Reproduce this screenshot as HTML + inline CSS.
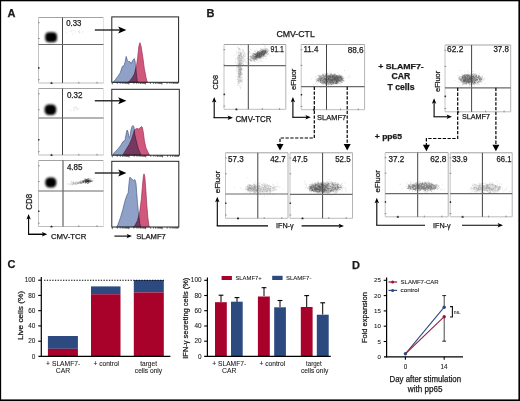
<!DOCTYPE html>
<html><head><meta charset="utf-8"><style>
html,body{margin:0;padding:0;background:#fff;}
svg{display:block;}
text{font-family:"Liberation Sans",sans-serif;fill:#1a1a1a;stroke:#1a1a1a;stroke-width:0.25px;}
</style></head><body>
<svg width="520" height="401" viewBox="0 0 520 401">
<defs>
<filter id="bl0" x="-10%" y="-10%" width="120%" height="120%"><feGaussianBlur stdDeviation="0.45"/></filter>
<filter id="bl1" x="-50%" y="-50%" width="200%" height="200%"><feGaussianBlur stdDeviation="0.8"/></filter>
</defs>
<rect x="0" y="0" width="520" height="401" fill="#fff"/>
<g filter="url(#bl0)">
<path fill="#969696" fill-opacity="0.22" d="M74.5,31.8h1.0v1.0h-1.0zM66.0,32.3h1.0v1.0h-1.0zM77.9,31.6h1.0v1.0h-1.0z"/>
<path fill="#969696" fill-opacity="0.22" d="M74.6,30.5h1.0v1.0h-1.0zM79.0,31.7h1.0v1.0h-1.0zM72.0,33.6h1.0v1.0h-1.0z"/>
<path fill="#969696" fill-opacity="0.22" d="M70.4,30.7h1.0v1.0h-1.0zM65.9,28.4h1.0v1.0h-1.0zM79.3,32.8h1.0v1.0h-1.0z"/>
<path fill="#969696" fill-opacity="0.22" d="M82.7,31.6h1.0v1.0h-1.0zM70.7,30.3h1.0v1.0h-1.0zM72.3,29.9h1.0v1.0h-1.0z"/>
<path fill="#969696" fill-opacity="0.22" d="M82.2,31.4h1.0v1.0h-1.0zM77.8,30.9h1.0v1.0h-1.0z"/>
<path fill="#969696" fill-opacity="0.22" d="M78.4,31.3h1.0v1.0h-1.0zM79.1,30.0h1.0v1.0h-1.0z"/>
<path fill="#a0a0a0" fill-opacity="0.22" d="M74.0,108.6h1.0v1.0h-1.0zM75.4,110.0h1.0v1.0h-1.0zM79.3,108.2h1.0v1.0h-1.0z"/>
<path fill="#a0a0a0" fill-opacity="0.22" d="M76.9,108.5h1.0v1.0h-1.0zM69.0,109.2h1.0v1.0h-1.0zM75.1,106.9h1.0v1.0h-1.0z"/>
<path fill="#a0a0a0" fill-opacity="0.22" d="M73.5,107.6h1.0v1.0h-1.0zM74.5,107.6h1.0v1.0h-1.0zM76.7,107.5h1.0v1.0h-1.0z"/>
<path fill="#a0a0a0" fill-opacity="0.22" d="M73.7,110.2h1.0v1.0h-1.0zM76.5,108.2h1.0v1.0h-1.0zM73.4,107.2h1.0v1.0h-1.0z"/>
<path fill="#a0a0a0" fill-opacity="0.22" d="M72.7,109.2h1.0v1.0h-1.0zM70.8,110.2h1.0v1.0h-1.0z"/>
<path fill="#a0a0a0" fill-opacity="0.22" d="M75.9,106.5h1.0v1.0h-1.0zM77.2,109.3h1.0v1.0h-1.0z"/>
<path fill="#646464" fill-opacity="0.3" d="M75.8,181.9h1.0v1.0h-1.0zM75.4,183.4h1.0v1.0h-1.0zM85.1,181.3h1.0v1.0h-1.0zM82.1,181.9h1.0v1.0h-1.0zM74.0,182.6h1.0v1.0h-1.0zM82.2,181.4h1.0v1.0h-1.0zM78.4,181.6h1.0v1.0h-1.0zM78.6,182.5h1.0v1.0h-1.0zM85.1,179.7h1.0v1.0h-1.0zM85.4,179.4h1.0v1.0h-1.0zM85.4,180.5h1.0v1.0h-1.0zM83.3,180.2h1.0v1.0h-1.0zM76.5,183.7h1.0v1.0h-1.0zM86.1,182.0h1.0v1.0h-1.0zM71.9,183.9h1.0v1.0h-1.0zM77.5,182.9h1.0v1.0h-1.0zM89.0,180.1h1.0v1.0h-1.0zM80.7,182.3h1.0v1.0h-1.0zM75.0,182.9h1.0v1.0h-1.0z"/>
<path fill="#646464" fill-opacity="0.3" d="M86.3,178.7h1.0v1.0h-1.0zM85.7,180.8h1.0v1.0h-1.0zM71.1,182.7h1.0v1.0h-1.0zM81.2,182.5h1.0v1.0h-1.0zM79.7,181.5h1.0v1.0h-1.0zM81.3,182.0h1.0v1.0h-1.0zM80.6,182.4h1.0v1.0h-1.0zM81.8,180.9h1.0v1.0h-1.0zM80.3,182.5h1.0v1.0h-1.0zM83.5,179.7h1.0v1.0h-1.0zM93.3,178.3h1.0v1.0h-1.0zM75.4,181.2h1.0v1.0h-1.0zM85.1,180.6h1.0v1.0h-1.0zM87.3,180.2h1.0v1.0h-1.0zM81.9,180.8h1.0v1.0h-1.0zM71.5,182.2h1.0v1.0h-1.0zM83.2,182.0h1.0v1.0h-1.0zM81.1,180.4h1.0v1.0h-1.0zM69.4,183.9h1.0v1.0h-1.0z"/>
<path fill="#646464" fill-opacity="0.3" d="M73.6,183.0h1.0v1.0h-1.0zM81.7,181.8h1.0v1.0h-1.0zM84.2,179.3h1.0v1.0h-1.0zM77.3,181.8h1.0v1.0h-1.0zM87.0,179.5h1.0v1.0h-1.0zM79.7,182.0h1.0v1.0h-1.0zM79.0,182.2h1.0v1.0h-1.0zM92.0,179.9h1.0v1.0h-1.0zM84.8,182.2h1.0v1.0h-1.0zM81.5,182.5h1.0v1.0h-1.0zM84.8,180.6h1.0v1.0h-1.0zM86.6,181.2h1.0v1.0h-1.0zM71.4,184.5h1.0v1.0h-1.0zM77.1,183.1h1.0v1.0h-1.0zM80.6,182.3h1.0v1.0h-1.0zM71.4,184.2h1.0v1.0h-1.0zM79.4,180.6h1.0v1.0h-1.0zM73.0,182.3h1.0v1.0h-1.0z"/>
<path fill="#646464" fill-opacity="0.3" d="M87.4,180.9h1.0v1.0h-1.0zM88.1,180.8h1.0v1.0h-1.0zM79.8,182.7h1.0v1.0h-1.0zM85.4,180.8h1.0v1.0h-1.0zM86.3,179.4h1.0v1.0h-1.0zM83.2,181.1h1.0v1.0h-1.0zM88.8,177.8h1.0v1.0h-1.0zM77.9,182.0h1.0v1.0h-1.0zM72.4,182.7h1.0v1.0h-1.0zM79.8,181.9h1.0v1.0h-1.0zM81.2,182.1h1.0v1.0h-1.0zM87.3,179.5h1.0v1.0h-1.0zM80.0,181.1h1.0v1.0h-1.0zM81.1,181.6h1.0v1.0h-1.0zM81.1,182.7h1.0v1.0h-1.0zM74.7,182.6h1.0v1.0h-1.0zM78.0,183.0h1.0v1.0h-1.0zM84.8,180.3h1.0v1.0h-1.0z"/>
<path fill="#646464" fill-opacity="0.3" d="M71.1,181.0h1.0v1.0h-1.0zM83.0,181.7h1.0v1.0h-1.0zM74.6,184.1h1.0v1.0h-1.0zM76.5,183.2h1.0v1.0h-1.0zM76.9,182.8h1.0v1.0h-1.0zM84.2,181.5h1.0v1.0h-1.0zM75.2,182.8h1.0v1.0h-1.0zM79.4,181.7h1.0v1.0h-1.0zM79.0,182.4h1.0v1.0h-1.0zM84.3,181.1h1.0v1.0h-1.0zM81.7,182.0h1.0v1.0h-1.0zM80.3,180.6h1.0v1.0h-1.0zM82.5,181.6h1.0v1.0h-1.0zM87.2,180.2h1.0v1.0h-1.0zM80.4,182.6h1.0v1.0h-1.0zM79.6,181.7h1.0v1.0h-1.0zM72.6,182.4h1.0v1.0h-1.0zM76.1,181.7h1.0v1.0h-1.0z"/>
<path fill="#646464" fill-opacity="0.3" d="M82.1,180.6h1.0v1.0h-1.0zM73.3,184.0h1.0v1.0h-1.0zM83.1,181.0h1.0v1.0h-1.0zM87.4,180.0h1.0v1.0h-1.0zM86.0,181.4h1.0v1.0h-1.0zM90.1,180.2h1.0v1.0h-1.0zM82.4,181.5h1.0v1.0h-1.0zM67.5,183.4h1.0v1.0h-1.0zM85.2,178.3h1.0v1.0h-1.0zM80.3,183.0h1.0v1.0h-1.0zM73.0,181.5h1.0v1.0h-1.0zM84.4,182.4h1.0v1.0h-1.0zM87.4,179.4h1.0v1.0h-1.0zM69.6,183.2h1.0v1.0h-1.0zM87.8,181.8h1.0v1.0h-1.0zM77.7,182.3h1.0v1.0h-1.0zM85.4,181.5h1.0v1.0h-1.0zM73.2,182.8h1.0v1.0h-1.0z"/>
<path fill="#1e1e1e" fill-opacity="0.4" d="M85.2,179.1h1.0v1.0h-1.0zM89.5,180.7h1.0v1.0h-1.0zM85.1,181.5h1.0v1.0h-1.0zM84.7,180.6h1.0v1.0h-1.0zM90.2,180.4h1.0v1.0h-1.0zM87.4,180.7h1.0v1.0h-1.0zM85.1,181.1h1.0v1.0h-1.0zM86.3,181.4h1.0v1.0h-1.0zM87.8,181.4h1.0v1.0h-1.0zM85.0,182.4h1.0v1.0h-1.0zM90.2,180.9h1.0v1.0h-1.0zM89.2,180.0h1.0v1.0h-1.0zM88.3,180.3h1.0v1.0h-1.0zM85.6,179.0h1.0v1.0h-1.0zM86.2,179.1h1.0v1.0h-1.0z"/>
<path fill="#1e1e1e" fill-opacity="0.4" d="M88.2,180.1h1.0v1.0h-1.0zM87.4,178.6h1.0v1.0h-1.0zM90.5,179.8h1.0v1.0h-1.0zM88.6,180.4h1.0v1.0h-1.0zM86.7,181.1h1.0v1.0h-1.0zM85.9,179.9h1.0v1.0h-1.0zM82.4,180.7h1.0v1.0h-1.0zM86.8,179.9h1.0v1.0h-1.0zM87.6,180.3h1.0v1.0h-1.0zM85.8,179.5h1.0v1.0h-1.0zM88.6,179.3h1.0v1.0h-1.0zM87.4,182.9h1.0v1.0h-1.0zM88.6,180.8h1.0v1.0h-1.0zM85.5,181.3h1.0v1.0h-1.0zM88.5,181.2h1.0v1.0h-1.0z"/>
<path fill="#1e1e1e" fill-opacity="0.4" d="M82.3,180.6h1.0v1.0h-1.0zM88.8,181.4h1.0v1.0h-1.0zM88.0,181.2h1.0v1.0h-1.0zM85.0,180.2h1.0v1.0h-1.0zM83.1,182.2h1.0v1.0h-1.0zM91.1,180.8h1.0v1.0h-1.0zM86.8,181.1h1.0v1.0h-1.0zM85.6,180.8h1.0v1.0h-1.0zM87.5,179.6h1.0v1.0h-1.0zM85.4,181.3h1.0v1.0h-1.0zM86.6,181.3h1.0v1.0h-1.0zM86.3,181.5h1.0v1.0h-1.0zM87.2,180.6h1.0v1.0h-1.0zM87.9,180.4h1.0v1.0h-1.0zM83.1,181.2h1.0v1.0h-1.0z"/>
<path fill="#1e1e1e" fill-opacity="0.4" d="M87.3,180.1h1.0v1.0h-1.0zM86.1,180.3h1.0v1.0h-1.0zM85.0,180.8h1.0v1.0h-1.0zM92.2,180.7h1.0v1.0h-1.0zM87.3,179.9h1.0v1.0h-1.0zM84.2,179.8h1.0v1.0h-1.0zM85.3,180.7h1.0v1.0h-1.0zM86.6,180.8h1.0v1.0h-1.0zM83.1,181.3h1.0v1.0h-1.0zM87.8,180.6h1.0v1.0h-1.0zM86.4,181.7h1.0v1.0h-1.0zM88.7,180.3h1.0v1.0h-1.0zM86.4,181.3h1.0v1.0h-1.0zM86.1,179.4h1.0v1.0h-1.0zM87.8,178.8h1.0v1.0h-1.0z"/>
<path fill="#1e1e1e" fill-opacity="0.4" d="M88.5,181.0h1.0v1.0h-1.0zM90.3,178.4h1.0v1.0h-1.0zM87.5,181.2h1.0v1.0h-1.0zM87.7,178.1h1.0v1.0h-1.0zM89.7,181.7h1.0v1.0h-1.0zM90.3,180.9h1.0v1.0h-1.0zM87.8,180.8h1.0v1.0h-1.0zM86.8,180.8h1.0v1.0h-1.0zM85.1,181.6h1.0v1.0h-1.0zM89.8,180.7h1.0v1.0h-1.0zM88.1,181.2h1.0v1.0h-1.0zM84.5,181.2h1.0v1.0h-1.0zM84.6,180.4h1.0v1.0h-1.0zM90.5,180.4h1.0v1.0h-1.0zM83.0,180.3h1.0v1.0h-1.0z"/>
<path fill="#1e1e1e" fill-opacity="0.4" d="M88.2,180.7h1.0v1.0h-1.0zM88.1,182.6h1.0v1.0h-1.0zM86.7,180.4h1.0v1.0h-1.0zM88.1,180.8h1.0v1.0h-1.0zM83.9,180.5h1.0v1.0h-1.0zM90.5,180.7h1.0v1.0h-1.0zM88.1,180.6h1.0v1.0h-1.0zM86.3,179.5h1.0v1.0h-1.0zM84.3,178.6h1.0v1.0h-1.0zM86.9,181.1h1.0v1.0h-1.0zM86.8,182.9h1.0v1.0h-1.0zM87.7,181.5h1.0v1.0h-1.0zM86.6,179.3h1.0v1.0h-1.0zM88.8,179.4h1.0v1.0h-1.0zM85.3,179.6h1.0v1.0h-1.0z"/>
<path fill="#464646" fill-opacity="0.2" d="M253.7,57.0h1.0v1.0h-1.0zM257.1,54.5h1.0v1.0h-1.0zM266.2,48.1h1.0v1.0h-1.0zM249.6,59.0h1.0v1.0h-1.0zM257.3,54.7h1.0v1.0h-1.0zM259.8,52.0h1.0v1.0h-1.0zM256.9,55.9h1.0v1.0h-1.0zM260.4,54.0h1.0v1.0h-1.0zM267.2,50.2h1.0v1.0h-1.0zM264.2,51.4h1.0v1.0h-1.0zM260.8,53.0h1.0v1.0h-1.0zM264.2,47.7h1.0v1.0h-1.0zM264.4,51.5h1.0v1.0h-1.0zM260.3,52.7h1.0v1.0h-1.0zM259.2,54.2h1.0v1.0h-1.0zM261.1,51.1h1.0v1.0h-1.0zM256.7,52.1h1.0v1.0h-1.0zM261.1,56.6h1.0v1.0h-1.0zM259.2,53.7h1.0v1.0h-1.0zM256.7,53.2h1.0v1.0h-1.0zM260.0,56.4h1.0v1.0h-1.0zM251.4,57.4h1.0v1.0h-1.0zM260.5,54.5h1.0v1.0h-1.0zM265.3,53.3h1.0v1.0h-1.0zM263.1,50.6h1.0v1.0h-1.0zM264.0,53.2h1.0v1.0h-1.0zM256.0,57.5h1.0v1.0h-1.0zM260.7,52.1h1.0v1.0h-1.0zM263.7,49.5h1.0v1.0h-1.0zM256.8,54.2h1.0v1.0h-1.0zM264.4,52.7h1.0v1.0h-1.0zM263.3,52.9h1.0v1.0h-1.0zM263.0,53.1h1.0v1.0h-1.0zM260.9,52.6h1.0v1.0h-1.0zM255.2,54.0h1.0v1.0h-1.0zM256.4,54.6h1.0v1.0h-1.0zM267.8,53.1h1.0v1.0h-1.0zM258.5,56.7h1.0v1.0h-1.0zM262.5,53.5h1.0v1.0h-1.0zM263.6,49.5h1.0v1.0h-1.0zM264.6,51.1h1.0v1.0h-1.0zM263.3,55.3h1.0v1.0h-1.0zM263.0,54.1h1.0v1.0h-1.0zM258.5,55.7h1.0v1.0h-1.0zM257.4,53.5h1.0v1.0h-1.0zM254.9,56.8h1.0v1.0h-1.0zM259.7,52.7h1.0v1.0h-1.0zM252.6,55.8h1.0v1.0h-1.0zM257.6,53.1h1.0v1.0h-1.0zM255.0,56.2h1.0v1.0h-1.0zM262.0,51.2h1.0v1.0h-1.0zM261.0,53.3h1.0v1.0h-1.0zM249.5,59.4h1.0v1.0h-1.0zM262.3,50.6h1.0v1.0h-1.0zM256.6,53.7h1.0v1.0h-1.0zM266.2,49.4h1.0v1.0h-1.0zM258.7,52.3h1.0v1.0h-1.0zM257.6,55.4h1.0v1.0h-1.0zM261.5,54.1h1.0v1.0h-1.0zM261.4,52.3h1.0v1.0h-1.0zM260.6,52.5h1.0v1.0h-1.0zM258.6,55.1h1.0v1.0h-1.0zM258.9,52.0h1.0v1.0h-1.0zM258.3,55.4h1.0v1.0h-1.0zM259.6,56.9h1.0v1.0h-1.0zM255.9,54.7h1.0v1.0h-1.0zM262.0,50.2h1.0v1.0h-1.0zM256.3,55.8h1.0v1.0h-1.0zM261.9,52.0h1.0v1.0h-1.0zM265.1,53.2h1.0v1.0h-1.0zM262.6,53.7h1.0v1.0h-1.0zM252.5,55.5h1.0v1.0h-1.0zM251.5,57.8h1.0v1.0h-1.0zM261.3,55.2h1.0v1.0h-1.0zM260.0,53.0h1.0v1.0h-1.0zM254.5,57.4h1.0v1.0h-1.0zM265.6,50.0h1.0v1.0h-1.0zM252.7,54.4h1.0v1.0h-1.0zM262.2,49.7h1.0v1.0h-1.0zM257.7,51.5h1.0v1.0h-1.0zM253.3,54.6h1.0v1.0h-1.0zM257.4,54.0h1.0v1.0h-1.0zM265.5,52.8h1.0v1.0h-1.0zM256.9,54.4h1.0v1.0h-1.0z"/>
<path fill="#464646" fill-opacity="0.2" d="M258.7,54.0h1.0v1.0h-1.0zM263.1,52.5h1.0v1.0h-1.0zM250.2,55.8h1.0v1.0h-1.0zM252.2,58.2h1.0v1.0h-1.0zM264.1,52.0h1.0v1.0h-1.0zM253.3,56.8h1.0v1.0h-1.0zM250.9,56.5h1.0v1.0h-1.0zM261.0,55.2h1.0v1.0h-1.0zM254.5,54.3h1.0v1.0h-1.0zM255.8,58.7h1.0v1.0h-1.0zM254.8,55.1h1.0v1.0h-1.0zM256.2,53.6h1.0v1.0h-1.0zM260.0,53.3h1.0v1.0h-1.0zM260.5,50.1h1.0v1.0h-1.0zM252.3,55.2h1.0v1.0h-1.0zM260.8,51.7h1.0v1.0h-1.0zM255.1,53.3h1.0v1.0h-1.0zM254.1,53.1h1.0v1.0h-1.0zM264.6,54.3h1.0v1.0h-1.0zM253.1,57.2h1.0v1.0h-1.0zM250.6,56.7h1.0v1.0h-1.0zM263.2,51.4h1.0v1.0h-1.0zM258.6,53.7h1.0v1.0h-1.0zM258.4,52.5h1.0v1.0h-1.0zM265.6,52.3h1.0v1.0h-1.0zM252.8,53.0h1.0v1.0h-1.0zM255.3,53.6h1.0v1.0h-1.0zM262.2,51.5h1.0v1.0h-1.0zM248.8,59.3h1.0v1.0h-1.0zM253.5,54.6h1.0v1.0h-1.0zM265.0,50.1h1.0v1.0h-1.0zM251.0,56.3h1.0v1.0h-1.0zM264.2,51.9h1.0v1.0h-1.0zM252.2,59.3h1.0v1.0h-1.0zM249.3,59.1h1.0v1.0h-1.0zM257.0,53.5h1.0v1.0h-1.0zM261.1,51.7h1.0v1.0h-1.0zM259.2,53.0h1.0v1.0h-1.0zM262.8,57.6h1.0v1.0h-1.0zM255.8,54.0h1.0v1.0h-1.0zM261.7,52.8h1.0v1.0h-1.0zM264.6,51.3h1.0v1.0h-1.0zM259.8,55.7h1.0v1.0h-1.0zM261.6,52.4h1.0v1.0h-1.0zM264.2,53.6h1.0v1.0h-1.0zM260.6,50.5h1.0v1.0h-1.0zM264.1,51.1h1.0v1.0h-1.0zM260.8,52.7h1.0v1.0h-1.0zM263.5,50.3h1.0v1.0h-1.0zM264.8,51.1h1.0v1.0h-1.0zM263.4,50.9h1.0v1.0h-1.0zM262.1,51.6h1.0v1.0h-1.0zM252.7,56.9h1.0v1.0h-1.0zM259.7,53.5h1.0v1.0h-1.0zM257.8,56.8h1.0v1.0h-1.0zM259.8,51.4h1.0v1.0h-1.0zM255.0,56.2h1.0v1.0h-1.0zM263.0,49.9h1.0v1.0h-1.0zM262.9,52.6h1.0v1.0h-1.0zM255.8,52.6h1.0v1.0h-1.0zM259.6,57.0h1.0v1.0h-1.0zM260.6,56.2h1.0v1.0h-1.0zM256.5,56.6h1.0v1.0h-1.0zM262.2,50.4h1.0v1.0h-1.0zM253.5,55.4h1.0v1.0h-1.0zM262.2,52.7h1.0v1.0h-1.0zM255.1,53.9h1.0v1.0h-1.0zM256.0,54.9h1.0v1.0h-1.0zM263.4,53.4h1.0v1.0h-1.0zM265.6,51.8h1.0v1.0h-1.0zM250.9,60.0h1.0v1.0h-1.0zM265.9,51.6h1.0v1.0h-1.0zM256.7,53.7h1.0v1.0h-1.0zM254.8,54.1h1.0v1.0h-1.0zM259.2,54.7h1.0v1.0h-1.0zM254.3,54.4h1.0v1.0h-1.0zM257.5,57.5h1.0v1.0h-1.0zM259.2,55.6h1.0v1.0h-1.0zM254.9,55.4h1.0v1.0h-1.0zM261.6,52.2h1.0v1.0h-1.0zM253.3,58.2h1.0v1.0h-1.0zM259.7,57.2h1.0v1.0h-1.0zM255.4,56.5h1.0v1.0h-1.0zM254.1,54.0h1.0v1.0h-1.0z"/>
<path fill="#464646" fill-opacity="0.2" d="M256.8,50.3h1.0v1.0h-1.0zM251.6,55.3h1.0v1.0h-1.0zM258.5,55.1h1.0v1.0h-1.0zM266.8,51.2h1.0v1.0h-1.0zM266.0,50.6h1.0v1.0h-1.0zM259.3,50.2h1.0v1.0h-1.0zM259.2,54.4h1.0v1.0h-1.0zM254.5,58.5h1.0v1.0h-1.0zM258.6,55.8h1.0v1.0h-1.0zM251.8,55.0h1.0v1.0h-1.0zM257.0,56.3h1.0v1.0h-1.0zM255.2,58.2h1.0v1.0h-1.0zM254.3,58.5h1.0v1.0h-1.0zM259.1,52.5h1.0v1.0h-1.0zM265.8,49.0h1.0v1.0h-1.0zM264.2,52.0h1.0v1.0h-1.0zM257.2,58.3h1.0v1.0h-1.0zM257.6,51.3h1.0v1.0h-1.0zM259.7,53.5h1.0v1.0h-1.0zM257.2,51.6h1.0v1.0h-1.0zM264.7,49.2h1.0v1.0h-1.0zM260.4,51.9h1.0v1.0h-1.0zM251.4,55.9h1.0v1.0h-1.0zM267.5,53.6h1.0v1.0h-1.0zM262.2,51.2h1.0v1.0h-1.0zM262.6,50.5h1.0v1.0h-1.0zM261.2,52.4h1.0v1.0h-1.0zM255.3,58.1h1.0v1.0h-1.0zM253.0,58.6h1.0v1.0h-1.0zM258.1,58.2h1.0v1.0h-1.0zM263.4,54.7h1.0v1.0h-1.0zM256.9,56.0h1.0v1.0h-1.0zM256.7,56.7h1.0v1.0h-1.0zM267.3,50.9h1.0v1.0h-1.0zM256.3,55.5h1.0v1.0h-1.0zM264.0,50.0h1.0v1.0h-1.0zM254.7,58.6h1.0v1.0h-1.0zM256.9,52.3h1.0v1.0h-1.0zM258.8,53.9h1.0v1.0h-1.0zM262.0,55.3h1.0v1.0h-1.0zM261.2,52.3h1.0v1.0h-1.0zM247.9,57.6h1.0v1.0h-1.0zM257.5,58.1h1.0v1.0h-1.0zM262.9,55.6h1.0v1.0h-1.0zM263.9,51.7h1.0v1.0h-1.0zM264.2,51.8h1.0v1.0h-1.0zM264.2,50.4h1.0v1.0h-1.0zM255.0,53.9h1.0v1.0h-1.0zM254.4,57.4h1.0v1.0h-1.0zM259.0,58.6h1.0v1.0h-1.0zM265.0,52.2h1.0v1.0h-1.0zM263.6,49.0h1.0v1.0h-1.0zM255.6,58.4h1.0v1.0h-1.0zM265.9,52.2h1.0v1.0h-1.0zM252.1,57.6h1.0v1.0h-1.0zM259.8,56.0h1.0v1.0h-1.0zM251.8,56.8h1.0v1.0h-1.0zM256.1,57.7h1.0v1.0h-1.0zM264.3,52.6h1.0v1.0h-1.0zM259.0,54.5h1.0v1.0h-1.0zM261.2,53.3h1.0v1.0h-1.0zM258.4,50.9h1.0v1.0h-1.0zM264.2,51.5h1.0v1.0h-1.0zM254.3,56.2h1.0v1.0h-1.0zM255.0,58.8h1.0v1.0h-1.0zM251.1,56.1h1.0v1.0h-1.0zM259.4,55.9h1.0v1.0h-1.0zM255.4,54.3h1.0v1.0h-1.0zM252.2,56.4h1.0v1.0h-1.0zM254.1,60.7h1.0v1.0h-1.0zM263.3,55.3h1.0v1.0h-1.0zM252.6,59.3h1.0v1.0h-1.0zM255.5,53.7h1.0v1.0h-1.0zM264.8,51.1h1.0v1.0h-1.0zM258.4,51.0h1.0v1.0h-1.0zM254.1,55.8h1.0v1.0h-1.0zM262.8,52.6h1.0v1.0h-1.0zM251.7,57.6h1.0v1.0h-1.0zM252.6,55.0h1.0v1.0h-1.0zM264.7,51.9h1.0v1.0h-1.0zM257.4,51.8h1.0v1.0h-1.0zM261.2,52.6h1.0v1.0h-1.0zM259.6,52.5h1.0v1.0h-1.0z"/>
<path fill="#464646" fill-opacity="0.2" d="M258.5,54.3h1.0v1.0h-1.0zM259.2,51.0h1.0v1.0h-1.0zM254.9,57.7h1.0v1.0h-1.0zM257.2,54.3h1.0v1.0h-1.0zM261.9,50.9h1.0v1.0h-1.0zM257.1,53.1h1.0v1.0h-1.0zM253.6,55.8h1.0v1.0h-1.0zM250.3,55.6h1.0v1.0h-1.0zM262.7,55.4h1.0v1.0h-1.0zM253.9,58.6h1.0v1.0h-1.0zM250.3,59.9h1.0v1.0h-1.0zM266.2,51.3h1.0v1.0h-1.0zM250.8,61.1h1.0v1.0h-1.0zM255.3,56.0h1.0v1.0h-1.0zM255.6,57.5h1.0v1.0h-1.0zM256.6,55.3h1.0v1.0h-1.0zM258.1,52.4h1.0v1.0h-1.0zM265.8,51.0h1.0v1.0h-1.0zM256.7,56.5h1.0v1.0h-1.0zM263.0,53.9h1.0v1.0h-1.0zM260.2,57.1h1.0v1.0h-1.0zM266.8,52.0h1.0v1.0h-1.0zM252.2,57.8h1.0v1.0h-1.0zM250.6,58.9h1.0v1.0h-1.0zM253.0,54.7h1.0v1.0h-1.0zM254.0,58.2h1.0v1.0h-1.0zM251.1,60.1h1.0v1.0h-1.0zM266.7,49.1h1.0v1.0h-1.0zM253.4,53.9h1.0v1.0h-1.0zM259.3,54.2h1.0v1.0h-1.0zM253.3,55.7h1.0v1.0h-1.0zM261.9,53.5h1.0v1.0h-1.0zM263.3,52.8h1.0v1.0h-1.0zM258.7,55.6h1.0v1.0h-1.0zM267.1,52.0h1.0v1.0h-1.0zM255.5,54.5h1.0v1.0h-1.0zM267.8,53.5h1.0v1.0h-1.0zM256.7,54.7h1.0v1.0h-1.0zM262.5,54.9h1.0v1.0h-1.0zM254.0,55.9h1.0v1.0h-1.0zM263.6,53.8h1.0v1.0h-1.0zM266.5,50.4h1.0v1.0h-1.0zM256.9,53.2h1.0v1.0h-1.0zM258.7,53.9h1.0v1.0h-1.0zM253.3,53.6h1.0v1.0h-1.0zM253.6,56.2h1.0v1.0h-1.0zM253.0,55.1h1.0v1.0h-1.0zM261.7,51.8h1.0v1.0h-1.0zM264.2,52.6h1.0v1.0h-1.0zM260.1,51.7h1.0v1.0h-1.0zM264.4,49.3h1.0v1.0h-1.0zM257.7,50.9h1.0v1.0h-1.0zM265.3,50.8h1.0v1.0h-1.0zM258.6,54.8h1.0v1.0h-1.0zM266.0,53.3h1.0v1.0h-1.0zM259.3,53.3h1.0v1.0h-1.0zM261.2,55.5h1.0v1.0h-1.0zM265.6,50.8h1.0v1.0h-1.0zM261.3,53.6h1.0v1.0h-1.0zM252.4,57.7h1.0v1.0h-1.0zM256.4,57.3h1.0v1.0h-1.0zM265.6,50.9h1.0v1.0h-1.0zM259.2,55.8h1.0v1.0h-1.0zM259.0,53.4h1.0v1.0h-1.0zM253.2,55.3h1.0v1.0h-1.0zM258.5,56.1h1.0v1.0h-1.0zM256.3,56.2h1.0v1.0h-1.0zM253.1,55.9h1.0v1.0h-1.0zM249.7,57.0h1.0v1.0h-1.0zM261.1,49.3h1.0v1.0h-1.0zM266.3,51.2h1.0v1.0h-1.0zM261.2,56.0h1.0v1.0h-1.0zM253.1,58.4h1.0v1.0h-1.0zM253.8,57.2h1.0v1.0h-1.0zM259.2,57.3h1.0v1.0h-1.0zM257.1,54.4h1.0v1.0h-1.0zM256.0,56.7h1.0v1.0h-1.0zM254.7,54.1h1.0v1.0h-1.0zM265.9,50.5h1.0v1.0h-1.0zM253.7,60.0h1.0v1.0h-1.0zM266.0,51.7h1.0v1.0h-1.0zM252.6,57.3h1.0v1.0h-1.0zM250.7,59.9h1.0v1.0h-1.0z"/>
<path fill="#464646" fill-opacity="0.2" d="M262.7,51.0h1.0v1.0h-1.0zM261.4,53.4h1.0v1.0h-1.0zM264.6,50.3h1.0v1.0h-1.0zM256.1,55.4h1.0v1.0h-1.0zM254.0,53.3h1.0v1.0h-1.0zM255.2,54.1h1.0v1.0h-1.0zM265.2,50.8h1.0v1.0h-1.0zM259.0,55.1h1.0v1.0h-1.0zM255.2,54.9h1.0v1.0h-1.0zM251.7,55.8h1.0v1.0h-1.0zM253.1,56.0h1.0v1.0h-1.0zM255.7,54.9h1.0v1.0h-1.0zM254.5,54.2h1.0v1.0h-1.0zM258.2,55.2h1.0v1.0h-1.0zM261.1,54.8h1.0v1.0h-1.0zM253.0,58.8h1.0v1.0h-1.0zM263.3,55.4h1.0v1.0h-1.0zM261.9,51.9h1.0v1.0h-1.0zM258.7,54.0h1.0v1.0h-1.0zM258.7,53.3h1.0v1.0h-1.0zM258.8,53.1h1.0v1.0h-1.0zM256.6,52.8h1.0v1.0h-1.0zM258.3,51.6h1.0v1.0h-1.0zM250.8,58.4h1.0v1.0h-1.0zM255.2,55.8h1.0v1.0h-1.0zM257.7,55.1h1.0v1.0h-1.0zM251.4,56.1h1.0v1.0h-1.0zM249.4,59.0h1.0v1.0h-1.0zM253.9,58.4h1.0v1.0h-1.0zM257.1,55.5h1.0v1.0h-1.0zM256.0,53.3h1.0v1.0h-1.0zM258.1,55.6h1.0v1.0h-1.0zM256.3,54.4h1.0v1.0h-1.0zM263.1,53.5h1.0v1.0h-1.0zM257.5,54.2h1.0v1.0h-1.0zM254.3,55.8h1.0v1.0h-1.0zM259.6,53.8h1.0v1.0h-1.0zM256.8,54.0h1.0v1.0h-1.0zM254.8,55.8h1.0v1.0h-1.0zM266.0,51.1h1.0v1.0h-1.0zM264.2,53.1h1.0v1.0h-1.0zM260.4,51.6h1.0v1.0h-1.0zM259.5,56.5h1.0v1.0h-1.0zM255.1,56.0h1.0v1.0h-1.0zM254.6,57.7h1.0v1.0h-1.0zM255.9,56.8h1.0v1.0h-1.0zM258.9,57.3h1.0v1.0h-1.0zM259.6,51.5h1.0v1.0h-1.0zM263.6,51.3h1.0v1.0h-1.0zM253.0,57.4h1.0v1.0h-1.0zM253.5,58.0h1.0v1.0h-1.0zM265.6,51.0h1.0v1.0h-1.0zM258.4,51.0h1.0v1.0h-1.0zM254.2,53.0h1.0v1.0h-1.0zM253.3,55.7h1.0v1.0h-1.0zM256.8,57.1h1.0v1.0h-1.0zM257.1,54.6h1.0v1.0h-1.0zM258.8,56.2h1.0v1.0h-1.0zM259.1,51.5h1.0v1.0h-1.0zM265.5,48.1h1.0v1.0h-1.0zM250.9,58.1h1.0v1.0h-1.0zM259.2,54.6h1.0v1.0h-1.0zM259.5,56.7h1.0v1.0h-1.0zM260.4,57.0h1.0v1.0h-1.0zM257.8,51.9h1.0v1.0h-1.0zM256.0,58.9h1.0v1.0h-1.0zM257.0,54.1h1.0v1.0h-1.0zM260.3,53.2h1.0v1.0h-1.0zM264.1,51.2h1.0v1.0h-1.0zM263.8,54.3h1.0v1.0h-1.0zM250.4,57.8h1.0v1.0h-1.0zM259.6,51.7h1.0v1.0h-1.0zM251.6,58.0h1.0v1.0h-1.0zM254.8,53.3h1.0v1.0h-1.0zM256.7,53.1h1.0v1.0h-1.0zM266.7,50.7h1.0v1.0h-1.0zM260.0,53.3h1.0v1.0h-1.0zM259.9,54.6h1.0v1.0h-1.0zM253.5,60.0h1.0v1.0h-1.0zM255.4,57.6h1.0v1.0h-1.0zM254.6,58.8h1.0v1.0h-1.0zM260.8,53.8h1.0v1.0h-1.0zM258.2,54.3h1.0v1.0h-1.0z"/>
<path fill="#464646" fill-opacity="0.2" d="M260.5,48.6h1.0v1.0h-1.0zM258.4,54.3h1.0v1.0h-1.0zM254.9,58.8h1.0v1.0h-1.0zM256.4,59.1h1.0v1.0h-1.0zM257.9,55.2h1.0v1.0h-1.0zM260.4,55.0h1.0v1.0h-1.0zM257.9,55.7h1.0v1.0h-1.0zM259.1,51.8h1.0v1.0h-1.0zM263.7,53.3h1.0v1.0h-1.0zM267.1,51.1h1.0v1.0h-1.0zM257.8,56.5h1.0v1.0h-1.0zM255.4,54.8h1.0v1.0h-1.0zM262.5,53.0h1.0v1.0h-1.0zM257.9,51.5h1.0v1.0h-1.0zM252.2,56.9h1.0v1.0h-1.0zM256.6,59.5h1.0v1.0h-1.0zM257.1,55.7h1.0v1.0h-1.0zM263.9,50.5h1.0v1.0h-1.0zM257.1,51.5h1.0v1.0h-1.0zM265.2,55.8h1.0v1.0h-1.0zM264.0,55.8h1.0v1.0h-1.0zM261.0,49.2h1.0v1.0h-1.0zM254.6,54.8h1.0v1.0h-1.0zM252.6,58.0h1.0v1.0h-1.0zM260.6,51.4h1.0v1.0h-1.0zM257.4,56.1h1.0v1.0h-1.0zM263.8,52.4h1.0v1.0h-1.0zM255.9,56.8h1.0v1.0h-1.0zM261.9,53.9h1.0v1.0h-1.0zM262.8,54.8h1.0v1.0h-1.0zM252.9,56.2h1.0v1.0h-1.0zM260.2,55.5h1.0v1.0h-1.0zM263.7,55.9h1.0v1.0h-1.0zM253.5,59.1h1.0v1.0h-1.0zM263.3,53.1h1.0v1.0h-1.0zM257.0,55.2h1.0v1.0h-1.0zM265.4,54.6h1.0v1.0h-1.0zM256.5,54.7h1.0v1.0h-1.0zM252.8,57.3h1.0v1.0h-1.0zM264.7,50.5h1.0v1.0h-1.0zM255.1,56.5h1.0v1.0h-1.0zM261.3,50.6h1.0v1.0h-1.0zM255.8,55.9h1.0v1.0h-1.0zM263.9,50.2h1.0v1.0h-1.0zM260.4,54.7h1.0v1.0h-1.0zM252.1,57.9h1.0v1.0h-1.0zM262.2,53.6h1.0v1.0h-1.0zM251.6,57.1h1.0v1.0h-1.0zM264.0,53.6h1.0v1.0h-1.0zM251.3,56.3h1.0v1.0h-1.0zM260.6,53.9h1.0v1.0h-1.0zM255.1,54.8h1.0v1.0h-1.0zM255.6,58.0h1.0v1.0h-1.0zM252.6,57.2h1.0v1.0h-1.0zM257.3,52.6h1.0v1.0h-1.0zM266.7,51.4h1.0v1.0h-1.0zM255.3,55.4h1.0v1.0h-1.0zM252.1,57.7h1.0v1.0h-1.0zM259.4,53.4h1.0v1.0h-1.0zM258.7,57.0h1.0v1.0h-1.0zM261.7,55.0h1.0v1.0h-1.0zM260.6,56.6h1.0v1.0h-1.0zM262.5,50.1h1.0v1.0h-1.0zM256.5,57.3h1.0v1.0h-1.0zM257.4,53.3h1.0v1.0h-1.0zM257.6,53.1h1.0v1.0h-1.0zM257.1,56.9h1.0v1.0h-1.0zM261.4,50.4h1.0v1.0h-1.0zM258.0,55.9h1.0v1.0h-1.0zM266.8,49.0h1.0v1.0h-1.0zM253.5,53.0h1.0v1.0h-1.0zM251.3,57.0h1.0v1.0h-1.0zM258.7,50.2h1.0v1.0h-1.0zM256.0,57.3h1.0v1.0h-1.0zM265.1,52.4h1.0v1.0h-1.0zM262.1,54.5h1.0v1.0h-1.0zM267.1,51.7h1.0v1.0h-1.0zM256.8,52.7h1.0v1.0h-1.0zM263.4,54.8h1.0v1.0h-1.0zM263.9,50.2h1.0v1.0h-1.0zM251.7,57.1h1.0v1.0h-1.0zM261.0,54.6h1.0v1.0h-1.0zM256.7,52.9h1.0v1.0h-1.0z"/>
<path fill="#323232" fill-opacity="0.2" d="M264.9,49.9h1.0v1.0h-1.0zM260.0,50.1h1.0v1.0h-1.0zM255.3,57.4h1.0v1.0h-1.0zM260.3,53.8h1.0v1.0h-1.0zM254.8,56.0h1.0v1.0h-1.0zM255.0,57.7h1.0v1.0h-1.0zM262.9,49.5h1.0v1.0h-1.0zM261.0,52.6h1.0v1.0h-1.0zM256.4,56.6h1.0v1.0h-1.0zM264.2,53.0h1.0v1.0h-1.0zM260.9,51.5h1.0v1.0h-1.0zM259.4,54.9h1.0v1.0h-1.0zM263.1,52.3h1.0v1.0h-1.0zM262.7,54.8h1.0v1.0h-1.0zM261.7,52.0h1.0v1.0h-1.0zM263.9,53.4h1.0v1.0h-1.0zM263.3,52.2h1.0v1.0h-1.0zM259.6,53.1h1.0v1.0h-1.0zM262.4,51.4h1.0v1.0h-1.0zM262.7,48.5h1.0v1.0h-1.0zM259.7,55.0h1.0v1.0h-1.0zM260.3,54.4h1.0v1.0h-1.0zM255.9,55.8h1.0v1.0h-1.0zM259.1,52.0h1.0v1.0h-1.0zM258.0,53.4h1.0v1.0h-1.0zM264.9,51.1h1.0v1.0h-1.0zM264.4,51.8h1.0v1.0h-1.0zM261.4,52.2h1.0v1.0h-1.0zM262.9,50.5h1.0v1.0h-1.0zM261.0,53.5h1.0v1.0h-1.0zM258.8,54.9h1.0v1.0h-1.0zM261.9,51.3h1.0v1.0h-1.0zM257.0,52.5h1.0v1.0h-1.0zM262.4,54.0h1.0v1.0h-1.0zM253.9,56.2h1.0v1.0h-1.0zM255.5,52.9h1.0v1.0h-1.0zM254.7,54.4h1.0v1.0h-1.0zM264.8,50.3h1.0v1.0h-1.0zM263.3,53.2h1.0v1.0h-1.0zM261.0,53.7h1.0v1.0h-1.0zM261.2,55.0h1.0v1.0h-1.0zM256.9,55.1h1.0v1.0h-1.0z"/>
<path fill="#323232" fill-opacity="0.2" d="M261.6,56.3h1.0v1.0h-1.0zM260.1,50.0h1.0v1.0h-1.0zM260.5,52.2h1.0v1.0h-1.0zM261.3,50.4h1.0v1.0h-1.0zM264.8,50.9h1.0v1.0h-1.0zM254.6,57.6h1.0v1.0h-1.0zM256.1,54.9h1.0v1.0h-1.0zM263.2,53.8h1.0v1.0h-1.0zM258.8,53.8h1.0v1.0h-1.0zM259.8,56.5h1.0v1.0h-1.0zM261.6,51.5h1.0v1.0h-1.0zM256.8,53.0h1.0v1.0h-1.0zM261.0,53.1h1.0v1.0h-1.0zM263.3,52.7h1.0v1.0h-1.0zM265.7,52.2h1.0v1.0h-1.0zM263.9,52.4h1.0v1.0h-1.0zM255.1,54.0h1.0v1.0h-1.0zM258.4,57.1h1.0v1.0h-1.0zM257.3,53.2h1.0v1.0h-1.0zM257.6,53.3h1.0v1.0h-1.0zM258.4,55.9h1.0v1.0h-1.0zM256.0,56.3h1.0v1.0h-1.0zM256.8,55.1h1.0v1.0h-1.0zM261.8,51.6h1.0v1.0h-1.0zM259.4,52.2h1.0v1.0h-1.0zM260.9,51.6h1.0v1.0h-1.0zM257.0,51.8h1.0v1.0h-1.0zM261.0,51.6h1.0v1.0h-1.0zM260.4,55.6h1.0v1.0h-1.0zM260.8,56.1h1.0v1.0h-1.0zM261.7,51.5h1.0v1.0h-1.0zM259.0,53.1h1.0v1.0h-1.0zM260.7,53.4h1.0v1.0h-1.0zM253.8,54.1h1.0v1.0h-1.0zM261.5,53.8h1.0v1.0h-1.0zM257.2,53.9h1.0v1.0h-1.0zM259.1,55.8h1.0v1.0h-1.0zM258.3,53.0h1.0v1.0h-1.0zM262.9,53.5h1.0v1.0h-1.0zM263.8,53.8h1.0v1.0h-1.0zM256.7,53.6h1.0v1.0h-1.0zM261.3,53.1h1.0v1.0h-1.0z"/>
<path fill="#323232" fill-opacity="0.2" d="M260.8,55.4h1.0v1.0h-1.0zM258.2,53.6h1.0v1.0h-1.0zM264.9,51.4h1.0v1.0h-1.0zM262.0,49.5h1.0v1.0h-1.0zM263.5,54.1h1.0v1.0h-1.0zM265.3,52.1h1.0v1.0h-1.0zM256.0,56.0h1.0v1.0h-1.0zM257.6,56.0h1.0v1.0h-1.0zM264.7,52.9h1.0v1.0h-1.0zM258.4,52.6h1.0v1.0h-1.0zM257.1,54.9h1.0v1.0h-1.0zM260.3,53.1h1.0v1.0h-1.0zM261.6,50.4h1.0v1.0h-1.0zM258.7,52.9h1.0v1.0h-1.0zM259.6,52.9h1.0v1.0h-1.0zM263.3,52.3h1.0v1.0h-1.0zM263.5,50.9h1.0v1.0h-1.0zM262.2,53.5h1.0v1.0h-1.0zM260.0,56.1h1.0v1.0h-1.0zM257.9,55.4h1.0v1.0h-1.0zM261.8,56.6h1.0v1.0h-1.0zM256.1,56.6h1.0v1.0h-1.0zM256.6,57.1h1.0v1.0h-1.0zM261.6,53.1h1.0v1.0h-1.0zM263.7,53.5h1.0v1.0h-1.0zM264.2,50.3h1.0v1.0h-1.0zM258.6,53.6h1.0v1.0h-1.0zM257.6,56.1h1.0v1.0h-1.0zM256.0,55.1h1.0v1.0h-1.0zM261.3,53.7h1.0v1.0h-1.0zM263.0,54.3h1.0v1.0h-1.0zM256.6,54.2h1.0v1.0h-1.0zM258.8,56.1h1.0v1.0h-1.0zM261.6,53.0h1.0v1.0h-1.0zM258.0,54.9h1.0v1.0h-1.0zM262.8,51.2h1.0v1.0h-1.0zM257.5,55.6h1.0v1.0h-1.0zM262.1,52.8h1.0v1.0h-1.0zM257.2,55.6h1.0v1.0h-1.0zM262.2,50.6h1.0v1.0h-1.0zM256.4,56.2h1.0v1.0h-1.0zM256.6,53.4h1.0v1.0h-1.0z"/>
<path fill="#323232" fill-opacity="0.2" d="M263.9,50.7h1.0v1.0h-1.0zM264.6,51.7h1.0v1.0h-1.0zM261.7,54.2h1.0v1.0h-1.0zM257.5,53.5h1.0v1.0h-1.0zM263.2,50.6h1.0v1.0h-1.0zM257.6,55.0h1.0v1.0h-1.0zM262.6,55.8h1.0v1.0h-1.0zM259.3,52.8h1.0v1.0h-1.0zM257.4,53.0h1.0v1.0h-1.0zM262.4,55.6h1.0v1.0h-1.0zM261.1,52.3h1.0v1.0h-1.0zM256.4,57.3h1.0v1.0h-1.0zM259.5,53.1h1.0v1.0h-1.0zM259.3,54.0h1.0v1.0h-1.0zM259.9,55.9h1.0v1.0h-1.0zM260.4,53.8h1.0v1.0h-1.0zM259.5,53.4h1.0v1.0h-1.0zM260.9,55.3h1.0v1.0h-1.0zM262.4,51.1h1.0v1.0h-1.0zM262.0,51.9h1.0v1.0h-1.0zM260.7,51.8h1.0v1.0h-1.0zM262.5,52.3h1.0v1.0h-1.0zM259.4,54.8h1.0v1.0h-1.0zM263.3,51.7h1.0v1.0h-1.0zM265.4,53.0h1.0v1.0h-1.0zM258.3,56.7h1.0v1.0h-1.0zM255.0,56.1h1.0v1.0h-1.0zM256.7,54.0h1.0v1.0h-1.0zM260.0,55.0h1.0v1.0h-1.0zM264.6,52.2h1.0v1.0h-1.0zM262.7,53.6h1.0v1.0h-1.0zM258.5,54.4h1.0v1.0h-1.0zM260.9,51.8h1.0v1.0h-1.0zM258.0,53.4h1.0v1.0h-1.0zM256.2,55.4h1.0v1.0h-1.0zM264.2,50.7h1.0v1.0h-1.0zM254.8,56.4h1.0v1.0h-1.0zM259.4,54.1h1.0v1.0h-1.0zM259.1,55.2h1.0v1.0h-1.0zM257.1,55.6h1.0v1.0h-1.0zM258.7,53.8h1.0v1.0h-1.0zM262.2,53.8h1.0v1.0h-1.0z"/>
<path fill="#323232" fill-opacity="0.2" d="M255.6,54.1h1.0v1.0h-1.0zM258.0,55.2h1.0v1.0h-1.0zM255.5,53.8h1.0v1.0h-1.0zM259.8,53.7h1.0v1.0h-1.0zM261.0,51.5h1.0v1.0h-1.0zM263.4,55.0h1.0v1.0h-1.0zM259.2,55.0h1.0v1.0h-1.0zM259.6,56.3h1.0v1.0h-1.0zM259.1,54.4h1.0v1.0h-1.0zM258.4,53.5h1.0v1.0h-1.0zM260.7,51.7h1.0v1.0h-1.0zM259.4,55.2h1.0v1.0h-1.0zM258.4,53.0h1.0v1.0h-1.0zM259.2,54.2h1.0v1.0h-1.0zM259.8,54.2h1.0v1.0h-1.0zM260.2,53.7h1.0v1.0h-1.0zM260.6,52.2h1.0v1.0h-1.0zM260.7,50.8h1.0v1.0h-1.0zM256.6,53.6h1.0v1.0h-1.0zM264.9,52.0h1.0v1.0h-1.0zM258.7,56.7h1.0v1.0h-1.0zM259.1,55.1h1.0v1.0h-1.0zM258.1,56.3h1.0v1.0h-1.0zM264.4,51.1h1.0v1.0h-1.0zM258.5,52.4h1.0v1.0h-1.0zM257.7,53.5h1.0v1.0h-1.0zM262.4,51.5h1.0v1.0h-1.0zM256.4,56.3h1.0v1.0h-1.0zM254.5,57.6h1.0v1.0h-1.0zM258.5,52.1h1.0v1.0h-1.0zM261.3,53.8h1.0v1.0h-1.0zM259.1,53.4h1.0v1.0h-1.0zM263.3,53.7h1.0v1.0h-1.0zM256.5,57.0h1.0v1.0h-1.0zM262.0,52.9h1.0v1.0h-1.0zM256.4,54.6h1.0v1.0h-1.0zM261.1,53.7h1.0v1.0h-1.0zM260.8,54.0h1.0v1.0h-1.0zM255.1,57.8h1.0v1.0h-1.0zM263.9,53.1h1.0v1.0h-1.0zM258.4,52.0h1.0v1.0h-1.0z"/>
<path fill="#323232" fill-opacity="0.2" d="M257.0,52.7h1.0v1.0h-1.0zM262.3,51.9h1.0v1.0h-1.0zM262.3,51.8h1.0v1.0h-1.0zM262.3,50.5h1.0v1.0h-1.0zM260.0,56.4h1.0v1.0h-1.0zM258.3,56.1h1.0v1.0h-1.0zM257.1,56.5h1.0v1.0h-1.0zM256.8,55.9h1.0v1.0h-1.0zM261.5,53.4h1.0v1.0h-1.0zM264.4,52.7h1.0v1.0h-1.0zM257.8,57.0h1.0v1.0h-1.0zM256.4,54.6h1.0v1.0h-1.0zM261.9,52.1h1.0v1.0h-1.0zM258.9,55.2h1.0v1.0h-1.0zM257.3,51.8h1.0v1.0h-1.0zM257.2,54.4h1.0v1.0h-1.0zM265.2,51.5h1.0v1.0h-1.0zM260.9,51.1h1.0v1.0h-1.0zM260.3,51.4h1.0v1.0h-1.0zM262.9,52.0h1.0v1.0h-1.0zM256.7,53.0h1.0v1.0h-1.0zM260.8,54.0h1.0v1.0h-1.0zM254.2,55.9h1.0v1.0h-1.0zM257.4,55.6h1.0v1.0h-1.0zM262.0,49.2h1.0v1.0h-1.0zM261.9,54.5h1.0v1.0h-1.0zM257.4,54.7h1.0v1.0h-1.0zM259.5,53.6h1.0v1.0h-1.0zM258.2,54.7h1.0v1.0h-1.0zM256.1,55.9h1.0v1.0h-1.0zM256.3,55.2h1.0v1.0h-1.0zM259.0,54.7h1.0v1.0h-1.0zM257.9,53.8h1.0v1.0h-1.0zM263.2,54.5h1.0v1.0h-1.0zM255.8,55.7h1.0v1.0h-1.0zM262.5,54.2h1.0v1.0h-1.0zM261.1,55.0h1.0v1.0h-1.0zM255.2,54.4h1.0v1.0h-1.0zM260.7,55.1h1.0v1.0h-1.0zM264.9,51.6h1.0v1.0h-1.0zM258.6,52.7h1.0v1.0h-1.0z"/>
<path fill="#5a5a5a" fill-opacity="0.2" d="M266.7,49.5h1.0v1.0h-1.0zM258.3,55.1h1.0v1.0h-1.0zM264.8,46.6h1.0v1.0h-1.0zM252.9,56.5h1.0v1.0h-1.0zM255.4,56.7h1.0v1.0h-1.0zM257.0,53.4h1.0v1.0h-1.0zM252.4,60.1h1.0v1.0h-1.0zM248.7,62.3h1.0v1.0h-1.0zM265.0,50.6h1.0v1.0h-1.0zM264.6,46.5h1.0v1.0h-1.0zM254.3,59.7h1.0v1.0h-1.0zM261.1,54.4h1.0v1.0h-1.0zM255.0,50.6h1.0v1.0h-1.0zM249.6,56.0h1.0v1.0h-1.0zM258.4,60.2h1.0v1.0h-1.0zM257.9,54.1h1.0v1.0h-1.0zM252.1,53.9h1.0v1.0h-1.0zM268.2,50.3h1.0v1.0h-1.0zM260.0,59.7h1.0v1.0h-1.0zM258.4,53.8h1.0v1.0h-1.0zM254.3,56.9h1.0v1.0h-1.0zM255.5,51.7h1.0v1.0h-1.0zM261.7,54.2h1.0v1.0h-1.0zM263.5,51.6h1.0v1.0h-1.0zM250.2,55.7h1.0v1.0h-1.0z"/>
<path fill="#5a5a5a" fill-opacity="0.2" d="M259.2,54.4h1.0v1.0h-1.0zM257.0,53.7h1.0v1.0h-1.0zM268.0,49.8h1.0v1.0h-1.0zM257.1,55.5h1.0v1.0h-1.0zM263.9,51.2h1.0v1.0h-1.0zM243.5,56.2h1.0v1.0h-1.0zM248.0,53.8h1.0v1.0h-1.0zM265.9,58.1h1.0v1.0h-1.0zM264.8,49.0h1.0v1.0h-1.0zM255.2,61.2h1.0v1.0h-1.0zM260.4,53.1h1.0v1.0h-1.0zM257.6,62.0h1.0v1.0h-1.0zM258.6,57.0h1.0v1.0h-1.0zM257.3,56.2h1.0v1.0h-1.0zM259.1,55.6h1.0v1.0h-1.0zM258.5,52.4h1.0v1.0h-1.0zM255.0,54.5h1.0v1.0h-1.0zM269.4,55.3h1.0v1.0h-1.0zM257.6,58.1h1.0v1.0h-1.0zM250.0,53.3h1.0v1.0h-1.0zM259.6,57.5h1.0v1.0h-1.0zM264.4,45.3h1.0v1.0h-1.0zM262.1,51.0h1.0v1.0h-1.0zM258.0,55.2h1.0v1.0h-1.0zM265.3,55.9h1.0v1.0h-1.0z"/>
<path fill="#5a5a5a" fill-opacity="0.2" d="M261.3,60.8h1.0v1.0h-1.0zM265.5,50.1h1.0v1.0h-1.0zM247.3,58.0h1.0v1.0h-1.0zM257.2,54.4h1.0v1.0h-1.0zM256.5,56.7h1.0v1.0h-1.0zM257.4,54.6h1.0v1.0h-1.0zM254.1,50.8h1.0v1.0h-1.0zM250.4,60.4h1.0v1.0h-1.0zM262.8,43.2h1.0v1.0h-1.0zM256.5,48.6h1.0v1.0h-1.0zM249.5,58.1h1.0v1.0h-1.0zM261.7,53.1h1.0v1.0h-1.0zM266.0,51.7h1.0v1.0h-1.0zM258.4,54.8h1.0v1.0h-1.0zM257.0,58.5h1.0v1.0h-1.0zM261.5,48.2h1.0v1.0h-1.0zM259.5,55.2h1.0v1.0h-1.0zM253.5,61.1h1.0v1.0h-1.0zM256.9,52.9h1.0v1.0h-1.0zM258.0,55.6h1.0v1.0h-1.0zM259.3,54.9h1.0v1.0h-1.0zM258.6,53.2h1.0v1.0h-1.0zM256.7,54.1h1.0v1.0h-1.0zM252.5,54.2h1.0v1.0h-1.0zM265.1,49.4h1.0v1.0h-1.0z"/>
<path fill="#5a5a5a" fill-opacity="0.2" d="M261.0,58.2h1.0v1.0h-1.0zM263.5,57.6h1.0v1.0h-1.0zM250.0,58.7h1.0v1.0h-1.0zM260.1,48.3h1.0v1.0h-1.0zM253.6,50.5h1.0v1.0h-1.0zM260.1,54.4h1.0v1.0h-1.0zM264.9,48.0h1.0v1.0h-1.0zM258.6,57.3h1.0v1.0h-1.0zM256.5,52.8h1.0v1.0h-1.0zM257.7,50.9h1.0v1.0h-1.0zM244.5,59.6h1.0v1.0h-1.0zM250.1,48.8h1.0v1.0h-1.0zM259.6,56.5h1.0v1.0h-1.0zM256.2,57.1h1.0v1.0h-1.0zM254.0,53.4h1.0v1.0h-1.0zM254.5,54.1h1.0v1.0h-1.0zM262.6,52.1h1.0v1.0h-1.0zM265.4,55.6h1.0v1.0h-1.0zM259.7,56.1h1.0v1.0h-1.0zM255.3,56.7h1.0v1.0h-1.0zM254.8,59.3h1.0v1.0h-1.0zM263.1,50.8h1.0v1.0h-1.0zM253.4,57.9h1.0v1.0h-1.0zM263.7,52.5h1.0v1.0h-1.0zM259.7,51.4h1.0v1.0h-1.0z"/>
<path fill="#5a5a5a" fill-opacity="0.2" d="M263.6,49.9h1.0v1.0h-1.0zM262.2,56.1h1.0v1.0h-1.0zM248.2,56.3h1.0v1.0h-1.0zM255.0,56.7h1.0v1.0h-1.0zM258.4,53.3h1.0v1.0h-1.0zM253.2,52.9h1.0v1.0h-1.0zM256.9,54.5h1.0v1.0h-1.0zM255.7,58.3h1.0v1.0h-1.0zM258.9,57.8h1.0v1.0h-1.0zM267.0,54.1h1.0v1.0h-1.0zM249.2,63.2h1.0v1.0h-1.0zM261.4,56.3h1.0v1.0h-1.0zM264.6,50.4h1.0v1.0h-1.0zM263.3,54.7h1.0v1.0h-1.0zM256.6,54.0h1.0v1.0h-1.0zM261.0,53.4h1.0v1.0h-1.0zM252.1,54.2h1.0v1.0h-1.0zM258.7,57.6h1.0v1.0h-1.0zM254.5,58.6h1.0v1.0h-1.0zM249.8,60.2h1.0v1.0h-1.0zM263.1,50.5h1.0v1.0h-1.0zM258.5,56.5h1.0v1.0h-1.0zM261.6,57.7h1.0v1.0h-1.0zM255.4,51.9h1.0v1.0h-1.0zM259.8,52.6h1.0v1.0h-1.0z"/>
<path fill="#5a5a5a" fill-opacity="0.2" d="M260.7,52.1h1.0v1.0h-1.0zM266.4,54.2h1.0v1.0h-1.0zM259.3,54.6h1.0v1.0h-1.0zM254.6,54.6h1.0v1.0h-1.0zM255.3,58.2h1.0v1.0h-1.0zM251.4,57.6h1.0v1.0h-1.0zM250.7,52.5h1.0v1.0h-1.0zM263.1,54.2h1.0v1.0h-1.0zM261.5,53.3h1.0v1.0h-1.0zM256.3,59.9h1.0v1.0h-1.0zM249.0,51.1h1.0v1.0h-1.0zM252.4,52.8h1.0v1.0h-1.0zM249.8,56.2h1.0v1.0h-1.0zM265.1,50.2h1.0v1.0h-1.0zM261.5,51.7h1.0v1.0h-1.0zM259.7,52.8h1.0v1.0h-1.0zM258.3,55.8h1.0v1.0h-1.0zM254.8,56.1h1.0v1.0h-1.0zM252.5,54.6h1.0v1.0h-1.0zM260.1,54.6h1.0v1.0h-1.0zM261.3,54.1h1.0v1.0h-1.0zM259.2,52.4h1.0v1.0h-1.0zM256.3,56.9h1.0v1.0h-1.0zM259.7,57.8h1.0v1.0h-1.0zM260.3,58.1h1.0v1.0h-1.0z"/>
<path fill="#828282" fill-opacity="0.25" d="M239.8,66.1h1.0v1.0h-1.0zM242.3,69.5h1.0v1.0h-1.0zM240.7,68.0h1.0v1.0h-1.0zM241.0,68.0h1.0v1.0h-1.0zM237.8,66.5h1.0v1.0h-1.0zM240.3,66.3h1.0v1.0h-1.0zM238.1,72.7h1.0v1.0h-1.0zM240.2,66.8h1.0v1.0h-1.0zM241.2,73.9h1.0v1.0h-1.0zM241.4,64.4h1.0v1.0h-1.0zM238.3,56.3h1.0v1.0h-1.0zM240.9,64.3h1.0v1.0h-1.0zM239.6,52.9h1.0v1.0h-1.0zM240.8,54.8h1.0v1.0h-1.0zM240.3,68.1h1.0v1.0h-1.0zM238.9,75.5h1.0v1.0h-1.0zM239.3,60.7h1.0v1.0h-1.0zM240.0,54.2h1.0v1.0h-1.0zM239.9,72.0h1.0v1.0h-1.0zM239.6,74.5h1.0v1.0h-1.0zM239.7,53.1h1.0v1.0h-1.0zM238.7,67.6h1.0v1.0h-1.0zM239.5,64.3h1.0v1.0h-1.0zM238.5,74.3h1.0v1.0h-1.0zM240.3,74.5h1.0v1.0h-1.0zM240.3,70.1h1.0v1.0h-1.0zM238.4,71.3h1.0v1.0h-1.0zM238.6,64.0h1.0v1.0h-1.0zM239.4,77.0h1.0v1.0h-1.0zM240.4,60.1h1.0v1.0h-1.0zM238.6,73.3h1.0v1.0h-1.0zM240.6,44.9h1.0v1.0h-1.0zM239.9,61.3h1.0v1.0h-1.0zM238.1,65.4h1.0v1.0h-1.0zM239.6,62.5h1.0v1.0h-1.0zM240.5,62.5h1.0v1.0h-1.0zM237.3,76.3h1.0v1.0h-1.0zM237.7,73.2h1.0v1.0h-1.0zM242.2,51.2h1.0v1.0h-1.0zM237.6,68.0h1.0v1.0h-1.0zM237.6,81.9h1.0v1.0h-1.0zM237.9,57.4h1.0v1.0h-1.0zM239.0,55.0h1.0v1.0h-1.0zM239.0,55.8h1.0v1.0h-1.0zM240.2,74.9h1.0v1.0h-1.0zM239.8,72.8h1.0v1.0h-1.0zM238.6,68.9h1.0v1.0h-1.0zM239.0,60.6h1.0v1.0h-1.0zM238.5,70.8h1.0v1.0h-1.0zM237.9,84.3h1.0v1.0h-1.0zM237.7,80.9h1.0v1.0h-1.0zM238.6,73.8h1.0v1.0h-1.0zM241.4,73.3h1.0v1.0h-1.0zM241.7,77.7h1.0v1.0h-1.0zM239.8,68.6h1.0v1.0h-1.0zM237.3,85.1h1.0v1.0h-1.0zM238.2,78.5h1.0v1.0h-1.0zM238.8,74.9h1.0v1.0h-1.0zM239.7,58.6h1.0v1.0h-1.0zM238.6,63.4h1.0v1.0h-1.0zM239.3,79.0h1.0v1.0h-1.0zM237.1,60.2h1.0v1.0h-1.0zM239.3,61.9h1.0v1.0h-1.0zM243.3,58.2h1.0v1.0h-1.0z"/>
<path fill="#828282" fill-opacity="0.25" d="M239.5,70.1h1.0v1.0h-1.0zM239.5,77.1h1.0v1.0h-1.0zM239.9,88.2h1.0v1.0h-1.0zM239.3,76.8h1.0v1.0h-1.0zM239.7,66.2h1.0v1.0h-1.0zM240.5,65.1h1.0v1.0h-1.0zM240.7,56.2h1.0v1.0h-1.0zM241.7,75.9h1.0v1.0h-1.0zM238.4,61.6h1.0v1.0h-1.0zM239.5,76.4h1.0v1.0h-1.0zM240.0,72.1h1.0v1.0h-1.0zM238.2,77.8h1.0v1.0h-1.0zM238.3,59.2h1.0v1.0h-1.0zM238.7,65.2h1.0v1.0h-1.0zM239.2,80.5h1.0v1.0h-1.0zM238.5,68.8h1.0v1.0h-1.0zM238.6,68.3h1.0v1.0h-1.0zM240.7,73.9h1.0v1.0h-1.0zM238.9,66.1h1.0v1.0h-1.0zM238.2,58.6h1.0v1.0h-1.0zM238.8,48.3h1.0v1.0h-1.0zM241.6,61.2h1.0v1.0h-1.0zM240.5,71.4h1.0v1.0h-1.0zM241.9,59.8h1.0v1.0h-1.0zM238.7,63.4h1.0v1.0h-1.0zM239.5,63.7h1.0v1.0h-1.0zM240.0,72.2h1.0v1.0h-1.0zM237.5,70.8h1.0v1.0h-1.0zM240.1,67.7h1.0v1.0h-1.0zM241.4,68.9h1.0v1.0h-1.0zM239.0,70.7h1.0v1.0h-1.0zM239.1,54.7h1.0v1.0h-1.0zM240.7,55.1h1.0v1.0h-1.0zM238.3,79.8h1.0v1.0h-1.0zM239.8,69.3h1.0v1.0h-1.0zM241.0,60.3h1.0v1.0h-1.0zM239.0,63.3h1.0v1.0h-1.0zM238.9,69.5h1.0v1.0h-1.0zM238.3,71.2h1.0v1.0h-1.0zM241.3,83.7h1.0v1.0h-1.0zM239.5,69.7h1.0v1.0h-1.0zM238.0,73.0h1.0v1.0h-1.0zM239.5,74.1h1.0v1.0h-1.0zM239.1,83.1h1.0v1.0h-1.0zM236.7,46.7h1.0v1.0h-1.0zM240.1,70.7h1.0v1.0h-1.0zM238.8,65.6h1.0v1.0h-1.0zM240.8,81.1h1.0v1.0h-1.0zM237.7,64.1h1.0v1.0h-1.0zM238.2,65.5h1.0v1.0h-1.0zM238.5,76.0h1.0v1.0h-1.0zM237.7,81.4h1.0v1.0h-1.0zM239.9,72.6h1.0v1.0h-1.0zM238.7,70.1h1.0v1.0h-1.0zM239.6,69.2h1.0v1.0h-1.0zM238.3,71.2h1.0v1.0h-1.0zM240.8,71.6h1.0v1.0h-1.0zM241.6,62.5h1.0v1.0h-1.0zM241.5,68.5h1.0v1.0h-1.0zM238.7,72.4h1.0v1.0h-1.0zM240.7,81.3h1.0v1.0h-1.0zM238.3,63.6h1.0v1.0h-1.0zM239.2,56.5h1.0v1.0h-1.0zM238.0,72.6h1.0v1.0h-1.0z"/>
<path fill="#828282" fill-opacity="0.25" d="M238.8,69.6h1.0v1.0h-1.0zM236.5,66.6h1.0v1.0h-1.0zM238.9,75.4h1.0v1.0h-1.0zM237.6,63.2h1.0v1.0h-1.0zM239.5,72.8h1.0v1.0h-1.0zM241.9,73.7h1.0v1.0h-1.0zM238.6,60.1h1.0v1.0h-1.0zM238.7,65.8h1.0v1.0h-1.0zM238.4,55.3h1.0v1.0h-1.0zM240.2,66.6h1.0v1.0h-1.0zM239.6,74.1h1.0v1.0h-1.0zM238.7,69.9h1.0v1.0h-1.0zM238.5,48.0h1.0v1.0h-1.0zM240.9,68.9h1.0v1.0h-1.0zM239.6,67.9h1.0v1.0h-1.0zM239.9,69.1h1.0v1.0h-1.0zM240.8,63.6h1.0v1.0h-1.0zM240.1,79.7h1.0v1.0h-1.0zM238.8,63.6h1.0v1.0h-1.0zM237.5,56.6h1.0v1.0h-1.0zM239.7,61.4h1.0v1.0h-1.0zM238.6,69.3h1.0v1.0h-1.0zM238.5,68.6h1.0v1.0h-1.0zM239.0,65.4h1.0v1.0h-1.0zM241.2,73.6h1.0v1.0h-1.0zM239.8,69.9h1.0v1.0h-1.0zM240.0,67.3h1.0v1.0h-1.0zM239.3,63.8h1.0v1.0h-1.0zM240.0,62.4h1.0v1.0h-1.0zM237.4,57.4h1.0v1.0h-1.0zM239.8,85.4h1.0v1.0h-1.0zM239.8,62.4h1.0v1.0h-1.0zM239.9,65.0h1.0v1.0h-1.0zM239.9,52.2h1.0v1.0h-1.0zM239.4,62.7h1.0v1.0h-1.0zM238.5,83.1h1.0v1.0h-1.0zM238.7,73.8h1.0v1.0h-1.0zM237.2,65.8h1.0v1.0h-1.0zM238.7,50.1h1.0v1.0h-1.0zM240.9,68.0h1.0v1.0h-1.0zM236.8,67.7h1.0v1.0h-1.0zM239.3,74.4h1.0v1.0h-1.0zM238.7,67.5h1.0v1.0h-1.0zM239.8,66.8h1.0v1.0h-1.0zM238.3,79.7h1.0v1.0h-1.0zM238.8,76.7h1.0v1.0h-1.0zM239.6,70.7h1.0v1.0h-1.0zM239.3,67.6h1.0v1.0h-1.0zM239.1,48.5h1.0v1.0h-1.0zM239.6,71.6h1.0v1.0h-1.0zM240.9,63.1h1.0v1.0h-1.0zM238.5,66.4h1.0v1.0h-1.0zM240.3,70.2h1.0v1.0h-1.0zM239.4,52.2h1.0v1.0h-1.0zM239.0,57.1h1.0v1.0h-1.0zM239.4,73.8h1.0v1.0h-1.0zM239.3,66.1h1.0v1.0h-1.0zM240.7,62.8h1.0v1.0h-1.0zM237.9,74.1h1.0v1.0h-1.0zM241.2,59.9h1.0v1.0h-1.0zM238.4,68.5h1.0v1.0h-1.0zM239.9,66.6h1.0v1.0h-1.0zM240.5,73.4h1.0v1.0h-1.0z"/>
<path fill="#828282" fill-opacity="0.25" d="M240.1,80.4h1.0v1.0h-1.0zM235.7,69.2h1.0v1.0h-1.0zM238.4,77.9h1.0v1.0h-1.0zM240.0,72.5h1.0v1.0h-1.0zM238.3,63.5h1.0v1.0h-1.0zM239.6,68.9h1.0v1.0h-1.0zM240.1,72.0h1.0v1.0h-1.0zM239.1,62.3h1.0v1.0h-1.0zM240.8,68.5h1.0v1.0h-1.0zM236.8,79.0h1.0v1.0h-1.0zM240.0,69.0h1.0v1.0h-1.0zM239.2,68.2h1.0v1.0h-1.0zM240.1,80.9h1.0v1.0h-1.0zM239.3,61.7h1.0v1.0h-1.0zM241.5,80.3h1.0v1.0h-1.0zM239.7,71.0h1.0v1.0h-1.0zM240.1,69.5h1.0v1.0h-1.0zM240.1,54.6h1.0v1.0h-1.0zM239.3,76.4h1.0v1.0h-1.0zM239.7,74.6h1.0v1.0h-1.0zM238.6,79.7h1.0v1.0h-1.0zM240.4,74.5h1.0v1.0h-1.0zM239.0,63.1h1.0v1.0h-1.0zM237.8,71.1h1.0v1.0h-1.0zM239.6,59.5h1.0v1.0h-1.0zM240.2,76.5h1.0v1.0h-1.0zM239.3,81.1h1.0v1.0h-1.0zM240.4,86.9h1.0v1.0h-1.0zM240.3,79.7h1.0v1.0h-1.0zM240.4,65.9h1.0v1.0h-1.0zM238.0,74.1h1.0v1.0h-1.0zM238.7,61.5h1.0v1.0h-1.0zM241.2,63.0h1.0v1.0h-1.0zM239.6,75.1h1.0v1.0h-1.0zM238.2,69.9h1.0v1.0h-1.0zM238.9,66.3h1.0v1.0h-1.0zM241.2,64.8h1.0v1.0h-1.0zM239.7,60.7h1.0v1.0h-1.0zM239.7,74.5h1.0v1.0h-1.0zM239.6,63.1h1.0v1.0h-1.0zM241.8,56.3h1.0v1.0h-1.0zM238.1,72.6h1.0v1.0h-1.0zM237.3,57.6h1.0v1.0h-1.0zM240.6,65.0h1.0v1.0h-1.0zM239.4,73.3h1.0v1.0h-1.0zM240.0,76.4h1.0v1.0h-1.0zM238.5,48.1h1.0v1.0h-1.0zM240.5,57.5h1.0v1.0h-1.0zM240.1,74.0h1.0v1.0h-1.0zM241.1,59.4h1.0v1.0h-1.0zM238.3,69.0h1.0v1.0h-1.0zM238.3,80.9h1.0v1.0h-1.0zM239.2,55.3h1.0v1.0h-1.0zM239.0,70.3h1.0v1.0h-1.0zM239.9,71.1h1.0v1.0h-1.0zM243.2,63.9h1.0v1.0h-1.0zM237.4,73.2h1.0v1.0h-1.0zM239.9,71.9h1.0v1.0h-1.0zM237.6,62.5h1.0v1.0h-1.0zM239.9,53.6h1.0v1.0h-1.0zM239.8,66.4h1.0v1.0h-1.0zM239.5,64.3h1.0v1.0h-1.0zM239.3,62.5h1.0v1.0h-1.0z"/>
<path fill="#828282" fill-opacity="0.25" d="M236.9,58.5h1.0v1.0h-1.0zM238.8,64.1h1.0v1.0h-1.0zM240.5,69.1h1.0v1.0h-1.0zM241.6,82.0h1.0v1.0h-1.0zM237.3,77.1h1.0v1.0h-1.0zM239.2,74.4h1.0v1.0h-1.0zM238.5,59.1h1.0v1.0h-1.0zM239.5,75.6h1.0v1.0h-1.0zM238.6,56.7h1.0v1.0h-1.0zM240.1,64.6h1.0v1.0h-1.0zM238.4,72.6h1.0v1.0h-1.0zM239.1,63.8h1.0v1.0h-1.0zM239.1,73.8h1.0v1.0h-1.0zM239.5,68.3h1.0v1.0h-1.0zM240.1,67.1h1.0v1.0h-1.0zM238.1,59.3h1.0v1.0h-1.0zM239.0,60.6h1.0v1.0h-1.0zM239.5,71.5h1.0v1.0h-1.0zM237.5,65.3h1.0v1.0h-1.0zM238.9,62.7h1.0v1.0h-1.0zM240.9,71.8h1.0v1.0h-1.0zM238.3,67.0h1.0v1.0h-1.0zM238.8,76.3h1.0v1.0h-1.0zM239.3,70.2h1.0v1.0h-1.0zM240.4,72.1h1.0v1.0h-1.0zM239.8,63.8h1.0v1.0h-1.0zM241.4,57.1h1.0v1.0h-1.0zM241.1,77.1h1.0v1.0h-1.0zM239.0,72.3h1.0v1.0h-1.0zM240.7,56.0h1.0v1.0h-1.0zM240.9,59.3h1.0v1.0h-1.0zM239.7,64.4h1.0v1.0h-1.0zM238.6,57.6h1.0v1.0h-1.0zM239.4,71.7h1.0v1.0h-1.0zM240.4,49.2h1.0v1.0h-1.0zM237.5,60.1h1.0v1.0h-1.0zM241.3,80.5h1.0v1.0h-1.0zM239.7,81.0h1.0v1.0h-1.0zM238.5,79.4h1.0v1.0h-1.0zM240.7,62.6h1.0v1.0h-1.0zM236.6,66.7h1.0v1.0h-1.0zM238.9,68.7h1.0v1.0h-1.0zM239.9,78.1h1.0v1.0h-1.0zM239.8,69.6h1.0v1.0h-1.0zM240.1,75.0h1.0v1.0h-1.0zM236.4,75.9h1.0v1.0h-1.0zM238.5,72.3h1.0v1.0h-1.0zM238.4,76.9h1.0v1.0h-1.0zM240.7,56.6h1.0v1.0h-1.0zM240.4,69.2h1.0v1.0h-1.0zM238.2,75.1h1.0v1.0h-1.0zM240.4,78.3h1.0v1.0h-1.0zM241.9,57.6h1.0v1.0h-1.0zM240.8,58.4h1.0v1.0h-1.0zM240.1,78.0h1.0v1.0h-1.0zM239.2,63.2h1.0v1.0h-1.0zM238.2,64.0h1.0v1.0h-1.0zM238.0,76.2h1.0v1.0h-1.0zM236.8,79.0h1.0v1.0h-1.0zM241.2,67.3h1.0v1.0h-1.0zM241.2,62.3h1.0v1.0h-1.0zM239.3,71.9h1.0v1.0h-1.0zM238.9,62.7h1.0v1.0h-1.0z"/>
<path fill="#828282" fill-opacity="0.25" d="M237.9,75.0h1.0v1.0h-1.0zM239.8,63.4h1.0v1.0h-1.0zM240.6,80.8h1.0v1.0h-1.0zM239.8,71.5h1.0v1.0h-1.0zM238.1,54.5h1.0v1.0h-1.0zM241.8,64.7h1.0v1.0h-1.0zM240.2,51.8h1.0v1.0h-1.0zM237.6,66.2h1.0v1.0h-1.0zM238.9,64.0h1.0v1.0h-1.0zM239.3,60.5h1.0v1.0h-1.0zM240.8,73.0h1.0v1.0h-1.0zM237.3,83.0h1.0v1.0h-1.0zM240.1,58.2h1.0v1.0h-1.0zM240.3,78.9h1.0v1.0h-1.0zM238.7,76.4h1.0v1.0h-1.0zM239.2,82.1h1.0v1.0h-1.0zM239.2,62.3h1.0v1.0h-1.0zM238.6,59.2h1.0v1.0h-1.0zM241.3,70.5h1.0v1.0h-1.0zM239.9,72.8h1.0v1.0h-1.0zM239.7,69.3h1.0v1.0h-1.0zM239.1,58.4h1.0v1.0h-1.0zM238.9,54.7h1.0v1.0h-1.0zM242.0,65.9h1.0v1.0h-1.0zM242.0,79.5h1.0v1.0h-1.0zM240.3,80.1h1.0v1.0h-1.0zM236.4,71.4h1.0v1.0h-1.0zM238.9,73.1h1.0v1.0h-1.0zM237.5,75.3h1.0v1.0h-1.0zM239.3,75.6h1.0v1.0h-1.0zM239.5,86.0h1.0v1.0h-1.0zM238.3,66.2h1.0v1.0h-1.0zM241.7,72.8h1.0v1.0h-1.0zM239.3,69.6h1.0v1.0h-1.0zM238.8,78.5h1.0v1.0h-1.0zM238.0,66.9h1.0v1.0h-1.0zM241.0,70.3h1.0v1.0h-1.0zM239.7,62.7h1.0v1.0h-1.0zM240.0,77.3h1.0v1.0h-1.0zM239.5,51.9h1.0v1.0h-1.0zM238.8,66.4h1.0v1.0h-1.0zM240.5,68.3h1.0v1.0h-1.0zM239.0,54.9h1.0v1.0h-1.0zM239.9,56.5h1.0v1.0h-1.0zM238.6,63.4h1.0v1.0h-1.0zM236.5,69.7h1.0v1.0h-1.0zM238.4,71.4h1.0v1.0h-1.0zM240.5,64.1h1.0v1.0h-1.0zM237.9,61.6h1.0v1.0h-1.0zM238.0,69.2h1.0v1.0h-1.0zM239.6,61.9h1.0v1.0h-1.0zM240.2,68.7h1.0v1.0h-1.0zM236.8,62.3h1.0v1.0h-1.0zM236.7,55.4h1.0v1.0h-1.0zM237.9,49.3h1.0v1.0h-1.0zM239.7,72.2h1.0v1.0h-1.0zM240.6,60.6h1.0v1.0h-1.0zM241.6,68.4h1.0v1.0h-1.0zM242.1,62.9h1.0v1.0h-1.0zM238.6,80.2h1.0v1.0h-1.0zM240.6,78.9h1.0v1.0h-1.0zM240.3,61.7h1.0v1.0h-1.0zM237.5,81.1h1.0v1.0h-1.0z"/>
<path fill="#969696" fill-opacity="0.25" d="M242.2,48.9h1.0v1.0h-1.0zM244.0,55.6h1.0v1.0h-1.0zM241.1,55.3h1.0v1.0h-1.0zM241.8,60.9h1.0v1.0h-1.0zM245.2,54.6h1.0v1.0h-1.0zM235.4,57.9h1.0v1.0h-1.0zM240.2,60.3h1.0v1.0h-1.0zM243.2,55.1h1.0v1.0h-1.0zM236.1,64.4h1.0v1.0h-1.0zM240.9,56.2h1.0v1.0h-1.0zM240.5,55.7h1.0v1.0h-1.0zM242.4,56.2h1.0v1.0h-1.0zM240.2,54.4h1.0v1.0h-1.0zM244.4,55.7h1.0v1.0h-1.0zM236.2,51.7h1.0v1.0h-1.0zM240.6,52.7h1.0v1.0h-1.0zM237.3,57.6h1.0v1.0h-1.0zM233.9,55.2h1.0v1.0h-1.0zM242.8,50.7h1.0v1.0h-1.0z"/>
<path fill="#969696" fill-opacity="0.25" d="M235.1,58.4h1.0v1.0h-1.0zM240.4,53.6h1.0v1.0h-1.0zM237.4,57.1h1.0v1.0h-1.0zM239.6,58.3h1.0v1.0h-1.0zM238.1,51.9h1.0v1.0h-1.0zM246.7,53.6h1.0v1.0h-1.0zM236.0,53.5h1.0v1.0h-1.0zM238.2,54.9h1.0v1.0h-1.0zM238.2,51.8h1.0v1.0h-1.0zM238.7,55.0h1.0v1.0h-1.0zM243.3,57.4h1.0v1.0h-1.0zM242.8,63.7h1.0v1.0h-1.0zM244.3,44.9h1.0v1.0h-1.0zM239.6,53.8h1.0v1.0h-1.0zM242.3,60.5h1.0v1.0h-1.0zM241.4,53.0h1.0v1.0h-1.0zM243.9,53.2h1.0v1.0h-1.0zM240.6,58.6h1.0v1.0h-1.0zM242.7,61.2h1.0v1.0h-1.0z"/>
<path fill="#969696" fill-opacity="0.25" d="M234.9,62.4h1.0v1.0h-1.0zM238.7,52.7h1.0v1.0h-1.0zM239.6,48.9h1.0v1.0h-1.0zM243.4,53.8h1.0v1.0h-1.0zM242.4,52.1h1.0v1.0h-1.0zM242.8,61.8h1.0v1.0h-1.0zM239.1,54.6h1.0v1.0h-1.0zM242.4,56.5h1.0v1.0h-1.0zM243.2,50.9h1.0v1.0h-1.0zM239.1,55.9h1.0v1.0h-1.0zM242.9,55.2h1.0v1.0h-1.0zM245.7,62.2h1.0v1.0h-1.0zM244.1,60.8h1.0v1.0h-1.0zM240.0,50.4h1.0v1.0h-1.0zM237.3,53.4h1.0v1.0h-1.0zM243.2,58.8h1.0v1.0h-1.0zM240.9,57.5h1.0v1.0h-1.0zM239.7,59.7h1.0v1.0h-1.0z"/>
<path fill="#969696" fill-opacity="0.25" d="M239.1,56.4h1.0v1.0h-1.0zM240.5,64.3h1.0v1.0h-1.0zM236.9,64.7h1.0v1.0h-1.0zM241.0,52.7h1.0v1.0h-1.0zM245.6,61.8h1.0v1.0h-1.0zM237.8,54.5h1.0v1.0h-1.0zM242.5,53.2h1.0v1.0h-1.0zM242.1,58.6h1.0v1.0h-1.0zM238.1,60.7h1.0v1.0h-1.0zM242.7,50.3h1.0v1.0h-1.0zM240.2,55.7h1.0v1.0h-1.0zM239.9,65.2h1.0v1.0h-1.0zM240.3,58.5h1.0v1.0h-1.0zM236.7,63.5h1.0v1.0h-1.0zM237.5,58.9h1.0v1.0h-1.0zM238.6,58.6h1.0v1.0h-1.0zM242.7,58.0h1.0v1.0h-1.0zM244.2,52.2h1.0v1.0h-1.0z"/>
<path fill="#969696" fill-opacity="0.25" d="M240.5,53.5h1.0v1.0h-1.0zM243.6,57.1h1.0v1.0h-1.0zM241.1,58.2h1.0v1.0h-1.0zM242.2,54.3h1.0v1.0h-1.0zM242.0,49.6h1.0v1.0h-1.0zM241.3,58.1h1.0v1.0h-1.0zM248.2,52.8h1.0v1.0h-1.0zM238.0,51.8h1.0v1.0h-1.0zM238.2,67.3h1.0v1.0h-1.0zM237.9,46.6h1.0v1.0h-1.0zM235.3,60.9h1.0v1.0h-1.0zM238.0,55.6h1.0v1.0h-1.0zM237.8,61.0h1.0v1.0h-1.0zM240.5,58.5h1.0v1.0h-1.0zM241.5,56.1h1.0v1.0h-1.0zM240.7,52.8h1.0v1.0h-1.0zM243.9,59.4h1.0v1.0h-1.0zM239.0,57.2h1.0v1.0h-1.0z"/>
<path fill="#969696" fill-opacity="0.25" d="M240.1,54.7h1.0v1.0h-1.0zM245.2,60.6h1.0v1.0h-1.0zM241.1,53.9h1.0v1.0h-1.0zM243.7,52.6h1.0v1.0h-1.0zM240.4,52.7h1.0v1.0h-1.0zM237.3,57.0h1.0v1.0h-1.0zM242.9,60.6h1.0v1.0h-1.0zM244.5,53.8h1.0v1.0h-1.0zM240.8,68.1h1.0v1.0h-1.0zM244.7,55.7h1.0v1.0h-1.0zM236.1,51.5h1.0v1.0h-1.0zM243.3,55.0h1.0v1.0h-1.0zM249.1,51.9h1.0v1.0h-1.0zM241.4,58.1h1.0v1.0h-1.0zM238.7,57.5h1.0v1.0h-1.0zM237.9,48.5h1.0v1.0h-1.0zM238.4,57.8h1.0v1.0h-1.0zM241.9,56.6h1.0v1.0h-1.0z"/>
<path fill="#414141" fill-opacity="0.27" d="M317.9,79.3h1.0v1.0h-1.0zM320.7,79.1h1.0v1.0h-1.0zM330.9,82.1h1.0v1.0h-1.0zM343.0,79.7h1.0v1.0h-1.0zM322.1,82.6h1.0v1.0h-1.0zM323.5,75.0h1.0v1.0h-1.0zM320.9,77.9h1.0v1.0h-1.0zM334.3,76.1h1.0v1.0h-1.0zM322.9,83.4h1.0v1.0h-1.0zM329.0,83.9h1.0v1.0h-1.0zM342.5,78.6h1.0v1.0h-1.0zM341.0,79.4h1.0v1.0h-1.0zM332.0,81.1h1.0v1.0h-1.0zM327.6,80.7h1.0v1.0h-1.0zM331.3,79.4h1.0v1.0h-1.0zM325.1,80.1h1.0v1.0h-1.0zM321.9,81.4h1.0v1.0h-1.0zM321.8,80.6h1.0v1.0h-1.0zM332.5,82.1h1.0v1.0h-1.0zM328.3,78.9h1.0v1.0h-1.0zM319.6,75.4h1.0v1.0h-1.0zM325.3,76.6h1.0v1.0h-1.0zM322.7,75.5h1.0v1.0h-1.0zM330.5,74.5h1.0v1.0h-1.0zM331.6,78.4h1.0v1.0h-1.0zM320.7,76.1h1.0v1.0h-1.0zM342.8,77.9h1.0v1.0h-1.0zM320.9,82.7h1.0v1.0h-1.0zM320.5,80.2h1.0v1.0h-1.0zM328.2,77.6h1.0v1.0h-1.0zM325.6,84.0h1.0v1.0h-1.0zM326.3,76.4h1.0v1.0h-1.0zM335.8,81.0h1.0v1.0h-1.0zM321.1,80.4h1.0v1.0h-1.0zM325.7,76.3h1.0v1.0h-1.0zM331.3,78.0h1.0v1.0h-1.0zM317.7,74.7h1.0v1.0h-1.0zM331.2,76.6h1.0v1.0h-1.0zM332.9,77.0h1.0v1.0h-1.0zM321.7,81.1h1.0v1.0h-1.0zM322.2,79.7h1.0v1.0h-1.0zM334.7,76.6h1.0v1.0h-1.0zM323.7,82.0h1.0v1.0h-1.0zM329.4,73.8h1.0v1.0h-1.0zM319.9,81.5h1.0v1.0h-1.0zM326.5,76.0h1.0v1.0h-1.0zM330.1,81.6h1.0v1.0h-1.0zM337.5,75.4h1.0v1.0h-1.0zM336.6,77.7h1.0v1.0h-1.0zM340.0,81.3h1.0v1.0h-1.0zM341.7,77.6h1.0v1.0h-1.0zM339.8,79.1h1.0v1.0h-1.0zM322.3,74.9h1.0v1.0h-1.0zM323.0,82.2h1.0v1.0h-1.0zM330.7,77.1h1.0v1.0h-1.0zM334.7,83.5h1.0v1.0h-1.0zM330.9,78.0h1.0v1.0h-1.0zM334.2,76.9h1.0v1.0h-1.0zM331.9,80.2h1.0v1.0h-1.0zM331.1,77.5h1.0v1.0h-1.0zM325.0,74.0h1.0v1.0h-1.0zM338.0,77.3h1.0v1.0h-1.0zM326.5,81.1h1.0v1.0h-1.0zM325.8,79.9h1.0v1.0h-1.0zM322.9,74.6h1.0v1.0h-1.0zM324.1,80.9h1.0v1.0h-1.0zM324.3,81.9h1.0v1.0h-1.0zM336.2,79.5h1.0v1.0h-1.0zM336.1,79.9h1.0v1.0h-1.0zM318.9,80.2h1.0v1.0h-1.0zM339.9,76.6h1.0v1.0h-1.0zM340.6,76.6h1.0v1.0h-1.0zM335.9,80.8h1.0v1.0h-1.0zM337.8,81.8h1.0v1.0h-1.0zM326.7,79.0h1.0v1.0h-1.0zM328.1,78.3h1.0v1.0h-1.0zM329.4,75.2h1.0v1.0h-1.0zM331.7,79.4h1.0v1.0h-1.0zM319.2,75.7h1.0v1.0h-1.0zM322.0,79.5h1.0v1.0h-1.0zM336.8,75.6h1.0v1.0h-1.0zM323.1,81.1h1.0v1.0h-1.0zM326.7,76.3h1.0v1.0h-1.0zM330.6,76.4h1.0v1.0h-1.0zM331.2,78.5h1.0v1.0h-1.0zM332.5,74.0h1.0v1.0h-1.0zM319.9,80.4h1.0v1.0h-1.0zM319.3,75.9h1.0v1.0h-1.0zM316.6,80.1h1.0v1.0h-1.0zM321.1,76.1h1.0v1.0h-1.0zM334.1,78.7h1.0v1.0h-1.0zM331.3,76.4h1.0v1.0h-1.0zM334.9,79.5h1.0v1.0h-1.0zM330.0,75.4h1.0v1.0h-1.0zM336.3,83.0h1.0v1.0h-1.0zM329.7,82.1h1.0v1.0h-1.0zM331.6,74.2h1.0v1.0h-1.0zM326.7,76.8h1.0v1.0h-1.0zM326.6,81.4h1.0v1.0h-1.0zM328.2,75.4h1.0v1.0h-1.0zM340.9,77.3h1.0v1.0h-1.0zM331.2,83.5h1.0v1.0h-1.0zM340.1,77.4h1.0v1.0h-1.0zM331.3,74.0h1.0v1.0h-1.0zM324.6,80.0h1.0v1.0h-1.0zM328.8,79.4h1.0v1.0h-1.0zM334.8,80.2h1.0v1.0h-1.0zM340.3,79.6h1.0v1.0h-1.0zM335.7,82.6h1.0v1.0h-1.0z"/>
<path fill="#414141" fill-opacity="0.27" d="M335.3,80.8h1.0v1.0h-1.0zM318.5,78.9h1.0v1.0h-1.0zM325.7,83.5h1.0v1.0h-1.0zM320.8,79.1h1.0v1.0h-1.0zM323.7,76.1h1.0v1.0h-1.0zM340.4,76.7h1.0v1.0h-1.0zM340.0,75.6h1.0v1.0h-1.0zM333.1,78.8h1.0v1.0h-1.0zM326.9,72.8h1.0v1.0h-1.0zM325.4,78.1h1.0v1.0h-1.0zM329.5,78.9h1.0v1.0h-1.0zM329.6,77.3h1.0v1.0h-1.0zM326.6,81.2h1.0v1.0h-1.0zM339.8,75.5h1.0v1.0h-1.0zM335.0,77.4h1.0v1.0h-1.0zM331.2,75.1h1.0v1.0h-1.0zM333.0,74.5h1.0v1.0h-1.0zM328.7,78.2h1.0v1.0h-1.0zM323.1,75.4h1.0v1.0h-1.0zM338.6,79.5h1.0v1.0h-1.0zM321.1,78.9h1.0v1.0h-1.0zM326.6,75.2h1.0v1.0h-1.0zM322.6,79.5h1.0v1.0h-1.0zM323.3,76.2h1.0v1.0h-1.0zM330.4,77.1h1.0v1.0h-1.0zM329.8,81.6h1.0v1.0h-1.0zM337.7,80.1h1.0v1.0h-1.0zM324.9,82.8h1.0v1.0h-1.0zM320.0,79.9h1.0v1.0h-1.0zM319.7,79.2h1.0v1.0h-1.0zM336.9,80.4h1.0v1.0h-1.0zM329.7,77.7h1.0v1.0h-1.0zM341.8,78.7h1.0v1.0h-1.0zM326.7,79.1h1.0v1.0h-1.0zM336.1,80.8h1.0v1.0h-1.0zM339.2,75.0h1.0v1.0h-1.0zM328.1,78.5h1.0v1.0h-1.0zM328.8,78.8h1.0v1.0h-1.0zM330.0,77.4h1.0v1.0h-1.0zM324.5,77.0h1.0v1.0h-1.0zM331.8,76.3h1.0v1.0h-1.0zM332.2,77.0h1.0v1.0h-1.0zM339.0,80.6h1.0v1.0h-1.0zM323.5,78.9h1.0v1.0h-1.0zM322.9,81.0h1.0v1.0h-1.0zM331.2,79.5h1.0v1.0h-1.0zM328.3,84.7h1.0v1.0h-1.0zM336.4,80.8h1.0v1.0h-1.0zM334.8,80.8h1.0v1.0h-1.0zM330.2,79.7h1.0v1.0h-1.0zM335.1,82.7h1.0v1.0h-1.0zM329.0,80.9h1.0v1.0h-1.0zM329.0,79.5h1.0v1.0h-1.0zM321.8,77.0h1.0v1.0h-1.0zM340.0,80.3h1.0v1.0h-1.0zM329.7,81.0h1.0v1.0h-1.0zM324.3,75.7h1.0v1.0h-1.0zM333.2,81.3h1.0v1.0h-1.0zM320.4,79.2h1.0v1.0h-1.0zM326.7,81.1h1.0v1.0h-1.0zM327.3,78.9h1.0v1.0h-1.0zM336.5,78.7h1.0v1.0h-1.0zM336.4,82.0h1.0v1.0h-1.0zM318.2,80.1h1.0v1.0h-1.0zM333.4,78.9h1.0v1.0h-1.0zM327.1,80.9h1.0v1.0h-1.0zM326.3,81.1h1.0v1.0h-1.0zM331.8,83.9h1.0v1.0h-1.0zM325.4,74.9h1.0v1.0h-1.0zM320.0,78.7h1.0v1.0h-1.0zM322.3,77.3h1.0v1.0h-1.0zM324.2,81.4h1.0v1.0h-1.0zM337.6,79.8h1.0v1.0h-1.0zM342.4,76.2h1.0v1.0h-1.0zM324.5,80.7h1.0v1.0h-1.0zM333.4,83.5h1.0v1.0h-1.0zM322.9,77.4h1.0v1.0h-1.0zM328.3,75.0h1.0v1.0h-1.0zM330.3,81.4h1.0v1.0h-1.0zM340.1,78.4h1.0v1.0h-1.0zM340.9,78.5h1.0v1.0h-1.0zM321.2,78.2h1.0v1.0h-1.0zM324.1,78.6h1.0v1.0h-1.0zM332.2,83.1h1.0v1.0h-1.0zM334.6,80.9h1.0v1.0h-1.0zM339.8,76.4h1.0v1.0h-1.0zM320.6,77.2h1.0v1.0h-1.0zM319.7,75.3h1.0v1.0h-1.0zM337.4,77.9h1.0v1.0h-1.0zM332.0,75.9h1.0v1.0h-1.0zM318.2,77.2h1.0v1.0h-1.0zM327.9,73.4h1.0v1.0h-1.0zM335.8,77.3h1.0v1.0h-1.0zM323.6,81.5h1.0v1.0h-1.0zM327.1,73.8h1.0v1.0h-1.0zM325.6,83.4h1.0v1.0h-1.0zM322.5,80.8h1.0v1.0h-1.0zM330.6,78.9h1.0v1.0h-1.0zM320.7,75.1h1.0v1.0h-1.0zM320.9,75.1h1.0v1.0h-1.0zM336.0,82.8h1.0v1.0h-1.0zM324.2,83.2h1.0v1.0h-1.0zM330.7,73.7h1.0v1.0h-1.0zM338.5,79.6h1.0v1.0h-1.0zM336.0,79.5h1.0v1.0h-1.0zM333.7,73.1h1.0v1.0h-1.0zM327.0,79.2h1.0v1.0h-1.0zM319.3,78.6h1.0v1.0h-1.0zM324.9,78.3h1.0v1.0h-1.0z"/>
<path fill="#414141" fill-opacity="0.27" d="M333.8,77.8h1.0v1.0h-1.0zM334.3,78.0h1.0v1.0h-1.0zM319.9,79.8h1.0v1.0h-1.0zM325.7,78.5h1.0v1.0h-1.0zM329.4,82.0h1.0v1.0h-1.0zM337.3,76.7h1.0v1.0h-1.0zM327.8,75.0h1.0v1.0h-1.0zM339.1,75.7h1.0v1.0h-1.0zM320.7,81.7h1.0v1.0h-1.0zM335.5,78.9h1.0v1.0h-1.0zM326.3,77.8h1.0v1.0h-1.0zM334.3,76.2h1.0v1.0h-1.0zM327.9,78.0h1.0v1.0h-1.0zM333.3,76.0h1.0v1.0h-1.0zM324.3,80.4h1.0v1.0h-1.0zM330.3,83.0h1.0v1.0h-1.0zM338.2,79.8h1.0v1.0h-1.0zM335.9,79.3h1.0v1.0h-1.0zM329.0,77.6h1.0v1.0h-1.0zM339.1,76.9h1.0v1.0h-1.0zM316.6,79.5h1.0v1.0h-1.0zM341.1,78.0h1.0v1.0h-1.0zM327.7,83.9h1.0v1.0h-1.0zM336.9,74.7h1.0v1.0h-1.0zM329.0,81.6h1.0v1.0h-1.0zM318.4,77.3h1.0v1.0h-1.0zM339.7,75.6h1.0v1.0h-1.0zM326.0,74.7h1.0v1.0h-1.0zM334.5,78.9h1.0v1.0h-1.0zM334.8,82.8h1.0v1.0h-1.0zM328.7,76.9h1.0v1.0h-1.0zM319.7,79.6h1.0v1.0h-1.0zM328.2,76.7h1.0v1.0h-1.0zM329.0,79.2h1.0v1.0h-1.0zM330.6,73.8h1.0v1.0h-1.0zM319.9,80.5h1.0v1.0h-1.0zM322.5,79.7h1.0v1.0h-1.0zM321.6,75.1h1.0v1.0h-1.0zM341.2,78.5h1.0v1.0h-1.0zM340.9,80.4h1.0v1.0h-1.0zM326.2,80.9h1.0v1.0h-1.0zM321.9,74.9h1.0v1.0h-1.0zM322.2,82.2h1.0v1.0h-1.0zM327.8,80.3h1.0v1.0h-1.0zM341.0,75.3h1.0v1.0h-1.0zM335.5,82.7h1.0v1.0h-1.0zM330.5,75.4h1.0v1.0h-1.0zM336.3,82.2h1.0v1.0h-1.0zM339.1,77.2h1.0v1.0h-1.0zM338.2,74.7h1.0v1.0h-1.0zM320.5,78.3h1.0v1.0h-1.0zM326.5,78.6h1.0v1.0h-1.0zM321.2,79.5h1.0v1.0h-1.0zM328.7,83.1h1.0v1.0h-1.0zM324.2,82.0h1.0v1.0h-1.0zM324.8,80.9h1.0v1.0h-1.0zM334.5,81.9h1.0v1.0h-1.0zM317.4,80.4h1.0v1.0h-1.0zM324.1,81.6h1.0v1.0h-1.0zM336.8,77.9h1.0v1.0h-1.0zM328.1,82.4h1.0v1.0h-1.0zM329.2,80.5h1.0v1.0h-1.0zM327.9,83.1h1.0v1.0h-1.0zM329.8,73.9h1.0v1.0h-1.0zM335.5,79.4h1.0v1.0h-1.0zM325.0,83.3h1.0v1.0h-1.0zM333.9,74.9h1.0v1.0h-1.0zM316.7,78.9h1.0v1.0h-1.0zM334.8,76.3h1.0v1.0h-1.0zM328.1,79.8h1.0v1.0h-1.0zM324.5,77.2h1.0v1.0h-1.0zM324.7,82.3h1.0v1.0h-1.0zM323.3,82.6h1.0v1.0h-1.0zM332.1,81.0h1.0v1.0h-1.0zM327.6,79.6h1.0v1.0h-1.0zM329.4,75.9h1.0v1.0h-1.0zM327.8,77.4h1.0v1.0h-1.0zM321.7,79.3h1.0v1.0h-1.0zM330.5,76.3h1.0v1.0h-1.0zM336.3,77.8h1.0v1.0h-1.0zM328.7,79.5h1.0v1.0h-1.0zM339.4,77.1h1.0v1.0h-1.0zM323.0,82.0h1.0v1.0h-1.0zM328.6,77.4h1.0v1.0h-1.0zM326.6,80.0h1.0v1.0h-1.0zM319.5,77.6h1.0v1.0h-1.0zM333.0,82.1h1.0v1.0h-1.0zM325.2,82.7h1.0v1.0h-1.0zM322.6,78.7h1.0v1.0h-1.0zM315.4,79.1h1.0v1.0h-1.0zM340.9,80.6h1.0v1.0h-1.0zM341.9,82.2h1.0v1.0h-1.0zM333.3,77.5h1.0v1.0h-1.0zM334.1,79.6h1.0v1.0h-1.0zM329.6,79.0h1.0v1.0h-1.0zM340.5,80.8h1.0v1.0h-1.0zM336.1,77.6h1.0v1.0h-1.0zM323.3,79.1h1.0v1.0h-1.0zM334.9,77.2h1.0v1.0h-1.0zM340.2,77.0h1.0v1.0h-1.0zM330.1,77.0h1.0v1.0h-1.0zM332.0,77.8h1.0v1.0h-1.0zM326.5,79.0h1.0v1.0h-1.0zM318.9,81.1h1.0v1.0h-1.0zM333.8,79.0h1.0v1.0h-1.0zM336.1,79.6h1.0v1.0h-1.0zM334.3,76.5h1.0v1.0h-1.0zM330.8,75.7h1.0v1.0h-1.0z"/>
<path fill="#414141" fill-opacity="0.27" d="M322.5,78.3h1.0v1.0h-1.0zM328.4,75.6h1.0v1.0h-1.0zM334.1,76.3h1.0v1.0h-1.0zM322.8,78.8h1.0v1.0h-1.0zM324.8,78.3h1.0v1.0h-1.0zM336.3,81.1h1.0v1.0h-1.0zM327.4,77.4h1.0v1.0h-1.0zM324.3,75.8h1.0v1.0h-1.0zM318.2,79.1h1.0v1.0h-1.0zM328.5,80.2h1.0v1.0h-1.0zM326.3,74.4h1.0v1.0h-1.0zM331.7,75.7h1.0v1.0h-1.0zM333.4,75.0h1.0v1.0h-1.0zM325.5,81.5h1.0v1.0h-1.0zM334.8,78.5h1.0v1.0h-1.0zM326.5,82.1h1.0v1.0h-1.0zM328.6,80.2h1.0v1.0h-1.0zM336.8,76.3h1.0v1.0h-1.0zM326.2,81.0h1.0v1.0h-1.0zM328.6,80.8h1.0v1.0h-1.0zM325.0,74.7h1.0v1.0h-1.0zM332.1,82.9h1.0v1.0h-1.0zM335.5,74.6h1.0v1.0h-1.0zM332.4,82.4h1.0v1.0h-1.0zM341.9,76.5h1.0v1.0h-1.0zM340.7,78.2h1.0v1.0h-1.0zM325.3,75.8h1.0v1.0h-1.0zM318.2,80.1h1.0v1.0h-1.0zM332.2,76.8h1.0v1.0h-1.0zM332.6,76.2h1.0v1.0h-1.0zM325.7,79.8h1.0v1.0h-1.0zM321.6,77.6h1.0v1.0h-1.0zM332.0,77.7h1.0v1.0h-1.0zM321.5,77.0h1.0v1.0h-1.0zM339.7,76.3h1.0v1.0h-1.0zM319.3,75.7h1.0v1.0h-1.0zM331.1,81.3h1.0v1.0h-1.0zM321.8,78.1h1.0v1.0h-1.0zM341.3,79.3h1.0v1.0h-1.0zM317.4,78.4h1.0v1.0h-1.0zM335.7,78.0h1.0v1.0h-1.0zM335.7,76.1h1.0v1.0h-1.0zM324.1,80.4h1.0v1.0h-1.0zM330.4,79.0h1.0v1.0h-1.0zM333.6,75.8h1.0v1.0h-1.0zM336.3,79.5h1.0v1.0h-1.0zM333.3,82.6h1.0v1.0h-1.0zM329.5,81.7h1.0v1.0h-1.0zM341.1,76.8h1.0v1.0h-1.0zM322.1,76.8h1.0v1.0h-1.0zM321.8,75.8h1.0v1.0h-1.0zM325.1,78.2h1.0v1.0h-1.0zM330.0,76.1h1.0v1.0h-1.0zM326.0,82.6h1.0v1.0h-1.0zM328.3,83.1h1.0v1.0h-1.0zM321.2,77.1h1.0v1.0h-1.0zM323.9,77.9h1.0v1.0h-1.0zM327.9,83.4h1.0v1.0h-1.0zM334.0,81.8h1.0v1.0h-1.0zM321.3,77.7h1.0v1.0h-1.0zM330.6,80.4h1.0v1.0h-1.0zM334.6,78.7h1.0v1.0h-1.0zM332.7,77.7h1.0v1.0h-1.0zM330.6,79.6h1.0v1.0h-1.0zM329.7,77.1h1.0v1.0h-1.0zM333.1,82.3h1.0v1.0h-1.0zM335.0,77.7h1.0v1.0h-1.0zM341.0,79.2h1.0v1.0h-1.0zM325.3,79.4h1.0v1.0h-1.0zM319.4,77.8h1.0v1.0h-1.0zM341.2,80.4h1.0v1.0h-1.0zM324.5,79.4h1.0v1.0h-1.0zM328.0,78.5h1.0v1.0h-1.0zM335.7,77.1h1.0v1.0h-1.0zM326.2,75.8h1.0v1.0h-1.0zM327.9,81.9h1.0v1.0h-1.0zM336.5,78.7h1.0v1.0h-1.0zM336.2,83.4h1.0v1.0h-1.0zM319.7,76.5h1.0v1.0h-1.0zM335.4,75.7h1.0v1.0h-1.0zM329.7,75.8h1.0v1.0h-1.0zM333.7,78.9h1.0v1.0h-1.0zM337.1,80.3h1.0v1.0h-1.0zM333.9,77.6h1.0v1.0h-1.0zM330.6,82.4h1.0v1.0h-1.0zM331.1,79.9h1.0v1.0h-1.0zM324.8,83.3h1.0v1.0h-1.0zM330.6,82.9h1.0v1.0h-1.0zM336.0,79.4h1.0v1.0h-1.0zM329.8,82.9h1.0v1.0h-1.0zM334.3,82.2h1.0v1.0h-1.0zM330.3,82.8h1.0v1.0h-1.0zM323.4,81.7h1.0v1.0h-1.0zM341.3,81.9h1.0v1.0h-1.0zM324.8,80.3h1.0v1.0h-1.0zM333.9,77.5h1.0v1.0h-1.0zM333.4,81.2h1.0v1.0h-1.0zM320.7,77.8h1.0v1.0h-1.0zM327.1,77.0h1.0v1.0h-1.0zM319.7,80.1h1.0v1.0h-1.0zM336.9,78.2h1.0v1.0h-1.0zM330.4,82.3h1.0v1.0h-1.0zM337.5,76.9h1.0v1.0h-1.0zM319.9,79.5h1.0v1.0h-1.0zM318.5,79.6h1.0v1.0h-1.0zM320.5,77.8h1.0v1.0h-1.0zM324.7,79.0h1.0v1.0h-1.0zM340.5,80.4h1.0v1.0h-1.0z"/>
<path fill="#414141" fill-opacity="0.27" d="M325.0,76.0h1.0v1.0h-1.0zM332.0,79.3h1.0v1.0h-1.0zM326.7,82.2h1.0v1.0h-1.0zM333.1,75.7h1.0v1.0h-1.0zM335.8,77.9h1.0v1.0h-1.0zM323.1,76.6h1.0v1.0h-1.0zM317.0,77.9h1.0v1.0h-1.0zM332.7,79.4h1.0v1.0h-1.0zM335.9,81.7h1.0v1.0h-1.0zM321.5,83.0h1.0v1.0h-1.0zM328.4,79.7h1.0v1.0h-1.0zM329.5,75.6h1.0v1.0h-1.0zM335.9,76.1h1.0v1.0h-1.0zM342.6,77.5h1.0v1.0h-1.0zM340.2,77.5h1.0v1.0h-1.0zM332.2,79.6h1.0v1.0h-1.0zM318.7,78.0h1.0v1.0h-1.0zM330.7,81.0h1.0v1.0h-1.0zM324.6,73.5h1.0v1.0h-1.0zM326.4,82.3h1.0v1.0h-1.0zM335.4,76.5h1.0v1.0h-1.0zM324.9,75.5h1.0v1.0h-1.0zM325.4,80.9h1.0v1.0h-1.0zM334.5,78.8h1.0v1.0h-1.0zM322.8,81.3h1.0v1.0h-1.0zM334.1,80.2h1.0v1.0h-1.0zM338.8,80.9h1.0v1.0h-1.0zM323.9,76.7h1.0v1.0h-1.0zM318.6,75.0h1.0v1.0h-1.0zM327.8,81.0h1.0v1.0h-1.0zM326.8,79.4h1.0v1.0h-1.0zM339.1,82.5h1.0v1.0h-1.0zM335.8,83.0h1.0v1.0h-1.0zM330.4,84.5h1.0v1.0h-1.0zM335.3,79.9h1.0v1.0h-1.0zM338.5,76.2h1.0v1.0h-1.0zM324.2,76.1h1.0v1.0h-1.0zM327.3,81.3h1.0v1.0h-1.0zM337.3,83.1h1.0v1.0h-1.0zM341.5,78.8h1.0v1.0h-1.0zM332.3,82.1h1.0v1.0h-1.0zM333.0,77.6h1.0v1.0h-1.0zM330.9,76.9h1.0v1.0h-1.0zM325.4,77.9h1.0v1.0h-1.0zM323.0,76.9h1.0v1.0h-1.0zM334.3,74.2h1.0v1.0h-1.0zM337.3,78.2h1.0v1.0h-1.0zM324.8,81.9h1.0v1.0h-1.0zM323.2,74.7h1.0v1.0h-1.0zM330.2,82.3h1.0v1.0h-1.0zM321.8,73.5h1.0v1.0h-1.0zM326.1,77.8h1.0v1.0h-1.0zM335.7,77.1h1.0v1.0h-1.0zM331.2,76.0h1.0v1.0h-1.0zM319.5,77.0h1.0v1.0h-1.0zM330.5,73.2h1.0v1.0h-1.0zM329.4,76.2h1.0v1.0h-1.0zM332.3,80.2h1.0v1.0h-1.0zM334.1,77.6h1.0v1.0h-1.0zM324.5,77.8h1.0v1.0h-1.0zM335.7,76.6h1.0v1.0h-1.0zM335.2,75.3h1.0v1.0h-1.0zM332.5,83.1h1.0v1.0h-1.0zM327.2,82.7h1.0v1.0h-1.0zM333.9,74.3h1.0v1.0h-1.0zM330.5,83.2h1.0v1.0h-1.0zM330.8,81.1h1.0v1.0h-1.0zM332.4,78.2h1.0v1.0h-1.0zM335.0,76.6h1.0v1.0h-1.0zM342.1,79.9h1.0v1.0h-1.0zM318.8,78.4h1.0v1.0h-1.0zM335.8,77.6h1.0v1.0h-1.0zM320.1,79.2h1.0v1.0h-1.0zM329.1,75.4h1.0v1.0h-1.0zM336.1,81.4h1.0v1.0h-1.0zM331.8,81.5h1.0v1.0h-1.0zM340.5,80.2h1.0v1.0h-1.0zM323.0,78.8h1.0v1.0h-1.0zM317.9,75.5h1.0v1.0h-1.0zM322.9,82.9h1.0v1.0h-1.0zM324.7,78.6h1.0v1.0h-1.0zM332.0,80.2h1.0v1.0h-1.0zM340.2,76.4h1.0v1.0h-1.0zM343.3,80.3h1.0v1.0h-1.0zM317.6,78.2h1.0v1.0h-1.0zM328.9,75.9h1.0v1.0h-1.0zM339.8,79.3h1.0v1.0h-1.0zM331.2,82.8h1.0v1.0h-1.0zM320.4,80.3h1.0v1.0h-1.0zM325.0,78.0h1.0v1.0h-1.0zM338.9,78.9h1.0v1.0h-1.0zM336.1,75.7h1.0v1.0h-1.0zM329.3,81.9h1.0v1.0h-1.0zM323.2,80.5h1.0v1.0h-1.0zM322.9,75.5h1.0v1.0h-1.0zM336.6,79.8h1.0v1.0h-1.0zM325.2,81.3h1.0v1.0h-1.0zM318.2,80.8h1.0v1.0h-1.0zM333.8,77.2h1.0v1.0h-1.0zM336.4,81.0h1.0v1.0h-1.0zM338.5,79.1h1.0v1.0h-1.0zM324.7,83.0h1.0v1.0h-1.0zM335.5,75.6h1.0v1.0h-1.0zM340.9,76.0h1.0v1.0h-1.0zM322.5,73.9h1.0v1.0h-1.0zM321.8,80.0h1.0v1.0h-1.0zM320.3,82.0h1.0v1.0h-1.0zM335.9,82.1h1.0v1.0h-1.0z"/>
<path fill="#414141" fill-opacity="0.27" d="M326.5,80.8h1.0v1.0h-1.0zM337.3,75.5h1.0v1.0h-1.0zM341.1,80.4h1.0v1.0h-1.0zM336.9,79.5h1.0v1.0h-1.0zM332.6,79.3h1.0v1.0h-1.0zM327.0,80.6h1.0v1.0h-1.0zM325.5,82.5h1.0v1.0h-1.0zM323.3,79.7h1.0v1.0h-1.0zM337.3,76.8h1.0v1.0h-1.0zM332.5,79.8h1.0v1.0h-1.0zM327.3,83.0h1.0v1.0h-1.0zM319.6,75.9h1.0v1.0h-1.0zM340.2,79.2h1.0v1.0h-1.0zM337.5,77.5h1.0v1.0h-1.0zM335.5,82.8h1.0v1.0h-1.0zM324.1,78.2h1.0v1.0h-1.0zM321.9,82.5h1.0v1.0h-1.0zM318.1,79.6h1.0v1.0h-1.0zM326.6,83.3h1.0v1.0h-1.0zM333.5,79.1h1.0v1.0h-1.0zM321.7,81.9h1.0v1.0h-1.0zM337.7,76.7h1.0v1.0h-1.0zM320.5,78.6h1.0v1.0h-1.0zM328.8,76.2h1.0v1.0h-1.0zM339.4,80.3h1.0v1.0h-1.0zM332.3,81.2h1.0v1.0h-1.0zM331.1,76.5h1.0v1.0h-1.0zM335.9,80.0h1.0v1.0h-1.0zM335.0,79.6h1.0v1.0h-1.0zM319.7,78.5h1.0v1.0h-1.0zM338.2,79.5h1.0v1.0h-1.0zM322.4,80.1h1.0v1.0h-1.0zM333.5,82.5h1.0v1.0h-1.0zM327.3,79.1h1.0v1.0h-1.0zM324.0,78.7h1.0v1.0h-1.0zM319.8,81.9h1.0v1.0h-1.0zM326.0,75.7h1.0v1.0h-1.0zM319.7,77.8h1.0v1.0h-1.0zM321.1,81.3h1.0v1.0h-1.0zM331.3,79.5h1.0v1.0h-1.0zM339.1,77.5h1.0v1.0h-1.0zM331.2,80.6h1.0v1.0h-1.0zM320.4,80.9h1.0v1.0h-1.0zM336.3,80.9h1.0v1.0h-1.0zM340.1,77.2h1.0v1.0h-1.0zM323.3,78.3h1.0v1.0h-1.0zM325.5,85.2h1.0v1.0h-1.0zM325.6,79.4h1.0v1.0h-1.0zM329.7,76.7h1.0v1.0h-1.0zM324.5,75.5h1.0v1.0h-1.0zM332.2,81.2h1.0v1.0h-1.0zM323.9,78.8h1.0v1.0h-1.0zM331.7,74.6h1.0v1.0h-1.0zM333.7,77.5h1.0v1.0h-1.0zM335.4,78.1h1.0v1.0h-1.0zM318.8,78.4h1.0v1.0h-1.0zM326.2,74.5h1.0v1.0h-1.0zM320.0,76.3h1.0v1.0h-1.0zM326.1,76.2h1.0v1.0h-1.0zM335.5,79.5h1.0v1.0h-1.0zM330.7,79.6h1.0v1.0h-1.0zM322.0,78.1h1.0v1.0h-1.0zM335.5,78.2h1.0v1.0h-1.0zM320.6,78.1h1.0v1.0h-1.0zM338.2,81.8h1.0v1.0h-1.0zM329.1,76.4h1.0v1.0h-1.0zM327.6,76.4h1.0v1.0h-1.0zM335.1,77.2h1.0v1.0h-1.0zM317.1,80.6h1.0v1.0h-1.0zM333.0,82.5h1.0v1.0h-1.0zM333.7,75.2h1.0v1.0h-1.0zM330.0,82.2h1.0v1.0h-1.0zM337.6,75.3h1.0v1.0h-1.0zM334.9,78.1h1.0v1.0h-1.0zM338.3,81.2h1.0v1.0h-1.0zM322.5,80.4h1.0v1.0h-1.0zM330.3,80.0h1.0v1.0h-1.0zM326.7,74.5h1.0v1.0h-1.0zM332.8,80.6h1.0v1.0h-1.0zM328.9,76.6h1.0v1.0h-1.0zM331.0,84.0h1.0v1.0h-1.0zM325.8,82.3h1.0v1.0h-1.0zM339.7,79.2h1.0v1.0h-1.0zM321.7,77.3h1.0v1.0h-1.0zM321.6,76.8h1.0v1.0h-1.0zM335.1,82.7h1.0v1.0h-1.0zM332.5,78.7h1.0v1.0h-1.0zM330.2,77.4h1.0v1.0h-1.0zM332.8,77.8h1.0v1.0h-1.0zM320.6,79.9h1.0v1.0h-1.0zM319.6,78.9h1.0v1.0h-1.0zM339.4,80.0h1.0v1.0h-1.0zM333.4,80.1h1.0v1.0h-1.0zM336.5,75.6h1.0v1.0h-1.0zM329.7,75.5h1.0v1.0h-1.0zM326.7,78.4h1.0v1.0h-1.0zM320.4,78.4h1.0v1.0h-1.0zM326.6,81.6h1.0v1.0h-1.0zM328.2,77.9h1.0v1.0h-1.0zM334.5,78.8h1.0v1.0h-1.0zM326.9,75.3h1.0v1.0h-1.0zM335.9,79.5h1.0v1.0h-1.0zM335.1,79.8h1.0v1.0h-1.0zM336.3,81.9h1.0v1.0h-1.0zM325.0,78.9h1.0v1.0h-1.0zM338.3,76.9h1.0v1.0h-1.0zM324.1,79.7h1.0v1.0h-1.0zM324.8,77.6h1.0v1.0h-1.0z"/>
<path fill="#323232" fill-opacity="0.24" d="M327.4,81.5h1.0v1.0h-1.0zM334.5,79.3h1.0v1.0h-1.0zM335.2,78.1h1.0v1.0h-1.0zM337.0,76.4h1.0v1.0h-1.0zM329.4,79.9h1.0v1.0h-1.0zM336.9,75.8h1.0v1.0h-1.0zM332.4,75.7h1.0v1.0h-1.0zM335.0,79.3h1.0v1.0h-1.0zM336.8,76.6h1.0v1.0h-1.0zM337.2,78.1h1.0v1.0h-1.0zM329.0,77.5h1.0v1.0h-1.0zM328.0,78.2h1.0v1.0h-1.0zM336.0,75.3h1.0v1.0h-1.0zM337.1,78.0h1.0v1.0h-1.0zM339.3,79.4h1.0v1.0h-1.0zM336.5,78.1h1.0v1.0h-1.0zM326.7,80.5h1.0v1.0h-1.0zM338.3,76.7h1.0v1.0h-1.0zM331.5,79.4h1.0v1.0h-1.0zM338.1,79.1h1.0v1.0h-1.0zM336.8,79.2h1.0v1.0h-1.0zM342.2,78.3h1.0v1.0h-1.0zM333.1,78.2h1.0v1.0h-1.0zM330.5,81.7h1.0v1.0h-1.0zM329.9,79.6h1.0v1.0h-1.0zM338.1,78.9h1.0v1.0h-1.0zM337.0,75.7h1.0v1.0h-1.0zM334.3,78.2h1.0v1.0h-1.0zM335.6,82.0h1.0v1.0h-1.0zM330.5,80.4h1.0v1.0h-1.0zM330.3,75.6h1.0v1.0h-1.0zM332.7,79.6h1.0v1.0h-1.0zM331.2,79.3h1.0v1.0h-1.0zM333.4,74.5h1.0v1.0h-1.0zM324.9,78.7h1.0v1.0h-1.0zM337.0,77.1h1.0v1.0h-1.0zM329.3,78.2h1.0v1.0h-1.0zM329.8,76.1h1.0v1.0h-1.0zM335.4,81.9h1.0v1.0h-1.0zM336.2,76.3h1.0v1.0h-1.0zM330.7,81.4h1.0v1.0h-1.0zM327.2,81.8h1.0v1.0h-1.0zM330.5,81.7h1.0v1.0h-1.0zM325.6,78.3h1.0v1.0h-1.0zM338.2,80.4h1.0v1.0h-1.0zM337.9,80.6h1.0v1.0h-1.0zM335.5,80.6h1.0v1.0h-1.0zM338.6,78.4h1.0v1.0h-1.0zM326.6,80.9h1.0v1.0h-1.0zM335.7,80.6h1.0v1.0h-1.0z"/>
<path fill="#323232" fill-opacity="0.24" d="M332.5,82.1h1.0v1.0h-1.0zM327.4,75.9h1.0v1.0h-1.0zM332.6,78.0h1.0v1.0h-1.0zM339.5,75.6h1.0v1.0h-1.0zM335.3,78.0h1.0v1.0h-1.0zM336.0,75.7h1.0v1.0h-1.0zM337.1,81.5h1.0v1.0h-1.0zM325.0,79.4h1.0v1.0h-1.0zM326.0,80.4h1.0v1.0h-1.0zM337.4,79.7h1.0v1.0h-1.0zM331.1,79.7h1.0v1.0h-1.0zM325.9,79.9h1.0v1.0h-1.0zM338.9,80.8h1.0v1.0h-1.0zM329.8,75.5h1.0v1.0h-1.0zM332.0,75.0h1.0v1.0h-1.0zM330.6,80.1h1.0v1.0h-1.0zM332.6,76.1h1.0v1.0h-1.0zM334.4,76.0h1.0v1.0h-1.0zM340.4,77.7h1.0v1.0h-1.0zM324.5,77.9h1.0v1.0h-1.0zM330.7,81.1h1.0v1.0h-1.0zM325.2,79.8h1.0v1.0h-1.0zM334.6,77.7h1.0v1.0h-1.0zM333.1,76.9h1.0v1.0h-1.0zM332.7,75.1h1.0v1.0h-1.0zM329.6,76.1h1.0v1.0h-1.0zM331.1,77.6h1.0v1.0h-1.0zM334.8,80.0h1.0v1.0h-1.0zM332.6,81.5h1.0v1.0h-1.0zM328.5,78.1h1.0v1.0h-1.0zM340.5,78.0h1.0v1.0h-1.0zM332.3,80.3h1.0v1.0h-1.0zM342.2,77.6h1.0v1.0h-1.0zM332.9,78.1h1.0v1.0h-1.0zM341.3,79.0h1.0v1.0h-1.0zM337.0,76.4h1.0v1.0h-1.0zM337.8,78.4h1.0v1.0h-1.0zM337.2,80.4h1.0v1.0h-1.0zM330.0,76.8h1.0v1.0h-1.0zM326.8,76.2h1.0v1.0h-1.0zM329.2,78.7h1.0v1.0h-1.0zM323.5,79.7h1.0v1.0h-1.0zM338.7,77.0h1.0v1.0h-1.0zM325.6,76.0h1.0v1.0h-1.0zM332.3,77.9h1.0v1.0h-1.0zM329.9,81.2h1.0v1.0h-1.0zM336.9,78.1h1.0v1.0h-1.0zM338.0,79.0h1.0v1.0h-1.0zM338.7,74.6h1.0v1.0h-1.0zM334.2,80.1h1.0v1.0h-1.0z"/>
<path fill="#323232" fill-opacity="0.24" d="M337.7,76.0h1.0v1.0h-1.0zM338.0,78.7h1.0v1.0h-1.0zM332.7,76.5h1.0v1.0h-1.0zM339.5,75.6h1.0v1.0h-1.0zM324.7,78.0h1.0v1.0h-1.0zM334.2,74.3h1.0v1.0h-1.0zM330.8,83.8h1.0v1.0h-1.0zM330.1,77.9h1.0v1.0h-1.0zM338.1,80.4h1.0v1.0h-1.0zM333.3,80.6h1.0v1.0h-1.0zM334.2,82.9h1.0v1.0h-1.0zM337.9,77.5h1.0v1.0h-1.0zM325.2,79.1h1.0v1.0h-1.0zM327.7,80.3h1.0v1.0h-1.0zM330.2,78.4h1.0v1.0h-1.0zM336.0,82.3h1.0v1.0h-1.0zM334.4,81.7h1.0v1.0h-1.0zM330.5,75.7h1.0v1.0h-1.0zM337.7,81.0h1.0v1.0h-1.0zM327.8,78.9h1.0v1.0h-1.0zM327.9,77.3h1.0v1.0h-1.0zM336.7,81.6h1.0v1.0h-1.0zM332.4,79.3h1.0v1.0h-1.0zM337.7,79.5h1.0v1.0h-1.0zM340.1,79.4h1.0v1.0h-1.0zM336.7,81.1h1.0v1.0h-1.0zM334.5,77.5h1.0v1.0h-1.0zM330.3,79.4h1.0v1.0h-1.0zM332.3,81.4h1.0v1.0h-1.0zM338.5,79.9h1.0v1.0h-1.0zM331.1,81.6h1.0v1.0h-1.0zM327.5,75.4h1.0v1.0h-1.0zM332.9,80.4h1.0v1.0h-1.0zM332.4,77.1h1.0v1.0h-1.0zM336.6,80.5h1.0v1.0h-1.0zM336.4,76.3h1.0v1.0h-1.0zM337.1,81.8h1.0v1.0h-1.0zM338.1,78.3h1.0v1.0h-1.0zM329.3,78.5h1.0v1.0h-1.0zM336.7,79.0h1.0v1.0h-1.0zM332.0,75.4h1.0v1.0h-1.0zM336.9,80.8h1.0v1.0h-1.0zM331.7,79.3h1.0v1.0h-1.0zM331.8,75.0h1.0v1.0h-1.0zM328.3,75.7h1.0v1.0h-1.0zM340.3,76.4h1.0v1.0h-1.0zM336.6,82.1h1.0v1.0h-1.0zM335.3,75.2h1.0v1.0h-1.0zM339.3,76.6h1.0v1.0h-1.0zM339.1,80.0h1.0v1.0h-1.0z"/>
<path fill="#323232" fill-opacity="0.24" d="M327.0,78.0h1.0v1.0h-1.0zM338.9,78.1h1.0v1.0h-1.0zM328.3,76.2h1.0v1.0h-1.0zM333.2,78.9h1.0v1.0h-1.0zM332.4,77.0h1.0v1.0h-1.0zM334.2,80.2h1.0v1.0h-1.0zM329.1,79.0h1.0v1.0h-1.0zM339.9,77.5h1.0v1.0h-1.0zM326.4,80.5h1.0v1.0h-1.0zM332.4,78.7h1.0v1.0h-1.0zM339.4,78.4h1.0v1.0h-1.0zM337.4,81.8h1.0v1.0h-1.0zM338.7,76.9h1.0v1.0h-1.0zM328.4,79.2h1.0v1.0h-1.0zM336.0,81.6h1.0v1.0h-1.0zM334.6,79.5h1.0v1.0h-1.0zM341.0,77.8h1.0v1.0h-1.0zM334.0,81.3h1.0v1.0h-1.0zM328.1,79.4h1.0v1.0h-1.0zM335.3,78.5h1.0v1.0h-1.0zM333.9,80.3h1.0v1.0h-1.0zM334.4,78.5h1.0v1.0h-1.0zM333.5,76.0h1.0v1.0h-1.0zM339.7,77.8h1.0v1.0h-1.0zM335.0,81.1h1.0v1.0h-1.0zM332.1,75.9h1.0v1.0h-1.0zM335.7,80.8h1.0v1.0h-1.0zM336.2,77.5h1.0v1.0h-1.0zM332.9,80.2h1.0v1.0h-1.0zM333.4,80.0h1.0v1.0h-1.0zM327.4,76.4h1.0v1.0h-1.0zM335.0,73.7h1.0v1.0h-1.0zM338.4,79.8h1.0v1.0h-1.0zM329.2,81.3h1.0v1.0h-1.0zM336.0,76.5h1.0v1.0h-1.0zM339.2,77.5h1.0v1.0h-1.0zM328.6,75.8h1.0v1.0h-1.0zM336.0,81.5h1.0v1.0h-1.0zM328.7,77.0h1.0v1.0h-1.0zM334.6,79.4h1.0v1.0h-1.0zM327.7,77.3h1.0v1.0h-1.0zM335.9,74.9h1.0v1.0h-1.0zM327.5,78.2h1.0v1.0h-1.0zM327.2,78.6h1.0v1.0h-1.0zM330.0,81.0h1.0v1.0h-1.0zM336.5,80.7h1.0v1.0h-1.0zM336.6,76.7h1.0v1.0h-1.0zM331.7,79.6h1.0v1.0h-1.0zM335.7,76.5h1.0v1.0h-1.0zM332.6,78.6h1.0v1.0h-1.0z"/>
<path fill="#323232" fill-opacity="0.24" d="M328.2,80.3h1.0v1.0h-1.0zM336.3,76.8h1.0v1.0h-1.0zM339.7,81.2h1.0v1.0h-1.0zM341.1,77.8h1.0v1.0h-1.0zM338.3,82.9h1.0v1.0h-1.0zM329.5,80.0h1.0v1.0h-1.0zM340.9,82.0h1.0v1.0h-1.0zM331.9,79.7h1.0v1.0h-1.0zM335.6,76.7h1.0v1.0h-1.0zM333.9,79.2h1.0v1.0h-1.0zM330.2,77.7h1.0v1.0h-1.0zM337.7,75.8h1.0v1.0h-1.0zM326.7,77.3h1.0v1.0h-1.0zM337.0,80.0h1.0v1.0h-1.0zM326.2,77.2h1.0v1.0h-1.0zM336.4,79.6h1.0v1.0h-1.0zM327.5,76.1h1.0v1.0h-1.0zM335.0,77.3h1.0v1.0h-1.0zM327.1,77.3h1.0v1.0h-1.0zM329.6,75.8h1.0v1.0h-1.0zM333.7,79.8h1.0v1.0h-1.0zM329.0,80.9h1.0v1.0h-1.0zM327.9,78.3h1.0v1.0h-1.0zM328.1,77.8h1.0v1.0h-1.0zM341.8,79.3h1.0v1.0h-1.0zM329.4,80.1h1.0v1.0h-1.0zM323.8,78.8h1.0v1.0h-1.0zM323.9,78.2h1.0v1.0h-1.0zM332.8,80.2h1.0v1.0h-1.0zM339.3,76.5h1.0v1.0h-1.0zM336.3,81.3h1.0v1.0h-1.0zM334.5,78.8h1.0v1.0h-1.0zM334.5,77.8h1.0v1.0h-1.0zM332.1,80.8h1.0v1.0h-1.0zM328.4,79.0h1.0v1.0h-1.0zM340.8,77.6h1.0v1.0h-1.0zM332.1,79.5h1.0v1.0h-1.0zM336.5,76.9h1.0v1.0h-1.0zM337.1,76.3h1.0v1.0h-1.0zM328.5,76.0h1.0v1.0h-1.0zM337.7,77.9h1.0v1.0h-1.0zM333.8,78.0h1.0v1.0h-1.0zM332.7,75.3h1.0v1.0h-1.0zM327.4,79.6h1.0v1.0h-1.0zM325.4,79.4h1.0v1.0h-1.0zM326.4,79.8h1.0v1.0h-1.0zM329.3,82.5h1.0v1.0h-1.0zM333.9,78.6h1.0v1.0h-1.0zM330.2,76.3h1.0v1.0h-1.0zM331.9,77.1h1.0v1.0h-1.0z"/>
<path fill="#323232" fill-opacity="0.24" d="M340.7,75.4h1.0v1.0h-1.0zM326.5,77.0h1.0v1.0h-1.0zM334.4,75.7h1.0v1.0h-1.0zM330.6,78.5h1.0v1.0h-1.0zM331.6,77.8h1.0v1.0h-1.0zM328.6,78.3h1.0v1.0h-1.0zM337.2,78.2h1.0v1.0h-1.0zM333.0,76.0h1.0v1.0h-1.0zM339.3,78.4h1.0v1.0h-1.0zM338.6,80.2h1.0v1.0h-1.0zM337.7,76.3h1.0v1.0h-1.0zM333.7,76.2h1.0v1.0h-1.0zM338.4,78.1h1.0v1.0h-1.0zM339.0,77.4h1.0v1.0h-1.0zM332.0,75.9h1.0v1.0h-1.0zM331.7,79.0h1.0v1.0h-1.0zM333.0,82.2h1.0v1.0h-1.0zM334.0,77.2h1.0v1.0h-1.0zM335.9,80.6h1.0v1.0h-1.0zM341.1,77.9h1.0v1.0h-1.0zM337.1,79.5h1.0v1.0h-1.0zM330.7,79.6h1.0v1.0h-1.0zM327.8,82.1h1.0v1.0h-1.0zM334.9,77.7h1.0v1.0h-1.0zM337.5,79.5h1.0v1.0h-1.0zM335.1,82.7h1.0v1.0h-1.0zM335.5,75.5h1.0v1.0h-1.0zM330.1,78.5h1.0v1.0h-1.0zM335.2,78.3h1.0v1.0h-1.0zM337.9,78.4h1.0v1.0h-1.0zM326.6,77.8h1.0v1.0h-1.0zM341.9,80.2h1.0v1.0h-1.0zM329.9,79.4h1.0v1.0h-1.0zM329.9,77.9h1.0v1.0h-1.0zM335.7,81.6h1.0v1.0h-1.0zM336.5,81.5h1.0v1.0h-1.0zM330.8,79.9h1.0v1.0h-1.0zM334.1,74.5h1.0v1.0h-1.0zM338.2,76.3h1.0v1.0h-1.0zM329.8,78.3h1.0v1.0h-1.0zM333.0,82.1h1.0v1.0h-1.0zM338.9,76.5h1.0v1.0h-1.0zM336.1,78.9h1.0v1.0h-1.0zM325.6,78.6h1.0v1.0h-1.0zM331.5,82.1h1.0v1.0h-1.0zM337.6,78.8h1.0v1.0h-1.0zM332.5,83.2h1.0v1.0h-1.0zM335.1,75.4h1.0v1.0h-1.0zM332.5,75.1h1.0v1.0h-1.0zM337.5,76.7h1.0v1.0h-1.0z"/>
<path fill="#646464" fill-opacity="0.2" d="M326.1,82.1h1.0v1.0h-1.0zM331.8,79.1h1.0v1.0h-1.0zM332.9,81.8h1.0v1.0h-1.0zM337.4,81.1h1.0v1.0h-1.0zM330.0,83.4h1.0v1.0h-1.0zM320.6,79.8h1.0v1.0h-1.0zM324.5,76.7h1.0v1.0h-1.0zM322.1,81.9h1.0v1.0h-1.0zM331.4,77.7h1.0v1.0h-1.0zM330.8,79.1h1.0v1.0h-1.0zM326.2,84.8h1.0v1.0h-1.0zM329.5,75.2h1.0v1.0h-1.0zM332.2,78.1h1.0v1.0h-1.0zM329.8,75.8h1.0v1.0h-1.0zM337.3,81.5h1.0v1.0h-1.0zM331.5,76.6h1.0v1.0h-1.0zM330.1,78.8h1.0v1.0h-1.0zM334.5,82.7h1.0v1.0h-1.0zM320.9,76.9h1.0v1.0h-1.0zM321.9,81.5h1.0v1.0h-1.0zM324.6,80.5h1.0v1.0h-1.0zM324.2,78.2h1.0v1.0h-1.0zM326.8,77.7h1.0v1.0h-1.0zM335.4,74.9h1.0v1.0h-1.0zM317.3,79.9h1.0v1.0h-1.0zM333.6,75.9h1.0v1.0h-1.0zM323.5,75.4h1.0v1.0h-1.0zM334.5,73.9h1.0v1.0h-1.0zM325.2,79.1h1.0v1.0h-1.0zM329.0,79.3h1.0v1.0h-1.0zM328.3,75.9h1.0v1.0h-1.0zM332.6,77.7h1.0v1.0h-1.0zM327.1,78.2h1.0v1.0h-1.0zM324.6,75.1h1.0v1.0h-1.0zM334.2,81.7h1.0v1.0h-1.0zM328.5,81.8h1.0v1.0h-1.0zM349.7,76.6h1.0v1.0h-1.0zM327.5,77.7h1.0v1.0h-1.0zM319.8,77.7h1.0v1.0h-1.0zM325.5,80.8h1.0v1.0h-1.0zM311.3,78.4h1.0v1.0h-1.0zM329.2,75.3h1.0v1.0h-1.0z"/>
<path fill="#646464" fill-opacity="0.2" d="M329.7,75.2h1.0v1.0h-1.0zM336.8,78.7h1.0v1.0h-1.0zM333.3,77.9h1.0v1.0h-1.0zM324.8,83.4h1.0v1.0h-1.0zM331.5,76.6h1.0v1.0h-1.0zM332.1,75.9h1.0v1.0h-1.0zM332.2,75.2h1.0v1.0h-1.0zM338.7,74.7h1.0v1.0h-1.0zM337.7,76.0h1.0v1.0h-1.0zM333.9,78.1h1.0v1.0h-1.0zM329.6,76.5h1.0v1.0h-1.0zM335.7,79.8h1.0v1.0h-1.0zM321.3,77.5h1.0v1.0h-1.0zM324.8,82.9h1.0v1.0h-1.0zM324.5,82.9h1.0v1.0h-1.0zM328.0,75.4h1.0v1.0h-1.0zM322.6,81.0h1.0v1.0h-1.0zM327.6,77.9h1.0v1.0h-1.0zM329.3,81.6h1.0v1.0h-1.0zM339.4,79.9h1.0v1.0h-1.0zM339.2,76.7h1.0v1.0h-1.0zM335.3,77.3h1.0v1.0h-1.0zM334.5,75.1h1.0v1.0h-1.0zM316.5,83.8h1.0v1.0h-1.0zM336.6,79.2h1.0v1.0h-1.0zM328.0,79.1h1.0v1.0h-1.0zM332.7,78.7h1.0v1.0h-1.0zM338.8,79.4h1.0v1.0h-1.0zM323.4,73.8h1.0v1.0h-1.0zM328.4,77.1h1.0v1.0h-1.0zM326.3,74.4h1.0v1.0h-1.0zM336.3,81.6h1.0v1.0h-1.0zM327.7,75.1h1.0v1.0h-1.0zM321.9,78.6h1.0v1.0h-1.0zM322.7,79.0h1.0v1.0h-1.0zM324.4,79.2h1.0v1.0h-1.0zM327.4,76.7h1.0v1.0h-1.0zM325.0,79.7h1.0v1.0h-1.0zM324.6,82.4h1.0v1.0h-1.0zM341.5,79.3h1.0v1.0h-1.0zM334.1,76.4h1.0v1.0h-1.0zM323.2,77.3h1.0v1.0h-1.0z"/>
<path fill="#646464" fill-opacity="0.2" d="M344.0,70.1h1.0v1.0h-1.0zM320.7,77.4h1.0v1.0h-1.0zM324.0,82.2h1.0v1.0h-1.0zM328.0,75.8h1.0v1.0h-1.0zM334.6,77.3h1.0v1.0h-1.0zM333.5,77.6h1.0v1.0h-1.0zM328.4,77.6h1.0v1.0h-1.0zM347.3,77.1h1.0v1.0h-1.0zM323.6,77.1h1.0v1.0h-1.0zM332.4,76.0h1.0v1.0h-1.0zM323.6,80.6h1.0v1.0h-1.0zM325.0,77.9h1.0v1.0h-1.0zM321.3,81.1h1.0v1.0h-1.0zM315.5,76.1h1.0v1.0h-1.0zM328.3,80.6h1.0v1.0h-1.0zM328.0,79.1h1.0v1.0h-1.0zM343.0,80.8h1.0v1.0h-1.0zM332.9,78.6h1.0v1.0h-1.0zM315.8,80.9h1.0v1.0h-1.0zM328.3,77.5h1.0v1.0h-1.0zM335.9,78.8h1.0v1.0h-1.0zM338.3,77.7h1.0v1.0h-1.0zM326.0,76.7h1.0v1.0h-1.0zM338.3,76.3h1.0v1.0h-1.0zM329.6,82.9h1.0v1.0h-1.0zM329.8,78.9h1.0v1.0h-1.0zM328.7,80.1h1.0v1.0h-1.0zM335.5,75.4h1.0v1.0h-1.0zM329.0,78.4h1.0v1.0h-1.0zM322.7,76.6h1.0v1.0h-1.0zM315.3,82.7h1.0v1.0h-1.0zM330.0,82.0h1.0v1.0h-1.0zM341.4,76.5h1.0v1.0h-1.0zM335.5,77.4h1.0v1.0h-1.0zM330.8,76.6h1.0v1.0h-1.0zM337.0,72.4h1.0v1.0h-1.0zM327.5,79.4h1.0v1.0h-1.0zM332.4,75.9h1.0v1.0h-1.0zM318.0,81.5h1.0v1.0h-1.0zM321.7,78.3h1.0v1.0h-1.0zM325.5,81.5h1.0v1.0h-1.0zM348.6,75.3h1.0v1.0h-1.0z"/>
<path fill="#646464" fill-opacity="0.2" d="M327.7,78.4h1.0v1.0h-1.0zM334.3,80.6h1.0v1.0h-1.0zM331.2,78.8h1.0v1.0h-1.0zM336.5,83.0h1.0v1.0h-1.0zM338.5,77.7h1.0v1.0h-1.0zM325.7,78.6h1.0v1.0h-1.0zM328.9,79.3h1.0v1.0h-1.0zM312.9,84.1h1.0v1.0h-1.0zM324.3,80.9h1.0v1.0h-1.0zM329.8,79.3h1.0v1.0h-1.0zM328.1,76.4h1.0v1.0h-1.0zM322.8,81.3h1.0v1.0h-1.0zM334.2,77.0h1.0v1.0h-1.0zM333.0,81.1h1.0v1.0h-1.0zM328.3,83.6h1.0v1.0h-1.0zM331.3,83.7h1.0v1.0h-1.0zM335.0,82.0h1.0v1.0h-1.0zM330.6,81.2h1.0v1.0h-1.0zM330.9,75.4h1.0v1.0h-1.0zM317.6,81.7h1.0v1.0h-1.0zM323.1,79.4h1.0v1.0h-1.0zM324.8,82.0h1.0v1.0h-1.0zM330.3,75.1h1.0v1.0h-1.0zM322.0,80.2h1.0v1.0h-1.0zM323.8,82.1h1.0v1.0h-1.0zM331.3,78.2h1.0v1.0h-1.0zM328.4,80.8h1.0v1.0h-1.0zM323.7,76.9h1.0v1.0h-1.0zM319.7,81.7h1.0v1.0h-1.0zM329.0,77.4h1.0v1.0h-1.0zM322.3,80.1h1.0v1.0h-1.0zM333.1,83.4h1.0v1.0h-1.0zM322.2,74.1h1.0v1.0h-1.0zM340.6,84.5h1.0v1.0h-1.0zM334.4,78.4h1.0v1.0h-1.0zM333.3,78.0h1.0v1.0h-1.0zM320.4,81.9h1.0v1.0h-1.0zM316.1,80.9h1.0v1.0h-1.0zM319.0,77.1h1.0v1.0h-1.0zM328.9,77.7h1.0v1.0h-1.0zM330.5,75.5h1.0v1.0h-1.0zM321.5,77.2h1.0v1.0h-1.0z"/>
<path fill="#646464" fill-opacity="0.2" d="M336.5,82.2h1.0v1.0h-1.0zM321.8,82.4h1.0v1.0h-1.0zM326.8,75.7h1.0v1.0h-1.0zM326.9,75.1h1.0v1.0h-1.0zM343.9,77.7h1.0v1.0h-1.0zM332.4,81.0h1.0v1.0h-1.0zM336.9,83.7h1.0v1.0h-1.0zM330.0,76.4h1.0v1.0h-1.0zM328.0,75.6h1.0v1.0h-1.0zM321.1,80.6h1.0v1.0h-1.0zM324.5,81.6h1.0v1.0h-1.0zM326.7,80.2h1.0v1.0h-1.0zM333.9,79.5h1.0v1.0h-1.0zM324.1,72.7h1.0v1.0h-1.0zM326.0,72.4h1.0v1.0h-1.0zM315.6,80.4h1.0v1.0h-1.0zM328.7,81.7h1.0v1.0h-1.0zM324.2,81.4h1.0v1.0h-1.0zM335.6,80.0h1.0v1.0h-1.0zM328.9,82.5h1.0v1.0h-1.0zM334.1,76.7h1.0v1.0h-1.0zM339.4,76.9h1.0v1.0h-1.0zM320.3,87.2h1.0v1.0h-1.0zM343.7,80.6h1.0v1.0h-1.0zM335.4,76.9h1.0v1.0h-1.0zM326.1,81.9h1.0v1.0h-1.0zM342.1,79.8h1.0v1.0h-1.0zM333.4,75.5h1.0v1.0h-1.0zM335.2,81.4h1.0v1.0h-1.0zM341.1,78.0h1.0v1.0h-1.0zM328.7,77.1h1.0v1.0h-1.0zM328.8,74.2h1.0v1.0h-1.0zM323.8,78.7h1.0v1.0h-1.0zM330.7,72.4h1.0v1.0h-1.0zM326.8,84.3h1.0v1.0h-1.0zM337.0,79.3h1.0v1.0h-1.0zM327.8,80.6h1.0v1.0h-1.0zM327.4,81.9h1.0v1.0h-1.0zM319.9,76.7h1.0v1.0h-1.0zM337.4,82.2h1.0v1.0h-1.0zM325.6,69.7h1.0v1.0h-1.0z"/>
<path fill="#646464" fill-opacity="0.2" d="M339.8,83.5h1.0v1.0h-1.0zM331.8,74.3h1.0v1.0h-1.0zM316.4,77.8h1.0v1.0h-1.0zM329.1,71.5h1.0v1.0h-1.0zM330.9,76.0h1.0v1.0h-1.0zM338.3,79.9h1.0v1.0h-1.0zM335.8,81.8h1.0v1.0h-1.0zM325.6,82.0h1.0v1.0h-1.0zM326.4,72.8h1.0v1.0h-1.0zM330.6,79.0h1.0v1.0h-1.0zM330.2,82.0h1.0v1.0h-1.0zM331.4,78.0h1.0v1.0h-1.0zM336.4,76.0h1.0v1.0h-1.0zM317.5,79.9h1.0v1.0h-1.0zM327.4,79.4h1.0v1.0h-1.0zM332.6,75.3h1.0v1.0h-1.0zM323.9,79.3h1.0v1.0h-1.0zM332.3,78.0h1.0v1.0h-1.0zM332.6,75.9h1.0v1.0h-1.0zM324.6,81.9h1.0v1.0h-1.0zM327.7,77.1h1.0v1.0h-1.0zM333.7,75.3h1.0v1.0h-1.0zM331.1,74.3h1.0v1.0h-1.0zM334.2,75.3h1.0v1.0h-1.0zM330.5,79.1h1.0v1.0h-1.0zM325.2,77.9h1.0v1.0h-1.0zM327.8,83.7h1.0v1.0h-1.0zM324.7,81.6h1.0v1.0h-1.0zM326.1,75.4h1.0v1.0h-1.0zM332.7,77.4h1.0v1.0h-1.0zM334.6,77.2h1.0v1.0h-1.0zM331.0,79.5h1.0v1.0h-1.0zM339.7,80.6h1.0v1.0h-1.0zM337.1,78.5h1.0v1.0h-1.0zM330.7,83.6h1.0v1.0h-1.0zM329.1,75.0h1.0v1.0h-1.0zM315.1,77.3h1.0v1.0h-1.0zM335.5,78.5h1.0v1.0h-1.0zM326.5,79.9h1.0v1.0h-1.0zM343.3,80.3h1.0v1.0h-1.0zM329.5,75.2h1.0v1.0h-1.0z"/>
<path fill="#414141" fill-opacity="0.27" d="M461.9,79.0h1.0v1.0h-1.0zM467.9,80.6h1.0v1.0h-1.0zM462.6,76.4h1.0v1.0h-1.0zM460.9,79.8h1.0v1.0h-1.0zM468.9,75.1h1.0v1.0h-1.0zM465.5,81.5h1.0v1.0h-1.0zM466.8,75.1h1.0v1.0h-1.0zM477.6,76.5h1.0v1.0h-1.0zM465.2,83.3h1.0v1.0h-1.0zM476.2,83.5h1.0v1.0h-1.0zM464.0,75.5h1.0v1.0h-1.0zM461.5,76.6h1.0v1.0h-1.0zM464.5,77.6h1.0v1.0h-1.0zM473.2,75.0h1.0v1.0h-1.0zM464.0,81.8h1.0v1.0h-1.0zM467.5,78.4h1.0v1.0h-1.0zM469.9,81.6h1.0v1.0h-1.0zM472.0,76.8h1.0v1.0h-1.0zM467.0,79.6h1.0v1.0h-1.0zM466.9,80.9h1.0v1.0h-1.0zM473.8,81.9h1.0v1.0h-1.0zM470.1,79.2h1.0v1.0h-1.0zM478.7,75.0h1.0v1.0h-1.0zM475.9,80.2h1.0v1.0h-1.0zM462.0,80.9h1.0v1.0h-1.0zM462.3,77.8h1.0v1.0h-1.0zM480.3,77.7h1.0v1.0h-1.0zM471.1,81.0h1.0v1.0h-1.0zM476.8,79.1h1.0v1.0h-1.0zM464.6,80.0h1.0v1.0h-1.0zM474.8,76.6h1.0v1.0h-1.0zM461.2,79.9h1.0v1.0h-1.0zM475.0,75.8h1.0v1.0h-1.0zM473.3,75.9h1.0v1.0h-1.0zM469.2,82.5h1.0v1.0h-1.0zM469.4,76.4h1.0v1.0h-1.0zM466.2,81.3h1.0v1.0h-1.0zM471.9,81.1h1.0v1.0h-1.0zM474.3,82.3h1.0v1.0h-1.0zM476.8,80.3h1.0v1.0h-1.0zM473.5,80.9h1.0v1.0h-1.0zM481.1,79.1h1.0v1.0h-1.0zM471.3,76.2h1.0v1.0h-1.0zM472.1,74.3h1.0v1.0h-1.0zM469.1,75.2h1.0v1.0h-1.0zM461.1,78.9h1.0v1.0h-1.0zM467.4,76.5h1.0v1.0h-1.0zM471.8,78.2h1.0v1.0h-1.0zM463.2,79.2h1.0v1.0h-1.0zM479.5,77.1h1.0v1.0h-1.0zM469.1,77.9h1.0v1.0h-1.0zM473.5,77.4h1.0v1.0h-1.0zM462.3,76.7h1.0v1.0h-1.0zM470.7,77.3h1.0v1.0h-1.0zM461.8,80.7h1.0v1.0h-1.0zM468.6,75.8h1.0v1.0h-1.0zM474.1,77.9h1.0v1.0h-1.0zM464.6,79.0h1.0v1.0h-1.0zM472.6,79.6h1.0v1.0h-1.0zM474.8,80.0h1.0v1.0h-1.0zM472.5,80.4h1.0v1.0h-1.0zM479.0,78.9h1.0v1.0h-1.0zM460.2,78.0h1.0v1.0h-1.0zM471.3,73.5h1.0v1.0h-1.0zM481.3,79.2h1.0v1.0h-1.0zM468.2,79.3h1.0v1.0h-1.0zM467.2,78.1h1.0v1.0h-1.0zM462.9,78.7h1.0v1.0h-1.0zM470.0,78.7h1.0v1.0h-1.0zM471.6,80.4h1.0v1.0h-1.0zM478.9,78.1h1.0v1.0h-1.0zM472.0,77.8h1.0v1.0h-1.0zM472.4,75.9h1.0v1.0h-1.0zM469.2,78.0h1.0v1.0h-1.0zM472.1,80.9h1.0v1.0h-1.0zM481.6,76.5h1.0v1.0h-1.0zM475.5,74.5h1.0v1.0h-1.0zM477.8,75.2h1.0v1.0h-1.0zM459.8,78.7h1.0v1.0h-1.0zM467.1,77.9h1.0v1.0h-1.0zM473.5,76.8h1.0v1.0h-1.0zM469.0,74.8h1.0v1.0h-1.0zM467.2,81.7h1.0v1.0h-1.0zM480.2,76.7h1.0v1.0h-1.0zM461.9,77.9h1.0v1.0h-1.0zM464.7,74.7h1.0v1.0h-1.0zM466.2,80.7h1.0v1.0h-1.0z"/>
<path fill="#414141" fill-opacity="0.27" d="M475.9,75.6h1.0v1.0h-1.0zM473.0,75.8h1.0v1.0h-1.0zM465.6,81.0h1.0v1.0h-1.0zM473.9,75.5h1.0v1.0h-1.0zM462.4,74.9h1.0v1.0h-1.0zM479.1,78.9h1.0v1.0h-1.0zM471.4,81.2h1.0v1.0h-1.0zM462.7,81.7h1.0v1.0h-1.0zM462.9,79.7h1.0v1.0h-1.0zM476.9,78.9h1.0v1.0h-1.0zM463.7,82.2h1.0v1.0h-1.0zM470.9,78.9h1.0v1.0h-1.0zM479.5,78.6h1.0v1.0h-1.0zM475.5,77.8h1.0v1.0h-1.0zM464.9,80.2h1.0v1.0h-1.0zM471.6,77.8h1.0v1.0h-1.0zM463.7,74.0h1.0v1.0h-1.0zM480.8,79.1h1.0v1.0h-1.0zM470.7,79.6h1.0v1.0h-1.0zM479.8,80.6h1.0v1.0h-1.0zM478.1,78.0h1.0v1.0h-1.0zM473.2,77.7h1.0v1.0h-1.0zM473.5,81.1h1.0v1.0h-1.0zM463.3,75.2h1.0v1.0h-1.0zM475.9,78.1h1.0v1.0h-1.0zM467.5,81.6h1.0v1.0h-1.0zM462.1,81.8h1.0v1.0h-1.0zM478.2,75.9h1.0v1.0h-1.0zM479.5,77.7h1.0v1.0h-1.0zM463.7,79.8h1.0v1.0h-1.0zM474.4,79.7h1.0v1.0h-1.0zM479.8,78.4h1.0v1.0h-1.0zM464.8,81.1h1.0v1.0h-1.0zM470.9,83.0h1.0v1.0h-1.0zM477.4,80.1h1.0v1.0h-1.0zM467.4,79.3h1.0v1.0h-1.0zM473.9,75.5h1.0v1.0h-1.0zM463.7,80.9h1.0v1.0h-1.0zM468.7,81.3h1.0v1.0h-1.0zM475.4,79.5h1.0v1.0h-1.0zM465.6,78.5h1.0v1.0h-1.0zM468.5,75.0h1.0v1.0h-1.0zM466.9,79.3h1.0v1.0h-1.0zM465.8,83.5h1.0v1.0h-1.0zM465.0,82.5h1.0v1.0h-1.0zM478.7,75.4h1.0v1.0h-1.0zM463.8,80.1h1.0v1.0h-1.0zM461.9,76.2h1.0v1.0h-1.0zM475.4,76.7h1.0v1.0h-1.0zM467.5,74.7h1.0v1.0h-1.0zM474.5,78.6h1.0v1.0h-1.0zM478.1,77.2h1.0v1.0h-1.0zM468.3,78.5h1.0v1.0h-1.0zM465.1,79.4h1.0v1.0h-1.0zM463.3,79.7h1.0v1.0h-1.0zM461.1,77.6h1.0v1.0h-1.0zM469.8,81.3h1.0v1.0h-1.0zM477.8,77.6h1.0v1.0h-1.0zM465.2,79.7h1.0v1.0h-1.0zM474.3,81.8h1.0v1.0h-1.0zM473.2,82.7h1.0v1.0h-1.0zM466.9,81.7h1.0v1.0h-1.0zM460.3,80.0h1.0v1.0h-1.0zM465.5,74.3h1.0v1.0h-1.0zM473.4,83.6h1.0v1.0h-1.0zM470.8,77.6h1.0v1.0h-1.0zM463.8,78.8h1.0v1.0h-1.0zM469.5,74.7h1.0v1.0h-1.0zM479.5,76.5h1.0v1.0h-1.0zM466.5,75.5h1.0v1.0h-1.0zM464.8,80.3h1.0v1.0h-1.0zM470.7,83.4h1.0v1.0h-1.0zM469.9,79.4h1.0v1.0h-1.0zM475.0,81.7h1.0v1.0h-1.0zM472.0,76.0h1.0v1.0h-1.0zM477.8,76.6h1.0v1.0h-1.0zM463.0,76.6h1.0v1.0h-1.0zM477.4,77.5h1.0v1.0h-1.0zM461.2,79.5h1.0v1.0h-1.0zM471.4,78.8h1.0v1.0h-1.0zM477.0,79.0h1.0v1.0h-1.0zM470.1,83.6h1.0v1.0h-1.0zM469.9,74.9h1.0v1.0h-1.0zM463.1,77.6h1.0v1.0h-1.0zM472.6,75.7h1.0v1.0h-1.0zM470.7,80.0h1.0v1.0h-1.0zM470.9,79.1h1.0v1.0h-1.0z"/>
<path fill="#414141" fill-opacity="0.27" d="M474.0,81.6h1.0v1.0h-1.0zM481.7,78.4h1.0v1.0h-1.0zM467.9,81.8h1.0v1.0h-1.0zM462.8,82.9h1.0v1.0h-1.0zM473.5,82.3h1.0v1.0h-1.0zM465.2,73.8h1.0v1.0h-1.0zM480.0,78.4h1.0v1.0h-1.0zM470.9,83.7h1.0v1.0h-1.0zM460.9,80.7h1.0v1.0h-1.0zM468.5,77.7h1.0v1.0h-1.0zM460.5,79.4h1.0v1.0h-1.0zM473.6,82.6h1.0v1.0h-1.0zM469.9,81.4h1.0v1.0h-1.0zM465.5,83.0h1.0v1.0h-1.0zM464.1,76.9h1.0v1.0h-1.0zM468.3,79.2h1.0v1.0h-1.0zM467.4,76.4h1.0v1.0h-1.0zM473.1,75.8h1.0v1.0h-1.0zM465.0,76.9h1.0v1.0h-1.0zM464.2,77.0h1.0v1.0h-1.0zM468.9,80.8h1.0v1.0h-1.0zM465.8,75.2h1.0v1.0h-1.0zM470.9,82.9h1.0v1.0h-1.0zM458.5,78.5h1.0v1.0h-1.0zM463.9,79.3h1.0v1.0h-1.0zM470.8,81.2h1.0v1.0h-1.0zM475.5,79.7h1.0v1.0h-1.0zM459.3,76.4h1.0v1.0h-1.0zM477.4,82.5h1.0v1.0h-1.0zM464.0,80.2h1.0v1.0h-1.0zM470.0,80.8h1.0v1.0h-1.0zM472.3,82.5h1.0v1.0h-1.0zM475.4,79.4h1.0v1.0h-1.0zM480.7,81.4h1.0v1.0h-1.0zM475.9,78.9h1.0v1.0h-1.0zM468.2,74.9h1.0v1.0h-1.0zM469.6,79.2h1.0v1.0h-1.0zM464.3,76.6h1.0v1.0h-1.0zM463.4,75.3h1.0v1.0h-1.0zM477.0,81.7h1.0v1.0h-1.0zM460.1,78.8h1.0v1.0h-1.0zM466.5,74.5h1.0v1.0h-1.0zM478.3,77.3h1.0v1.0h-1.0zM466.3,81.5h1.0v1.0h-1.0zM473.5,75.3h1.0v1.0h-1.0zM463.3,79.9h1.0v1.0h-1.0zM470.8,77.2h1.0v1.0h-1.0zM480.8,78.2h1.0v1.0h-1.0zM461.8,79.7h1.0v1.0h-1.0zM470.4,74.2h1.0v1.0h-1.0zM471.4,75.3h1.0v1.0h-1.0zM463.6,81.1h1.0v1.0h-1.0zM468.0,74.9h1.0v1.0h-1.0zM468.1,74.8h1.0v1.0h-1.0zM481.1,79.6h1.0v1.0h-1.0zM464.9,78.2h1.0v1.0h-1.0zM464.1,83.6h1.0v1.0h-1.0zM464.6,76.0h1.0v1.0h-1.0zM464.2,80.2h1.0v1.0h-1.0zM465.1,75.9h1.0v1.0h-1.0zM462.2,76.8h1.0v1.0h-1.0zM460.5,79.2h1.0v1.0h-1.0zM463.6,81.1h1.0v1.0h-1.0zM462.0,75.9h1.0v1.0h-1.0zM460.4,78.2h1.0v1.0h-1.0zM463.5,78.9h1.0v1.0h-1.0zM471.2,79.0h1.0v1.0h-1.0zM477.1,76.8h1.0v1.0h-1.0zM473.5,74.9h1.0v1.0h-1.0zM468.0,81.6h1.0v1.0h-1.0zM468.4,81.6h1.0v1.0h-1.0zM469.2,78.5h1.0v1.0h-1.0zM465.6,81.4h1.0v1.0h-1.0zM474.8,73.8h1.0v1.0h-1.0zM479.2,78.4h1.0v1.0h-1.0zM470.2,77.0h1.0v1.0h-1.0zM467.4,81.6h1.0v1.0h-1.0zM463.7,74.7h1.0v1.0h-1.0zM464.4,79.6h1.0v1.0h-1.0zM468.2,78.7h1.0v1.0h-1.0zM471.2,83.5h1.0v1.0h-1.0zM459.3,81.5h1.0v1.0h-1.0zM476.0,75.1h1.0v1.0h-1.0zM470.0,81.4h1.0v1.0h-1.0zM474.4,78.1h1.0v1.0h-1.0zM469.1,81.6h1.0v1.0h-1.0zM463.0,80.9h1.0v1.0h-1.0z"/>
<path fill="#414141" fill-opacity="0.27" d="M470.1,77.5h1.0v1.0h-1.0zM463.0,80.2h1.0v1.0h-1.0zM477.4,79.7h1.0v1.0h-1.0zM475.1,78.3h1.0v1.0h-1.0zM461.6,75.9h1.0v1.0h-1.0zM464.6,74.2h1.0v1.0h-1.0zM467.0,75.8h1.0v1.0h-1.0zM470.3,79.0h1.0v1.0h-1.0zM464.3,77.3h1.0v1.0h-1.0zM465.2,81.1h1.0v1.0h-1.0zM458.6,77.6h1.0v1.0h-1.0zM466.3,78.6h1.0v1.0h-1.0zM466.8,76.2h1.0v1.0h-1.0zM469.1,77.7h1.0v1.0h-1.0zM473.2,79.3h1.0v1.0h-1.0zM470.8,73.7h1.0v1.0h-1.0zM476.7,77.1h1.0v1.0h-1.0zM470.0,76.9h1.0v1.0h-1.0zM466.3,77.2h1.0v1.0h-1.0zM463.9,78.5h1.0v1.0h-1.0zM471.8,74.0h1.0v1.0h-1.0zM469.7,76.3h1.0v1.0h-1.0zM478.1,81.1h1.0v1.0h-1.0zM469.1,77.5h1.0v1.0h-1.0zM466.6,78.3h1.0v1.0h-1.0zM467.1,74.4h1.0v1.0h-1.0zM476.0,75.2h1.0v1.0h-1.0zM468.3,82.5h1.0v1.0h-1.0zM467.4,80.2h1.0v1.0h-1.0zM465.2,78.1h1.0v1.0h-1.0zM468.2,79.2h1.0v1.0h-1.0zM462.0,81.0h1.0v1.0h-1.0zM473.4,77.0h1.0v1.0h-1.0zM470.8,79.9h1.0v1.0h-1.0zM462.8,79.4h1.0v1.0h-1.0zM471.7,75.0h1.0v1.0h-1.0zM461.3,77.6h1.0v1.0h-1.0zM473.8,73.7h1.0v1.0h-1.0zM478.9,78.9h1.0v1.0h-1.0zM463.0,76.5h1.0v1.0h-1.0zM463.3,82.0h1.0v1.0h-1.0zM462.5,83.9h1.0v1.0h-1.0zM477.4,83.5h1.0v1.0h-1.0zM464.9,76.1h1.0v1.0h-1.0zM472.5,79.9h1.0v1.0h-1.0zM464.1,76.0h1.0v1.0h-1.0zM475.1,74.9h1.0v1.0h-1.0zM471.3,75.5h1.0v1.0h-1.0zM470.5,75.7h1.0v1.0h-1.0zM475.9,76.5h1.0v1.0h-1.0zM467.1,78.5h1.0v1.0h-1.0zM472.1,80.2h1.0v1.0h-1.0zM474.1,81.9h1.0v1.0h-1.0zM467.9,78.2h1.0v1.0h-1.0zM474.9,83.3h1.0v1.0h-1.0zM461.9,76.4h1.0v1.0h-1.0zM477.4,79.5h1.0v1.0h-1.0zM472.9,83.2h1.0v1.0h-1.0zM471.8,81.6h1.0v1.0h-1.0zM474.3,82.2h1.0v1.0h-1.0zM466.3,79.8h1.0v1.0h-1.0zM467.9,82.0h1.0v1.0h-1.0zM469.7,79.0h1.0v1.0h-1.0zM471.2,83.4h1.0v1.0h-1.0zM478.7,77.6h1.0v1.0h-1.0zM477.9,76.9h1.0v1.0h-1.0zM477.7,82.0h1.0v1.0h-1.0zM470.8,80.0h1.0v1.0h-1.0zM468.8,84.1h1.0v1.0h-1.0zM470.2,81.0h1.0v1.0h-1.0zM475.5,75.5h1.0v1.0h-1.0zM470.4,77.0h1.0v1.0h-1.0zM464.0,79.9h1.0v1.0h-1.0zM471.3,75.9h1.0v1.0h-1.0zM472.4,75.5h1.0v1.0h-1.0zM471.4,80.1h1.0v1.0h-1.0zM468.8,74.1h1.0v1.0h-1.0zM465.6,77.7h1.0v1.0h-1.0zM460.0,79.3h1.0v1.0h-1.0zM473.3,83.5h1.0v1.0h-1.0zM472.6,79.7h1.0v1.0h-1.0zM463.0,83.8h1.0v1.0h-1.0zM462.5,77.8h1.0v1.0h-1.0zM472.8,80.7h1.0v1.0h-1.0zM468.4,79.7h1.0v1.0h-1.0zM475.7,79.6h1.0v1.0h-1.0zM463.0,80.0h1.0v1.0h-1.0z"/>
<path fill="#414141" fill-opacity="0.27" d="M476.0,76.0h1.0v1.0h-1.0zM473.9,80.5h1.0v1.0h-1.0zM467.8,79.9h1.0v1.0h-1.0zM461.2,81.4h1.0v1.0h-1.0zM468.0,82.5h1.0v1.0h-1.0zM466.9,80.6h1.0v1.0h-1.0zM474.1,82.0h1.0v1.0h-1.0zM470.0,77.9h1.0v1.0h-1.0zM471.8,80.9h1.0v1.0h-1.0zM464.3,83.1h1.0v1.0h-1.0zM465.6,81.5h1.0v1.0h-1.0zM473.7,76.7h1.0v1.0h-1.0zM469.4,80.5h1.0v1.0h-1.0zM466.0,75.0h1.0v1.0h-1.0zM467.8,82.4h1.0v1.0h-1.0zM464.4,76.7h1.0v1.0h-1.0zM479.3,81.0h1.0v1.0h-1.0zM471.7,77.2h1.0v1.0h-1.0zM469.7,80.0h1.0v1.0h-1.0zM463.8,80.0h1.0v1.0h-1.0zM467.8,75.3h1.0v1.0h-1.0zM469.1,77.1h1.0v1.0h-1.0zM463.2,75.1h1.0v1.0h-1.0zM469.2,78.3h1.0v1.0h-1.0zM466.0,80.8h1.0v1.0h-1.0zM464.6,79.4h1.0v1.0h-1.0zM469.3,77.8h1.0v1.0h-1.0zM460.6,78.8h1.0v1.0h-1.0zM478.2,76.0h1.0v1.0h-1.0zM479.5,78.0h1.0v1.0h-1.0zM470.5,79.4h1.0v1.0h-1.0zM465.5,75.8h1.0v1.0h-1.0zM464.7,76.1h1.0v1.0h-1.0zM476.9,79.1h1.0v1.0h-1.0zM470.9,77.1h1.0v1.0h-1.0zM470.6,76.2h1.0v1.0h-1.0zM471.1,79.3h1.0v1.0h-1.0zM477.7,78.1h1.0v1.0h-1.0zM459.3,78.1h1.0v1.0h-1.0zM463.1,80.0h1.0v1.0h-1.0zM471.8,76.3h1.0v1.0h-1.0zM465.0,80.0h1.0v1.0h-1.0zM474.6,74.2h1.0v1.0h-1.0zM462.5,77.4h1.0v1.0h-1.0zM474.4,80.1h1.0v1.0h-1.0zM477.0,81.8h1.0v1.0h-1.0zM473.1,76.5h1.0v1.0h-1.0zM470.3,78.4h1.0v1.0h-1.0zM475.8,79.1h1.0v1.0h-1.0zM469.3,76.0h1.0v1.0h-1.0zM468.9,82.4h1.0v1.0h-1.0zM479.7,79.3h1.0v1.0h-1.0zM471.4,82.3h1.0v1.0h-1.0zM480.1,78.9h1.0v1.0h-1.0zM462.3,77.0h1.0v1.0h-1.0zM471.0,75.8h1.0v1.0h-1.0zM474.8,76.2h1.0v1.0h-1.0zM479.7,77.6h1.0v1.0h-1.0zM471.2,80.1h1.0v1.0h-1.0zM467.0,76.7h1.0v1.0h-1.0zM468.8,79.3h1.0v1.0h-1.0zM464.1,75.2h1.0v1.0h-1.0zM466.2,74.6h1.0v1.0h-1.0zM461.4,74.3h1.0v1.0h-1.0zM468.2,76.6h1.0v1.0h-1.0zM468.5,74.5h1.0v1.0h-1.0zM475.9,78.4h1.0v1.0h-1.0zM466.4,82.9h1.0v1.0h-1.0zM469.6,75.2h1.0v1.0h-1.0zM460.5,78.7h1.0v1.0h-1.0zM467.9,81.3h1.0v1.0h-1.0zM479.5,78.8h1.0v1.0h-1.0zM478.0,81.3h1.0v1.0h-1.0zM464.8,78.8h1.0v1.0h-1.0zM469.3,80.3h1.0v1.0h-1.0zM460.5,76.4h1.0v1.0h-1.0zM470.6,75.6h1.0v1.0h-1.0zM480.3,79.0h1.0v1.0h-1.0zM472.5,81.8h1.0v1.0h-1.0zM470.2,79.1h1.0v1.0h-1.0zM470.2,77.3h1.0v1.0h-1.0zM473.9,82.3h1.0v1.0h-1.0zM467.3,77.3h1.0v1.0h-1.0zM473.2,73.4h1.0v1.0h-1.0zM475.1,82.4h1.0v1.0h-1.0zM472.7,84.0h1.0v1.0h-1.0z"/>
<path fill="#414141" fill-opacity="0.27" d="M473.1,76.2h1.0v1.0h-1.0zM469.5,82.6h1.0v1.0h-1.0zM479.2,79.7h1.0v1.0h-1.0zM468.0,78.0h1.0v1.0h-1.0zM458.8,78.8h1.0v1.0h-1.0zM470.8,76.1h1.0v1.0h-1.0zM466.1,74.8h1.0v1.0h-1.0zM477.9,75.5h1.0v1.0h-1.0zM467.4,82.4h1.0v1.0h-1.0zM474.4,77.1h1.0v1.0h-1.0zM465.6,80.0h1.0v1.0h-1.0zM463.5,74.8h1.0v1.0h-1.0zM467.3,80.6h1.0v1.0h-1.0zM465.3,79.5h1.0v1.0h-1.0zM472.2,78.6h1.0v1.0h-1.0zM472.7,77.2h1.0v1.0h-1.0zM469.9,78.9h1.0v1.0h-1.0zM462.4,82.0h1.0v1.0h-1.0zM470.5,76.2h1.0v1.0h-1.0zM471.3,79.3h1.0v1.0h-1.0zM466.3,82.6h1.0v1.0h-1.0zM469.5,78.1h1.0v1.0h-1.0zM475.9,76.2h1.0v1.0h-1.0zM470.3,80.7h1.0v1.0h-1.0zM470.6,75.3h1.0v1.0h-1.0zM477.3,78.9h1.0v1.0h-1.0zM465.7,75.1h1.0v1.0h-1.0zM473.1,82.1h1.0v1.0h-1.0zM459.5,76.0h1.0v1.0h-1.0zM465.7,78.7h1.0v1.0h-1.0zM473.0,75.9h1.0v1.0h-1.0zM468.4,77.0h1.0v1.0h-1.0zM458.2,76.7h1.0v1.0h-1.0zM475.9,79.0h1.0v1.0h-1.0zM462.1,77.0h1.0v1.0h-1.0zM472.6,81.9h1.0v1.0h-1.0zM476.6,77.0h1.0v1.0h-1.0zM475.6,80.0h1.0v1.0h-1.0zM479.4,76.4h1.0v1.0h-1.0zM467.2,78.9h1.0v1.0h-1.0zM474.8,76.2h1.0v1.0h-1.0zM473.4,73.4h1.0v1.0h-1.0zM472.8,80.1h1.0v1.0h-1.0zM474.1,80.0h1.0v1.0h-1.0zM470.7,76.0h1.0v1.0h-1.0zM466.9,76.1h1.0v1.0h-1.0zM470.4,77.1h1.0v1.0h-1.0zM470.1,77.1h1.0v1.0h-1.0zM467.1,78.6h1.0v1.0h-1.0zM463.0,75.2h1.0v1.0h-1.0zM464.6,77.2h1.0v1.0h-1.0zM469.2,77.7h1.0v1.0h-1.0zM475.2,79.2h1.0v1.0h-1.0zM479.7,80.7h1.0v1.0h-1.0zM464.3,81.0h1.0v1.0h-1.0zM470.1,79.8h1.0v1.0h-1.0zM481.2,77.4h1.0v1.0h-1.0zM468.4,79.4h1.0v1.0h-1.0zM467.0,75.3h1.0v1.0h-1.0zM469.7,77.8h1.0v1.0h-1.0zM474.5,76.6h1.0v1.0h-1.0zM461.4,77.7h1.0v1.0h-1.0zM465.4,81.8h1.0v1.0h-1.0zM468.7,77.4h1.0v1.0h-1.0zM474.5,80.5h1.0v1.0h-1.0zM469.9,78.8h1.0v1.0h-1.0zM477.3,76.9h1.0v1.0h-1.0zM478.7,76.0h1.0v1.0h-1.0zM474.6,80.7h1.0v1.0h-1.0zM464.3,76.6h1.0v1.0h-1.0zM468.4,75.3h1.0v1.0h-1.0zM471.2,78.0h1.0v1.0h-1.0zM474.3,79.9h1.0v1.0h-1.0zM474.1,79.7h1.0v1.0h-1.0zM468.5,80.9h1.0v1.0h-1.0zM471.0,74.9h1.0v1.0h-1.0zM470.4,80.2h1.0v1.0h-1.0zM468.3,75.4h1.0v1.0h-1.0zM469.0,81.4h1.0v1.0h-1.0zM471.8,79.2h1.0v1.0h-1.0zM466.2,75.1h1.0v1.0h-1.0zM465.5,76.8h1.0v1.0h-1.0zM466.9,77.2h1.0v1.0h-1.0zM463.6,75.3h1.0v1.0h-1.0zM464.0,77.1h1.0v1.0h-1.0zM470.9,79.0h1.0v1.0h-1.0z"/>
<path fill="#464646" fill-opacity="0.2" d="M467.9,79.2h1.0v1.0h-1.0zM468.8,82.2h1.0v1.0h-1.0zM471.0,80.4h1.0v1.0h-1.0zM471.5,81.6h1.0v1.0h-1.0zM471.5,79.8h1.0v1.0h-1.0zM469.9,79.3h1.0v1.0h-1.0zM462.8,80.0h1.0v1.0h-1.0zM465.4,82.4h1.0v1.0h-1.0zM470.1,80.1h1.0v1.0h-1.0zM471.2,81.9h1.0v1.0h-1.0zM469.8,78.6h1.0v1.0h-1.0zM469.0,76.9h1.0v1.0h-1.0zM466.3,78.0h1.0v1.0h-1.0zM466.3,82.0h1.0v1.0h-1.0zM468.6,78.6h1.0v1.0h-1.0zM463.8,77.2h1.0v1.0h-1.0zM468.4,82.0h1.0v1.0h-1.0zM471.1,76.4h1.0v1.0h-1.0zM467.8,80.7h1.0v1.0h-1.0zM470.1,78.3h1.0v1.0h-1.0zM464.8,79.0h1.0v1.0h-1.0zM463.1,78.6h1.0v1.0h-1.0zM472.6,76.0h1.0v1.0h-1.0zM464.7,78.0h1.0v1.0h-1.0zM470.0,80.8h1.0v1.0h-1.0zM462.7,80.3h1.0v1.0h-1.0zM466.8,78.4h1.0v1.0h-1.0zM465.1,80.7h1.0v1.0h-1.0zM469.9,78.5h1.0v1.0h-1.0zM469.5,80.3h1.0v1.0h-1.0zM464.3,80.2h1.0v1.0h-1.0zM462.8,78.8h1.0v1.0h-1.0zM469.8,77.4h1.0v1.0h-1.0zM465.8,77.8h1.0v1.0h-1.0z"/>
<path fill="#464646" fill-opacity="0.2" d="M463.7,80.3h1.0v1.0h-1.0zM467.9,81.8h1.0v1.0h-1.0zM469.7,81.5h1.0v1.0h-1.0zM465.3,79.3h1.0v1.0h-1.0zM473.1,79.1h1.0v1.0h-1.0zM466.4,76.7h1.0v1.0h-1.0zM471.3,79.6h1.0v1.0h-1.0zM469.0,76.0h1.0v1.0h-1.0zM467.8,76.2h1.0v1.0h-1.0zM462.3,78.8h1.0v1.0h-1.0zM464.2,77.7h1.0v1.0h-1.0zM467.9,79.8h1.0v1.0h-1.0zM472.3,78.6h1.0v1.0h-1.0zM468.7,82.5h1.0v1.0h-1.0zM466.9,75.8h1.0v1.0h-1.0zM466.6,77.2h1.0v1.0h-1.0zM472.8,78.4h1.0v1.0h-1.0zM468.2,76.4h1.0v1.0h-1.0zM467.5,81.5h1.0v1.0h-1.0zM468.4,80.7h1.0v1.0h-1.0zM466.7,76.3h1.0v1.0h-1.0zM471.9,81.5h1.0v1.0h-1.0zM470.8,77.2h1.0v1.0h-1.0zM464.0,80.5h1.0v1.0h-1.0zM466.0,80.8h1.0v1.0h-1.0zM462.9,77.4h1.0v1.0h-1.0zM464.2,78.1h1.0v1.0h-1.0zM472.0,78.1h1.0v1.0h-1.0zM464.9,76.9h1.0v1.0h-1.0zM463.3,77.6h1.0v1.0h-1.0zM467.9,81.2h1.0v1.0h-1.0zM469.4,78.9h1.0v1.0h-1.0zM462.2,78.7h1.0v1.0h-1.0zM463.3,79.5h1.0v1.0h-1.0z"/>
<path fill="#464646" fill-opacity="0.2" d="M467.6,80.1h1.0v1.0h-1.0zM470.7,77.7h1.0v1.0h-1.0zM471.3,75.6h1.0v1.0h-1.0zM472.2,80.8h1.0v1.0h-1.0zM467.1,76.2h1.0v1.0h-1.0zM469.0,76.0h1.0v1.0h-1.0zM467.8,79.2h1.0v1.0h-1.0zM472.0,81.2h1.0v1.0h-1.0zM467.2,80.1h1.0v1.0h-1.0zM469.3,76.2h1.0v1.0h-1.0zM467.5,76.6h1.0v1.0h-1.0zM463.6,76.6h1.0v1.0h-1.0zM470.2,77.7h1.0v1.0h-1.0zM472.0,82.6h1.0v1.0h-1.0zM468.9,79.6h1.0v1.0h-1.0zM471.0,76.4h1.0v1.0h-1.0zM473.2,77.9h1.0v1.0h-1.0zM470.4,76.9h1.0v1.0h-1.0zM470.4,79.5h1.0v1.0h-1.0zM466.1,82.2h1.0v1.0h-1.0zM463.9,79.6h1.0v1.0h-1.0zM465.1,76.8h1.0v1.0h-1.0zM471.6,77.0h1.0v1.0h-1.0zM468.3,77.0h1.0v1.0h-1.0zM474.0,79.0h1.0v1.0h-1.0zM466.2,79.2h1.0v1.0h-1.0zM469.6,78.8h1.0v1.0h-1.0zM465.4,78.6h1.0v1.0h-1.0zM470.7,79.0h1.0v1.0h-1.0zM462.8,80.5h1.0v1.0h-1.0zM466.4,79.2h1.0v1.0h-1.0zM462.1,76.4h1.0v1.0h-1.0zM467.6,79.7h1.0v1.0h-1.0z"/>
<path fill="#464646" fill-opacity="0.2" d="M470.0,76.5h1.0v1.0h-1.0zM472.6,76.4h1.0v1.0h-1.0zM463.3,75.7h1.0v1.0h-1.0zM465.2,79.7h1.0v1.0h-1.0zM471.1,80.2h1.0v1.0h-1.0zM468.0,80.4h1.0v1.0h-1.0zM465.8,80.6h1.0v1.0h-1.0zM472.5,78.7h1.0v1.0h-1.0zM469.1,76.4h1.0v1.0h-1.0zM463.6,76.1h1.0v1.0h-1.0zM468.9,81.1h1.0v1.0h-1.0zM466.7,82.2h1.0v1.0h-1.0zM463.8,76.8h1.0v1.0h-1.0zM465.8,77.3h1.0v1.0h-1.0zM463.9,79.4h1.0v1.0h-1.0zM468.2,80.1h1.0v1.0h-1.0zM466.7,80.1h1.0v1.0h-1.0zM467.6,80.4h1.0v1.0h-1.0zM464.2,75.6h1.0v1.0h-1.0zM470.8,77.1h1.0v1.0h-1.0zM464.7,78.3h1.0v1.0h-1.0zM465.4,77.4h1.0v1.0h-1.0zM466.4,77.2h1.0v1.0h-1.0zM471.4,79.3h1.0v1.0h-1.0zM471.7,77.9h1.0v1.0h-1.0zM463.3,76.7h1.0v1.0h-1.0zM462.6,78.7h1.0v1.0h-1.0zM473.6,77.1h1.0v1.0h-1.0zM472.6,77.3h1.0v1.0h-1.0zM464.9,77.4h1.0v1.0h-1.0zM468.5,77.3h1.0v1.0h-1.0zM470.6,76.7h1.0v1.0h-1.0zM469.7,77.2h1.0v1.0h-1.0z"/>
<path fill="#464646" fill-opacity="0.2" d="M470.8,76.6h1.0v1.0h-1.0zM468.4,78.2h1.0v1.0h-1.0zM470.8,77.9h1.0v1.0h-1.0zM473.3,79.4h1.0v1.0h-1.0zM465.3,76.4h1.0v1.0h-1.0zM473.6,79.3h1.0v1.0h-1.0zM464.6,78.3h1.0v1.0h-1.0zM463.1,80.7h1.0v1.0h-1.0zM463.2,80.4h1.0v1.0h-1.0zM468.0,75.3h1.0v1.0h-1.0zM465.6,79.7h1.0v1.0h-1.0zM463.2,79.1h1.0v1.0h-1.0zM463.8,79.1h1.0v1.0h-1.0zM473.3,78.6h1.0v1.0h-1.0zM467.3,80.5h1.0v1.0h-1.0zM469.5,80.5h1.0v1.0h-1.0zM467.4,77.3h1.0v1.0h-1.0zM465.3,75.4h1.0v1.0h-1.0zM469.2,80.5h1.0v1.0h-1.0zM467.0,79.5h1.0v1.0h-1.0zM465.6,77.7h1.0v1.0h-1.0zM465.0,78.9h1.0v1.0h-1.0zM463.2,79.4h1.0v1.0h-1.0zM466.8,78.8h1.0v1.0h-1.0zM469.6,78.3h1.0v1.0h-1.0zM465.0,78.3h1.0v1.0h-1.0zM465.3,78.0h1.0v1.0h-1.0zM469.8,76.3h1.0v1.0h-1.0zM471.9,79.9h1.0v1.0h-1.0zM465.4,75.3h1.0v1.0h-1.0zM464.6,81.0h1.0v1.0h-1.0zM466.0,78.4h1.0v1.0h-1.0zM463.2,79.6h1.0v1.0h-1.0z"/>
<path fill="#464646" fill-opacity="0.2" d="M463.4,80.7h1.0v1.0h-1.0zM468.8,83.9h1.0v1.0h-1.0zM464.6,79.9h1.0v1.0h-1.0zM465.8,77.5h1.0v1.0h-1.0zM464.8,80.6h1.0v1.0h-1.0zM466.3,78.7h1.0v1.0h-1.0zM471.3,80.9h1.0v1.0h-1.0zM472.4,77.8h1.0v1.0h-1.0zM471.3,82.8h1.0v1.0h-1.0zM469.1,77.9h1.0v1.0h-1.0zM463.4,77.4h1.0v1.0h-1.0zM465.3,79.8h1.0v1.0h-1.0zM469.6,78.3h1.0v1.0h-1.0zM467.9,74.4h1.0v1.0h-1.0zM463.1,80.1h1.0v1.0h-1.0zM468.9,81.3h1.0v1.0h-1.0zM463.6,78.1h1.0v1.0h-1.0zM471.7,79.5h1.0v1.0h-1.0zM465.1,78.7h1.0v1.0h-1.0zM464.1,80.0h1.0v1.0h-1.0zM471.2,77.4h1.0v1.0h-1.0zM472.4,79.6h1.0v1.0h-1.0zM473.3,78.6h1.0v1.0h-1.0zM472.5,77.9h1.0v1.0h-1.0zM466.4,77.9h1.0v1.0h-1.0zM467.1,78.0h1.0v1.0h-1.0zM466.0,81.2h1.0v1.0h-1.0zM468.2,80.9h1.0v1.0h-1.0zM472.2,79.5h1.0v1.0h-1.0zM473.5,81.1h1.0v1.0h-1.0zM465.1,75.6h1.0v1.0h-1.0zM464.3,79.9h1.0v1.0h-1.0zM467.0,80.3h1.0v1.0h-1.0z"/>
<path fill="#646464" fill-opacity="0.2" d="M457.2,75.1h1.0v1.0h-1.0zM465.4,74.5h1.0v1.0h-1.0zM476.2,73.8h1.0v1.0h-1.0zM472.3,79.4h1.0v1.0h-1.0zM473.9,77.1h1.0v1.0h-1.0zM464.1,82.5h1.0v1.0h-1.0zM466.7,79.0h1.0v1.0h-1.0zM462.2,84.2h1.0v1.0h-1.0zM467.1,70.4h1.0v1.0h-1.0zM476.2,75.7h1.0v1.0h-1.0zM481.3,81.4h1.0v1.0h-1.0zM476.7,81.9h1.0v1.0h-1.0zM469.5,79.5h1.0v1.0h-1.0zM482.2,79.7h1.0v1.0h-1.0zM465.2,79.9h1.0v1.0h-1.0zM459.3,79.7h1.0v1.0h-1.0zM454.2,79.7h1.0v1.0h-1.0zM479.0,80.2h1.0v1.0h-1.0zM479.3,73.4h1.0v1.0h-1.0zM470.1,78.3h1.0v1.0h-1.0zM468.6,80.7h1.0v1.0h-1.0zM470.9,80.5h1.0v1.0h-1.0zM467.5,81.0h1.0v1.0h-1.0zM459.5,69.9h1.0v1.0h-1.0zM465.7,76.5h1.0v1.0h-1.0zM463.1,76.4h1.0v1.0h-1.0zM461.9,75.0h1.0v1.0h-1.0zM471.5,78.7h1.0v1.0h-1.0zM475.8,78.7h1.0v1.0h-1.0zM475.2,78.8h1.0v1.0h-1.0zM478.8,76.3h1.0v1.0h-1.0zM476.3,77.7h1.0v1.0h-1.0zM475.8,75.5h1.0v1.0h-1.0zM460.7,79.8h1.0v1.0h-1.0z"/>
<path fill="#646464" fill-opacity="0.2" d="M468.5,79.2h1.0v1.0h-1.0zM473.2,79.2h1.0v1.0h-1.0zM460.6,79.7h1.0v1.0h-1.0zM466.9,76.0h1.0v1.0h-1.0zM481.2,75.2h1.0v1.0h-1.0zM479.2,80.1h1.0v1.0h-1.0zM464.4,77.6h1.0v1.0h-1.0zM473.7,78.5h1.0v1.0h-1.0zM462.0,78.3h1.0v1.0h-1.0zM477.2,77.4h1.0v1.0h-1.0zM471.0,83.4h1.0v1.0h-1.0zM468.9,86.0h1.0v1.0h-1.0zM477.5,78.8h1.0v1.0h-1.0zM469.6,82.1h1.0v1.0h-1.0zM472.9,76.6h1.0v1.0h-1.0zM467.5,76.5h1.0v1.0h-1.0zM468.9,78.9h1.0v1.0h-1.0zM474.2,79.1h1.0v1.0h-1.0zM473.4,75.3h1.0v1.0h-1.0zM468.7,78.6h1.0v1.0h-1.0zM469.9,75.8h1.0v1.0h-1.0zM463.5,78.3h1.0v1.0h-1.0zM475.5,77.3h1.0v1.0h-1.0zM482.0,77.2h1.0v1.0h-1.0zM461.6,79.5h1.0v1.0h-1.0zM475.8,80.8h1.0v1.0h-1.0zM467.1,78.6h1.0v1.0h-1.0zM459.3,84.9h1.0v1.0h-1.0zM464.5,71.5h1.0v1.0h-1.0zM476.3,82.8h1.0v1.0h-1.0zM469.0,80.8h1.0v1.0h-1.0zM467.8,73.2h1.0v1.0h-1.0zM459.1,76.4h1.0v1.0h-1.0zM458.4,77.9h1.0v1.0h-1.0z"/>
<path fill="#646464" fill-opacity="0.2" d="M461.8,82.9h1.0v1.0h-1.0zM475.4,73.2h1.0v1.0h-1.0zM481.9,76.5h1.0v1.0h-1.0zM473.9,85.8h1.0v1.0h-1.0zM473.5,78.0h1.0v1.0h-1.0zM474.9,78.0h1.0v1.0h-1.0zM479.5,77.9h1.0v1.0h-1.0zM463.9,78.8h1.0v1.0h-1.0zM470.6,76.6h1.0v1.0h-1.0zM471.4,77.9h1.0v1.0h-1.0zM466.3,77.5h1.0v1.0h-1.0zM466.1,80.0h1.0v1.0h-1.0zM466.5,77.0h1.0v1.0h-1.0zM471.8,83.1h1.0v1.0h-1.0zM471.6,75.7h1.0v1.0h-1.0zM475.4,81.6h1.0v1.0h-1.0zM464.6,79.4h1.0v1.0h-1.0zM457.6,81.4h1.0v1.0h-1.0zM469.1,77.2h1.0v1.0h-1.0zM466.5,78.2h1.0v1.0h-1.0zM473.5,76.7h1.0v1.0h-1.0zM461.1,79.2h1.0v1.0h-1.0zM469.4,77.5h1.0v1.0h-1.0zM475.1,80.3h1.0v1.0h-1.0zM467.0,74.2h1.0v1.0h-1.0zM461.9,76.6h1.0v1.0h-1.0zM468.0,79.4h1.0v1.0h-1.0zM470.0,81.3h1.0v1.0h-1.0zM464.2,79.8h1.0v1.0h-1.0zM475.2,76.0h1.0v1.0h-1.0zM468.7,81.6h1.0v1.0h-1.0zM464.3,79.4h1.0v1.0h-1.0zM474.3,79.9h1.0v1.0h-1.0z"/>
<path fill="#646464" fill-opacity="0.2" d="M468.1,79.1h1.0v1.0h-1.0zM470.9,76.9h1.0v1.0h-1.0zM465.0,75.4h1.0v1.0h-1.0zM468.1,82.3h1.0v1.0h-1.0zM471.4,79.7h1.0v1.0h-1.0zM461.9,81.5h1.0v1.0h-1.0zM480.9,78.4h1.0v1.0h-1.0zM464.1,75.9h1.0v1.0h-1.0zM480.6,80.2h1.0v1.0h-1.0zM473.9,82.0h1.0v1.0h-1.0zM467.9,80.7h1.0v1.0h-1.0zM467.4,72.4h1.0v1.0h-1.0zM464.7,80.3h1.0v1.0h-1.0zM463.4,80.9h1.0v1.0h-1.0zM475.8,81.3h1.0v1.0h-1.0zM473.7,83.4h1.0v1.0h-1.0zM476.3,76.9h1.0v1.0h-1.0zM470.0,79.0h1.0v1.0h-1.0zM466.5,76.5h1.0v1.0h-1.0zM475.1,78.1h1.0v1.0h-1.0zM474.6,81.1h1.0v1.0h-1.0zM470.6,79.1h1.0v1.0h-1.0zM474.1,79.3h1.0v1.0h-1.0zM475.0,82.0h1.0v1.0h-1.0zM466.8,79.6h1.0v1.0h-1.0zM478.6,80.9h1.0v1.0h-1.0zM478.8,81.9h1.0v1.0h-1.0zM483.5,78.2h1.0v1.0h-1.0zM464.0,81.5h1.0v1.0h-1.0zM474.1,78.0h1.0v1.0h-1.0zM464.1,74.4h1.0v1.0h-1.0zM471.4,74.5h1.0v1.0h-1.0zM458.9,79.1h1.0v1.0h-1.0z"/>
<path fill="#646464" fill-opacity="0.2" d="M470.0,80.9h1.0v1.0h-1.0zM469.2,77.6h1.0v1.0h-1.0zM464.3,82.3h1.0v1.0h-1.0zM466.2,78.8h1.0v1.0h-1.0zM477.9,81.2h1.0v1.0h-1.0zM466.0,84.2h1.0v1.0h-1.0zM472.7,76.1h1.0v1.0h-1.0zM469.2,84.9h1.0v1.0h-1.0zM466.6,74.0h1.0v1.0h-1.0zM467.1,76.1h1.0v1.0h-1.0zM465.3,78.2h1.0v1.0h-1.0zM463.3,82.3h1.0v1.0h-1.0zM467.5,80.2h1.0v1.0h-1.0zM464.0,80.7h1.0v1.0h-1.0zM469.2,80.7h1.0v1.0h-1.0zM466.5,77.5h1.0v1.0h-1.0zM473.5,78.3h1.0v1.0h-1.0zM467.2,74.3h1.0v1.0h-1.0zM467.3,80.9h1.0v1.0h-1.0zM465.4,78.4h1.0v1.0h-1.0zM473.0,79.6h1.0v1.0h-1.0zM479.8,80.8h1.0v1.0h-1.0zM465.9,76.2h1.0v1.0h-1.0zM467.4,78.7h1.0v1.0h-1.0zM471.2,78.1h1.0v1.0h-1.0zM469.3,81.6h1.0v1.0h-1.0zM476.0,78.7h1.0v1.0h-1.0zM463.2,81.6h1.0v1.0h-1.0zM483.1,79.6h1.0v1.0h-1.0zM472.0,81.5h1.0v1.0h-1.0zM472.3,78.3h1.0v1.0h-1.0zM474.8,78.6h1.0v1.0h-1.0zM474.1,83.5h1.0v1.0h-1.0z"/>
<path fill="#646464" fill-opacity="0.2" d="M466.9,80.8h1.0v1.0h-1.0zM468.1,76.8h1.0v1.0h-1.0zM474.2,81.3h1.0v1.0h-1.0zM480.1,78.5h1.0v1.0h-1.0zM476.4,79.8h1.0v1.0h-1.0zM474.3,78.7h1.0v1.0h-1.0zM468.5,77.4h1.0v1.0h-1.0zM460.1,80.3h1.0v1.0h-1.0zM471.2,76.8h1.0v1.0h-1.0zM481.2,81.4h1.0v1.0h-1.0zM465.3,78.0h1.0v1.0h-1.0zM460.6,87.1h1.0v1.0h-1.0zM461.5,77.5h1.0v1.0h-1.0zM484.5,83.1h1.0v1.0h-1.0zM484.1,78.2h1.0v1.0h-1.0zM472.6,71.0h1.0v1.0h-1.0zM469.2,79.0h1.0v1.0h-1.0zM478.9,84.0h1.0v1.0h-1.0zM479.6,81.4h1.0v1.0h-1.0zM470.6,78.5h1.0v1.0h-1.0zM462.2,78.1h1.0v1.0h-1.0zM469.0,77.0h1.0v1.0h-1.0zM477.7,74.7h1.0v1.0h-1.0zM475.9,80.3h1.0v1.0h-1.0zM471.1,80.6h1.0v1.0h-1.0zM478.2,82.8h1.0v1.0h-1.0zM479.9,80.0h1.0v1.0h-1.0zM471.5,76.0h1.0v1.0h-1.0zM471.4,78.5h1.0v1.0h-1.0zM466.2,79.3h1.0v1.0h-1.0zM472.0,81.5h1.0v1.0h-1.0zM476.6,77.7h1.0v1.0h-1.0zM474.7,80.2h1.0v1.0h-1.0z"/>
<path fill="#828282" fill-opacity="0.2" d="M265.6,186.9h1.0v1.0h-1.0zM252.3,186.2h1.0v1.0h-1.0zM251.5,189.2h1.0v1.0h-1.0zM269.4,189.4h1.0v1.0h-1.0zM274.6,186.4h1.0v1.0h-1.0zM273.2,188.7h1.0v1.0h-1.0zM257.0,190.0h1.0v1.0h-1.0zM254.8,185.5h1.0v1.0h-1.0zM254.9,192.1h1.0v1.0h-1.0zM252.8,186.4h1.0v1.0h-1.0zM265.9,190.2h1.0v1.0h-1.0zM257.0,184.4h1.0v1.0h-1.0zM265.2,191.5h1.0v1.0h-1.0zM254.2,191.4h1.0v1.0h-1.0zM254.4,188.0h1.0v1.0h-1.0zM262.3,191.0h1.0v1.0h-1.0zM269.9,186.0h1.0v1.0h-1.0zM272.0,187.5h1.0v1.0h-1.0zM265.1,183.5h1.0v1.0h-1.0zM269.7,188.6h1.0v1.0h-1.0zM263.3,187.5h1.0v1.0h-1.0zM249.3,185.1h1.0v1.0h-1.0zM266.3,190.7h1.0v1.0h-1.0zM259.1,189.7h1.0v1.0h-1.0zM255.3,184.7h1.0v1.0h-1.0zM253.7,185.5h1.0v1.0h-1.0zM255.9,190.3h1.0v1.0h-1.0zM247.2,185.9h1.0v1.0h-1.0zM269.6,185.8h1.0v1.0h-1.0zM254.9,185.0h1.0v1.0h-1.0zM266.6,188.9h1.0v1.0h-1.0zM248.1,187.2h1.0v1.0h-1.0zM267.3,184.8h1.0v1.0h-1.0zM259.7,187.7h1.0v1.0h-1.0zM273.8,188.2h1.0v1.0h-1.0zM256.3,190.7h1.0v1.0h-1.0zM268.8,189.1h1.0v1.0h-1.0zM253.6,185.7h1.0v1.0h-1.0zM258.5,188.4h1.0v1.0h-1.0zM263.1,189.0h1.0v1.0h-1.0zM275.6,188.9h1.0v1.0h-1.0zM254.3,186.1h1.0v1.0h-1.0zM272.9,188.0h1.0v1.0h-1.0zM267.0,189.3h1.0v1.0h-1.0zM258.7,191.8h1.0v1.0h-1.0zM271.9,190.3h1.0v1.0h-1.0zM252.8,189.1h1.0v1.0h-1.0zM253.6,183.9h1.0v1.0h-1.0zM264.3,184.7h1.0v1.0h-1.0zM252.8,191.0h1.0v1.0h-1.0z"/>
<path fill="#828282" fill-opacity="0.2" d="M272.1,187.1h1.0v1.0h-1.0zM253.8,191.9h1.0v1.0h-1.0zM258.2,185.0h1.0v1.0h-1.0zM259.0,190.7h1.0v1.0h-1.0zM255.4,190.3h1.0v1.0h-1.0zM265.3,189.5h1.0v1.0h-1.0zM260.6,186.8h1.0v1.0h-1.0zM252.1,187.5h1.0v1.0h-1.0zM266.4,184.9h1.0v1.0h-1.0zM272.7,186.2h1.0v1.0h-1.0zM260.1,186.4h1.0v1.0h-1.0zM274.2,188.0h1.0v1.0h-1.0zM272.5,187.2h1.0v1.0h-1.0zM249.2,184.9h1.0v1.0h-1.0zM275.5,186.1h1.0v1.0h-1.0zM254.2,186.5h1.0v1.0h-1.0zM245.9,186.8h1.0v1.0h-1.0zM264.4,186.0h1.0v1.0h-1.0zM250.5,192.9h1.0v1.0h-1.0zM247.3,187.1h1.0v1.0h-1.0zM273.9,188.5h1.0v1.0h-1.0zM262.1,189.5h1.0v1.0h-1.0zM269.5,189.2h1.0v1.0h-1.0zM269.4,189.9h1.0v1.0h-1.0zM254.3,186.8h1.0v1.0h-1.0zM255.6,189.0h1.0v1.0h-1.0zM260.8,188.6h1.0v1.0h-1.0zM253.7,184.3h1.0v1.0h-1.0zM247.9,187.7h1.0v1.0h-1.0zM257.3,189.1h1.0v1.0h-1.0zM253.1,190.3h1.0v1.0h-1.0zM250.6,188.1h1.0v1.0h-1.0zM258.7,187.5h1.0v1.0h-1.0zM259.3,186.3h1.0v1.0h-1.0zM258.7,185.6h1.0v1.0h-1.0zM269.9,187.8h1.0v1.0h-1.0zM257.3,189.0h1.0v1.0h-1.0zM261.4,191.4h1.0v1.0h-1.0zM254.7,184.8h1.0v1.0h-1.0zM259.6,189.0h1.0v1.0h-1.0zM257.2,189.7h1.0v1.0h-1.0zM253.1,189.7h1.0v1.0h-1.0zM257.8,192.6h1.0v1.0h-1.0zM257.8,188.2h1.0v1.0h-1.0zM249.5,185.1h1.0v1.0h-1.0zM261.6,191.1h1.0v1.0h-1.0zM257.9,185.5h1.0v1.0h-1.0zM269.8,186.3h1.0v1.0h-1.0zM264.0,191.0h1.0v1.0h-1.0zM249.6,188.1h1.0v1.0h-1.0z"/>
<path fill="#828282" fill-opacity="0.2" d="M253.5,189.8h1.0v1.0h-1.0zM259.4,186.6h1.0v1.0h-1.0zM256.9,190.9h1.0v1.0h-1.0zM263.4,188.9h1.0v1.0h-1.0zM260.8,189.4h1.0v1.0h-1.0zM264.9,190.6h1.0v1.0h-1.0zM258.5,186.7h1.0v1.0h-1.0zM263.4,191.0h1.0v1.0h-1.0zM254.4,189.5h1.0v1.0h-1.0zM254.0,187.5h1.0v1.0h-1.0zM260.0,183.1h1.0v1.0h-1.0zM250.6,187.4h1.0v1.0h-1.0zM248.7,190.0h1.0v1.0h-1.0zM268.8,189.9h1.0v1.0h-1.0zM256.8,190.7h1.0v1.0h-1.0zM269.5,192.2h1.0v1.0h-1.0zM262.3,191.7h1.0v1.0h-1.0zM258.2,188.7h1.0v1.0h-1.0zM256.0,189.0h1.0v1.0h-1.0zM250.9,186.2h1.0v1.0h-1.0zM263.4,188.3h1.0v1.0h-1.0zM273.5,186.4h1.0v1.0h-1.0zM268.5,190.6h1.0v1.0h-1.0zM266.8,191.8h1.0v1.0h-1.0zM253.5,190.4h1.0v1.0h-1.0zM266.9,190.2h1.0v1.0h-1.0zM262.4,186.8h1.0v1.0h-1.0zM267.0,193.1h1.0v1.0h-1.0zM263.9,189.4h1.0v1.0h-1.0zM263.4,188.1h1.0v1.0h-1.0zM265.6,189.1h1.0v1.0h-1.0zM270.0,189.8h1.0v1.0h-1.0zM252.9,188.0h1.0v1.0h-1.0zM264.2,188.8h1.0v1.0h-1.0zM249.8,185.5h1.0v1.0h-1.0zM267.2,188.3h1.0v1.0h-1.0zM268.8,187.7h1.0v1.0h-1.0zM257.2,186.2h1.0v1.0h-1.0zM269.1,189.8h1.0v1.0h-1.0zM255.0,189.4h1.0v1.0h-1.0zM254.5,189.1h1.0v1.0h-1.0zM269.8,190.1h1.0v1.0h-1.0zM266.4,190.4h1.0v1.0h-1.0zM258.8,191.6h1.0v1.0h-1.0zM264.8,189.2h1.0v1.0h-1.0zM263.2,182.8h1.0v1.0h-1.0zM264.8,189.6h1.0v1.0h-1.0zM253.7,188.9h1.0v1.0h-1.0zM266.5,188.2h1.0v1.0h-1.0zM255.9,186.0h1.0v1.0h-1.0z"/>
<path fill="#828282" fill-opacity="0.2" d="M259.4,191.0h1.0v1.0h-1.0zM270.7,190.3h1.0v1.0h-1.0zM251.6,187.0h1.0v1.0h-1.0zM263.0,187.0h1.0v1.0h-1.0zM275.0,187.5h1.0v1.0h-1.0zM256.2,189.0h1.0v1.0h-1.0zM268.3,187.5h1.0v1.0h-1.0zM265.7,185.0h1.0v1.0h-1.0zM249.0,186.5h1.0v1.0h-1.0zM261.1,187.0h1.0v1.0h-1.0zM254.0,187.2h1.0v1.0h-1.0zM262.2,186.8h1.0v1.0h-1.0zM265.4,187.5h1.0v1.0h-1.0zM256.1,188.6h1.0v1.0h-1.0zM262.8,190.0h1.0v1.0h-1.0zM253.9,187.6h1.0v1.0h-1.0zM254.2,184.8h1.0v1.0h-1.0zM264.1,185.9h1.0v1.0h-1.0zM256.9,189.0h1.0v1.0h-1.0zM248.1,189.4h1.0v1.0h-1.0zM261.7,190.9h1.0v1.0h-1.0zM254.7,192.1h1.0v1.0h-1.0zM248.5,188.7h1.0v1.0h-1.0zM260.1,192.0h1.0v1.0h-1.0zM267.6,188.3h1.0v1.0h-1.0zM269.0,191.0h1.0v1.0h-1.0zM259.4,186.2h1.0v1.0h-1.0zM272.0,189.2h1.0v1.0h-1.0zM259.8,190.0h1.0v1.0h-1.0zM248.3,189.8h1.0v1.0h-1.0zM251.5,188.3h1.0v1.0h-1.0zM261.8,187.6h1.0v1.0h-1.0zM248.8,187.2h1.0v1.0h-1.0zM251.8,189.7h1.0v1.0h-1.0zM260.8,188.6h1.0v1.0h-1.0zM261.8,186.9h1.0v1.0h-1.0zM256.4,191.7h1.0v1.0h-1.0zM266.8,190.8h1.0v1.0h-1.0zM263.5,188.4h1.0v1.0h-1.0zM262.9,188.4h1.0v1.0h-1.0zM261.2,188.2h1.0v1.0h-1.0zM270.8,185.9h1.0v1.0h-1.0zM266.6,184.8h1.0v1.0h-1.0zM268.2,189.4h1.0v1.0h-1.0zM270.6,187.4h1.0v1.0h-1.0zM247.0,187.6h1.0v1.0h-1.0zM262.1,187.1h1.0v1.0h-1.0zM263.0,190.2h1.0v1.0h-1.0zM267.8,187.3h1.0v1.0h-1.0zM275.2,187.0h1.0v1.0h-1.0z"/>
<path fill="#828282" fill-opacity="0.2" d="M267.0,190.2h1.0v1.0h-1.0zM265.7,190.4h1.0v1.0h-1.0zM255.0,187.9h1.0v1.0h-1.0zM267.6,186.8h1.0v1.0h-1.0zM267.1,188.9h1.0v1.0h-1.0zM260.9,188.8h1.0v1.0h-1.0zM273.7,186.7h1.0v1.0h-1.0zM255.8,189.3h1.0v1.0h-1.0zM257.5,186.9h1.0v1.0h-1.0zM273.9,185.3h1.0v1.0h-1.0zM267.0,186.2h1.0v1.0h-1.0zM263.6,187.4h1.0v1.0h-1.0zM252.3,185.0h1.0v1.0h-1.0zM250.3,187.1h1.0v1.0h-1.0zM266.7,185.4h1.0v1.0h-1.0zM264.3,185.4h1.0v1.0h-1.0zM259.3,185.5h1.0v1.0h-1.0zM273.2,187.6h1.0v1.0h-1.0zM249.4,187.6h1.0v1.0h-1.0zM255.6,186.7h1.0v1.0h-1.0zM249.7,189.9h1.0v1.0h-1.0zM253.8,191.0h1.0v1.0h-1.0zM251.9,190.4h1.0v1.0h-1.0zM268.1,187.2h1.0v1.0h-1.0zM267.0,188.8h1.0v1.0h-1.0zM270.3,186.1h1.0v1.0h-1.0zM256.1,190.9h1.0v1.0h-1.0zM256.8,187.2h1.0v1.0h-1.0zM267.7,190.2h1.0v1.0h-1.0zM264.9,187.3h1.0v1.0h-1.0zM259.4,185.2h1.0v1.0h-1.0zM270.3,189.5h1.0v1.0h-1.0zM263.5,185.3h1.0v1.0h-1.0zM263.9,190.2h1.0v1.0h-1.0zM267.4,183.9h1.0v1.0h-1.0zM254.2,185.5h1.0v1.0h-1.0zM272.5,188.1h1.0v1.0h-1.0zM262.4,192.2h1.0v1.0h-1.0zM254.4,186.6h1.0v1.0h-1.0zM261.5,185.3h1.0v1.0h-1.0zM253.8,190.3h1.0v1.0h-1.0zM258.6,184.9h1.0v1.0h-1.0zM269.9,190.4h1.0v1.0h-1.0zM269.8,188.0h1.0v1.0h-1.0zM259.5,191.5h1.0v1.0h-1.0zM265.9,190.6h1.0v1.0h-1.0zM272.0,186.9h1.0v1.0h-1.0zM265.7,186.1h1.0v1.0h-1.0zM251.9,188.0h1.0v1.0h-1.0zM267.4,191.6h1.0v1.0h-1.0z"/>
<path fill="#828282" fill-opacity="0.2" d="M252.9,185.2h1.0v1.0h-1.0zM249.8,184.5h1.0v1.0h-1.0zM256.8,186.2h1.0v1.0h-1.0zM259.2,186.5h1.0v1.0h-1.0zM252.6,188.5h1.0v1.0h-1.0zM250.3,187.6h1.0v1.0h-1.0zM260.7,189.6h1.0v1.0h-1.0zM251.0,188.0h1.0v1.0h-1.0zM264.4,189.3h1.0v1.0h-1.0zM272.8,189.9h1.0v1.0h-1.0zM270.0,189.6h1.0v1.0h-1.0zM270.1,186.6h1.0v1.0h-1.0zM263.4,182.9h1.0v1.0h-1.0zM250.3,192.5h1.0v1.0h-1.0zM270.2,191.3h1.0v1.0h-1.0zM250.8,190.7h1.0v1.0h-1.0zM259.1,188.4h1.0v1.0h-1.0zM261.6,190.2h1.0v1.0h-1.0zM252.1,185.0h1.0v1.0h-1.0zM255.0,188.1h1.0v1.0h-1.0zM251.4,186.8h1.0v1.0h-1.0zM263.3,188.3h1.0v1.0h-1.0zM260.7,187.5h1.0v1.0h-1.0zM265.0,188.1h1.0v1.0h-1.0zM269.4,185.9h1.0v1.0h-1.0zM263.3,185.1h1.0v1.0h-1.0zM263.9,186.2h1.0v1.0h-1.0zM258.2,185.1h1.0v1.0h-1.0zM251.2,186.2h1.0v1.0h-1.0zM269.7,185.7h1.0v1.0h-1.0zM265.9,190.7h1.0v1.0h-1.0zM268.5,189.1h1.0v1.0h-1.0zM267.0,190.4h1.0v1.0h-1.0zM254.8,189.6h1.0v1.0h-1.0zM256.9,184.5h1.0v1.0h-1.0zM252.8,190.5h1.0v1.0h-1.0zM270.8,191.1h1.0v1.0h-1.0zM259.7,189.4h1.0v1.0h-1.0zM263.7,189.2h1.0v1.0h-1.0zM255.6,187.4h1.0v1.0h-1.0zM265.7,188.3h1.0v1.0h-1.0zM261.6,189.6h1.0v1.0h-1.0zM269.1,189.8h1.0v1.0h-1.0zM269.4,192.4h1.0v1.0h-1.0zM251.8,187.2h1.0v1.0h-1.0zM253.7,185.5h1.0v1.0h-1.0zM263.4,186.7h1.0v1.0h-1.0zM269.0,184.7h1.0v1.0h-1.0zM247.7,188.6h1.0v1.0h-1.0zM264.6,188.7h1.0v1.0h-1.0z"/>
<path fill="#6e6e6e" fill-opacity="0.2" d="M251.1,188.5h1.0v1.0h-1.0zM249.3,187.0h1.0v1.0h-1.0zM247.3,189.2h1.0v1.0h-1.0zM253.5,189.0h1.0v1.0h-1.0zM254.3,189.7h1.0v1.0h-1.0zM247.6,185.8h1.0v1.0h-1.0zM248.6,186.5h1.0v1.0h-1.0zM255.3,190.7h1.0v1.0h-1.0zM252.9,186.9h1.0v1.0h-1.0zM245.6,188.4h1.0v1.0h-1.0zM251.2,185.5h1.0v1.0h-1.0zM251.3,185.3h1.0v1.0h-1.0zM249.2,183.9h1.0v1.0h-1.0zM253.2,188.6h1.0v1.0h-1.0zM255.7,189.7h1.0v1.0h-1.0zM248.9,189.5h1.0v1.0h-1.0zM256.3,187.4h1.0v1.0h-1.0zM247.8,190.5h1.0v1.0h-1.0zM255.5,185.8h1.0v1.0h-1.0zM248.6,187.8h1.0v1.0h-1.0zM251.6,186.7h1.0v1.0h-1.0zM252.8,185.5h1.0v1.0h-1.0zM247.8,189.8h1.0v1.0h-1.0zM245.3,186.0h1.0v1.0h-1.0zM247.5,187.3h1.0v1.0h-1.0z"/>
<path fill="#6e6e6e" fill-opacity="0.2" d="M253.1,187.4h1.0v1.0h-1.0zM254.2,189.9h1.0v1.0h-1.0zM249.5,188.4h1.0v1.0h-1.0zM253.6,189.0h1.0v1.0h-1.0zM253.9,189.2h1.0v1.0h-1.0zM250.7,185.3h1.0v1.0h-1.0zM250.0,189.3h1.0v1.0h-1.0zM246.5,186.9h1.0v1.0h-1.0zM245.3,188.2h1.0v1.0h-1.0zM254.0,187.3h1.0v1.0h-1.0zM253.9,190.4h1.0v1.0h-1.0zM253.8,186.3h1.0v1.0h-1.0zM254.3,187.0h1.0v1.0h-1.0zM254.1,190.7h1.0v1.0h-1.0zM251.5,190.5h1.0v1.0h-1.0zM252.3,188.1h1.0v1.0h-1.0zM247.2,185.5h1.0v1.0h-1.0zM251.2,189.0h1.0v1.0h-1.0zM253.4,190.0h1.0v1.0h-1.0zM256.9,188.3h1.0v1.0h-1.0zM254.7,185.2h1.0v1.0h-1.0zM250.0,186.0h1.0v1.0h-1.0zM248.0,189.8h1.0v1.0h-1.0zM253.7,187.6h1.0v1.0h-1.0zM253.8,187.7h1.0v1.0h-1.0z"/>
<path fill="#6e6e6e" fill-opacity="0.2" d="M247.4,188.4h1.0v1.0h-1.0zM252.7,186.1h1.0v1.0h-1.0zM248.7,184.8h1.0v1.0h-1.0zM249.4,187.8h1.0v1.0h-1.0zM254.4,190.4h1.0v1.0h-1.0zM252.5,188.2h1.0v1.0h-1.0zM248.6,188.3h1.0v1.0h-1.0zM247.8,184.5h1.0v1.0h-1.0zM249.0,186.7h1.0v1.0h-1.0zM254.4,185.5h1.0v1.0h-1.0zM249.0,187.7h1.0v1.0h-1.0zM251.0,188.2h1.0v1.0h-1.0zM252.2,189.1h1.0v1.0h-1.0zM248.3,183.9h1.0v1.0h-1.0zM254.8,186.2h1.0v1.0h-1.0zM247.6,184.4h1.0v1.0h-1.0zM250.4,189.0h1.0v1.0h-1.0zM251.6,187.6h1.0v1.0h-1.0zM252.3,189.4h1.0v1.0h-1.0zM253.9,192.2h1.0v1.0h-1.0zM252.8,191.4h1.0v1.0h-1.0zM254.2,190.7h1.0v1.0h-1.0zM250.5,187.3h1.0v1.0h-1.0zM255.3,189.0h1.0v1.0h-1.0zM255.7,190.1h1.0v1.0h-1.0z"/>
<path fill="#6e6e6e" fill-opacity="0.2" d="M249.4,187.6h1.0v1.0h-1.0zM254.9,186.7h1.0v1.0h-1.0zM247.9,189.1h1.0v1.0h-1.0zM250.8,186.2h1.0v1.0h-1.0zM250.1,190.0h1.0v1.0h-1.0zM252.8,188.6h1.0v1.0h-1.0zM255.0,188.1h1.0v1.0h-1.0zM252.0,190.0h1.0v1.0h-1.0zM248.5,186.4h1.0v1.0h-1.0zM247.1,189.9h1.0v1.0h-1.0zM247.9,188.7h1.0v1.0h-1.0zM256.1,189.4h1.0v1.0h-1.0zM249.6,187.9h1.0v1.0h-1.0zM253.7,187.0h1.0v1.0h-1.0zM250.1,185.0h1.0v1.0h-1.0zM250.5,185.4h1.0v1.0h-1.0zM251.8,189.6h1.0v1.0h-1.0zM255.0,186.3h1.0v1.0h-1.0zM246.4,188.9h1.0v1.0h-1.0zM249.4,187.0h1.0v1.0h-1.0zM253.2,188.5h1.0v1.0h-1.0zM247.2,187.2h1.0v1.0h-1.0zM250.4,188.4h1.0v1.0h-1.0zM250.9,185.7h1.0v1.0h-1.0zM249.4,191.7h1.0v1.0h-1.0z"/>
<path fill="#6e6e6e" fill-opacity="0.2" d="M247.3,191.2h1.0v1.0h-1.0zM249.0,188.9h1.0v1.0h-1.0zM253.2,186.6h1.0v1.0h-1.0zM248.3,189.8h1.0v1.0h-1.0zM249.1,187.8h1.0v1.0h-1.0zM254.4,186.7h1.0v1.0h-1.0zM248.5,187.9h1.0v1.0h-1.0zM247.1,186.1h1.0v1.0h-1.0zM248.0,187.4h1.0v1.0h-1.0zM250.2,191.2h1.0v1.0h-1.0zM254.3,187.6h1.0v1.0h-1.0zM248.8,185.5h1.0v1.0h-1.0zM253.7,186.8h1.0v1.0h-1.0zM249.8,189.7h1.0v1.0h-1.0zM249.4,187.9h1.0v1.0h-1.0zM253.4,187.5h1.0v1.0h-1.0zM248.2,187.4h1.0v1.0h-1.0zM252.0,189.7h1.0v1.0h-1.0zM253.4,188.9h1.0v1.0h-1.0zM255.0,190.5h1.0v1.0h-1.0zM248.9,189.0h1.0v1.0h-1.0zM250.4,188.5h1.0v1.0h-1.0zM249.8,189.8h1.0v1.0h-1.0zM247.3,185.3h1.0v1.0h-1.0zM254.1,183.5h1.0v1.0h-1.0z"/>
<path fill="#6e6e6e" fill-opacity="0.2" d="M248.8,191.1h1.0v1.0h-1.0zM249.5,184.4h1.0v1.0h-1.0zM247.4,188.9h1.0v1.0h-1.0zM250.6,185.1h1.0v1.0h-1.0zM251.5,187.4h1.0v1.0h-1.0zM250.5,190.8h1.0v1.0h-1.0zM255.2,189.6h1.0v1.0h-1.0zM248.7,185.0h1.0v1.0h-1.0zM247.5,188.2h1.0v1.0h-1.0zM251.0,184.5h1.0v1.0h-1.0zM249.9,184.8h1.0v1.0h-1.0zM246.4,189.5h1.0v1.0h-1.0zM249.4,189.7h1.0v1.0h-1.0zM251.0,190.3h1.0v1.0h-1.0zM254.9,187.6h1.0v1.0h-1.0zM254.4,187.8h1.0v1.0h-1.0zM252.9,187.8h1.0v1.0h-1.0zM254.1,185.6h1.0v1.0h-1.0zM248.7,188.2h1.0v1.0h-1.0zM246.5,188.4h1.0v1.0h-1.0zM249.7,186.9h1.0v1.0h-1.0zM248.7,187.5h1.0v1.0h-1.0zM248.4,188.6h1.0v1.0h-1.0zM254.9,190.1h1.0v1.0h-1.0zM253.8,186.5h1.0v1.0h-1.0z"/>
<path fill="#8c8c8c" fill-opacity="0.2" d="M246.9,189.6h1.0v1.0h-1.0zM253.1,193.0h1.0v1.0h-1.0zM273.4,185.8h1.0v1.0h-1.0zM261.2,188.6h1.0v1.0h-1.0zM268.6,188.1h1.0v1.0h-1.0zM265.6,191.7h1.0v1.0h-1.0zM264.3,184.1h1.0v1.0h-1.0zM273.7,188.2h1.0v1.0h-1.0zM250.6,187.8h1.0v1.0h-1.0zM259.0,185.8h1.0v1.0h-1.0zM252.1,185.2h1.0v1.0h-1.0zM266.2,190.9h1.0v1.0h-1.0zM247.2,188.8h1.0v1.0h-1.0zM255.4,186.5h1.0v1.0h-1.0zM263.8,191.0h1.0v1.0h-1.0zM270.5,188.2h1.0v1.0h-1.0zM265.7,189.6h1.0v1.0h-1.0zM255.8,186.7h1.0v1.0h-1.0zM267.2,185.7h1.0v1.0h-1.0zM233.9,186.8h1.0v1.0h-1.0zM263.6,191.9h1.0v1.0h-1.0zM256.2,193.1h1.0v1.0h-1.0zM259.3,193.2h1.0v1.0h-1.0zM257.1,190.8h1.0v1.0h-1.0zM265.5,189.7h1.0v1.0h-1.0zM279.4,186.6h1.0v1.0h-1.0zM264.9,185.5h1.0v1.0h-1.0zM275.0,188.8h1.0v1.0h-1.0zM272.1,184.3h1.0v1.0h-1.0zM248.8,188.2h1.0v1.0h-1.0zM265.8,190.4h1.0v1.0h-1.0zM252.5,182.4h1.0v1.0h-1.0zM257.4,187.8h1.0v1.0h-1.0zM262.9,184.1h1.0v1.0h-1.0z"/>
<path fill="#8c8c8c" fill-opacity="0.2" d="M262.6,189.4h1.0v1.0h-1.0zM262.5,184.7h1.0v1.0h-1.0zM265.0,189.2h1.0v1.0h-1.0zM261.4,189.7h1.0v1.0h-1.0zM269.3,190.9h1.0v1.0h-1.0zM259.9,188.2h1.0v1.0h-1.0zM265.6,189.4h1.0v1.0h-1.0zM265.6,187.6h1.0v1.0h-1.0zM264.9,187.0h1.0v1.0h-1.0zM253.5,188.2h1.0v1.0h-1.0zM248.5,185.9h1.0v1.0h-1.0zM258.8,191.2h1.0v1.0h-1.0zM251.1,186.7h1.0v1.0h-1.0zM269.2,193.4h1.0v1.0h-1.0zM276.5,186.4h1.0v1.0h-1.0zM271.4,187.6h1.0v1.0h-1.0zM245.0,191.8h1.0v1.0h-1.0zM259.2,184.0h1.0v1.0h-1.0zM258.5,182.1h1.0v1.0h-1.0zM268.6,188.5h1.0v1.0h-1.0zM266.8,187.9h1.0v1.0h-1.0zM260.1,190.9h1.0v1.0h-1.0zM261.9,184.5h1.0v1.0h-1.0zM265.1,189.5h1.0v1.0h-1.0zM279.3,186.6h1.0v1.0h-1.0zM269.5,187.5h1.0v1.0h-1.0zM264.2,192.8h1.0v1.0h-1.0zM263.7,186.9h1.0v1.0h-1.0zM247.9,189.8h1.0v1.0h-1.0zM250.8,188.9h1.0v1.0h-1.0zM256.3,190.1h1.0v1.0h-1.0zM249.7,187.2h1.0v1.0h-1.0zM256.5,191.1h1.0v1.0h-1.0zM264.0,195.8h1.0v1.0h-1.0z"/>
<path fill="#8c8c8c" fill-opacity="0.2" d="M256.4,189.9h1.0v1.0h-1.0zM249.4,191.4h1.0v1.0h-1.0zM255.9,185.2h1.0v1.0h-1.0zM254.4,190.8h1.0v1.0h-1.0zM255.4,190.1h1.0v1.0h-1.0zM264.9,187.6h1.0v1.0h-1.0zM273.6,190.1h1.0v1.0h-1.0zM251.1,189.4h1.0v1.0h-1.0zM253.6,188.0h1.0v1.0h-1.0zM258.8,188.0h1.0v1.0h-1.0zM259.2,189.8h1.0v1.0h-1.0zM261.6,185.7h1.0v1.0h-1.0zM262.6,191.2h1.0v1.0h-1.0zM261.8,184.6h1.0v1.0h-1.0zM264.0,186.0h1.0v1.0h-1.0zM267.8,188.1h1.0v1.0h-1.0zM253.1,192.9h1.0v1.0h-1.0zM269.1,185.0h1.0v1.0h-1.0zM261.4,188.6h1.0v1.0h-1.0zM272.3,193.5h1.0v1.0h-1.0zM256.6,183.3h1.0v1.0h-1.0zM253.3,184.0h1.0v1.0h-1.0zM254.5,191.6h1.0v1.0h-1.0zM257.6,186.7h1.0v1.0h-1.0zM277.6,184.7h1.0v1.0h-1.0zM246.5,177.2h1.0v1.0h-1.0zM264.0,184.4h1.0v1.0h-1.0zM276.3,189.5h1.0v1.0h-1.0zM269.5,191.8h1.0v1.0h-1.0zM259.8,189.7h1.0v1.0h-1.0zM259.4,188.6h1.0v1.0h-1.0zM266.4,189.4h1.0v1.0h-1.0zM263.5,186.5h1.0v1.0h-1.0z"/>
<path fill="#8c8c8c" fill-opacity="0.2" d="M257.5,190.0h1.0v1.0h-1.0zM253.4,189.1h1.0v1.0h-1.0zM254.2,189.5h1.0v1.0h-1.0zM273.5,187.8h1.0v1.0h-1.0zM272.9,193.7h1.0v1.0h-1.0zM276.9,182.3h1.0v1.0h-1.0zM256.3,186.1h1.0v1.0h-1.0zM255.5,183.9h1.0v1.0h-1.0zM273.9,189.7h1.0v1.0h-1.0zM256.3,194.4h1.0v1.0h-1.0zM247.4,189.1h1.0v1.0h-1.0zM265.1,190.5h1.0v1.0h-1.0zM261.0,185.7h1.0v1.0h-1.0zM267.7,188.3h1.0v1.0h-1.0zM262.0,190.9h1.0v1.0h-1.0zM261.0,184.1h1.0v1.0h-1.0zM269.9,188.4h1.0v1.0h-1.0zM272.8,190.4h1.0v1.0h-1.0zM276.5,185.9h1.0v1.0h-1.0zM255.6,187.0h1.0v1.0h-1.0zM265.2,186.5h1.0v1.0h-1.0zM268.0,187.1h1.0v1.0h-1.0zM272.9,189.8h1.0v1.0h-1.0zM269.6,186.4h1.0v1.0h-1.0zM254.9,181.6h1.0v1.0h-1.0zM258.3,183.0h1.0v1.0h-1.0zM254.9,188.4h1.0v1.0h-1.0zM260.3,191.2h1.0v1.0h-1.0zM265.7,184.1h1.0v1.0h-1.0zM268.0,185.6h1.0v1.0h-1.0zM266.1,186.5h1.0v1.0h-1.0zM249.8,189.1h1.0v1.0h-1.0zM264.7,184.4h1.0v1.0h-1.0z"/>
<path fill="#8c8c8c" fill-opacity="0.2" d="M271.3,189.6h1.0v1.0h-1.0zM258.5,187.6h1.0v1.0h-1.0zM262.3,190.6h1.0v1.0h-1.0zM265.4,185.0h1.0v1.0h-1.0zM260.2,189.4h1.0v1.0h-1.0zM247.9,186.7h1.0v1.0h-1.0zM252.4,186.8h1.0v1.0h-1.0zM254.6,191.8h1.0v1.0h-1.0zM262.6,189.5h1.0v1.0h-1.0zM255.7,191.7h1.0v1.0h-1.0zM260.2,188.0h1.0v1.0h-1.0zM262.8,187.9h1.0v1.0h-1.0zM282.0,188.8h1.0v1.0h-1.0zM257.9,188.5h1.0v1.0h-1.0zM266.0,187.3h1.0v1.0h-1.0zM268.6,189.5h1.0v1.0h-1.0zM262.7,188.7h1.0v1.0h-1.0zM276.7,186.5h1.0v1.0h-1.0zM268.6,189.5h1.0v1.0h-1.0zM273.0,183.8h1.0v1.0h-1.0zM258.1,188.8h1.0v1.0h-1.0zM250.5,190.8h1.0v1.0h-1.0zM249.2,190.2h1.0v1.0h-1.0zM258.9,189.5h1.0v1.0h-1.0zM255.8,185.9h1.0v1.0h-1.0zM268.0,185.6h1.0v1.0h-1.0zM267.5,184.8h1.0v1.0h-1.0zM265.7,187.3h1.0v1.0h-1.0zM267.6,188.5h1.0v1.0h-1.0zM258.1,190.0h1.0v1.0h-1.0zM260.7,181.7h1.0v1.0h-1.0zM251.4,190.9h1.0v1.0h-1.0zM262.3,187.1h1.0v1.0h-1.0z"/>
<path fill="#8c8c8c" fill-opacity="0.2" d="M250.0,188.2h1.0v1.0h-1.0zM257.7,188.0h1.0v1.0h-1.0zM263.8,188.3h1.0v1.0h-1.0zM261.8,184.3h1.0v1.0h-1.0zM256.2,189.6h1.0v1.0h-1.0zM266.4,188.1h1.0v1.0h-1.0zM260.3,191.2h1.0v1.0h-1.0zM252.2,191.5h1.0v1.0h-1.0zM270.1,191.4h1.0v1.0h-1.0zM254.5,186.0h1.0v1.0h-1.0zM244.5,189.2h1.0v1.0h-1.0zM259.1,189.7h1.0v1.0h-1.0zM240.2,187.8h1.0v1.0h-1.0zM252.1,188.5h1.0v1.0h-1.0zM274.9,190.3h1.0v1.0h-1.0zM256.2,188.2h1.0v1.0h-1.0zM257.9,191.9h1.0v1.0h-1.0zM258.7,186.9h1.0v1.0h-1.0zM267.9,185.2h1.0v1.0h-1.0zM241.5,188.7h1.0v1.0h-1.0zM245.1,187.8h1.0v1.0h-1.0zM265.0,183.6h1.0v1.0h-1.0zM254.6,186.7h1.0v1.0h-1.0zM259.7,190.6h1.0v1.0h-1.0zM266.7,191.3h1.0v1.0h-1.0zM266.2,186.3h1.0v1.0h-1.0zM253.8,183.8h1.0v1.0h-1.0zM258.2,188.0h1.0v1.0h-1.0zM253.1,183.8h1.0v1.0h-1.0zM256.0,190.7h1.0v1.0h-1.0zM255.6,189.6h1.0v1.0h-1.0zM264.2,186.3h1.0v1.0h-1.0zM256.6,187.8h1.0v1.0h-1.0z"/>
<path fill="#3c3c3c" fill-opacity="0.2" d="M338.0,187.9h1.0v1.0h-1.0zM319.2,187.3h1.0v1.0h-1.0zM323.8,190.4h1.0v1.0h-1.0zM320.4,189.9h1.0v1.0h-1.0zM321.4,189.8h1.0v1.0h-1.0zM319.8,187.6h1.0v1.0h-1.0zM324.0,190.5h1.0v1.0h-1.0zM325.1,191.4h1.0v1.0h-1.0zM340.1,187.2h1.0v1.0h-1.0zM335.8,186.7h1.0v1.0h-1.0zM324.8,186.5h1.0v1.0h-1.0zM313.0,185.5h1.0v1.0h-1.0zM323.1,184.3h1.0v1.0h-1.0zM316.8,191.1h1.0v1.0h-1.0zM320.1,186.8h1.0v1.0h-1.0zM335.7,190.3h1.0v1.0h-1.0zM317.2,188.3h1.0v1.0h-1.0zM315.0,183.4h1.0v1.0h-1.0zM315.0,182.6h1.0v1.0h-1.0zM310.9,187.9h1.0v1.0h-1.0zM326.5,185.0h1.0v1.0h-1.0zM321.2,187.0h1.0v1.0h-1.0zM316.8,190.6h1.0v1.0h-1.0zM335.5,187.7h1.0v1.0h-1.0zM321.0,184.2h1.0v1.0h-1.0zM322.7,192.0h1.0v1.0h-1.0zM326.7,184.0h1.0v1.0h-1.0zM322.9,191.3h1.0v1.0h-1.0zM319.6,182.7h1.0v1.0h-1.0zM336.2,184.8h1.0v1.0h-1.0zM334.6,184.7h1.0v1.0h-1.0zM319.8,190.9h1.0v1.0h-1.0zM314.3,190.2h1.0v1.0h-1.0zM336.6,185.4h1.0v1.0h-1.0zM313.0,187.1h1.0v1.0h-1.0zM332.1,182.1h1.0v1.0h-1.0zM333.0,184.0h1.0v1.0h-1.0zM310.3,185.5h1.0v1.0h-1.0zM315.6,186.9h1.0v1.0h-1.0zM317.8,184.7h1.0v1.0h-1.0zM316.8,186.5h1.0v1.0h-1.0zM325.1,192.2h1.0v1.0h-1.0zM335.7,187.1h1.0v1.0h-1.0zM328.0,183.1h1.0v1.0h-1.0zM307.5,188.7h1.0v1.0h-1.0zM308.8,186.6h1.0v1.0h-1.0zM336.5,189.0h1.0v1.0h-1.0zM315.8,191.1h1.0v1.0h-1.0zM340.6,187.5h1.0v1.0h-1.0zM324.7,184.7h1.0v1.0h-1.0zM320.2,182.4h1.0v1.0h-1.0zM339.8,186.3h1.0v1.0h-1.0zM329.3,187.4h1.0v1.0h-1.0zM327.7,184.6h1.0v1.0h-1.0zM320.1,190.3h1.0v1.0h-1.0zM318.5,191.4h1.0v1.0h-1.0zM339.9,186.5h1.0v1.0h-1.0zM340.1,189.3h1.0v1.0h-1.0zM321.5,192.6h1.0v1.0h-1.0zM333.3,188.4h1.0v1.0h-1.0zM332.5,189.0h1.0v1.0h-1.0zM330.8,189.5h1.0v1.0h-1.0zM316.8,188.0h1.0v1.0h-1.0zM333.3,191.3h1.0v1.0h-1.0zM312.7,186.6h1.0v1.0h-1.0zM316.6,188.8h1.0v1.0h-1.0zM324.4,188.7h1.0v1.0h-1.0zM339.9,189.0h1.0v1.0h-1.0zM312.4,184.4h1.0v1.0h-1.0zM310.3,187.8h1.0v1.0h-1.0zM327.7,184.0h1.0v1.0h-1.0zM336.8,185.1h1.0v1.0h-1.0zM311.5,188.0h1.0v1.0h-1.0zM310.7,188.0h1.0v1.0h-1.0zM334.7,187.4h1.0v1.0h-1.0zM311.7,186.6h1.0v1.0h-1.0zM315.2,188.6h1.0v1.0h-1.0zM324.5,182.9h1.0v1.0h-1.0zM331.5,188.8h1.0v1.0h-1.0zM326.2,185.2h1.0v1.0h-1.0zM333.8,187.7h1.0v1.0h-1.0zM311.1,187.9h1.0v1.0h-1.0zM312.2,189.0h1.0v1.0h-1.0zM331.1,183.9h1.0v1.0h-1.0zM320.6,185.7h1.0v1.0h-1.0zM329.6,188.1h1.0v1.0h-1.0zM332.8,184.4h1.0v1.0h-1.0zM323.4,182.3h1.0v1.0h-1.0zM328.2,186.0h1.0v1.0h-1.0zM337.9,183.6h1.0v1.0h-1.0zM325.1,186.2h1.0v1.0h-1.0zM314.9,188.2h1.0v1.0h-1.0zM311.6,186.3h1.0v1.0h-1.0zM322.4,185.0h1.0v1.0h-1.0zM317.0,188.9h1.0v1.0h-1.0zM337.8,187.6h1.0v1.0h-1.0zM334.7,183.5h1.0v1.0h-1.0zM331.5,190.5h1.0v1.0h-1.0zM327.2,183.3h1.0v1.0h-1.0zM317.0,186.4h1.0v1.0h-1.0zM317.5,189.7h1.0v1.0h-1.0zM331.2,182.0h1.0v1.0h-1.0zM321.7,183.4h1.0v1.0h-1.0zM322.3,185.6h1.0v1.0h-1.0zM325.5,186.6h1.0v1.0h-1.0zM319.9,182.1h1.0v1.0h-1.0zM324.3,189.2h1.0v1.0h-1.0zM317.5,183.6h1.0v1.0h-1.0zM331.5,188.4h1.0v1.0h-1.0zM321.9,181.5h1.0v1.0h-1.0zM322.9,192.0h1.0v1.0h-1.0zM324.4,191.6h1.0v1.0h-1.0zM332.7,189.5h1.0v1.0h-1.0zM318.4,188.0h1.0v1.0h-1.0zM335.6,184.1h1.0v1.0h-1.0zM315.7,188.1h1.0v1.0h-1.0zM325.3,189.8h1.0v1.0h-1.0zM315.2,183.7h1.0v1.0h-1.0zM317.3,188.3h1.0v1.0h-1.0zM332.5,186.4h1.0v1.0h-1.0zM337.6,185.4h1.0v1.0h-1.0zM311.8,188.2h1.0v1.0h-1.0zM341.2,187.3h1.0v1.0h-1.0zM312.8,188.6h1.0v1.0h-1.0zM324.2,185.1h1.0v1.0h-1.0z"/>
<path fill="#3c3c3c" fill-opacity="0.2" d="M319.5,192.7h1.0v1.0h-1.0zM334.5,185.0h1.0v1.0h-1.0zM320.9,187.3h1.0v1.0h-1.0zM326.3,185.9h1.0v1.0h-1.0zM325.5,184.1h1.0v1.0h-1.0zM318.9,185.2h1.0v1.0h-1.0zM317.6,188.3h1.0v1.0h-1.0zM314.3,187.7h1.0v1.0h-1.0zM311.6,186.1h1.0v1.0h-1.0zM337.9,189.4h1.0v1.0h-1.0zM333.8,187.8h1.0v1.0h-1.0zM325.7,189.4h1.0v1.0h-1.0zM323.9,190.7h1.0v1.0h-1.0zM339.1,186.9h1.0v1.0h-1.0zM317.5,191.0h1.0v1.0h-1.0zM333.9,189.3h1.0v1.0h-1.0zM321.2,187.3h1.0v1.0h-1.0zM335.8,192.1h1.0v1.0h-1.0zM315.4,188.8h1.0v1.0h-1.0zM332.5,186.4h1.0v1.0h-1.0zM332.7,190.1h1.0v1.0h-1.0zM322.0,185.1h1.0v1.0h-1.0zM328.6,183.9h1.0v1.0h-1.0zM325.2,190.4h1.0v1.0h-1.0zM310.1,186.2h1.0v1.0h-1.0zM328.7,186.1h1.0v1.0h-1.0zM321.8,190.0h1.0v1.0h-1.0zM326.7,191.8h1.0v1.0h-1.0zM330.2,185.9h1.0v1.0h-1.0zM331.0,189.1h1.0v1.0h-1.0zM327.3,185.0h1.0v1.0h-1.0zM314.9,186.5h1.0v1.0h-1.0zM322.4,185.2h1.0v1.0h-1.0zM316.8,188.2h1.0v1.0h-1.0zM334.8,189.3h1.0v1.0h-1.0zM330.0,183.2h1.0v1.0h-1.0zM332.9,189.8h1.0v1.0h-1.0zM326.1,185.3h1.0v1.0h-1.0zM328.9,187.6h1.0v1.0h-1.0zM312.0,190.0h1.0v1.0h-1.0zM328.2,183.6h1.0v1.0h-1.0zM334.7,187.0h1.0v1.0h-1.0zM323.5,182.6h1.0v1.0h-1.0zM332.3,186.2h1.0v1.0h-1.0zM327.1,185.4h1.0v1.0h-1.0zM330.5,190.6h1.0v1.0h-1.0zM320.1,183.2h1.0v1.0h-1.0zM318.0,189.5h1.0v1.0h-1.0zM312.3,184.3h1.0v1.0h-1.0zM330.7,187.8h1.0v1.0h-1.0zM340.2,186.4h1.0v1.0h-1.0zM338.2,186.4h1.0v1.0h-1.0zM315.6,185.1h1.0v1.0h-1.0zM322.2,183.9h1.0v1.0h-1.0zM320.4,192.7h1.0v1.0h-1.0zM318.7,189.0h1.0v1.0h-1.0zM310.8,191.1h1.0v1.0h-1.0zM328.5,187.7h1.0v1.0h-1.0zM336.7,183.4h1.0v1.0h-1.0zM327.0,183.9h1.0v1.0h-1.0zM318.0,189.8h1.0v1.0h-1.0zM311.5,185.1h1.0v1.0h-1.0zM329.6,192.6h1.0v1.0h-1.0zM321.6,185.7h1.0v1.0h-1.0zM310.8,186.1h1.0v1.0h-1.0zM337.1,189.2h1.0v1.0h-1.0zM328.0,188.1h1.0v1.0h-1.0zM328.6,183.0h1.0v1.0h-1.0zM312.6,188.3h1.0v1.0h-1.0zM332.0,186.5h1.0v1.0h-1.0zM313.1,190.8h1.0v1.0h-1.0zM334.4,185.2h1.0v1.0h-1.0zM311.6,186.5h1.0v1.0h-1.0zM325.7,189.5h1.0v1.0h-1.0zM337.3,188.4h1.0v1.0h-1.0zM327.7,182.7h1.0v1.0h-1.0zM313.5,184.4h1.0v1.0h-1.0zM341.6,185.5h1.0v1.0h-1.0zM317.6,186.4h1.0v1.0h-1.0zM330.2,185.8h1.0v1.0h-1.0zM326.3,184.3h1.0v1.0h-1.0zM341.5,187.5h1.0v1.0h-1.0zM319.7,188.2h1.0v1.0h-1.0zM333.4,184.2h1.0v1.0h-1.0zM330.0,189.9h1.0v1.0h-1.0zM319.5,191.6h1.0v1.0h-1.0zM336.2,184.4h1.0v1.0h-1.0zM311.4,185.8h1.0v1.0h-1.0zM338.6,183.8h1.0v1.0h-1.0zM336.8,189.2h1.0v1.0h-1.0zM331.2,182.8h1.0v1.0h-1.0zM319.4,189.8h1.0v1.0h-1.0zM313.8,183.1h1.0v1.0h-1.0zM324.1,191.9h1.0v1.0h-1.0zM314.7,188.5h1.0v1.0h-1.0zM320.2,186.1h1.0v1.0h-1.0zM329.5,190.1h1.0v1.0h-1.0zM319.1,189.5h1.0v1.0h-1.0zM322.8,190.8h1.0v1.0h-1.0zM333.0,185.6h1.0v1.0h-1.0zM339.1,188.5h1.0v1.0h-1.0zM337.7,188.1h1.0v1.0h-1.0zM315.5,183.0h1.0v1.0h-1.0zM325.7,186.2h1.0v1.0h-1.0zM331.9,183.1h1.0v1.0h-1.0zM337.0,186.6h1.0v1.0h-1.0zM331.7,183.8h1.0v1.0h-1.0zM324.6,190.1h1.0v1.0h-1.0zM320.8,183.7h1.0v1.0h-1.0zM328.7,182.4h1.0v1.0h-1.0zM324.4,187.4h1.0v1.0h-1.0zM333.8,188.6h1.0v1.0h-1.0zM326.0,189.1h1.0v1.0h-1.0zM318.4,186.7h1.0v1.0h-1.0zM320.0,188.0h1.0v1.0h-1.0zM333.4,188.4h1.0v1.0h-1.0zM318.5,185.7h1.0v1.0h-1.0zM332.7,186.6h1.0v1.0h-1.0zM315.3,187.5h1.0v1.0h-1.0zM321.8,186.8h1.0v1.0h-1.0zM334.0,189.3h1.0v1.0h-1.0zM323.2,189.6h1.0v1.0h-1.0zM328.4,185.8h1.0v1.0h-1.0zM324.1,190.8h1.0v1.0h-1.0zM318.4,186.5h1.0v1.0h-1.0z"/>
<path fill="#3c3c3c" fill-opacity="0.2" d="M319.7,189.4h1.0v1.0h-1.0zM335.1,188.6h1.0v1.0h-1.0zM317.6,188.6h1.0v1.0h-1.0zM339.0,187.3h1.0v1.0h-1.0zM324.5,191.0h1.0v1.0h-1.0zM319.2,183.6h1.0v1.0h-1.0zM338.3,186.5h1.0v1.0h-1.0zM330.3,188.8h1.0v1.0h-1.0zM320.7,183.7h1.0v1.0h-1.0zM316.1,191.0h1.0v1.0h-1.0zM309.3,187.9h1.0v1.0h-1.0zM331.1,190.5h1.0v1.0h-1.0zM320.1,183.7h1.0v1.0h-1.0zM338.0,187.7h1.0v1.0h-1.0zM336.5,188.3h1.0v1.0h-1.0zM312.9,185.9h1.0v1.0h-1.0zM312.3,190.1h1.0v1.0h-1.0zM328.0,189.7h1.0v1.0h-1.0zM319.3,182.8h1.0v1.0h-1.0zM316.9,187.9h1.0v1.0h-1.0zM324.3,185.7h1.0v1.0h-1.0zM318.9,187.1h1.0v1.0h-1.0zM328.9,191.6h1.0v1.0h-1.0zM312.6,189.5h1.0v1.0h-1.0zM317.4,189.9h1.0v1.0h-1.0zM323.6,189.2h1.0v1.0h-1.0zM324.5,183.1h1.0v1.0h-1.0zM315.0,190.8h1.0v1.0h-1.0zM332.7,186.3h1.0v1.0h-1.0zM320.4,192.5h1.0v1.0h-1.0zM327.4,185.5h1.0v1.0h-1.0zM334.2,188.2h1.0v1.0h-1.0zM332.3,187.4h1.0v1.0h-1.0zM330.5,180.7h1.0v1.0h-1.0zM318.9,185.7h1.0v1.0h-1.0zM313.9,186.5h1.0v1.0h-1.0zM320.4,184.5h1.0v1.0h-1.0zM320.5,184.2h1.0v1.0h-1.0zM322.3,187.8h1.0v1.0h-1.0zM311.9,189.8h1.0v1.0h-1.0zM326.4,186.1h1.0v1.0h-1.0zM325.2,188.8h1.0v1.0h-1.0zM314.0,188.3h1.0v1.0h-1.0zM321.6,183.8h1.0v1.0h-1.0zM315.9,188.9h1.0v1.0h-1.0zM331.8,183.9h1.0v1.0h-1.0zM326.1,186.9h1.0v1.0h-1.0zM326.8,190.1h1.0v1.0h-1.0zM311.7,182.4h1.0v1.0h-1.0zM312.0,183.5h1.0v1.0h-1.0zM314.0,187.6h1.0v1.0h-1.0zM315.7,187.4h1.0v1.0h-1.0zM320.1,186.9h1.0v1.0h-1.0zM320.5,188.2h1.0v1.0h-1.0zM334.9,184.9h1.0v1.0h-1.0zM324.4,189.5h1.0v1.0h-1.0zM313.7,187.6h1.0v1.0h-1.0zM319.8,186.3h1.0v1.0h-1.0zM322.3,183.4h1.0v1.0h-1.0zM310.0,187.1h1.0v1.0h-1.0zM324.4,189.2h1.0v1.0h-1.0zM326.9,187.7h1.0v1.0h-1.0zM320.0,185.0h1.0v1.0h-1.0zM319.4,182.7h1.0v1.0h-1.0zM319.1,187.6h1.0v1.0h-1.0zM332.2,188.4h1.0v1.0h-1.0zM318.1,188.9h1.0v1.0h-1.0zM325.7,184.7h1.0v1.0h-1.0zM335.4,188.4h1.0v1.0h-1.0zM332.0,189.9h1.0v1.0h-1.0zM330.7,181.8h1.0v1.0h-1.0zM318.5,184.7h1.0v1.0h-1.0zM322.7,186.0h1.0v1.0h-1.0zM317.1,183.4h1.0v1.0h-1.0zM318.5,187.9h1.0v1.0h-1.0zM338.0,186.4h1.0v1.0h-1.0zM319.3,190.2h1.0v1.0h-1.0zM330.3,190.0h1.0v1.0h-1.0zM336.8,187.3h1.0v1.0h-1.0zM330.3,190.8h1.0v1.0h-1.0zM337.2,185.4h1.0v1.0h-1.0zM322.3,190.4h1.0v1.0h-1.0zM330.1,190.4h1.0v1.0h-1.0zM315.6,186.3h1.0v1.0h-1.0zM334.0,189.6h1.0v1.0h-1.0zM321.9,182.6h1.0v1.0h-1.0zM328.9,187.8h1.0v1.0h-1.0zM321.7,191.2h1.0v1.0h-1.0zM324.6,189.5h1.0v1.0h-1.0zM314.5,188.8h1.0v1.0h-1.0zM321.8,191.5h1.0v1.0h-1.0zM328.6,191.8h1.0v1.0h-1.0zM327.5,187.5h1.0v1.0h-1.0zM334.6,186.7h1.0v1.0h-1.0zM324.6,183.2h1.0v1.0h-1.0zM323.9,185.4h1.0v1.0h-1.0zM331.3,188.0h1.0v1.0h-1.0zM322.5,183.9h1.0v1.0h-1.0zM309.5,188.0h1.0v1.0h-1.0zM311.0,188.5h1.0v1.0h-1.0zM313.6,189.2h1.0v1.0h-1.0zM322.6,188.3h1.0v1.0h-1.0zM331.8,184.8h1.0v1.0h-1.0zM323.5,184.6h1.0v1.0h-1.0zM320.1,188.5h1.0v1.0h-1.0zM322.3,186.7h1.0v1.0h-1.0zM330.3,186.5h1.0v1.0h-1.0zM335.1,187.4h1.0v1.0h-1.0zM316.9,182.2h1.0v1.0h-1.0zM321.4,184.5h1.0v1.0h-1.0zM340.1,185.1h1.0v1.0h-1.0zM325.5,183.2h1.0v1.0h-1.0zM317.7,186.3h1.0v1.0h-1.0zM318.3,192.6h1.0v1.0h-1.0zM326.6,184.6h1.0v1.0h-1.0zM320.3,187.8h1.0v1.0h-1.0zM327.5,184.1h1.0v1.0h-1.0zM327.8,182.3h1.0v1.0h-1.0zM311.3,186.9h1.0v1.0h-1.0zM316.6,185.6h1.0v1.0h-1.0zM310.8,184.5h1.0v1.0h-1.0zM329.3,184.6h1.0v1.0h-1.0zM317.6,183.3h1.0v1.0h-1.0zM333.7,188.3h1.0v1.0h-1.0zM321.9,185.6h1.0v1.0h-1.0z"/>
<path fill="#3c3c3c" fill-opacity="0.2" d="M310.1,187.0h1.0v1.0h-1.0zM341.5,188.5h1.0v1.0h-1.0zM319.1,187.8h1.0v1.0h-1.0zM330.1,186.4h1.0v1.0h-1.0zM324.9,185.9h1.0v1.0h-1.0zM326.9,186.1h1.0v1.0h-1.0zM321.2,188.8h1.0v1.0h-1.0zM337.0,186.5h1.0v1.0h-1.0zM318.9,186.7h1.0v1.0h-1.0zM327.4,188.4h1.0v1.0h-1.0zM315.0,183.6h1.0v1.0h-1.0zM321.6,183.8h1.0v1.0h-1.0zM326.0,184.2h1.0v1.0h-1.0zM323.1,190.5h1.0v1.0h-1.0zM318.0,185.3h1.0v1.0h-1.0zM335.7,188.7h1.0v1.0h-1.0zM316.4,189.9h1.0v1.0h-1.0zM323.0,186.5h1.0v1.0h-1.0zM333.2,191.2h1.0v1.0h-1.0zM335.0,187.3h1.0v1.0h-1.0zM327.4,191.1h1.0v1.0h-1.0zM319.1,185.8h1.0v1.0h-1.0zM325.6,185.8h1.0v1.0h-1.0zM315.4,189.9h1.0v1.0h-1.0zM316.5,183.2h1.0v1.0h-1.0zM323.7,190.5h1.0v1.0h-1.0zM337.3,187.6h1.0v1.0h-1.0zM316.9,183.9h1.0v1.0h-1.0zM327.5,189.6h1.0v1.0h-1.0zM312.1,186.9h1.0v1.0h-1.0zM317.9,184.9h1.0v1.0h-1.0zM330.1,190.8h1.0v1.0h-1.0zM318.2,188.8h1.0v1.0h-1.0zM317.8,192.1h1.0v1.0h-1.0zM328.0,190.6h1.0v1.0h-1.0zM340.4,184.0h1.0v1.0h-1.0zM338.4,186.6h1.0v1.0h-1.0zM316.2,189.0h1.0v1.0h-1.0zM336.7,191.1h1.0v1.0h-1.0zM319.6,189.3h1.0v1.0h-1.0zM314.9,184.4h1.0v1.0h-1.0zM323.8,189.2h1.0v1.0h-1.0zM337.0,183.7h1.0v1.0h-1.0zM326.3,184.3h1.0v1.0h-1.0zM320.2,189.1h1.0v1.0h-1.0zM336.4,188.6h1.0v1.0h-1.0zM321.1,182.2h1.0v1.0h-1.0zM331.6,190.0h1.0v1.0h-1.0zM324.5,186.5h1.0v1.0h-1.0zM333.1,184.4h1.0v1.0h-1.0zM317.9,188.3h1.0v1.0h-1.0zM314.9,189.4h1.0v1.0h-1.0zM318.9,186.8h1.0v1.0h-1.0zM317.7,191.9h1.0v1.0h-1.0zM340.8,186.7h1.0v1.0h-1.0zM323.0,183.9h1.0v1.0h-1.0zM333.7,192.7h1.0v1.0h-1.0zM316.8,185.2h1.0v1.0h-1.0zM320.7,191.3h1.0v1.0h-1.0zM336.9,185.8h1.0v1.0h-1.0zM311.8,189.5h1.0v1.0h-1.0zM321.8,189.1h1.0v1.0h-1.0zM321.7,183.7h1.0v1.0h-1.0zM327.5,183.6h1.0v1.0h-1.0zM331.5,185.9h1.0v1.0h-1.0zM324.5,188.9h1.0v1.0h-1.0zM319.6,186.8h1.0v1.0h-1.0zM337.2,186.8h1.0v1.0h-1.0zM324.2,189.4h1.0v1.0h-1.0zM333.1,188.7h1.0v1.0h-1.0zM315.0,184.2h1.0v1.0h-1.0zM332.1,183.8h1.0v1.0h-1.0zM322.9,193.4h1.0v1.0h-1.0zM324.1,191.8h1.0v1.0h-1.0zM331.5,188.3h1.0v1.0h-1.0zM316.5,191.0h1.0v1.0h-1.0zM313.9,188.5h1.0v1.0h-1.0zM319.1,184.6h1.0v1.0h-1.0zM332.9,183.6h1.0v1.0h-1.0zM312.0,189.8h1.0v1.0h-1.0zM327.5,184.4h1.0v1.0h-1.0zM317.3,188.7h1.0v1.0h-1.0zM316.4,183.9h1.0v1.0h-1.0zM326.2,190.7h1.0v1.0h-1.0zM321.4,191.1h1.0v1.0h-1.0zM336.8,184.6h1.0v1.0h-1.0zM337.8,188.1h1.0v1.0h-1.0zM322.9,191.2h1.0v1.0h-1.0zM335.0,187.9h1.0v1.0h-1.0zM316.4,186.3h1.0v1.0h-1.0zM334.3,189.4h1.0v1.0h-1.0zM331.9,182.6h1.0v1.0h-1.0zM340.3,185.8h1.0v1.0h-1.0zM332.4,187.1h1.0v1.0h-1.0zM314.4,190.7h1.0v1.0h-1.0zM321.9,194.3h1.0v1.0h-1.0zM310.8,184.3h1.0v1.0h-1.0zM326.4,192.3h1.0v1.0h-1.0zM321.1,183.2h1.0v1.0h-1.0zM328.1,188.2h1.0v1.0h-1.0zM313.0,185.5h1.0v1.0h-1.0zM327.8,190.2h1.0v1.0h-1.0zM312.3,188.3h1.0v1.0h-1.0zM322.1,188.9h1.0v1.0h-1.0zM321.6,183.8h1.0v1.0h-1.0zM333.4,186.7h1.0v1.0h-1.0zM318.6,183.4h1.0v1.0h-1.0zM341.1,187.0h1.0v1.0h-1.0zM323.8,191.8h1.0v1.0h-1.0zM315.4,187.3h1.0v1.0h-1.0zM327.8,187.3h1.0v1.0h-1.0zM337.2,186.3h1.0v1.0h-1.0zM324.6,184.6h1.0v1.0h-1.0zM314.8,185.0h1.0v1.0h-1.0zM334.5,190.9h1.0v1.0h-1.0zM320.8,185.1h1.0v1.0h-1.0zM336.4,183.4h1.0v1.0h-1.0zM332.1,183.1h1.0v1.0h-1.0zM319.5,191.1h1.0v1.0h-1.0zM327.6,185.5h1.0v1.0h-1.0zM319.4,188.0h1.0v1.0h-1.0zM326.3,185.0h1.0v1.0h-1.0zM318.6,188.7h1.0v1.0h-1.0zM337.6,184.0h1.0v1.0h-1.0zM337.0,186.9h1.0v1.0h-1.0z"/>
<path fill="#3c3c3c" fill-opacity="0.2" d="M335.2,187.1h1.0v1.0h-1.0zM314.9,186.6h1.0v1.0h-1.0zM315.3,185.8h1.0v1.0h-1.0zM329.8,191.0h1.0v1.0h-1.0zM314.3,184.6h1.0v1.0h-1.0zM317.6,191.7h1.0v1.0h-1.0zM324.4,188.7h1.0v1.0h-1.0zM330.7,189.3h1.0v1.0h-1.0zM323.5,187.4h1.0v1.0h-1.0zM318.8,186.2h1.0v1.0h-1.0zM321.3,188.4h1.0v1.0h-1.0zM324.9,185.2h1.0v1.0h-1.0zM320.7,187.8h1.0v1.0h-1.0zM332.9,189.3h1.0v1.0h-1.0zM318.0,185.4h1.0v1.0h-1.0zM329.8,183.3h1.0v1.0h-1.0zM313.0,187.3h1.0v1.0h-1.0zM313.1,190.5h1.0v1.0h-1.0zM334.4,188.6h1.0v1.0h-1.0zM320.9,188.4h1.0v1.0h-1.0zM315.6,192.5h1.0v1.0h-1.0zM317.5,185.4h1.0v1.0h-1.0zM316.2,188.8h1.0v1.0h-1.0zM332.2,186.6h1.0v1.0h-1.0zM312.0,189.6h1.0v1.0h-1.0zM332.7,184.4h1.0v1.0h-1.0zM326.4,187.0h1.0v1.0h-1.0zM316.1,190.8h1.0v1.0h-1.0zM323.3,192.3h1.0v1.0h-1.0zM320.8,182.7h1.0v1.0h-1.0zM318.8,185.2h1.0v1.0h-1.0zM307.0,187.6h1.0v1.0h-1.0zM334.6,185.5h1.0v1.0h-1.0zM323.0,187.7h1.0v1.0h-1.0zM322.1,192.0h1.0v1.0h-1.0zM328.7,188.2h1.0v1.0h-1.0zM322.5,189.4h1.0v1.0h-1.0zM334.9,188.2h1.0v1.0h-1.0zM312.3,187.4h1.0v1.0h-1.0zM330.6,186.6h1.0v1.0h-1.0zM308.7,185.8h1.0v1.0h-1.0zM326.2,189.7h1.0v1.0h-1.0zM330.4,191.0h1.0v1.0h-1.0zM321.7,182.6h1.0v1.0h-1.0zM322.2,190.4h1.0v1.0h-1.0zM325.9,190.0h1.0v1.0h-1.0zM320.1,187.7h1.0v1.0h-1.0zM332.9,183.3h1.0v1.0h-1.0zM330.9,186.9h1.0v1.0h-1.0zM310.3,189.0h1.0v1.0h-1.0zM318.1,182.0h1.0v1.0h-1.0zM313.4,184.9h1.0v1.0h-1.0zM328.3,184.8h1.0v1.0h-1.0zM332.4,187.3h1.0v1.0h-1.0zM323.2,188.1h1.0v1.0h-1.0zM335.4,184.1h1.0v1.0h-1.0zM313.8,186.1h1.0v1.0h-1.0zM323.1,192.0h1.0v1.0h-1.0zM325.8,190.7h1.0v1.0h-1.0zM322.0,192.7h1.0v1.0h-1.0zM314.7,187.2h1.0v1.0h-1.0zM318.7,183.7h1.0v1.0h-1.0zM337.3,187.1h1.0v1.0h-1.0zM324.5,186.1h1.0v1.0h-1.0zM329.9,188.8h1.0v1.0h-1.0zM321.6,189.5h1.0v1.0h-1.0zM323.6,188.1h1.0v1.0h-1.0zM324.8,188.5h1.0v1.0h-1.0zM333.3,183.8h1.0v1.0h-1.0zM329.2,189.9h1.0v1.0h-1.0zM324.1,189.4h1.0v1.0h-1.0zM336.3,189.1h1.0v1.0h-1.0zM334.0,185.7h1.0v1.0h-1.0zM322.2,183.4h1.0v1.0h-1.0zM330.0,188.6h1.0v1.0h-1.0zM319.1,190.5h1.0v1.0h-1.0zM335.8,190.5h1.0v1.0h-1.0zM326.8,192.5h1.0v1.0h-1.0zM325.9,191.8h1.0v1.0h-1.0zM323.9,190.1h1.0v1.0h-1.0zM318.0,186.3h1.0v1.0h-1.0zM319.1,188.0h1.0v1.0h-1.0zM320.9,184.7h1.0v1.0h-1.0zM319.7,187.8h1.0v1.0h-1.0zM309.4,186.0h1.0v1.0h-1.0zM327.1,182.5h1.0v1.0h-1.0zM332.3,191.0h1.0v1.0h-1.0zM337.2,187.2h1.0v1.0h-1.0zM327.2,187.6h1.0v1.0h-1.0zM318.3,187.5h1.0v1.0h-1.0zM331.6,190.1h1.0v1.0h-1.0zM328.4,191.5h1.0v1.0h-1.0zM327.7,187.9h1.0v1.0h-1.0zM334.0,185.6h1.0v1.0h-1.0zM334.3,185.8h1.0v1.0h-1.0zM325.8,192.0h1.0v1.0h-1.0zM321.0,189.6h1.0v1.0h-1.0zM309.5,186.6h1.0v1.0h-1.0zM326.5,189.3h1.0v1.0h-1.0zM325.5,182.5h1.0v1.0h-1.0zM335.7,187.4h1.0v1.0h-1.0zM319.8,187.0h1.0v1.0h-1.0zM337.1,186.6h1.0v1.0h-1.0zM334.1,182.0h1.0v1.0h-1.0zM335.1,190.6h1.0v1.0h-1.0zM327.7,182.6h1.0v1.0h-1.0zM332.8,191.1h1.0v1.0h-1.0zM330.1,187.5h1.0v1.0h-1.0zM337.2,186.0h1.0v1.0h-1.0zM321.2,183.5h1.0v1.0h-1.0zM333.4,184.7h1.0v1.0h-1.0zM329.0,191.2h1.0v1.0h-1.0zM309.2,187.6h1.0v1.0h-1.0zM329.6,186.1h1.0v1.0h-1.0zM336.9,186.9h1.0v1.0h-1.0zM311.9,187.6h1.0v1.0h-1.0zM325.8,185.6h1.0v1.0h-1.0zM311.1,187.5h1.0v1.0h-1.0zM328.8,185.1h1.0v1.0h-1.0zM322.1,187.9h1.0v1.0h-1.0zM332.9,185.2h1.0v1.0h-1.0zM324.6,187.8h1.0v1.0h-1.0zM325.0,186.2h1.0v1.0h-1.0zM330.3,185.5h1.0v1.0h-1.0zM338.0,189.3h1.0v1.0h-1.0z"/>
<path fill="#3c3c3c" fill-opacity="0.2" d="M332.7,187.2h1.0v1.0h-1.0zM310.6,186.1h1.0v1.0h-1.0zM329.0,188.6h1.0v1.0h-1.0zM322.9,184.6h1.0v1.0h-1.0zM313.8,187.5h1.0v1.0h-1.0zM326.7,187.6h1.0v1.0h-1.0zM310.7,186.6h1.0v1.0h-1.0zM319.3,188.8h1.0v1.0h-1.0zM325.9,182.1h1.0v1.0h-1.0zM331.3,184.7h1.0v1.0h-1.0zM328.1,189.2h1.0v1.0h-1.0zM338.5,185.4h1.0v1.0h-1.0zM320.9,185.5h1.0v1.0h-1.0zM310.5,186.9h1.0v1.0h-1.0zM322.4,182.0h1.0v1.0h-1.0zM322.9,191.7h1.0v1.0h-1.0zM313.7,187.4h1.0v1.0h-1.0zM335.2,184.1h1.0v1.0h-1.0zM324.2,188.5h1.0v1.0h-1.0zM322.5,191.3h1.0v1.0h-1.0zM322.5,181.8h1.0v1.0h-1.0zM317.9,188.8h1.0v1.0h-1.0zM312.3,189.8h1.0v1.0h-1.0zM323.6,183.2h1.0v1.0h-1.0zM335.6,186.4h1.0v1.0h-1.0zM327.1,187.9h1.0v1.0h-1.0zM335.2,187.7h1.0v1.0h-1.0zM321.0,186.9h1.0v1.0h-1.0zM335.9,189.9h1.0v1.0h-1.0zM334.2,187.3h1.0v1.0h-1.0zM324.2,185.6h1.0v1.0h-1.0zM326.0,190.0h1.0v1.0h-1.0zM314.0,190.1h1.0v1.0h-1.0zM339.6,188.9h1.0v1.0h-1.0zM333.7,183.2h1.0v1.0h-1.0zM333.4,190.1h1.0v1.0h-1.0zM336.6,189.2h1.0v1.0h-1.0zM338.1,186.8h1.0v1.0h-1.0zM313.3,186.6h1.0v1.0h-1.0zM325.7,184.5h1.0v1.0h-1.0zM316.3,187.9h1.0v1.0h-1.0zM337.2,184.1h1.0v1.0h-1.0zM327.2,189.8h1.0v1.0h-1.0zM329.0,183.6h1.0v1.0h-1.0zM333.2,184.7h1.0v1.0h-1.0zM322.4,189.0h1.0v1.0h-1.0zM312.9,185.5h1.0v1.0h-1.0zM324.7,184.5h1.0v1.0h-1.0zM331.8,183.1h1.0v1.0h-1.0zM335.1,182.7h1.0v1.0h-1.0zM328.3,191.7h1.0v1.0h-1.0zM337.3,185.3h1.0v1.0h-1.0zM331.6,189.9h1.0v1.0h-1.0zM323.5,186.9h1.0v1.0h-1.0zM326.8,191.2h1.0v1.0h-1.0zM325.8,186.5h1.0v1.0h-1.0zM328.7,180.9h1.0v1.0h-1.0zM314.0,182.2h1.0v1.0h-1.0zM325.8,191.3h1.0v1.0h-1.0zM316.6,188.9h1.0v1.0h-1.0zM317.1,182.4h1.0v1.0h-1.0zM323.9,186.3h1.0v1.0h-1.0zM339.3,184.7h1.0v1.0h-1.0zM321.8,184.0h1.0v1.0h-1.0zM321.6,183.1h1.0v1.0h-1.0zM322.9,187.0h1.0v1.0h-1.0zM317.2,185.4h1.0v1.0h-1.0zM318.2,188.3h1.0v1.0h-1.0zM330.7,189.9h1.0v1.0h-1.0zM320.7,182.9h1.0v1.0h-1.0zM330.2,191.1h1.0v1.0h-1.0zM326.8,183.8h1.0v1.0h-1.0zM331.7,188.2h1.0v1.0h-1.0zM323.2,185.3h1.0v1.0h-1.0zM323.2,181.5h1.0v1.0h-1.0zM332.0,184.1h1.0v1.0h-1.0zM316.2,184.4h1.0v1.0h-1.0zM337.2,187.4h1.0v1.0h-1.0zM324.1,189.2h1.0v1.0h-1.0zM320.7,184.0h1.0v1.0h-1.0zM337.8,186.9h1.0v1.0h-1.0zM327.1,185.4h1.0v1.0h-1.0zM321.3,186.1h1.0v1.0h-1.0zM320.8,187.8h1.0v1.0h-1.0zM324.4,189.9h1.0v1.0h-1.0zM323.2,186.7h1.0v1.0h-1.0zM321.4,190.5h1.0v1.0h-1.0zM315.2,184.2h1.0v1.0h-1.0zM318.0,183.4h1.0v1.0h-1.0zM325.8,188.1h1.0v1.0h-1.0zM327.5,193.7h1.0v1.0h-1.0zM310.1,187.6h1.0v1.0h-1.0zM340.1,187.1h1.0v1.0h-1.0zM326.6,184.3h1.0v1.0h-1.0zM325.9,190.1h1.0v1.0h-1.0zM314.6,189.2h1.0v1.0h-1.0zM327.8,190.6h1.0v1.0h-1.0zM312.8,190.5h1.0v1.0h-1.0zM326.9,187.7h1.0v1.0h-1.0zM311.5,189.7h1.0v1.0h-1.0zM327.6,183.9h1.0v1.0h-1.0zM329.7,189.9h1.0v1.0h-1.0zM332.3,187.4h1.0v1.0h-1.0zM315.2,184.1h1.0v1.0h-1.0zM322.2,183.7h1.0v1.0h-1.0zM325.2,183.6h1.0v1.0h-1.0zM309.1,188.8h1.0v1.0h-1.0zM323.0,185.6h1.0v1.0h-1.0zM325.0,185.6h1.0v1.0h-1.0zM311.2,187.7h1.0v1.0h-1.0zM318.9,189.9h1.0v1.0h-1.0zM314.4,187.3h1.0v1.0h-1.0zM331.3,190.2h1.0v1.0h-1.0zM328.5,190.3h1.0v1.0h-1.0zM326.3,189.4h1.0v1.0h-1.0zM313.5,184.8h1.0v1.0h-1.0zM314.0,188.4h1.0v1.0h-1.0zM330.5,188.8h1.0v1.0h-1.0zM316.6,188.9h1.0v1.0h-1.0zM322.5,189.4h1.0v1.0h-1.0zM320.7,182.6h1.0v1.0h-1.0zM328.3,183.1h1.0v1.0h-1.0zM315.8,184.7h1.0v1.0h-1.0zM318.3,186.3h1.0v1.0h-1.0zM320.9,188.8h1.0v1.0h-1.0z"/>
<path fill="#282828" fill-opacity="0.2" d="M320.2,187.9h1.0v1.0h-1.0zM324.1,190.0h1.0v1.0h-1.0zM315.7,191.5h1.0v1.0h-1.0zM316.7,190.4h1.0v1.0h-1.0zM318.1,185.1h1.0v1.0h-1.0zM318.1,186.4h1.0v1.0h-1.0zM317.3,185.6h1.0v1.0h-1.0zM319.0,189.3h1.0v1.0h-1.0zM326.2,190.1h1.0v1.0h-1.0zM316.0,188.2h1.0v1.0h-1.0zM313.8,186.4h1.0v1.0h-1.0zM315.0,189.0h1.0v1.0h-1.0zM312.0,190.0h1.0v1.0h-1.0zM318.8,190.9h1.0v1.0h-1.0zM309.8,185.9h1.0v1.0h-1.0zM323.8,185.3h1.0v1.0h-1.0zM315.6,191.0h1.0v1.0h-1.0zM319.9,187.4h1.0v1.0h-1.0zM314.7,187.1h1.0v1.0h-1.0zM315.5,185.8h1.0v1.0h-1.0zM310.3,188.3h1.0v1.0h-1.0zM319.5,183.8h1.0v1.0h-1.0zM321.7,191.3h1.0v1.0h-1.0zM308.6,186.7h1.0v1.0h-1.0zM324.9,190.0h1.0v1.0h-1.0zM323.4,190.7h1.0v1.0h-1.0zM318.2,190.5h1.0v1.0h-1.0zM320.9,185.9h1.0v1.0h-1.0zM317.1,184.6h1.0v1.0h-1.0zM323.1,188.6h1.0v1.0h-1.0zM322.9,185.6h1.0v1.0h-1.0zM316.4,183.8h1.0v1.0h-1.0zM315.7,184.6h1.0v1.0h-1.0zM323.5,188.8h1.0v1.0h-1.0zM311.7,189.6h1.0v1.0h-1.0zM318.5,189.7h1.0v1.0h-1.0zM319.5,185.9h1.0v1.0h-1.0zM319.1,185.8h1.0v1.0h-1.0zM317.1,189.2h1.0v1.0h-1.0zM326.6,187.0h1.0v1.0h-1.0zM322.8,186.1h1.0v1.0h-1.0zM314.6,186.9h1.0v1.0h-1.0zM324.3,187.8h1.0v1.0h-1.0zM314.1,185.5h1.0v1.0h-1.0zM314.5,187.8h1.0v1.0h-1.0zM317.7,183.8h1.0v1.0h-1.0zM319.5,184.4h1.0v1.0h-1.0zM313.6,186.5h1.0v1.0h-1.0zM320.6,184.1h1.0v1.0h-1.0zM318.0,189.6h1.0v1.0h-1.0z"/>
<path fill="#282828" fill-opacity="0.2" d="M314.1,188.7h1.0v1.0h-1.0zM318.3,185.2h1.0v1.0h-1.0zM316.5,187.4h1.0v1.0h-1.0zM316.9,185.7h1.0v1.0h-1.0zM323.6,189.2h1.0v1.0h-1.0zM313.8,187.0h1.0v1.0h-1.0zM318.0,188.7h1.0v1.0h-1.0zM318.4,188.1h1.0v1.0h-1.0zM319.9,184.9h1.0v1.0h-1.0zM317.7,191.2h1.0v1.0h-1.0zM309.3,190.7h1.0v1.0h-1.0zM311.5,186.8h1.0v1.0h-1.0zM314.0,187.2h1.0v1.0h-1.0zM320.7,185.2h1.0v1.0h-1.0zM311.6,186.9h1.0v1.0h-1.0zM314.8,185.1h1.0v1.0h-1.0zM313.7,185.8h1.0v1.0h-1.0zM318.0,188.4h1.0v1.0h-1.0zM312.3,188.8h1.0v1.0h-1.0zM309.0,189.1h1.0v1.0h-1.0zM317.3,191.3h1.0v1.0h-1.0zM320.1,186.7h1.0v1.0h-1.0zM321.3,189.2h1.0v1.0h-1.0zM310.0,187.5h1.0v1.0h-1.0zM321.2,184.0h1.0v1.0h-1.0zM326.4,188.3h1.0v1.0h-1.0zM311.4,187.7h1.0v1.0h-1.0zM314.6,186.3h1.0v1.0h-1.0zM310.2,190.1h1.0v1.0h-1.0zM317.5,188.8h1.0v1.0h-1.0zM311.0,186.6h1.0v1.0h-1.0zM314.7,184.6h1.0v1.0h-1.0zM323.5,185.3h1.0v1.0h-1.0zM321.1,184.4h1.0v1.0h-1.0zM316.6,188.3h1.0v1.0h-1.0zM313.7,189.9h1.0v1.0h-1.0zM321.0,191.3h1.0v1.0h-1.0zM317.7,186.1h1.0v1.0h-1.0zM325.0,185.4h1.0v1.0h-1.0zM319.3,185.9h1.0v1.0h-1.0zM317.0,186.8h1.0v1.0h-1.0zM320.1,184.6h1.0v1.0h-1.0zM319.5,187.3h1.0v1.0h-1.0zM311.9,190.5h1.0v1.0h-1.0zM324.5,186.8h1.0v1.0h-1.0zM325.2,189.5h1.0v1.0h-1.0zM316.0,189.4h1.0v1.0h-1.0zM310.3,189.7h1.0v1.0h-1.0zM319.0,186.4h1.0v1.0h-1.0zM317.8,191.6h1.0v1.0h-1.0z"/>
<path fill="#282828" fill-opacity="0.2" d="M319.4,189.8h1.0v1.0h-1.0zM313.4,183.8h1.0v1.0h-1.0zM311.7,189.2h1.0v1.0h-1.0zM324.1,190.1h1.0v1.0h-1.0zM316.1,186.9h1.0v1.0h-1.0zM323.2,189.1h1.0v1.0h-1.0zM326.8,189.2h1.0v1.0h-1.0zM319.6,186.0h1.0v1.0h-1.0zM321.4,187.6h1.0v1.0h-1.0zM315.8,189.9h1.0v1.0h-1.0zM312.2,188.9h1.0v1.0h-1.0zM319.5,188.9h1.0v1.0h-1.0zM322.4,187.1h1.0v1.0h-1.0zM318.6,185.1h1.0v1.0h-1.0zM313.6,186.0h1.0v1.0h-1.0zM322.9,184.9h1.0v1.0h-1.0zM317.0,188.9h1.0v1.0h-1.0zM324.1,188.6h1.0v1.0h-1.0zM322.9,189.9h1.0v1.0h-1.0zM312.3,186.1h1.0v1.0h-1.0zM316.0,188.5h1.0v1.0h-1.0zM319.1,190.9h1.0v1.0h-1.0zM322.8,188.0h1.0v1.0h-1.0zM314.6,189.2h1.0v1.0h-1.0zM320.8,190.7h1.0v1.0h-1.0zM313.1,190.6h1.0v1.0h-1.0zM315.1,191.3h1.0v1.0h-1.0zM323.8,189.7h1.0v1.0h-1.0zM320.5,188.5h1.0v1.0h-1.0zM320.9,190.2h1.0v1.0h-1.0zM322.2,190.3h1.0v1.0h-1.0zM322.0,185.0h1.0v1.0h-1.0zM320.2,189.8h1.0v1.0h-1.0zM314.3,184.5h1.0v1.0h-1.0zM314.9,188.9h1.0v1.0h-1.0zM313.8,189.1h1.0v1.0h-1.0zM311.3,187.6h1.0v1.0h-1.0zM319.5,186.3h1.0v1.0h-1.0zM312.8,186.6h1.0v1.0h-1.0zM319.4,192.3h1.0v1.0h-1.0zM310.6,187.1h1.0v1.0h-1.0zM325.6,187.3h1.0v1.0h-1.0zM323.7,188.4h1.0v1.0h-1.0zM309.0,189.9h1.0v1.0h-1.0zM316.3,187.3h1.0v1.0h-1.0zM311.9,184.8h1.0v1.0h-1.0zM316.6,187.8h1.0v1.0h-1.0zM315.3,189.5h1.0v1.0h-1.0zM310.7,186.3h1.0v1.0h-1.0zM314.8,187.4h1.0v1.0h-1.0z"/>
<path fill="#282828" fill-opacity="0.2" d="M312.0,185.2h1.0v1.0h-1.0zM323.8,187.8h1.0v1.0h-1.0zM314.9,190.6h1.0v1.0h-1.0zM318.5,183.1h1.0v1.0h-1.0zM320.8,187.8h1.0v1.0h-1.0zM315.3,189.9h1.0v1.0h-1.0zM321.6,191.2h1.0v1.0h-1.0zM311.5,187.5h1.0v1.0h-1.0zM311.5,188.9h1.0v1.0h-1.0zM320.1,186.5h1.0v1.0h-1.0zM320.7,186.0h1.0v1.0h-1.0zM318.9,190.0h1.0v1.0h-1.0zM323.7,184.2h1.0v1.0h-1.0zM317.1,189.0h1.0v1.0h-1.0zM311.4,185.5h1.0v1.0h-1.0zM323.9,187.1h1.0v1.0h-1.0zM320.5,189.2h1.0v1.0h-1.0zM319.2,183.9h1.0v1.0h-1.0zM311.4,188.7h1.0v1.0h-1.0zM311.4,187.7h1.0v1.0h-1.0zM314.2,189.1h1.0v1.0h-1.0zM322.3,190.0h1.0v1.0h-1.0zM321.1,185.8h1.0v1.0h-1.0zM318.2,186.3h1.0v1.0h-1.0zM325.1,186.9h1.0v1.0h-1.0zM316.2,183.8h1.0v1.0h-1.0zM319.7,191.2h1.0v1.0h-1.0zM322.7,188.5h1.0v1.0h-1.0zM316.7,189.3h1.0v1.0h-1.0zM316.7,187.1h1.0v1.0h-1.0zM311.3,187.1h1.0v1.0h-1.0zM317.8,188.8h1.0v1.0h-1.0zM319.0,185.9h1.0v1.0h-1.0zM310.1,188.2h1.0v1.0h-1.0zM324.2,188.3h1.0v1.0h-1.0zM326.2,188.1h1.0v1.0h-1.0zM322.9,186.7h1.0v1.0h-1.0zM316.8,192.6h1.0v1.0h-1.0zM327.1,187.9h1.0v1.0h-1.0zM323.2,186.5h1.0v1.0h-1.0zM323.6,187.9h1.0v1.0h-1.0zM325.2,189.6h1.0v1.0h-1.0zM313.9,187.8h1.0v1.0h-1.0zM319.5,187.1h1.0v1.0h-1.0zM319.0,191.3h1.0v1.0h-1.0zM321.4,190.7h1.0v1.0h-1.0zM317.7,185.0h1.0v1.0h-1.0zM314.9,185.0h1.0v1.0h-1.0zM321.3,189.6h1.0v1.0h-1.0zM321.6,185.0h1.0v1.0h-1.0z"/>
<path fill="#282828" fill-opacity="0.2" d="M321.5,186.8h1.0v1.0h-1.0zM311.3,189.6h1.0v1.0h-1.0zM311.8,189.6h1.0v1.0h-1.0zM309.8,186.2h1.0v1.0h-1.0zM324.4,189.0h1.0v1.0h-1.0zM313.5,187.6h1.0v1.0h-1.0zM315.5,188.3h1.0v1.0h-1.0zM310.3,186.5h1.0v1.0h-1.0zM314.3,189.8h1.0v1.0h-1.0zM324.7,188.2h1.0v1.0h-1.0zM313.0,184.6h1.0v1.0h-1.0zM314.8,185.0h1.0v1.0h-1.0zM314.3,190.8h1.0v1.0h-1.0zM318.2,189.2h1.0v1.0h-1.0zM317.4,191.4h1.0v1.0h-1.0zM315.6,187.5h1.0v1.0h-1.0zM320.0,189.9h1.0v1.0h-1.0zM320.7,183.8h1.0v1.0h-1.0zM309.9,186.1h1.0v1.0h-1.0zM311.4,185.6h1.0v1.0h-1.0zM316.3,183.9h1.0v1.0h-1.0zM311.7,185.5h1.0v1.0h-1.0zM311.8,185.8h1.0v1.0h-1.0zM312.3,189.7h1.0v1.0h-1.0zM313.7,190.9h1.0v1.0h-1.0zM309.4,188.7h1.0v1.0h-1.0zM314.8,185.0h1.0v1.0h-1.0zM320.9,186.6h1.0v1.0h-1.0zM310.4,189.6h1.0v1.0h-1.0zM314.9,184.5h1.0v1.0h-1.0zM323.0,188.4h1.0v1.0h-1.0zM316.6,191.2h1.0v1.0h-1.0zM316.0,188.4h1.0v1.0h-1.0zM323.0,191.6h1.0v1.0h-1.0zM324.7,187.0h1.0v1.0h-1.0zM313.4,190.7h1.0v1.0h-1.0zM328.0,188.1h1.0v1.0h-1.0zM316.2,187.2h1.0v1.0h-1.0zM314.7,188.2h1.0v1.0h-1.0zM322.4,191.1h1.0v1.0h-1.0zM321.3,188.3h1.0v1.0h-1.0zM311.7,185.7h1.0v1.0h-1.0zM318.8,186.8h1.0v1.0h-1.0zM320.2,189.9h1.0v1.0h-1.0zM322.5,185.0h1.0v1.0h-1.0zM315.5,189.7h1.0v1.0h-1.0zM315.1,188.6h1.0v1.0h-1.0zM322.6,191.3h1.0v1.0h-1.0zM318.4,190.3h1.0v1.0h-1.0zM325.6,186.5h1.0v1.0h-1.0z"/>
<path fill="#282828" fill-opacity="0.2" d="M313.5,190.8h1.0v1.0h-1.0zM323.3,189.2h1.0v1.0h-1.0zM321.3,183.8h1.0v1.0h-1.0zM322.6,189.4h1.0v1.0h-1.0zM320.5,188.9h1.0v1.0h-1.0zM318.5,191.1h1.0v1.0h-1.0zM319.7,189.1h1.0v1.0h-1.0zM316.7,185.3h1.0v1.0h-1.0zM321.2,185.1h1.0v1.0h-1.0zM315.2,190.0h1.0v1.0h-1.0zM312.6,186.9h1.0v1.0h-1.0zM316.1,188.0h1.0v1.0h-1.0zM310.2,187.9h1.0v1.0h-1.0zM318.1,183.5h1.0v1.0h-1.0zM312.3,189.3h1.0v1.0h-1.0zM315.3,188.1h1.0v1.0h-1.0zM320.1,186.5h1.0v1.0h-1.0zM309.6,185.2h1.0v1.0h-1.0zM315.2,185.1h1.0v1.0h-1.0zM313.4,185.4h1.0v1.0h-1.0zM310.4,188.0h1.0v1.0h-1.0zM316.7,183.8h1.0v1.0h-1.0zM316.4,188.5h1.0v1.0h-1.0zM320.3,190.0h1.0v1.0h-1.0zM315.1,189.6h1.0v1.0h-1.0zM312.9,187.7h1.0v1.0h-1.0zM316.7,191.4h1.0v1.0h-1.0zM314.4,187.5h1.0v1.0h-1.0zM312.9,185.4h1.0v1.0h-1.0zM318.4,188.8h1.0v1.0h-1.0zM322.2,183.0h1.0v1.0h-1.0zM316.5,184.2h1.0v1.0h-1.0zM318.5,187.3h1.0v1.0h-1.0zM319.4,190.4h1.0v1.0h-1.0zM323.6,189.4h1.0v1.0h-1.0zM315.4,186.0h1.0v1.0h-1.0zM319.2,189.0h1.0v1.0h-1.0zM314.8,187.0h1.0v1.0h-1.0zM313.2,189.4h1.0v1.0h-1.0zM309.3,189.3h1.0v1.0h-1.0zM319.8,188.0h1.0v1.0h-1.0zM316.8,187.3h1.0v1.0h-1.0zM310.4,188.1h1.0v1.0h-1.0zM316.6,188.4h1.0v1.0h-1.0zM322.3,185.7h1.0v1.0h-1.0zM320.9,187.8h1.0v1.0h-1.0zM325.4,186.4h1.0v1.0h-1.0zM323.6,191.2h1.0v1.0h-1.0zM321.7,189.9h1.0v1.0h-1.0zM311.2,189.8h1.0v1.0h-1.0z"/>
<path fill="#5a5a5a" fill-opacity="0.2" d="M327.9,188.5h1.0v1.0h-1.0zM322.0,188.2h1.0v1.0h-1.0zM315.2,187.8h1.0v1.0h-1.0zM327.6,190.7h1.0v1.0h-1.0zM331.5,189.8h1.0v1.0h-1.0zM314.1,189.2h1.0v1.0h-1.0zM314.4,187.8h1.0v1.0h-1.0zM321.4,187.7h1.0v1.0h-1.0zM328.0,191.9h1.0v1.0h-1.0zM331.5,183.3h1.0v1.0h-1.0zM326.7,187.9h1.0v1.0h-1.0zM310.5,183.6h1.0v1.0h-1.0zM323.7,191.3h1.0v1.0h-1.0zM327.4,192.1h1.0v1.0h-1.0zM328.2,189.0h1.0v1.0h-1.0zM334.8,193.1h1.0v1.0h-1.0zM334.4,184.7h1.0v1.0h-1.0zM317.5,189.2h1.0v1.0h-1.0zM317.3,189.2h1.0v1.0h-1.0zM327.7,190.7h1.0v1.0h-1.0zM345.7,189.2h1.0v1.0h-1.0zM312.6,184.3h1.0v1.0h-1.0zM315.3,185.7h1.0v1.0h-1.0zM334.6,188.3h1.0v1.0h-1.0zM330.0,190.2h1.0v1.0h-1.0zM324.4,184.4h1.0v1.0h-1.0zM321.0,189.6h1.0v1.0h-1.0zM335.5,187.3h1.0v1.0h-1.0zM324.5,187.2h1.0v1.0h-1.0zM317.8,182.0h1.0v1.0h-1.0zM324.8,182.4h1.0v1.0h-1.0zM326.3,186.3h1.0v1.0h-1.0zM319.7,186.1h1.0v1.0h-1.0zM316.5,185.1h1.0v1.0h-1.0zM332.5,184.8h1.0v1.0h-1.0zM310.6,184.0h1.0v1.0h-1.0zM327.1,192.9h1.0v1.0h-1.0zM311.3,185.9h1.0v1.0h-1.0zM323.0,187.5h1.0v1.0h-1.0zM322.2,183.7h1.0v1.0h-1.0zM315.1,188.9h1.0v1.0h-1.0zM326.4,190.3h1.0v1.0h-1.0z"/>
<path fill="#5a5a5a" fill-opacity="0.2" d="M316.0,189.2h1.0v1.0h-1.0zM327.9,188.9h1.0v1.0h-1.0zM345.1,190.6h1.0v1.0h-1.0zM322.7,184.7h1.0v1.0h-1.0zM333.4,187.3h1.0v1.0h-1.0zM316.5,186.7h1.0v1.0h-1.0zM327.1,187.8h1.0v1.0h-1.0zM333.8,187.5h1.0v1.0h-1.0zM328.6,188.4h1.0v1.0h-1.0zM322.9,183.3h1.0v1.0h-1.0zM322.7,190.7h1.0v1.0h-1.0zM322.8,190.6h1.0v1.0h-1.0zM343.3,187.1h1.0v1.0h-1.0zM337.8,184.1h1.0v1.0h-1.0zM329.3,191.5h1.0v1.0h-1.0zM326.3,185.3h1.0v1.0h-1.0zM336.3,192.4h1.0v1.0h-1.0zM336.5,185.2h1.0v1.0h-1.0zM311.7,184.2h1.0v1.0h-1.0zM318.4,188.4h1.0v1.0h-1.0zM318.2,187.5h1.0v1.0h-1.0zM324.0,186.8h1.0v1.0h-1.0zM326.7,180.7h1.0v1.0h-1.0zM328.0,186.6h1.0v1.0h-1.0zM322.5,186.4h1.0v1.0h-1.0zM304.3,180.8h1.0v1.0h-1.0zM321.8,182.5h1.0v1.0h-1.0zM307.8,187.4h1.0v1.0h-1.0zM314.6,183.4h1.0v1.0h-1.0zM336.7,182.0h1.0v1.0h-1.0zM328.7,178.9h1.0v1.0h-1.0zM318.2,188.7h1.0v1.0h-1.0zM326.5,191.2h1.0v1.0h-1.0zM326.5,187.2h1.0v1.0h-1.0zM317.2,188.4h1.0v1.0h-1.0zM331.7,185.8h1.0v1.0h-1.0zM330.2,185.8h1.0v1.0h-1.0zM307.8,186.9h1.0v1.0h-1.0zM344.8,182.4h1.0v1.0h-1.0zM310.2,189.7h1.0v1.0h-1.0zM326.1,183.3h1.0v1.0h-1.0zM330.0,186.1h1.0v1.0h-1.0z"/>
<path fill="#5a5a5a" fill-opacity="0.2" d="M308.8,184.0h1.0v1.0h-1.0zM313.7,188.1h1.0v1.0h-1.0zM323.7,187.5h1.0v1.0h-1.0zM332.8,182.2h1.0v1.0h-1.0zM334.5,189.0h1.0v1.0h-1.0zM320.1,190.0h1.0v1.0h-1.0zM327.9,185.2h1.0v1.0h-1.0zM341.6,190.6h1.0v1.0h-1.0zM323.0,184.3h1.0v1.0h-1.0zM319.1,190.5h1.0v1.0h-1.0zM322.3,189.3h1.0v1.0h-1.0zM308.8,187.7h1.0v1.0h-1.0zM327.2,188.2h1.0v1.0h-1.0zM331.1,186.6h1.0v1.0h-1.0zM317.7,187.1h1.0v1.0h-1.0zM326.9,185.6h1.0v1.0h-1.0zM310.7,190.4h1.0v1.0h-1.0zM332.3,188.8h1.0v1.0h-1.0zM324.3,183.6h1.0v1.0h-1.0zM334.9,190.5h1.0v1.0h-1.0zM329.5,184.5h1.0v1.0h-1.0zM322.0,184.9h1.0v1.0h-1.0zM331.2,187.1h1.0v1.0h-1.0zM309.1,186.1h1.0v1.0h-1.0zM313.3,191.5h1.0v1.0h-1.0zM323.1,190.7h1.0v1.0h-1.0zM305.0,182.7h1.0v1.0h-1.0zM324.9,191.1h1.0v1.0h-1.0zM327.7,191.3h1.0v1.0h-1.0zM329.4,189.7h1.0v1.0h-1.0zM337.0,185.6h1.0v1.0h-1.0zM318.5,191.0h1.0v1.0h-1.0zM321.3,185.9h1.0v1.0h-1.0zM331.8,187.6h1.0v1.0h-1.0zM332.4,188.9h1.0v1.0h-1.0zM305.3,184.1h1.0v1.0h-1.0zM317.8,186.0h1.0v1.0h-1.0zM318.4,189.9h1.0v1.0h-1.0zM324.1,184.7h1.0v1.0h-1.0zM321.9,188.6h1.0v1.0h-1.0zM332.6,186.6h1.0v1.0h-1.0zM337.2,186.6h1.0v1.0h-1.0z"/>
<path fill="#5a5a5a" fill-opacity="0.2" d="M314.5,187.8h1.0v1.0h-1.0zM333.2,189.4h1.0v1.0h-1.0zM334.3,183.8h1.0v1.0h-1.0zM327.3,187.2h1.0v1.0h-1.0zM329.8,190.3h1.0v1.0h-1.0zM338.8,187.6h1.0v1.0h-1.0zM324.0,184.5h1.0v1.0h-1.0zM326.0,186.7h1.0v1.0h-1.0zM321.1,187.0h1.0v1.0h-1.0zM328.2,193.3h1.0v1.0h-1.0zM325.0,185.8h1.0v1.0h-1.0zM314.9,189.5h1.0v1.0h-1.0zM332.1,186.2h1.0v1.0h-1.0zM320.0,189.7h1.0v1.0h-1.0zM314.9,185.8h1.0v1.0h-1.0zM328.0,189.2h1.0v1.0h-1.0zM344.8,187.7h1.0v1.0h-1.0zM338.6,187.1h1.0v1.0h-1.0zM329.6,182.9h1.0v1.0h-1.0zM324.7,188.4h1.0v1.0h-1.0zM317.6,189.5h1.0v1.0h-1.0zM310.3,186.7h1.0v1.0h-1.0zM352.4,187.1h1.0v1.0h-1.0zM306.0,185.6h1.0v1.0h-1.0zM334.9,187.2h1.0v1.0h-1.0zM319.1,186.7h1.0v1.0h-1.0zM321.6,184.4h1.0v1.0h-1.0zM318.1,183.0h1.0v1.0h-1.0zM332.0,194.1h1.0v1.0h-1.0zM336.4,187.2h1.0v1.0h-1.0zM320.3,190.1h1.0v1.0h-1.0zM309.6,184.5h1.0v1.0h-1.0zM336.2,187.3h1.0v1.0h-1.0zM328.6,184.9h1.0v1.0h-1.0zM334.6,187.6h1.0v1.0h-1.0zM331.8,187.1h1.0v1.0h-1.0zM335.0,181.5h1.0v1.0h-1.0zM309.2,188.1h1.0v1.0h-1.0zM322.6,186.1h1.0v1.0h-1.0zM331.2,184.7h1.0v1.0h-1.0zM328.5,191.9h1.0v1.0h-1.0zM320.9,186.2h1.0v1.0h-1.0z"/>
<path fill="#5a5a5a" fill-opacity="0.2" d="M317.6,180.7h1.0v1.0h-1.0zM337.6,183.2h1.0v1.0h-1.0zM321.8,185.6h1.0v1.0h-1.0zM311.0,187.8h1.0v1.0h-1.0zM342.0,182.6h1.0v1.0h-1.0zM319.0,185.7h1.0v1.0h-1.0zM327.0,181.7h1.0v1.0h-1.0zM314.8,184.3h1.0v1.0h-1.0zM331.1,189.2h1.0v1.0h-1.0zM316.2,189.8h1.0v1.0h-1.0zM328.3,190.2h1.0v1.0h-1.0zM333.9,186.5h1.0v1.0h-1.0zM323.2,190.6h1.0v1.0h-1.0zM334.2,188.8h1.0v1.0h-1.0zM328.2,186.3h1.0v1.0h-1.0zM341.7,185.3h1.0v1.0h-1.0zM324.8,193.0h1.0v1.0h-1.0zM318.7,188.0h1.0v1.0h-1.0zM323.6,188.5h1.0v1.0h-1.0zM319.2,188.9h1.0v1.0h-1.0zM324.7,187.2h1.0v1.0h-1.0zM328.9,188.1h1.0v1.0h-1.0zM324.4,187.4h1.0v1.0h-1.0zM328.3,186.6h1.0v1.0h-1.0zM329.2,188.1h1.0v1.0h-1.0zM330.5,191.9h1.0v1.0h-1.0zM313.4,192.9h1.0v1.0h-1.0zM321.7,184.2h1.0v1.0h-1.0zM316.5,181.4h1.0v1.0h-1.0zM333.1,186.6h1.0v1.0h-1.0zM332.6,188.7h1.0v1.0h-1.0zM326.6,182.5h1.0v1.0h-1.0zM331.8,187.5h1.0v1.0h-1.0zM310.9,190.2h1.0v1.0h-1.0zM323.8,187.6h1.0v1.0h-1.0zM324.3,189.0h1.0v1.0h-1.0zM330.5,186.1h1.0v1.0h-1.0zM316.5,185.9h1.0v1.0h-1.0zM329.4,189.4h1.0v1.0h-1.0zM336.2,189.4h1.0v1.0h-1.0zM336.3,186.1h1.0v1.0h-1.0z"/>
<path fill="#5a5a5a" fill-opacity="0.2" d="M334.2,185.7h1.0v1.0h-1.0zM335.3,183.3h1.0v1.0h-1.0zM335.2,188.8h1.0v1.0h-1.0zM317.4,191.1h1.0v1.0h-1.0zM321.0,183.2h1.0v1.0h-1.0zM323.3,182.7h1.0v1.0h-1.0zM329.4,187.9h1.0v1.0h-1.0zM326.7,187.6h1.0v1.0h-1.0zM316.3,187.0h1.0v1.0h-1.0zM323.6,182.8h1.0v1.0h-1.0zM337.4,190.6h1.0v1.0h-1.0zM336.7,189.4h1.0v1.0h-1.0zM324.1,191.0h1.0v1.0h-1.0zM334.6,191.9h1.0v1.0h-1.0zM318.8,186.7h1.0v1.0h-1.0zM324.1,185.0h1.0v1.0h-1.0zM323.4,187.1h1.0v1.0h-1.0zM329.2,186.6h1.0v1.0h-1.0zM336.8,185.0h1.0v1.0h-1.0zM328.9,185.9h1.0v1.0h-1.0zM334.2,186.6h1.0v1.0h-1.0zM330.6,195.6h1.0v1.0h-1.0zM323.3,185.5h1.0v1.0h-1.0zM325.9,191.8h1.0v1.0h-1.0zM336.9,188.8h1.0v1.0h-1.0zM305.1,187.0h1.0v1.0h-1.0zM312.2,186.5h1.0v1.0h-1.0zM326.8,189.1h1.0v1.0h-1.0zM324.6,188.1h1.0v1.0h-1.0zM331.4,191.0h1.0v1.0h-1.0zM320.1,189.3h1.0v1.0h-1.0zM341.1,183.4h1.0v1.0h-1.0zM320.6,185.6h1.0v1.0h-1.0zM340.5,186.5h1.0v1.0h-1.0zM317.4,186.3h1.0v1.0h-1.0zM335.0,186.4h1.0v1.0h-1.0zM330.5,187.8h1.0v1.0h-1.0zM310.3,192.5h1.0v1.0h-1.0zM325.6,190.6h1.0v1.0h-1.0zM339.2,189.3h1.0v1.0h-1.0zM331.3,190.2h1.0v1.0h-1.0z"/>
<path fill="#4b4b4b" fill-opacity="0.26" d="M418.3,187.5h1.0v1.0h-1.0zM408.7,186.3h1.0v1.0h-1.0zM413.7,188.4h1.0v1.0h-1.0zM423.2,187.9h1.0v1.0h-1.0zM416.5,185.6h1.0v1.0h-1.0zM412.4,185.6h1.0v1.0h-1.0zM418.5,189.7h1.0v1.0h-1.0zM424.8,181.7h1.0v1.0h-1.0zM434.9,188.1h1.0v1.0h-1.0zM420.0,186.7h1.0v1.0h-1.0zM425.3,185.1h1.0v1.0h-1.0zM426.1,184.4h1.0v1.0h-1.0zM426.7,183.6h1.0v1.0h-1.0zM417.2,184.4h1.0v1.0h-1.0zM420.1,187.2h1.0v1.0h-1.0zM428.4,185.2h1.0v1.0h-1.0zM425.5,187.4h1.0v1.0h-1.0zM423.2,186.6h1.0v1.0h-1.0zM414.5,182.9h1.0v1.0h-1.0zM430.6,186.6h1.0v1.0h-1.0zM427.8,188.6h1.0v1.0h-1.0zM420.9,188.0h1.0v1.0h-1.0zM426.8,186.0h1.0v1.0h-1.0zM425.5,185.0h1.0v1.0h-1.0zM430.3,185.8h1.0v1.0h-1.0zM410.1,188.4h1.0v1.0h-1.0zM425.9,186.0h1.0v1.0h-1.0zM418.5,185.3h1.0v1.0h-1.0zM426.9,188.3h1.0v1.0h-1.0zM424.5,184.4h1.0v1.0h-1.0zM414.0,185.9h1.0v1.0h-1.0zM424.6,189.9h1.0v1.0h-1.0zM425.8,187.2h1.0v1.0h-1.0zM413.8,184.2h1.0v1.0h-1.0zM434.7,187.4h1.0v1.0h-1.0zM435.0,186.0h1.0v1.0h-1.0zM429.9,189.0h1.0v1.0h-1.0zM430.9,191.1h1.0v1.0h-1.0zM431.7,188.8h1.0v1.0h-1.0zM413.9,184.7h1.0v1.0h-1.0zM432.7,187.9h1.0v1.0h-1.0zM422.0,182.2h1.0v1.0h-1.0zM433.9,187.6h1.0v1.0h-1.0zM425.7,188.9h1.0v1.0h-1.0zM424.6,183.0h1.0v1.0h-1.0zM412.7,189.1h1.0v1.0h-1.0zM417.5,189.9h1.0v1.0h-1.0zM430.9,187.8h1.0v1.0h-1.0zM421.7,187.8h1.0v1.0h-1.0zM421.4,184.6h1.0v1.0h-1.0zM407.7,188.1h1.0v1.0h-1.0zM423.9,184.0h1.0v1.0h-1.0zM437.7,185.9h1.0v1.0h-1.0zM408.2,185.8h1.0v1.0h-1.0zM412.0,184.6h1.0v1.0h-1.0zM420.2,188.6h1.0v1.0h-1.0zM413.8,188.9h1.0v1.0h-1.0zM411.1,186.3h1.0v1.0h-1.0zM421.5,183.2h1.0v1.0h-1.0zM414.6,186.0h1.0v1.0h-1.0zM422.1,186.8h1.0v1.0h-1.0zM423.1,189.5h1.0v1.0h-1.0zM411.6,187.6h1.0v1.0h-1.0zM428.9,187.6h1.0v1.0h-1.0zM413.2,187.3h1.0v1.0h-1.0zM427.4,187.0h1.0v1.0h-1.0zM421.2,186.3h1.0v1.0h-1.0zM426.7,186.5h1.0v1.0h-1.0zM424.2,184.9h1.0v1.0h-1.0zM431.3,183.6h1.0v1.0h-1.0zM419.3,184.3h1.0v1.0h-1.0zM427.5,188.4h1.0v1.0h-1.0zM413.9,185.4h1.0v1.0h-1.0zM416.6,189.2h1.0v1.0h-1.0zM421.2,185.8h1.0v1.0h-1.0zM429.3,186.5h1.0v1.0h-1.0zM430.4,185.6h1.0v1.0h-1.0zM422.3,187.3h1.0v1.0h-1.0zM425.2,187.3h1.0v1.0h-1.0zM417.8,186.7h1.0v1.0h-1.0zM424.7,187.6h1.0v1.0h-1.0zM432.0,184.6h1.0v1.0h-1.0zM410.2,182.7h1.0v1.0h-1.0zM414.2,188.5h1.0v1.0h-1.0zM432.9,184.6h1.0v1.0h-1.0zM421.6,187.9h1.0v1.0h-1.0zM426.3,188.8h1.0v1.0h-1.0zM412.9,187.1h1.0v1.0h-1.0zM415.3,189.3h1.0v1.0h-1.0zM416.4,188.3h1.0v1.0h-1.0zM411.6,188.8h1.0v1.0h-1.0zM413.9,187.9h1.0v1.0h-1.0zM430.2,185.8h1.0v1.0h-1.0zM420.6,186.8h1.0v1.0h-1.0zM429.4,186.2h1.0v1.0h-1.0zM424.5,181.4h1.0v1.0h-1.0zM424.5,187.3h1.0v1.0h-1.0z"/>
<path fill="#4b4b4b" fill-opacity="0.26" d="M429.6,190.0h1.0v1.0h-1.0zM433.3,187.1h1.0v1.0h-1.0zM427.5,185.8h1.0v1.0h-1.0zM425.7,185.1h1.0v1.0h-1.0zM431.3,190.3h1.0v1.0h-1.0zM414.3,187.7h1.0v1.0h-1.0zM413.6,188.6h1.0v1.0h-1.0zM427.4,188.3h1.0v1.0h-1.0zM428.0,183.7h1.0v1.0h-1.0zM429.3,185.4h1.0v1.0h-1.0zM425.8,185.8h1.0v1.0h-1.0zM416.4,182.5h1.0v1.0h-1.0zM419.5,187.2h1.0v1.0h-1.0zM408.5,186.7h1.0v1.0h-1.0zM417.1,183.7h1.0v1.0h-1.0zM423.5,185.5h1.0v1.0h-1.0zM420.2,188.6h1.0v1.0h-1.0zM409.9,188.8h1.0v1.0h-1.0zM412.9,187.7h1.0v1.0h-1.0zM408.6,186.0h1.0v1.0h-1.0zM422.8,182.6h1.0v1.0h-1.0zM415.8,186.6h1.0v1.0h-1.0zM435.4,187.3h1.0v1.0h-1.0zM413.4,186.6h1.0v1.0h-1.0zM416.2,182.4h1.0v1.0h-1.0zM417.4,186.2h1.0v1.0h-1.0zM418.4,184.5h1.0v1.0h-1.0zM414.7,185.4h1.0v1.0h-1.0zM423.7,185.8h1.0v1.0h-1.0zM413.2,184.0h1.0v1.0h-1.0zM430.4,188.8h1.0v1.0h-1.0zM428.3,186.9h1.0v1.0h-1.0zM430.6,187.4h1.0v1.0h-1.0zM437.3,187.7h1.0v1.0h-1.0zM426.1,184.5h1.0v1.0h-1.0zM421.3,184.0h1.0v1.0h-1.0zM416.7,186.9h1.0v1.0h-1.0zM433.5,186.8h1.0v1.0h-1.0zM417.8,185.9h1.0v1.0h-1.0zM412.9,186.2h1.0v1.0h-1.0zM412.9,185.3h1.0v1.0h-1.0zM427.8,184.6h1.0v1.0h-1.0zM425.9,184.8h1.0v1.0h-1.0zM423.5,185.8h1.0v1.0h-1.0zM431.3,184.1h1.0v1.0h-1.0zM429.6,185.4h1.0v1.0h-1.0zM413.8,188.4h1.0v1.0h-1.0zM412.9,185.3h1.0v1.0h-1.0zM410.3,186.7h1.0v1.0h-1.0zM427.9,187.1h1.0v1.0h-1.0zM425.5,188.6h1.0v1.0h-1.0zM410.1,186.2h1.0v1.0h-1.0zM408.9,185.1h1.0v1.0h-1.0zM423.9,188.1h1.0v1.0h-1.0zM429.4,184.3h1.0v1.0h-1.0zM421.6,184.5h1.0v1.0h-1.0zM413.0,185.4h1.0v1.0h-1.0zM427.7,187.4h1.0v1.0h-1.0zM411.6,186.5h1.0v1.0h-1.0zM425.8,184.1h1.0v1.0h-1.0zM416.9,186.3h1.0v1.0h-1.0zM408.2,187.0h1.0v1.0h-1.0zM418.3,187.4h1.0v1.0h-1.0zM418.0,187.3h1.0v1.0h-1.0zM418.7,186.2h1.0v1.0h-1.0zM413.0,187.8h1.0v1.0h-1.0zM420.6,189.3h1.0v1.0h-1.0zM421.6,186.4h1.0v1.0h-1.0zM411.2,185.9h1.0v1.0h-1.0zM432.9,187.4h1.0v1.0h-1.0zM410.6,184.4h1.0v1.0h-1.0zM413.9,185.1h1.0v1.0h-1.0zM408.4,186.5h1.0v1.0h-1.0zM435.1,186.6h1.0v1.0h-1.0zM415.3,187.6h1.0v1.0h-1.0zM428.3,186.5h1.0v1.0h-1.0zM414.3,185.9h1.0v1.0h-1.0zM423.1,187.3h1.0v1.0h-1.0zM421.1,184.8h1.0v1.0h-1.0zM437.3,186.8h1.0v1.0h-1.0zM418.2,187.9h1.0v1.0h-1.0zM425.8,187.1h1.0v1.0h-1.0zM421.8,184.2h1.0v1.0h-1.0zM428.7,182.0h1.0v1.0h-1.0zM419.3,183.5h1.0v1.0h-1.0zM412.2,187.3h1.0v1.0h-1.0zM422.4,188.5h1.0v1.0h-1.0zM409.8,187.5h1.0v1.0h-1.0zM424.3,185.6h1.0v1.0h-1.0zM430.9,186.0h1.0v1.0h-1.0zM413.3,185.0h1.0v1.0h-1.0zM413.0,189.1h1.0v1.0h-1.0zM424.6,183.5h1.0v1.0h-1.0zM430.7,186.2h1.0v1.0h-1.0zM420.7,186.1h1.0v1.0h-1.0zM410.5,184.1h1.0v1.0h-1.0zM423.1,183.7h1.0v1.0h-1.0z"/>
<path fill="#4b4b4b" fill-opacity="0.26" d="M428.0,186.2h1.0v1.0h-1.0zM409.9,185.7h1.0v1.0h-1.0zM432.1,185.6h1.0v1.0h-1.0zM428.5,183.0h1.0v1.0h-1.0zM428.2,187.4h1.0v1.0h-1.0zM415.1,187.8h1.0v1.0h-1.0zM418.0,183.2h1.0v1.0h-1.0zM416.0,187.9h1.0v1.0h-1.0zM418.2,185.6h1.0v1.0h-1.0zM428.1,187.4h1.0v1.0h-1.0zM432.4,187.9h1.0v1.0h-1.0zM422.6,188.8h1.0v1.0h-1.0zM424.5,187.5h1.0v1.0h-1.0zM417.8,187.9h1.0v1.0h-1.0zM411.7,185.9h1.0v1.0h-1.0zM421.7,185.8h1.0v1.0h-1.0zM430.8,186.3h1.0v1.0h-1.0zM429.7,183.5h1.0v1.0h-1.0zM412.8,184.3h1.0v1.0h-1.0zM419.7,185.6h1.0v1.0h-1.0zM417.5,184.8h1.0v1.0h-1.0zM417.4,183.4h1.0v1.0h-1.0zM424.0,185.7h1.0v1.0h-1.0zM408.5,184.6h1.0v1.0h-1.0zM430.2,188.6h1.0v1.0h-1.0zM427.2,189.8h1.0v1.0h-1.0zM421.8,184.2h1.0v1.0h-1.0zM432.6,184.3h1.0v1.0h-1.0zM420.8,188.0h1.0v1.0h-1.0zM429.3,183.6h1.0v1.0h-1.0zM435.0,186.2h1.0v1.0h-1.0zM423.2,187.7h1.0v1.0h-1.0zM411.2,186.8h1.0v1.0h-1.0zM426.8,186.9h1.0v1.0h-1.0zM434.9,187.8h1.0v1.0h-1.0zM424.2,189.6h1.0v1.0h-1.0zM424.0,184.6h1.0v1.0h-1.0zM410.0,187.1h1.0v1.0h-1.0zM409.9,187.3h1.0v1.0h-1.0zM419.3,188.8h1.0v1.0h-1.0zM415.4,187.8h1.0v1.0h-1.0zM436.4,188.2h1.0v1.0h-1.0zM435.3,184.4h1.0v1.0h-1.0zM421.2,186.6h1.0v1.0h-1.0zM427.0,188.8h1.0v1.0h-1.0zM423.8,184.1h1.0v1.0h-1.0zM412.9,185.7h1.0v1.0h-1.0zM414.5,184.9h1.0v1.0h-1.0zM429.3,188.3h1.0v1.0h-1.0zM429.7,185.5h1.0v1.0h-1.0zM429.9,186.4h1.0v1.0h-1.0zM429.7,188.7h1.0v1.0h-1.0zM419.5,189.0h1.0v1.0h-1.0zM433.4,188.5h1.0v1.0h-1.0zM418.2,185.9h1.0v1.0h-1.0zM412.5,186.6h1.0v1.0h-1.0zM420.5,186.1h1.0v1.0h-1.0zM435.3,186.6h1.0v1.0h-1.0zM409.7,186.3h1.0v1.0h-1.0zM414.9,189.4h1.0v1.0h-1.0zM425.6,182.8h1.0v1.0h-1.0zM427.3,188.4h1.0v1.0h-1.0zM426.5,184.5h1.0v1.0h-1.0zM434.9,186.8h1.0v1.0h-1.0zM435.5,184.6h1.0v1.0h-1.0zM418.3,184.6h1.0v1.0h-1.0zM412.1,185.4h1.0v1.0h-1.0zM424.1,186.6h1.0v1.0h-1.0zM410.4,188.3h1.0v1.0h-1.0zM406.7,187.9h1.0v1.0h-1.0zM409.8,186.9h1.0v1.0h-1.0zM420.8,184.5h1.0v1.0h-1.0zM426.1,183.7h1.0v1.0h-1.0zM419.3,186.1h1.0v1.0h-1.0zM423.3,187.9h1.0v1.0h-1.0zM438.4,185.0h1.0v1.0h-1.0zM417.0,186.9h1.0v1.0h-1.0zM424.7,187.9h1.0v1.0h-1.0zM418.8,186.3h1.0v1.0h-1.0zM429.8,183.4h1.0v1.0h-1.0zM434.2,186.7h1.0v1.0h-1.0zM408.0,187.9h1.0v1.0h-1.0zM410.3,186.0h1.0v1.0h-1.0zM432.8,187.7h1.0v1.0h-1.0zM416.7,190.2h1.0v1.0h-1.0zM419.7,190.1h1.0v1.0h-1.0zM421.9,183.2h1.0v1.0h-1.0zM409.0,184.8h1.0v1.0h-1.0zM427.2,185.2h1.0v1.0h-1.0zM407.6,186.7h1.0v1.0h-1.0zM419.2,181.6h1.0v1.0h-1.0zM429.8,183.3h1.0v1.0h-1.0zM422.0,182.7h1.0v1.0h-1.0zM430.7,187.4h1.0v1.0h-1.0zM429.6,183.3h1.0v1.0h-1.0zM426.2,186.5h1.0v1.0h-1.0zM410.1,188.0h1.0v1.0h-1.0z"/>
<path fill="#4b4b4b" fill-opacity="0.26" d="M412.7,184.6h1.0v1.0h-1.0zM433.1,186.4h1.0v1.0h-1.0zM425.2,183.2h1.0v1.0h-1.0zM419.9,189.5h1.0v1.0h-1.0zM417.2,187.7h1.0v1.0h-1.0zM435.5,184.1h1.0v1.0h-1.0zM425.1,182.6h1.0v1.0h-1.0zM430.7,185.0h1.0v1.0h-1.0zM422.1,184.3h1.0v1.0h-1.0zM410.2,187.9h1.0v1.0h-1.0zM414.6,188.4h1.0v1.0h-1.0zM425.7,182.4h1.0v1.0h-1.0zM432.0,185.8h1.0v1.0h-1.0zM414.0,189.1h1.0v1.0h-1.0zM412.7,188.9h1.0v1.0h-1.0zM416.2,186.5h1.0v1.0h-1.0zM416.6,184.2h1.0v1.0h-1.0zM421.7,188.4h1.0v1.0h-1.0zM417.7,187.5h1.0v1.0h-1.0zM424.0,183.0h1.0v1.0h-1.0zM431.0,184.1h1.0v1.0h-1.0zM422.4,188.6h1.0v1.0h-1.0zM434.0,188.2h1.0v1.0h-1.0zM408.2,185.7h1.0v1.0h-1.0zM423.3,186.6h1.0v1.0h-1.0zM427.3,186.5h1.0v1.0h-1.0zM416.8,187.8h1.0v1.0h-1.0zM412.6,184.8h1.0v1.0h-1.0zM412.3,187.8h1.0v1.0h-1.0zM429.8,189.4h1.0v1.0h-1.0zM417.0,183.0h1.0v1.0h-1.0zM433.9,186.0h1.0v1.0h-1.0zM411.8,187.0h1.0v1.0h-1.0zM432.9,186.4h1.0v1.0h-1.0zM431.6,185.0h1.0v1.0h-1.0zM416.7,183.6h1.0v1.0h-1.0zM435.9,186.6h1.0v1.0h-1.0zM424.0,188.0h1.0v1.0h-1.0zM414.7,188.3h1.0v1.0h-1.0zM415.1,190.1h1.0v1.0h-1.0zM433.7,186.9h1.0v1.0h-1.0zM433.8,186.1h1.0v1.0h-1.0zM412.3,185.3h1.0v1.0h-1.0zM424.4,186.6h1.0v1.0h-1.0zM432.1,187.2h1.0v1.0h-1.0zM408.4,184.7h1.0v1.0h-1.0zM407.8,185.7h1.0v1.0h-1.0zM428.7,182.9h1.0v1.0h-1.0zM411.4,185.0h1.0v1.0h-1.0zM426.5,186.4h1.0v1.0h-1.0zM417.3,184.2h1.0v1.0h-1.0zM431.2,182.4h1.0v1.0h-1.0zM419.1,187.5h1.0v1.0h-1.0zM425.0,190.0h1.0v1.0h-1.0zM417.2,186.3h1.0v1.0h-1.0zM419.1,186.6h1.0v1.0h-1.0zM418.5,183.2h1.0v1.0h-1.0zM424.3,182.1h1.0v1.0h-1.0zM429.7,187.4h1.0v1.0h-1.0zM414.9,189.6h1.0v1.0h-1.0zM421.2,187.6h1.0v1.0h-1.0zM429.5,183.5h1.0v1.0h-1.0zM419.7,185.1h1.0v1.0h-1.0zM428.2,188.3h1.0v1.0h-1.0zM428.4,185.8h1.0v1.0h-1.0zM429.3,186.6h1.0v1.0h-1.0zM431.8,185.7h1.0v1.0h-1.0zM431.8,185.6h1.0v1.0h-1.0zM430.3,185.6h1.0v1.0h-1.0zM418.0,185.3h1.0v1.0h-1.0zM426.9,187.1h1.0v1.0h-1.0zM429.1,187.4h1.0v1.0h-1.0zM415.3,187.8h1.0v1.0h-1.0zM431.4,184.2h1.0v1.0h-1.0zM426.1,188.5h1.0v1.0h-1.0zM412.0,184.5h1.0v1.0h-1.0zM417.0,187.8h1.0v1.0h-1.0zM422.5,186.5h1.0v1.0h-1.0zM427.4,187.1h1.0v1.0h-1.0zM414.3,184.5h1.0v1.0h-1.0zM415.8,187.4h1.0v1.0h-1.0zM423.2,185.3h1.0v1.0h-1.0zM418.9,183.7h1.0v1.0h-1.0zM407.9,186.7h1.0v1.0h-1.0zM431.2,188.7h1.0v1.0h-1.0zM432.4,184.5h1.0v1.0h-1.0zM424.7,188.4h1.0v1.0h-1.0zM422.6,187.6h1.0v1.0h-1.0zM414.8,185.3h1.0v1.0h-1.0zM422.4,183.6h1.0v1.0h-1.0zM408.1,184.2h1.0v1.0h-1.0zM429.5,185.6h1.0v1.0h-1.0zM423.2,187.9h1.0v1.0h-1.0zM416.9,185.6h1.0v1.0h-1.0zM412.1,186.5h1.0v1.0h-1.0zM431.0,184.8h1.0v1.0h-1.0zM426.4,187.8h1.0v1.0h-1.0z"/>
<path fill="#4b4b4b" fill-opacity="0.26" d="M422.8,188.6h1.0v1.0h-1.0zM423.5,186.9h1.0v1.0h-1.0zM415.4,187.5h1.0v1.0h-1.0zM413.5,183.6h1.0v1.0h-1.0zM420.9,187.4h1.0v1.0h-1.0zM431.6,187.7h1.0v1.0h-1.0zM431.3,186.4h1.0v1.0h-1.0zM429.1,183.7h1.0v1.0h-1.0zM418.9,184.3h1.0v1.0h-1.0zM428.3,187.6h1.0v1.0h-1.0zM423.1,184.3h1.0v1.0h-1.0zM417.8,188.1h1.0v1.0h-1.0zM430.4,188.3h1.0v1.0h-1.0zM414.8,185.5h1.0v1.0h-1.0zM428.1,187.8h1.0v1.0h-1.0zM427.6,190.3h1.0v1.0h-1.0zM431.8,184.2h1.0v1.0h-1.0zM415.9,187.3h1.0v1.0h-1.0zM419.6,184.5h1.0v1.0h-1.0zM416.0,183.8h1.0v1.0h-1.0zM430.9,184.9h1.0v1.0h-1.0zM424.9,188.6h1.0v1.0h-1.0zM419.3,189.0h1.0v1.0h-1.0zM420.7,186.5h1.0v1.0h-1.0zM408.4,184.9h1.0v1.0h-1.0zM418.4,188.6h1.0v1.0h-1.0zM434.4,185.4h1.0v1.0h-1.0zM419.8,189.1h1.0v1.0h-1.0zM407.3,187.8h1.0v1.0h-1.0zM423.8,186.6h1.0v1.0h-1.0zM425.6,191.5h1.0v1.0h-1.0zM425.2,190.3h1.0v1.0h-1.0zM414.9,188.4h1.0v1.0h-1.0zM415.4,188.3h1.0v1.0h-1.0zM418.7,187.5h1.0v1.0h-1.0zM415.8,184.0h1.0v1.0h-1.0zM425.1,182.1h1.0v1.0h-1.0zM409.2,186.3h1.0v1.0h-1.0zM426.4,186.2h1.0v1.0h-1.0zM423.7,183.5h1.0v1.0h-1.0zM419.9,187.7h1.0v1.0h-1.0zM409.5,187.9h1.0v1.0h-1.0zM433.5,187.4h1.0v1.0h-1.0zM427.8,183.2h1.0v1.0h-1.0zM408.7,185.4h1.0v1.0h-1.0zM436.0,185.3h1.0v1.0h-1.0zM424.1,189.7h1.0v1.0h-1.0zM425.3,183.1h1.0v1.0h-1.0zM412.5,185.3h1.0v1.0h-1.0zM427.1,188.4h1.0v1.0h-1.0zM420.2,183.1h1.0v1.0h-1.0zM422.0,186.5h1.0v1.0h-1.0zM415.4,186.6h1.0v1.0h-1.0zM422.9,187.7h1.0v1.0h-1.0zM417.9,186.0h1.0v1.0h-1.0zM416.0,185.1h1.0v1.0h-1.0zM421.2,184.8h1.0v1.0h-1.0zM425.8,186.4h1.0v1.0h-1.0zM431.7,188.9h1.0v1.0h-1.0zM418.8,186.8h1.0v1.0h-1.0zM420.8,187.0h1.0v1.0h-1.0zM408.9,186.5h1.0v1.0h-1.0zM430.2,188.3h1.0v1.0h-1.0zM433.6,185.1h1.0v1.0h-1.0zM424.7,187.4h1.0v1.0h-1.0zM418.2,185.3h1.0v1.0h-1.0zM433.5,185.6h1.0v1.0h-1.0zM435.4,187.2h1.0v1.0h-1.0zM419.4,182.8h1.0v1.0h-1.0zM412.4,187.3h1.0v1.0h-1.0zM418.9,188.8h1.0v1.0h-1.0zM428.9,184.2h1.0v1.0h-1.0zM431.2,183.1h1.0v1.0h-1.0zM427.2,182.3h1.0v1.0h-1.0zM428.9,186.4h1.0v1.0h-1.0zM410.0,187.1h1.0v1.0h-1.0zM421.6,186.2h1.0v1.0h-1.0zM417.3,184.6h1.0v1.0h-1.0zM409.2,187.9h1.0v1.0h-1.0zM423.5,187.1h1.0v1.0h-1.0zM431.8,188.0h1.0v1.0h-1.0zM417.1,186.6h1.0v1.0h-1.0zM432.5,185.3h1.0v1.0h-1.0zM416.9,188.0h1.0v1.0h-1.0zM429.4,190.1h1.0v1.0h-1.0zM422.1,182.8h1.0v1.0h-1.0zM422.6,185.9h1.0v1.0h-1.0zM426.7,184.7h1.0v1.0h-1.0zM425.7,188.2h1.0v1.0h-1.0zM415.6,183.8h1.0v1.0h-1.0zM421.7,187.8h1.0v1.0h-1.0zM428.1,183.0h1.0v1.0h-1.0zM429.2,185.8h1.0v1.0h-1.0zM417.4,188.6h1.0v1.0h-1.0zM420.8,185.6h1.0v1.0h-1.0zM418.0,185.3h1.0v1.0h-1.0z"/>
<path fill="#4b4b4b" fill-opacity="0.26" d="M421.9,183.5h1.0v1.0h-1.0zM422.1,182.8h1.0v1.0h-1.0zM428.8,188.1h1.0v1.0h-1.0zM418.2,186.8h1.0v1.0h-1.0zM424.4,186.6h1.0v1.0h-1.0zM433.9,188.3h1.0v1.0h-1.0zM427.0,190.8h1.0v1.0h-1.0zM431.4,187.8h1.0v1.0h-1.0zM421.4,182.6h1.0v1.0h-1.0zM433.2,187.4h1.0v1.0h-1.0zM427.5,186.3h1.0v1.0h-1.0zM418.6,184.7h1.0v1.0h-1.0zM423.9,187.9h1.0v1.0h-1.0zM414.3,186.6h1.0v1.0h-1.0zM409.1,186.5h1.0v1.0h-1.0zM434.4,185.4h1.0v1.0h-1.0zM415.5,182.6h1.0v1.0h-1.0zM425.4,185.1h1.0v1.0h-1.0zM416.9,187.6h1.0v1.0h-1.0zM421.4,182.5h1.0v1.0h-1.0zM430.9,186.9h1.0v1.0h-1.0zM429.5,184.6h1.0v1.0h-1.0zM414.1,185.2h1.0v1.0h-1.0zM419.7,184.7h1.0v1.0h-1.0zM425.6,187.6h1.0v1.0h-1.0zM423.5,185.3h1.0v1.0h-1.0zM432.9,188.3h1.0v1.0h-1.0zM435.3,185.5h1.0v1.0h-1.0zM429.0,185.2h1.0v1.0h-1.0zM419.0,190.5h1.0v1.0h-1.0zM427.3,184.4h1.0v1.0h-1.0zM417.5,184.6h1.0v1.0h-1.0zM411.0,188.6h1.0v1.0h-1.0zM428.5,185.4h1.0v1.0h-1.0zM434.5,184.5h1.0v1.0h-1.0zM423.8,189.1h1.0v1.0h-1.0zM423.7,185.3h1.0v1.0h-1.0zM426.5,186.3h1.0v1.0h-1.0zM408.8,189.2h1.0v1.0h-1.0zM420.4,188.5h1.0v1.0h-1.0zM425.2,187.2h1.0v1.0h-1.0zM429.4,187.8h1.0v1.0h-1.0zM412.1,190.6h1.0v1.0h-1.0zM410.3,183.5h1.0v1.0h-1.0zM430.6,184.2h1.0v1.0h-1.0zM420.8,185.5h1.0v1.0h-1.0zM413.2,184.9h1.0v1.0h-1.0zM433.7,185.3h1.0v1.0h-1.0zM428.3,187.6h1.0v1.0h-1.0zM415.7,183.9h1.0v1.0h-1.0zM424.5,184.8h1.0v1.0h-1.0zM419.6,183.0h1.0v1.0h-1.0zM424.1,188.5h1.0v1.0h-1.0zM412.7,186.8h1.0v1.0h-1.0zM430.6,187.6h1.0v1.0h-1.0zM420.8,182.4h1.0v1.0h-1.0zM418.1,187.8h1.0v1.0h-1.0zM428.8,183.5h1.0v1.0h-1.0zM424.9,188.3h1.0v1.0h-1.0zM429.0,188.6h1.0v1.0h-1.0zM421.0,183.5h1.0v1.0h-1.0zM427.4,184.8h1.0v1.0h-1.0zM422.9,186.1h1.0v1.0h-1.0zM419.3,187.7h1.0v1.0h-1.0zM413.0,185.3h1.0v1.0h-1.0zM415.0,186.7h1.0v1.0h-1.0zM428.3,184.6h1.0v1.0h-1.0zM416.7,183.1h1.0v1.0h-1.0zM430.5,186.7h1.0v1.0h-1.0zM421.7,186.9h1.0v1.0h-1.0zM430.5,186.5h1.0v1.0h-1.0zM419.4,186.8h1.0v1.0h-1.0zM415.0,187.8h1.0v1.0h-1.0zM414.3,185.2h1.0v1.0h-1.0zM414.1,188.7h1.0v1.0h-1.0zM408.7,188.1h1.0v1.0h-1.0zM415.0,185.2h1.0v1.0h-1.0zM417.9,188.2h1.0v1.0h-1.0zM414.7,184.8h1.0v1.0h-1.0zM423.9,188.3h1.0v1.0h-1.0zM421.0,183.3h1.0v1.0h-1.0zM417.5,188.7h1.0v1.0h-1.0zM432.9,186.3h1.0v1.0h-1.0zM425.9,183.7h1.0v1.0h-1.0zM408.7,187.0h1.0v1.0h-1.0zM429.5,183.6h1.0v1.0h-1.0zM429.8,186.1h1.0v1.0h-1.0zM426.1,183.7h1.0v1.0h-1.0zM413.8,188.9h1.0v1.0h-1.0zM418.1,185.3h1.0v1.0h-1.0zM434.1,185.4h1.0v1.0h-1.0zM408.8,187.9h1.0v1.0h-1.0zM418.2,187.4h1.0v1.0h-1.0zM418.3,189.6h1.0v1.0h-1.0zM430.7,188.6h1.0v1.0h-1.0zM408.6,186.7h1.0v1.0h-1.0z"/>
<path fill="#6e6e6e" fill-opacity="0.2" d="M430.2,188.6h1.0v1.0h-1.0zM425.9,185.8h1.0v1.0h-1.0zM417.3,186.5h1.0v1.0h-1.0zM438.3,187.7h1.0v1.0h-1.0zM427.8,186.0h1.0v1.0h-1.0zM432.1,183.7h1.0v1.0h-1.0zM416.2,181.8h1.0v1.0h-1.0zM411.7,186.6h1.0v1.0h-1.0zM431.0,189.0h1.0v1.0h-1.0zM414.7,188.1h1.0v1.0h-1.0zM417.7,187.7h1.0v1.0h-1.0zM430.3,187.3h1.0v1.0h-1.0zM424.6,187.1h1.0v1.0h-1.0zM420.7,183.8h1.0v1.0h-1.0zM425.6,188.5h1.0v1.0h-1.0zM424.8,188.6h1.0v1.0h-1.0zM422.9,183.5h1.0v1.0h-1.0zM427.9,185.6h1.0v1.0h-1.0zM416.8,186.8h1.0v1.0h-1.0zM419.3,190.1h1.0v1.0h-1.0zM432.9,184.7h1.0v1.0h-1.0zM421.5,188.4h1.0v1.0h-1.0zM428.6,185.4h1.0v1.0h-1.0zM420.9,184.5h1.0v1.0h-1.0zM429.8,185.6h1.0v1.0h-1.0zM431.5,186.5h1.0v1.0h-1.0zM411.6,181.7h1.0v1.0h-1.0zM426.2,184.7h1.0v1.0h-1.0zM441.4,189.3h1.0v1.0h-1.0zM414.0,185.9h1.0v1.0h-1.0zM416.1,184.5h1.0v1.0h-1.0zM427.9,186.4h1.0v1.0h-1.0zM416.0,186.3h1.0v1.0h-1.0zM415.7,185.4h1.0v1.0h-1.0zM419.3,187.6h1.0v1.0h-1.0zM422.0,187.8h1.0v1.0h-1.0zM413.4,186.9h1.0v1.0h-1.0zM425.4,185.0h1.0v1.0h-1.0zM417.6,188.6h1.0v1.0h-1.0zM428.0,185.2h1.0v1.0h-1.0zM422.3,186.2h1.0v1.0h-1.0zM428.1,189.6h1.0v1.0h-1.0z"/>
<path fill="#6e6e6e" fill-opacity="0.2" d="M423.0,188.9h1.0v1.0h-1.0zM414.5,185.3h1.0v1.0h-1.0zM426.1,185.4h1.0v1.0h-1.0zM417.1,183.8h1.0v1.0h-1.0zM423.7,184.1h1.0v1.0h-1.0zM421.0,183.9h1.0v1.0h-1.0zM419.5,183.5h1.0v1.0h-1.0zM440.2,188.8h1.0v1.0h-1.0zM433.8,187.2h1.0v1.0h-1.0zM424.4,183.6h1.0v1.0h-1.0zM424.8,189.3h1.0v1.0h-1.0zM429.9,182.6h1.0v1.0h-1.0zM431.3,186.7h1.0v1.0h-1.0zM420.9,188.5h1.0v1.0h-1.0zM437.2,189.1h1.0v1.0h-1.0zM426.3,185.8h1.0v1.0h-1.0zM434.5,185.3h1.0v1.0h-1.0zM426.9,185.7h1.0v1.0h-1.0zM424.2,189.0h1.0v1.0h-1.0zM415.0,188.7h1.0v1.0h-1.0zM423.0,183.9h1.0v1.0h-1.0zM423.4,183.8h1.0v1.0h-1.0zM420.1,185.1h1.0v1.0h-1.0zM410.1,185.7h1.0v1.0h-1.0zM428.3,187.5h1.0v1.0h-1.0zM426.3,184.6h1.0v1.0h-1.0zM422.3,183.4h1.0v1.0h-1.0zM423.8,186.4h1.0v1.0h-1.0zM429.3,185.8h1.0v1.0h-1.0zM425.1,188.5h1.0v1.0h-1.0zM427.7,186.9h1.0v1.0h-1.0zM425.4,187.7h1.0v1.0h-1.0zM413.3,188.7h1.0v1.0h-1.0zM418.1,186.1h1.0v1.0h-1.0zM429.0,187.0h1.0v1.0h-1.0zM415.9,185.3h1.0v1.0h-1.0zM422.8,183.3h1.0v1.0h-1.0zM415.7,184.3h1.0v1.0h-1.0zM415.7,185.9h1.0v1.0h-1.0zM419.0,185.3h1.0v1.0h-1.0zM433.6,185.1h1.0v1.0h-1.0zM409.5,183.9h1.0v1.0h-1.0z"/>
<path fill="#6e6e6e" fill-opacity="0.2" d="M406.2,186.0h1.0v1.0h-1.0zM424.0,191.5h1.0v1.0h-1.0zM426.5,184.7h1.0v1.0h-1.0zM420.6,186.3h1.0v1.0h-1.0zM430.8,186.4h1.0v1.0h-1.0zM421.3,188.5h1.0v1.0h-1.0zM431.0,184.3h1.0v1.0h-1.0zM422.4,188.5h1.0v1.0h-1.0zM414.2,188.1h1.0v1.0h-1.0zM425.3,187.1h1.0v1.0h-1.0zM426.3,186.4h1.0v1.0h-1.0zM425.4,183.4h1.0v1.0h-1.0zM427.6,187.3h1.0v1.0h-1.0zM411.8,184.1h1.0v1.0h-1.0zM427.3,186.0h1.0v1.0h-1.0zM413.4,187.2h1.0v1.0h-1.0zM423.0,186.8h1.0v1.0h-1.0zM424.9,184.9h1.0v1.0h-1.0zM418.7,187.5h1.0v1.0h-1.0zM417.3,187.6h1.0v1.0h-1.0zM412.5,185.2h1.0v1.0h-1.0zM421.4,182.9h1.0v1.0h-1.0zM422.7,185.4h1.0v1.0h-1.0zM430.3,184.9h1.0v1.0h-1.0zM434.8,188.2h1.0v1.0h-1.0zM427.9,185.1h1.0v1.0h-1.0zM432.5,187.4h1.0v1.0h-1.0zM417.3,186.0h1.0v1.0h-1.0zM406.4,183.8h1.0v1.0h-1.0zM418.4,185.7h1.0v1.0h-1.0zM425.3,186.6h1.0v1.0h-1.0zM427.7,187.6h1.0v1.0h-1.0zM427.4,186.4h1.0v1.0h-1.0zM416.7,184.3h1.0v1.0h-1.0zM406.0,182.3h1.0v1.0h-1.0zM420.2,183.5h1.0v1.0h-1.0zM430.8,187.2h1.0v1.0h-1.0zM418.2,181.2h1.0v1.0h-1.0zM433.5,189.3h1.0v1.0h-1.0zM412.7,188.4h1.0v1.0h-1.0zM430.9,186.9h1.0v1.0h-1.0zM417.1,184.8h1.0v1.0h-1.0z"/>
<path fill="#6e6e6e" fill-opacity="0.2" d="M426.6,191.4h1.0v1.0h-1.0zM399.5,183.7h1.0v1.0h-1.0zM417.4,186.9h1.0v1.0h-1.0zM426.8,186.9h1.0v1.0h-1.0zM411.5,185.7h1.0v1.0h-1.0zM435.2,188.1h1.0v1.0h-1.0zM431.0,185.7h1.0v1.0h-1.0zM421.7,186.7h1.0v1.0h-1.0zM419.5,184.6h1.0v1.0h-1.0zM412.8,187.9h1.0v1.0h-1.0zM430.9,185.9h1.0v1.0h-1.0zM417.8,184.6h1.0v1.0h-1.0zM409.0,190.3h1.0v1.0h-1.0zM426.1,184.9h1.0v1.0h-1.0zM428.2,188.1h1.0v1.0h-1.0zM443.9,189.6h1.0v1.0h-1.0zM426.7,184.6h1.0v1.0h-1.0zM434.0,185.0h1.0v1.0h-1.0zM420.7,185.0h1.0v1.0h-1.0zM423.3,185.5h1.0v1.0h-1.0zM439.1,186.7h1.0v1.0h-1.0zM424.4,183.4h1.0v1.0h-1.0zM412.7,185.7h1.0v1.0h-1.0zM423.4,191.1h1.0v1.0h-1.0zM423.0,187.9h1.0v1.0h-1.0zM410.2,187.6h1.0v1.0h-1.0zM412.8,182.2h1.0v1.0h-1.0zM400.1,183.8h1.0v1.0h-1.0zM419.1,188.3h1.0v1.0h-1.0zM420.6,183.8h1.0v1.0h-1.0zM422.4,187.7h1.0v1.0h-1.0zM422.0,186.0h1.0v1.0h-1.0zM418.6,186.0h1.0v1.0h-1.0zM436.5,184.9h1.0v1.0h-1.0zM416.1,190.0h1.0v1.0h-1.0zM412.1,184.5h1.0v1.0h-1.0zM427.3,181.7h1.0v1.0h-1.0zM433.0,191.7h1.0v1.0h-1.0zM416.6,182.4h1.0v1.0h-1.0zM418.2,186.6h1.0v1.0h-1.0zM429.0,185.2h1.0v1.0h-1.0zM426.1,183.8h1.0v1.0h-1.0z"/>
<path fill="#6e6e6e" fill-opacity="0.2" d="M409.5,181.0h1.0v1.0h-1.0zM420.2,185.3h1.0v1.0h-1.0zM418.6,187.7h1.0v1.0h-1.0zM426.7,183.1h1.0v1.0h-1.0zM419.9,186.6h1.0v1.0h-1.0zM420.8,188.0h1.0v1.0h-1.0zM430.0,187.6h1.0v1.0h-1.0zM431.4,186.9h1.0v1.0h-1.0zM421.1,184.7h1.0v1.0h-1.0zM418.8,185.6h1.0v1.0h-1.0zM428.0,180.8h1.0v1.0h-1.0zM430.3,184.6h1.0v1.0h-1.0zM426.1,186.1h1.0v1.0h-1.0zM442.2,184.4h1.0v1.0h-1.0zM421.6,184.4h1.0v1.0h-1.0zM421.5,189.3h1.0v1.0h-1.0zM416.7,185.7h1.0v1.0h-1.0zM425.8,190.1h1.0v1.0h-1.0zM433.5,189.4h1.0v1.0h-1.0zM420.6,186.8h1.0v1.0h-1.0zM427.9,188.1h1.0v1.0h-1.0zM414.9,182.4h1.0v1.0h-1.0zM426.6,182.8h1.0v1.0h-1.0zM427.4,186.0h1.0v1.0h-1.0zM420.4,184.1h1.0v1.0h-1.0zM423.9,189.3h1.0v1.0h-1.0zM433.8,188.6h1.0v1.0h-1.0zM420.2,181.4h1.0v1.0h-1.0zM405.5,185.9h1.0v1.0h-1.0zM417.2,187.8h1.0v1.0h-1.0zM416.3,185.5h1.0v1.0h-1.0zM429.9,187.8h1.0v1.0h-1.0zM401.6,188.0h1.0v1.0h-1.0zM423.8,187.1h1.0v1.0h-1.0zM429.9,186.0h1.0v1.0h-1.0zM412.1,188.1h1.0v1.0h-1.0zM414.4,190.7h1.0v1.0h-1.0zM423.4,186.4h1.0v1.0h-1.0zM436.4,184.4h1.0v1.0h-1.0zM416.2,188.1h1.0v1.0h-1.0zM415.7,185.6h1.0v1.0h-1.0z"/>
<path fill="#6e6e6e" fill-opacity="0.2" d="M420.2,185.7h1.0v1.0h-1.0zM410.0,185.2h1.0v1.0h-1.0zM428.2,185.0h1.0v1.0h-1.0zM417.3,186.1h1.0v1.0h-1.0zM436.9,183.7h1.0v1.0h-1.0zM410.1,185.9h1.0v1.0h-1.0zM432.4,184.3h1.0v1.0h-1.0zM420.9,186.5h1.0v1.0h-1.0zM412.0,186.4h1.0v1.0h-1.0zM427.4,181.7h1.0v1.0h-1.0zM410.6,188.5h1.0v1.0h-1.0zM429.4,187.8h1.0v1.0h-1.0zM426.9,184.3h1.0v1.0h-1.0zM430.9,186.3h1.0v1.0h-1.0zM414.8,183.2h1.0v1.0h-1.0zM422.1,186.3h1.0v1.0h-1.0zM414.6,184.5h1.0v1.0h-1.0zM434.1,184.8h1.0v1.0h-1.0zM426.9,187.0h1.0v1.0h-1.0zM418.7,184.8h1.0v1.0h-1.0zM414.2,184.3h1.0v1.0h-1.0zM415.9,185.0h1.0v1.0h-1.0zM406.9,188.0h1.0v1.0h-1.0zM412.9,188.9h1.0v1.0h-1.0zM419.5,185.3h1.0v1.0h-1.0zM435.3,186.3h1.0v1.0h-1.0zM430.1,189.5h1.0v1.0h-1.0zM423.5,184.9h1.0v1.0h-1.0zM431.6,187.5h1.0v1.0h-1.0zM418.5,185.1h1.0v1.0h-1.0zM413.0,188.9h1.0v1.0h-1.0zM425.1,188.7h1.0v1.0h-1.0zM427.0,187.5h1.0v1.0h-1.0zM432.1,188.9h1.0v1.0h-1.0zM422.8,186.8h1.0v1.0h-1.0zM430.0,187.3h1.0v1.0h-1.0zM414.7,189.8h1.0v1.0h-1.0zM417.1,185.9h1.0v1.0h-1.0zM419.2,186.3h1.0v1.0h-1.0zM437.1,184.8h1.0v1.0h-1.0zM428.9,186.0h1.0v1.0h-1.0z"/>
<path fill="#787878" fill-opacity="0.2" d="M487.0,186.3h1.0v1.0h-1.0zM490.6,183.8h1.0v1.0h-1.0zM478.7,183.4h1.0v1.0h-1.0zM477.9,187.7h1.0v1.0h-1.0zM487.1,185.6h1.0v1.0h-1.0zM475.3,184.3h1.0v1.0h-1.0zM496.6,188.9h1.0v1.0h-1.0zM480.5,189.0h1.0v1.0h-1.0zM487.0,190.2h1.0v1.0h-1.0zM496.6,185.4h1.0v1.0h-1.0zM478.0,188.4h1.0v1.0h-1.0zM486.3,187.2h1.0v1.0h-1.0zM478.6,189.2h1.0v1.0h-1.0zM496.2,190.2h1.0v1.0h-1.0zM491.1,189.1h1.0v1.0h-1.0zM494.8,189.9h1.0v1.0h-1.0zM488.4,187.9h1.0v1.0h-1.0zM484.7,190.3h1.0v1.0h-1.0zM481.8,184.5h1.0v1.0h-1.0zM486.9,184.5h1.0v1.0h-1.0zM485.5,184.8h1.0v1.0h-1.0zM494.7,189.3h1.0v1.0h-1.0zM479.1,187.4h1.0v1.0h-1.0zM491.1,188.1h1.0v1.0h-1.0zM490.4,188.1h1.0v1.0h-1.0zM499.2,185.4h1.0v1.0h-1.0zM484.7,186.3h1.0v1.0h-1.0zM493.4,188.9h1.0v1.0h-1.0zM498.2,188.1h1.0v1.0h-1.0zM495.4,185.3h1.0v1.0h-1.0zM489.7,189.4h1.0v1.0h-1.0zM488.5,186.9h1.0v1.0h-1.0zM482.4,186.8h1.0v1.0h-1.0zM493.4,189.0h1.0v1.0h-1.0zM477.4,188.4h1.0v1.0h-1.0zM496.9,187.1h1.0v1.0h-1.0zM486.0,185.7h1.0v1.0h-1.0zM483.2,190.0h1.0v1.0h-1.0zM486.5,185.8h1.0v1.0h-1.0zM474.6,184.0h1.0v1.0h-1.0zM488.6,189.2h1.0v1.0h-1.0zM484.7,186.0h1.0v1.0h-1.0zM493.0,187.8h1.0v1.0h-1.0zM487.6,186.6h1.0v1.0h-1.0zM478.3,190.3h1.0v1.0h-1.0zM493.7,190.3h1.0v1.0h-1.0zM482.8,185.2h1.0v1.0h-1.0zM493.5,185.9h1.0v1.0h-1.0zM493.3,186.2h1.0v1.0h-1.0zM486.6,186.7h1.0v1.0h-1.0zM473.4,187.1h1.0v1.0h-1.0zM498.8,183.5h1.0v1.0h-1.0zM486.4,185.9h1.0v1.0h-1.0zM474.7,190.5h1.0v1.0h-1.0zM478.4,184.8h1.0v1.0h-1.0zM495.7,186.2h1.0v1.0h-1.0zM482.3,187.4h1.0v1.0h-1.0zM482.5,186.1h1.0v1.0h-1.0zM493.9,191.8h1.0v1.0h-1.0z"/>
<path fill="#787878" fill-opacity="0.2" d="M493.1,189.5h1.0v1.0h-1.0zM474.3,183.8h1.0v1.0h-1.0zM498.1,188.9h1.0v1.0h-1.0zM491.3,189.0h1.0v1.0h-1.0zM477.4,185.4h1.0v1.0h-1.0zM485.0,187.3h1.0v1.0h-1.0zM498.0,186.5h1.0v1.0h-1.0zM480.7,184.8h1.0v1.0h-1.0zM483.1,189.0h1.0v1.0h-1.0zM491.0,189.2h1.0v1.0h-1.0zM482.3,187.3h1.0v1.0h-1.0zM486.5,185.1h1.0v1.0h-1.0zM489.6,183.9h1.0v1.0h-1.0zM484.2,185.1h1.0v1.0h-1.0zM485.7,187.9h1.0v1.0h-1.0zM487.6,190.7h1.0v1.0h-1.0zM481.3,187.2h1.0v1.0h-1.0zM484.7,188.5h1.0v1.0h-1.0zM496.8,189.9h1.0v1.0h-1.0zM493.5,184.6h1.0v1.0h-1.0zM483.7,186.0h1.0v1.0h-1.0zM481.3,184.9h1.0v1.0h-1.0zM475.3,186.9h1.0v1.0h-1.0zM494.3,188.5h1.0v1.0h-1.0zM480.5,189.2h1.0v1.0h-1.0zM494.7,185.6h1.0v1.0h-1.0zM494.2,189.7h1.0v1.0h-1.0zM484.9,187.3h1.0v1.0h-1.0zM480.5,187.4h1.0v1.0h-1.0zM483.3,192.8h1.0v1.0h-1.0zM479.0,185.4h1.0v1.0h-1.0zM490.0,185.7h1.0v1.0h-1.0zM485.7,187.0h1.0v1.0h-1.0zM493.6,188.3h1.0v1.0h-1.0zM495.3,188.1h1.0v1.0h-1.0zM479.7,184.1h1.0v1.0h-1.0zM485.0,187.7h1.0v1.0h-1.0zM485.6,187.1h1.0v1.0h-1.0zM479.8,188.5h1.0v1.0h-1.0zM490.9,186.6h1.0v1.0h-1.0zM494.7,185.3h1.0v1.0h-1.0zM473.3,188.6h1.0v1.0h-1.0zM483.0,190.3h1.0v1.0h-1.0zM474.8,189.0h1.0v1.0h-1.0zM499.6,186.5h1.0v1.0h-1.0zM487.3,184.6h1.0v1.0h-1.0zM491.7,184.0h1.0v1.0h-1.0zM476.6,189.8h1.0v1.0h-1.0zM472.5,188.9h1.0v1.0h-1.0zM486.1,187.9h1.0v1.0h-1.0zM489.3,186.4h1.0v1.0h-1.0zM480.6,185.4h1.0v1.0h-1.0zM495.4,186.0h1.0v1.0h-1.0zM480.0,187.6h1.0v1.0h-1.0zM489.5,183.2h1.0v1.0h-1.0zM476.3,188.5h1.0v1.0h-1.0zM483.0,185.7h1.0v1.0h-1.0zM476.0,187.8h1.0v1.0h-1.0zM483.7,188.7h1.0v1.0h-1.0z"/>
<path fill="#787878" fill-opacity="0.2" d="M487.3,187.9h1.0v1.0h-1.0zM488.4,184.7h1.0v1.0h-1.0zM480.4,186.1h1.0v1.0h-1.0zM485.6,184.3h1.0v1.0h-1.0zM491.6,189.2h1.0v1.0h-1.0zM492.6,188.0h1.0v1.0h-1.0zM484.6,187.5h1.0v1.0h-1.0zM488.0,184.4h1.0v1.0h-1.0zM487.7,186.2h1.0v1.0h-1.0zM477.1,191.5h1.0v1.0h-1.0zM492.2,190.5h1.0v1.0h-1.0zM488.7,187.3h1.0v1.0h-1.0zM486.8,184.8h1.0v1.0h-1.0zM473.9,187.3h1.0v1.0h-1.0zM500.4,186.0h1.0v1.0h-1.0zM493.4,184.7h1.0v1.0h-1.0zM476.6,184.7h1.0v1.0h-1.0zM491.9,183.4h1.0v1.0h-1.0zM489.2,192.2h1.0v1.0h-1.0zM484.4,186.5h1.0v1.0h-1.0zM485.7,186.9h1.0v1.0h-1.0zM478.8,185.0h1.0v1.0h-1.0zM492.2,187.5h1.0v1.0h-1.0zM498.3,188.9h1.0v1.0h-1.0zM492.1,187.5h1.0v1.0h-1.0zM496.4,186.7h1.0v1.0h-1.0zM492.1,190.3h1.0v1.0h-1.0zM495.3,188.4h1.0v1.0h-1.0zM481.2,187.3h1.0v1.0h-1.0zM489.1,188.1h1.0v1.0h-1.0zM495.7,190.8h1.0v1.0h-1.0zM490.7,192.4h1.0v1.0h-1.0zM484.7,189.0h1.0v1.0h-1.0zM485.8,186.1h1.0v1.0h-1.0zM483.3,185.2h1.0v1.0h-1.0zM480.3,191.6h1.0v1.0h-1.0zM481.7,185.2h1.0v1.0h-1.0zM482.8,192.0h1.0v1.0h-1.0zM494.4,185.6h1.0v1.0h-1.0zM492.0,186.8h1.0v1.0h-1.0zM492.1,188.6h1.0v1.0h-1.0zM490.7,188.5h1.0v1.0h-1.0zM498.7,187.1h1.0v1.0h-1.0zM490.1,187.8h1.0v1.0h-1.0zM495.1,191.0h1.0v1.0h-1.0zM486.2,188.1h1.0v1.0h-1.0zM478.0,188.9h1.0v1.0h-1.0zM494.0,186.8h1.0v1.0h-1.0zM481.7,188.7h1.0v1.0h-1.0zM470.0,187.5h1.0v1.0h-1.0zM474.5,186.5h1.0v1.0h-1.0zM484.8,190.1h1.0v1.0h-1.0zM490.2,191.2h1.0v1.0h-1.0zM488.4,192.2h1.0v1.0h-1.0zM481.1,191.3h1.0v1.0h-1.0zM482.6,189.7h1.0v1.0h-1.0zM492.6,187.1h1.0v1.0h-1.0zM499.1,188.6h1.0v1.0h-1.0z"/>
<path fill="#787878" fill-opacity="0.2" d="M483.3,188.4h1.0v1.0h-1.0zM471.6,188.6h1.0v1.0h-1.0zM473.7,187.0h1.0v1.0h-1.0zM473.1,186.0h1.0v1.0h-1.0zM491.7,187.3h1.0v1.0h-1.0zM495.2,188.5h1.0v1.0h-1.0zM491.7,184.5h1.0v1.0h-1.0zM487.4,187.2h1.0v1.0h-1.0zM495.0,186.4h1.0v1.0h-1.0zM498.3,188.5h1.0v1.0h-1.0zM487.4,191.6h1.0v1.0h-1.0zM489.4,188.2h1.0v1.0h-1.0zM477.9,186.6h1.0v1.0h-1.0zM484.5,183.0h1.0v1.0h-1.0zM475.7,191.0h1.0v1.0h-1.0zM492.6,189.4h1.0v1.0h-1.0zM489.4,186.0h1.0v1.0h-1.0zM497.5,189.5h1.0v1.0h-1.0zM484.7,187.0h1.0v1.0h-1.0zM487.7,188.6h1.0v1.0h-1.0zM489.7,187.0h1.0v1.0h-1.0zM472.2,184.7h1.0v1.0h-1.0zM482.5,186.7h1.0v1.0h-1.0zM499.8,186.9h1.0v1.0h-1.0zM486.9,187.3h1.0v1.0h-1.0zM472.5,187.3h1.0v1.0h-1.0zM495.6,188.3h1.0v1.0h-1.0zM498.3,187.7h1.0v1.0h-1.0zM486.8,186.0h1.0v1.0h-1.0zM477.5,189.7h1.0v1.0h-1.0zM499.1,188.3h1.0v1.0h-1.0zM478.6,186.8h1.0v1.0h-1.0zM486.3,190.6h1.0v1.0h-1.0zM479.7,184.8h1.0v1.0h-1.0zM486.0,189.1h1.0v1.0h-1.0zM488.8,184.1h1.0v1.0h-1.0zM478.3,189.1h1.0v1.0h-1.0zM499.3,186.4h1.0v1.0h-1.0zM485.4,188.1h1.0v1.0h-1.0zM478.3,189.8h1.0v1.0h-1.0zM497.2,188.7h1.0v1.0h-1.0zM476.5,187.1h1.0v1.0h-1.0zM498.8,187.7h1.0v1.0h-1.0zM494.5,185.3h1.0v1.0h-1.0zM477.7,188.4h1.0v1.0h-1.0zM476.3,190.2h1.0v1.0h-1.0zM475.9,190.2h1.0v1.0h-1.0zM492.8,191.8h1.0v1.0h-1.0zM493.5,187.0h1.0v1.0h-1.0zM481.0,188.6h1.0v1.0h-1.0zM491.9,187.5h1.0v1.0h-1.0zM487.1,190.4h1.0v1.0h-1.0zM486.6,187.1h1.0v1.0h-1.0zM478.5,188.9h1.0v1.0h-1.0zM480.0,184.7h1.0v1.0h-1.0zM479.4,185.9h1.0v1.0h-1.0zM485.0,188.1h1.0v1.0h-1.0zM482.5,186.7h1.0v1.0h-1.0z"/>
<path fill="#787878" fill-opacity="0.2" d="M494.7,185.8h1.0v1.0h-1.0zM482.8,188.5h1.0v1.0h-1.0zM481.5,190.0h1.0v1.0h-1.0zM471.7,187.7h1.0v1.0h-1.0zM488.6,184.0h1.0v1.0h-1.0zM492.3,185.0h1.0v1.0h-1.0zM476.6,188.2h1.0v1.0h-1.0zM482.3,189.3h1.0v1.0h-1.0zM495.5,192.0h1.0v1.0h-1.0zM489.6,191.9h1.0v1.0h-1.0zM486.5,190.1h1.0v1.0h-1.0zM479.4,185.2h1.0v1.0h-1.0zM487.0,188.6h1.0v1.0h-1.0zM481.8,190.9h1.0v1.0h-1.0zM486.1,186.4h1.0v1.0h-1.0zM490.3,183.2h1.0v1.0h-1.0zM477.9,188.4h1.0v1.0h-1.0zM490.8,189.0h1.0v1.0h-1.0zM493.0,187.9h1.0v1.0h-1.0zM496.5,186.7h1.0v1.0h-1.0zM488.0,187.5h1.0v1.0h-1.0zM475.0,188.3h1.0v1.0h-1.0zM483.2,188.0h1.0v1.0h-1.0zM489.7,185.0h1.0v1.0h-1.0zM475.6,187.4h1.0v1.0h-1.0zM490.2,186.7h1.0v1.0h-1.0zM478.1,187.6h1.0v1.0h-1.0zM487.8,188.3h1.0v1.0h-1.0zM480.2,187.0h1.0v1.0h-1.0zM495.1,186.2h1.0v1.0h-1.0zM479.2,189.0h1.0v1.0h-1.0zM498.9,187.4h1.0v1.0h-1.0zM489.2,190.0h1.0v1.0h-1.0zM493.4,186.0h1.0v1.0h-1.0zM489.0,188.5h1.0v1.0h-1.0zM487.9,187.2h1.0v1.0h-1.0zM494.8,186.6h1.0v1.0h-1.0zM479.2,187.6h1.0v1.0h-1.0zM489.7,187.5h1.0v1.0h-1.0zM490.0,189.5h1.0v1.0h-1.0zM483.6,185.4h1.0v1.0h-1.0zM491.7,183.9h1.0v1.0h-1.0zM490.9,188.8h1.0v1.0h-1.0zM485.4,183.8h1.0v1.0h-1.0zM481.6,188.5h1.0v1.0h-1.0zM483.6,192.4h1.0v1.0h-1.0zM489.1,183.9h1.0v1.0h-1.0zM492.6,185.9h1.0v1.0h-1.0zM497.7,186.7h1.0v1.0h-1.0zM486.5,190.8h1.0v1.0h-1.0zM497.1,188.2h1.0v1.0h-1.0zM498.6,186.7h1.0v1.0h-1.0zM491.4,189.3h1.0v1.0h-1.0zM477.8,185.2h1.0v1.0h-1.0zM482.8,187.3h1.0v1.0h-1.0zM498.6,186.8h1.0v1.0h-1.0zM474.2,187.1h1.0v1.0h-1.0zM478.6,185.4h1.0v1.0h-1.0z"/>
<path fill="#787878" fill-opacity="0.2" d="M480.7,191.9h1.0v1.0h-1.0zM476.4,185.5h1.0v1.0h-1.0zM486.0,186.5h1.0v1.0h-1.0zM480.1,189.4h1.0v1.0h-1.0zM479.2,190.9h1.0v1.0h-1.0zM498.1,187.4h1.0v1.0h-1.0zM474.8,188.3h1.0v1.0h-1.0zM498.6,189.0h1.0v1.0h-1.0zM498.2,189.7h1.0v1.0h-1.0zM477.9,188.9h1.0v1.0h-1.0zM494.9,185.2h1.0v1.0h-1.0zM486.0,189.9h1.0v1.0h-1.0zM499.8,187.5h1.0v1.0h-1.0zM479.1,187.1h1.0v1.0h-1.0zM486.5,187.6h1.0v1.0h-1.0zM476.6,189.5h1.0v1.0h-1.0zM474.1,187.7h1.0v1.0h-1.0zM481.6,183.5h1.0v1.0h-1.0zM490.0,191.6h1.0v1.0h-1.0zM488.7,185.9h1.0v1.0h-1.0zM475.9,189.4h1.0v1.0h-1.0zM471.0,187.7h1.0v1.0h-1.0zM491.7,183.4h1.0v1.0h-1.0zM477.1,190.2h1.0v1.0h-1.0zM488.1,188.8h1.0v1.0h-1.0zM488.0,186.9h1.0v1.0h-1.0zM495.5,190.3h1.0v1.0h-1.0zM478.8,188.8h1.0v1.0h-1.0zM482.7,185.5h1.0v1.0h-1.0zM496.7,185.1h1.0v1.0h-1.0zM478.1,186.5h1.0v1.0h-1.0zM499.9,187.5h1.0v1.0h-1.0zM487.2,185.5h1.0v1.0h-1.0zM492.7,187.9h1.0v1.0h-1.0zM492.4,189.3h1.0v1.0h-1.0zM488.5,188.8h1.0v1.0h-1.0zM473.7,188.3h1.0v1.0h-1.0zM500.2,188.3h1.0v1.0h-1.0zM494.3,186.8h1.0v1.0h-1.0zM487.9,185.8h1.0v1.0h-1.0zM489.5,191.1h1.0v1.0h-1.0zM483.7,191.9h1.0v1.0h-1.0zM480.5,190.0h1.0v1.0h-1.0zM480.9,187.3h1.0v1.0h-1.0zM488.5,189.8h1.0v1.0h-1.0zM499.6,188.3h1.0v1.0h-1.0zM475.2,186.9h1.0v1.0h-1.0zM496.9,190.4h1.0v1.0h-1.0zM482.5,185.3h1.0v1.0h-1.0zM471.9,185.5h1.0v1.0h-1.0zM473.7,189.3h1.0v1.0h-1.0zM487.5,184.4h1.0v1.0h-1.0zM485.9,184.1h1.0v1.0h-1.0zM493.8,188.4h1.0v1.0h-1.0zM485.6,184.7h1.0v1.0h-1.0zM496.9,185.8h1.0v1.0h-1.0zM494.2,189.4h1.0v1.0h-1.0zM490.8,184.6h1.0v1.0h-1.0z"/>
<path fill="#828282" fill-opacity="0.2" d="M489.7,189.0h1.0v1.0h-1.0zM479.9,188.3h1.0v1.0h-1.0zM484.1,188.1h1.0v1.0h-1.0zM474.0,187.7h1.0v1.0h-1.0zM476.9,187.9h1.0v1.0h-1.0zM488.7,182.9h1.0v1.0h-1.0zM491.3,185.1h1.0v1.0h-1.0zM476.3,187.2h1.0v1.0h-1.0zM496.6,180.9h1.0v1.0h-1.0zM483.8,187.2h1.0v1.0h-1.0zM483.4,186.4h1.0v1.0h-1.0zM478.1,182.5h1.0v1.0h-1.0zM488.8,191.5h1.0v1.0h-1.0zM492.0,185.2h1.0v1.0h-1.0zM495.9,185.4h1.0v1.0h-1.0zM483.4,182.8h1.0v1.0h-1.0zM473.9,190.7h1.0v1.0h-1.0zM485.7,184.8h1.0v1.0h-1.0zM483.0,186.9h1.0v1.0h-1.0zM480.2,185.9h1.0v1.0h-1.0zM491.9,185.9h1.0v1.0h-1.0zM495.3,187.4h1.0v1.0h-1.0zM484.3,190.0h1.0v1.0h-1.0zM481.5,189.3h1.0v1.0h-1.0zM496.9,189.8h1.0v1.0h-1.0zM491.4,188.8h1.0v1.0h-1.0zM489.6,184.4h1.0v1.0h-1.0zM476.7,190.5h1.0v1.0h-1.0zM493.1,190.7h1.0v1.0h-1.0zM470.7,189.3h1.0v1.0h-1.0zM486.1,186.1h1.0v1.0h-1.0zM491.6,188.1h1.0v1.0h-1.0zM488.4,187.3h1.0v1.0h-1.0zM492.8,184.2h1.0v1.0h-1.0z"/>
<path fill="#828282" fill-opacity="0.2" d="M491.0,190.0h1.0v1.0h-1.0zM492.2,184.0h1.0v1.0h-1.0zM490.0,191.8h1.0v1.0h-1.0zM480.0,187.3h1.0v1.0h-1.0zM501.9,189.0h1.0v1.0h-1.0zM495.1,184.8h1.0v1.0h-1.0zM485.9,185.5h1.0v1.0h-1.0zM497.7,189.7h1.0v1.0h-1.0zM490.4,184.4h1.0v1.0h-1.0zM486.8,188.4h1.0v1.0h-1.0zM496.6,186.8h1.0v1.0h-1.0zM486.8,186.2h1.0v1.0h-1.0zM492.0,189.8h1.0v1.0h-1.0zM498.3,190.8h1.0v1.0h-1.0zM499.3,188.8h1.0v1.0h-1.0zM497.8,187.7h1.0v1.0h-1.0zM481.1,188.0h1.0v1.0h-1.0zM473.9,184.3h1.0v1.0h-1.0zM482.4,188.7h1.0v1.0h-1.0zM472.8,183.3h1.0v1.0h-1.0zM492.5,182.1h1.0v1.0h-1.0zM491.2,188.4h1.0v1.0h-1.0zM475.2,190.6h1.0v1.0h-1.0zM489.3,189.4h1.0v1.0h-1.0zM471.7,184.8h1.0v1.0h-1.0zM480.6,189.7h1.0v1.0h-1.0zM489.6,187.9h1.0v1.0h-1.0zM489.2,186.4h1.0v1.0h-1.0zM478.9,183.5h1.0v1.0h-1.0zM481.2,183.5h1.0v1.0h-1.0zM475.3,188.7h1.0v1.0h-1.0zM484.1,188.3h1.0v1.0h-1.0zM481.7,186.6h1.0v1.0h-1.0zM474.9,185.3h1.0v1.0h-1.0z"/>
<path fill="#828282" fill-opacity="0.2" d="M478.4,185.4h1.0v1.0h-1.0zM494.9,186.7h1.0v1.0h-1.0zM477.5,190.4h1.0v1.0h-1.0zM487.6,187.2h1.0v1.0h-1.0zM475.0,192.0h1.0v1.0h-1.0zM490.2,190.1h1.0v1.0h-1.0zM473.4,187.9h1.0v1.0h-1.0zM478.8,186.5h1.0v1.0h-1.0zM489.8,191.7h1.0v1.0h-1.0zM494.8,187.9h1.0v1.0h-1.0zM485.8,188.6h1.0v1.0h-1.0zM489.2,187.0h1.0v1.0h-1.0zM477.8,188.0h1.0v1.0h-1.0zM492.5,189.8h1.0v1.0h-1.0zM482.1,185.4h1.0v1.0h-1.0zM483.7,187.7h1.0v1.0h-1.0zM479.8,184.7h1.0v1.0h-1.0zM477.4,189.3h1.0v1.0h-1.0zM487.0,190.2h1.0v1.0h-1.0zM478.0,187.8h1.0v1.0h-1.0zM488.3,191.4h1.0v1.0h-1.0zM487.5,184.2h1.0v1.0h-1.0zM483.8,190.3h1.0v1.0h-1.0zM483.3,186.0h1.0v1.0h-1.0zM503.3,191.2h1.0v1.0h-1.0zM470.9,187.0h1.0v1.0h-1.0zM488.0,187.8h1.0v1.0h-1.0zM483.8,185.0h1.0v1.0h-1.0zM483.3,186.7h1.0v1.0h-1.0zM478.1,186.8h1.0v1.0h-1.0zM479.3,185.6h1.0v1.0h-1.0zM476.5,185.3h1.0v1.0h-1.0zM492.1,183.5h1.0v1.0h-1.0z"/>
<path fill="#828282" fill-opacity="0.2" d="M481.9,190.7h1.0v1.0h-1.0zM487.3,184.0h1.0v1.0h-1.0zM484.3,185.6h1.0v1.0h-1.0zM488.9,185.1h1.0v1.0h-1.0zM492.2,188.9h1.0v1.0h-1.0zM487.3,187.9h1.0v1.0h-1.0zM485.1,188.1h1.0v1.0h-1.0zM486.7,186.2h1.0v1.0h-1.0zM489.8,181.8h1.0v1.0h-1.0zM498.4,188.1h1.0v1.0h-1.0zM485.7,189.3h1.0v1.0h-1.0zM498.5,188.3h1.0v1.0h-1.0zM497.5,189.3h1.0v1.0h-1.0zM476.5,187.1h1.0v1.0h-1.0zM498.9,186.4h1.0v1.0h-1.0zM473.1,191.3h1.0v1.0h-1.0zM480.7,188.2h1.0v1.0h-1.0zM473.7,184.4h1.0v1.0h-1.0zM483.9,188.2h1.0v1.0h-1.0zM498.7,185.8h1.0v1.0h-1.0zM493.0,193.0h1.0v1.0h-1.0zM487.8,189.6h1.0v1.0h-1.0zM476.8,188.2h1.0v1.0h-1.0zM484.2,188.5h1.0v1.0h-1.0zM487.9,185.3h1.0v1.0h-1.0zM481.8,191.5h1.0v1.0h-1.0zM489.6,189.7h1.0v1.0h-1.0zM491.4,185.4h1.0v1.0h-1.0zM487.0,184.6h1.0v1.0h-1.0zM497.2,191.3h1.0v1.0h-1.0zM491.7,192.7h1.0v1.0h-1.0zM473.1,184.7h1.0v1.0h-1.0zM486.4,186.8h1.0v1.0h-1.0z"/>
<path fill="#828282" fill-opacity="0.2" d="M469.5,189.8h1.0v1.0h-1.0zM489.1,188.0h1.0v1.0h-1.0zM490.6,188.3h1.0v1.0h-1.0zM486.2,187.3h1.0v1.0h-1.0zM497.0,183.4h1.0v1.0h-1.0zM476.2,185.9h1.0v1.0h-1.0zM482.2,190.9h1.0v1.0h-1.0zM487.9,192.4h1.0v1.0h-1.0zM486.1,186.6h1.0v1.0h-1.0zM504.5,189.6h1.0v1.0h-1.0zM481.5,185.7h1.0v1.0h-1.0zM482.3,186.9h1.0v1.0h-1.0zM471.8,190.4h1.0v1.0h-1.0zM486.2,189.3h1.0v1.0h-1.0zM480.2,187.3h1.0v1.0h-1.0zM489.9,192.5h1.0v1.0h-1.0zM482.3,186.4h1.0v1.0h-1.0zM506.5,186.5h1.0v1.0h-1.0zM479.2,190.3h1.0v1.0h-1.0zM478.6,187.7h1.0v1.0h-1.0zM482.4,187.8h1.0v1.0h-1.0zM481.6,183.7h1.0v1.0h-1.0zM480.8,183.0h1.0v1.0h-1.0zM479.6,188.8h1.0v1.0h-1.0zM479.2,188.2h1.0v1.0h-1.0zM482.4,184.4h1.0v1.0h-1.0zM477.2,188.7h1.0v1.0h-1.0zM490.7,190.6h1.0v1.0h-1.0zM505.3,189.1h1.0v1.0h-1.0zM478.5,189.6h1.0v1.0h-1.0zM499.3,186.1h1.0v1.0h-1.0zM476.2,185.9h1.0v1.0h-1.0zM489.2,188.7h1.0v1.0h-1.0z"/>
<path fill="#828282" fill-opacity="0.2" d="M483.6,188.5h1.0v1.0h-1.0zM501.4,184.0h1.0v1.0h-1.0zM485.7,189.3h1.0v1.0h-1.0zM505.7,188.6h1.0v1.0h-1.0zM488.3,186.9h1.0v1.0h-1.0zM488.4,186.8h1.0v1.0h-1.0zM508.9,190.9h1.0v1.0h-1.0zM494.9,192.7h1.0v1.0h-1.0zM493.4,184.3h1.0v1.0h-1.0zM487.3,185.0h1.0v1.0h-1.0zM484.0,189.9h1.0v1.0h-1.0zM499.0,186.0h1.0v1.0h-1.0zM492.9,187.9h1.0v1.0h-1.0zM476.0,187.8h1.0v1.0h-1.0zM494.9,190.5h1.0v1.0h-1.0zM475.1,185.4h1.0v1.0h-1.0zM486.8,186.2h1.0v1.0h-1.0zM495.0,185.3h1.0v1.0h-1.0zM475.8,184.1h1.0v1.0h-1.0zM492.6,190.7h1.0v1.0h-1.0zM485.0,189.5h1.0v1.0h-1.0zM494.0,191.4h1.0v1.0h-1.0zM473.2,188.8h1.0v1.0h-1.0zM486.2,187.6h1.0v1.0h-1.0zM496.0,186.3h1.0v1.0h-1.0zM480.7,183.0h1.0v1.0h-1.0zM474.3,186.8h1.0v1.0h-1.0zM470.1,191.8h1.0v1.0h-1.0zM489.5,188.1h1.0v1.0h-1.0zM486.3,189.3h1.0v1.0h-1.0zM500.7,183.3h1.0v1.0h-1.0zM486.6,183.4h1.0v1.0h-1.0zM501.9,187.0h1.0v1.0h-1.0z"/>
</g>
<text x="7.6" y="17.3" font-size="11" font-weight="bold">A</text>
<text x="206.4" y="17.3" font-size="11" font-weight="bold">B</text>
<text x="7.6" y="268.2" font-size="11" font-weight="bold">C</text>
<text x="352" y="268.8" font-size="11" font-weight="bold">D</text>
<line x1="38.5" y1="17.5" x2="103.5" y2="17.5" stroke="#a2a2a2" stroke-width="1"/>
<line x1="103.5" y1="17.5" x2="103.5" y2="83" stroke="#e2e2e2" stroke-width="1"/>
<line x1="38.5" y1="17.5" x2="38.5" y2="83" stroke="#c4c4c4" stroke-width="1"/>
<line x1="38.5" y1="83" x2="103.5" y2="83" stroke="#bdbdbd" stroke-width="1"/>
<line x1="38.0" y1="22.7" x2="39.7" y2="22.7" stroke="#777" stroke-width="0.8"/>
<line x1="38.0" y1="38.5" x2="39.7" y2="38.5" stroke="#777" stroke-width="0.8"/>
<line x1="38.0" y1="67.9" x2="39.7" y2="67.9" stroke="#777" stroke-width="0.8"/>
<line x1="38.0" y1="79.7" x2="39.7" y2="79.7" stroke="#777" stroke-width="0.8"/>
<line x1="38.2" y1="67.9" x2="39.3" y2="67.9" stroke="#222" stroke-width="1.6"/>
<line x1="51.5" y1="81.8" x2="51.5" y2="83.5" stroke="#777" stroke-width="0.8"/>
<line x1="78.8" y1="81.8" x2="78.8" y2="83.5" stroke="#777" stroke-width="0.8"/>
<line x1="97.0" y1="81.8" x2="97.0" y2="83.5" stroke="#777" stroke-width="0.8"/>
<line x1="50.5" y1="83.2" x2="52.5" y2="83.2" stroke="#222" stroke-width="1.4"/>
<line x1="62.5" y1="17.5" x2="62.5" y2="83" stroke="#444" stroke-width="1"/>
<line x1="38.5" y1="44.5" x2="103.5" y2="44.5" stroke="#6a6a6a" stroke-width="1.2"/>
<line x1="38.5" y1="88.5" x2="103.5" y2="88.5" stroke="#a2a2a2" stroke-width="1"/>
<line x1="103.5" y1="88.5" x2="103.5" y2="155" stroke="#e2e2e2" stroke-width="1"/>
<line x1="38.5" y1="88.5" x2="38.5" y2="155" stroke="#c4c4c4" stroke-width="1"/>
<line x1="38.5" y1="155" x2="103.5" y2="155" stroke="#bdbdbd" stroke-width="1"/>
<line x1="38.0" y1="93.8" x2="39.7" y2="93.8" stroke="#777" stroke-width="0.8"/>
<line x1="38.0" y1="109.8" x2="39.7" y2="109.8" stroke="#777" stroke-width="0.8"/>
<line x1="38.0" y1="139.7" x2="39.7" y2="139.7" stroke="#777" stroke-width="0.8"/>
<line x1="38.0" y1="151.7" x2="39.7" y2="151.7" stroke="#777" stroke-width="0.8"/>
<line x1="38.2" y1="139.7" x2="39.3" y2="139.7" stroke="#222" stroke-width="1.6"/>
<line x1="51.5" y1="153.8" x2="51.5" y2="155.5" stroke="#777" stroke-width="0.8"/>
<line x1="78.8" y1="153.8" x2="78.8" y2="155.5" stroke="#777" stroke-width="0.8"/>
<line x1="97.0" y1="153.8" x2="97.0" y2="155.5" stroke="#777" stroke-width="0.8"/>
<line x1="50.5" y1="155.2" x2="52.5" y2="155.2" stroke="#222" stroke-width="1.4"/>
<line x1="62.5" y1="88.5" x2="62.5" y2="155" stroke="#444" stroke-width="1"/>
<line x1="38.5" y1="118" x2="103.5" y2="118" stroke="#6a6a6a" stroke-width="1.2"/>
<line x1="38.5" y1="160.5" x2="103.5" y2="160.5" stroke="#a2a2a2" stroke-width="1"/>
<line x1="103.5" y1="160.5" x2="103.5" y2="226.5" stroke="#e2e2e2" stroke-width="1"/>
<line x1="38.5" y1="160.5" x2="38.5" y2="226.5" stroke="#c4c4c4" stroke-width="1"/>
<line x1="38.5" y1="226.5" x2="103.5" y2="226.5" stroke="#bdbdbd" stroke-width="1"/>
<line x1="38.0" y1="165.8" x2="39.7" y2="165.8" stroke="#777" stroke-width="0.8"/>
<line x1="38.0" y1="181.6" x2="39.7" y2="181.6" stroke="#777" stroke-width="0.8"/>
<line x1="38.0" y1="211.3" x2="39.7" y2="211.3" stroke="#777" stroke-width="0.8"/>
<line x1="38.0" y1="223.2" x2="39.7" y2="223.2" stroke="#777" stroke-width="0.8"/>
<line x1="38.2" y1="211.3" x2="39.3" y2="211.3" stroke="#222" stroke-width="1.6"/>
<line x1="51.5" y1="225.3" x2="51.5" y2="227.0" stroke="#777" stroke-width="0.8"/>
<line x1="78.8" y1="225.3" x2="78.8" y2="227.0" stroke="#777" stroke-width="0.8"/>
<line x1="97.0" y1="225.3" x2="97.0" y2="227.0" stroke="#777" stroke-width="0.8"/>
<line x1="50.5" y1="226.7" x2="52.5" y2="226.7" stroke="#222" stroke-width="1.4"/>
<line x1="63" y1="160.5" x2="63" y2="226.5" stroke="#444" stroke-width="1"/>
<line x1="38.5" y1="191" x2="103.5" y2="191" stroke="#6a6a6a" stroke-width="1.2"/>
<rect x="45.2" y="32.2" width="11.8" height="10" rx="4" fill="#000" filter="url(#bl1)"/>
<rect x="44.6" y="104.6" width="11.6" height="10.4" rx="4.2" fill="#000" filter="url(#bl1)"/>
<rect x="45.3" y="177.6" width="11" height="10" rx="4.2" fill="#000" filter="url(#bl1)"/>
<text x="66.2" y="26.0" font-size="8.3" textLength="15.2" lengthAdjust="spacingAndGlyphs">0.33</text>
<text x="66.9" y="97.5" font-size="8.3" textLength="15.6" lengthAdjust="spacingAndGlyphs">0.32</text>
<text x="66.9" y="169.8" font-size="8.3" textLength="15.6" lengthAdjust="spacingAndGlyphs">4.85</text>
<line x1="94.8" y1="30" x2="120.3" y2="30" stroke="#000" stroke-width="1.2"/>
<path d="M126.4,30 L118.20,26.50 L120.00,30 L118.20,33.50 Z" fill="#000"/>
<line x1="94.8" y1="100.8" x2="120.3" y2="100.8" stroke="#000" stroke-width="1.2"/>
<path d="M126.4,100.8 L118.20,97.30 L120.00,100.8 L118.20,104.30 Z" fill="#000"/>
<line x1="94.8" y1="173" x2="120.3" y2="173" stroke="#000" stroke-width="1.2"/>
<path d="M126.4,173 L118.20,169.50 L120.00,173 L118.20,176.50 Z" fill="#000"/>
<g stroke-width="0.7" stroke-linejoin="round">
<path d="M113.0,82.3 L113.5,81.8 L115.5,79.5 L118.0,76.2 L120.2,72.9 L122.4,66.3 L124.0,65.8 L125.1,62.0 L126.2,56.4 L127.3,60.3 L128.4,61.4 L130.0,61.8 L131.2,63.6 L132.8,60.3 L134.2,58.6 L135.0,60.8 L135.5,65.2 L136.6,76.2 L137.2,80.6 L137.8,82.3 L137.8,82.3 Z" fill="#8fa1c6" stroke="#4b5d88"/>
<path d="M128.0,82.3 L128.0,82.3 L129.0,81.7 L132.0,78.0 L134.4,74.0 L136.6,65.2 L137.7,57.5 L138.8,46.6 L139.9,42.7 L141.0,46.0 L142.7,56.4 L144.3,68.5 L146.0,77.3 L147.0,81.7 L148.0,82.3 L148.0,82.3 Z" fill="#d0587c" style="mix-blend-mode:multiply" stroke="#9c2f55"/>
<path d="M113.0,155.0 L113.0,155.0 L114.0,152.9 L118.0,148.9 L121.0,145.0 L123.0,141.5 L125.0,140.5 L126.5,132.0 L127.2,130.0 L128.0,132.0 L129.0,137.5 L130.0,137.0 L131.0,130.0 L132.0,126.5 L133.0,125.5 L134.0,127.0 L134.5,133.0 L136.0,140.0 L138.0,148.0 L140.0,153.0 L141.0,155.0 L141.0,155.0 Z" fill="#8fa1c6" stroke="#4b5d88"/>
<path d="M123.0,155.0 L123.0,155.0 L124.0,152.9 L127.0,148.0 L129.5,144.0 L132.0,138.0 L133.5,133.0 L134.5,130.0 L135.5,129.0 L137.0,128.5 L138.5,129.0 L140.0,128.0 L141.5,126.5 L142.4,127.5 L143.4,133.0 L144.4,141.0 L146.0,148.0 L148.4,153.0 L149.4,155.0 L149.4,155.0 Z" fill="#d0587c" style="mix-blend-mode:multiply" stroke="#9c2f55"/>
<path d="M116.5,226.8 L116.5,226.8 L117.4,226.0 L120.5,217.5 L122.8,209.7 L125.1,200.5 L126.7,195.8 L128.2,192.7 L129.0,183.5 L129.8,177.3 L130.9,178.0 L132.1,179.6 L133.6,180.4 L134.9,179.6 L136.0,183.5 L136.7,192.7 L137.5,203.5 L138.6,214.4 L139.8,223.6 L140.6,226.4 L141.0,226.8 L141.0,226.8 Z" fill="#8fa1c6" stroke="#4b5d88"/>
<path d="M133.5,226.8 L133.5,226.8 L134.4,226.4 L137.5,220.5 L139.8,211.3 L141.4,198.9 L142.4,186.5 L143.4,175.7 L144.0,173.9 L144.8,176.5 L145.7,188.1 L146.8,205.1 L148.0,219.0 L149.1,226.4 L149.6,226.8 L149.6,226.8 Z" fill="#d0587c" style="mix-blend-mode:multiply" stroke="#9c2f55"/>
</g>
<path d="M112.3,82.3v2.2M117.3,82.3v1.6M120.2,82.3v1.6M122.3,82.3v1.6M123.9,82.3v1.6M125.2,82.3v1.6M126.3,82.3v1.6M127.3,82.3v1.6M128.1,82.3v1.6M128.9,82.3v2.2M133.9,82.3v1.6M136.8,82.3v1.6M138.9,82.3v1.6M140.5,82.3v1.6M141.8,82.3v1.6M142.9,82.3v1.6M143.8,82.3v1.6M144.7,82.3v1.6M145.4,82.3v2.2M150.4,82.3v1.6M153.4,82.3v1.6M155.4,82.3v1.6M157.0,82.3v1.6M158.3,82.3v1.6M159.5,82.3v1.6M160.4,82.3v1.6M161.3,82.3v1.6M162.0,82.3v2.2M167.0,82.3v1.6M169.9,82.3v1.6M172.0,82.3v1.6M173.6,82.3v1.6M174.9,82.3v1.6M176.0,82.3v1.6M177.0,82.3v1.6M177.8,82.3v1.6" stroke="#222" stroke-width="0.7" fill="none"/>
<path d="M112.3,155.2v2.2M117.3,155.2v1.6M120.3,155.2v1.6M122.4,155.2v1.6M124.0,155.2v1.6M125.3,155.2v1.6M126.5,155.2v1.6M127.4,155.2v1.6M128.3,155.2v1.6M129.1,155.2v2.2M134.1,155.2v1.6M137.0,155.2v1.6M139.1,155.2v1.6M140.8,155.2v1.6M142.1,155.2v1.6M143.2,155.2v1.6M144.2,155.2v1.6M145.0,155.2v1.6M145.8,155.2v2.2M150.8,155.2v1.6M153.8,155.2v1.6M155.9,155.2v1.6M157.5,155.2v1.6M158.8,155.2v1.6M160.0,155.2v1.6M160.9,155.2v1.6M161.8,155.2v1.6M162.6,155.2v2.2M167.6,155.2v1.6M170.5,155.2v1.6M172.6,155.2v1.6M174.3,155.2v1.6M175.6,155.2v1.6M176.7,155.2v1.6M177.7,155.2v1.6M178.5,155.2v1.6" stroke="#222" stroke-width="0.7" fill="none"/>
<path d="M112.3,227v2.2M117.3,227v1.6M120.2,227v1.6M122.3,227v1.6M123.9,227v1.6M125.2,227v1.6M126.3,227v1.6M127.3,227v1.6M128.2,227v1.6M128.9,227v2.2M133.9,227v1.6M136.9,227v1.6M138.9,227v1.6M140.5,227v1.6M141.9,227v1.6M143.0,227v1.6M143.9,227v1.6M144.8,227v1.6M145.6,227v2.2M150.6,227v1.6M153.5,227v1.6M155.6,227v1.6M157.2,227v1.6M158.5,227v1.6M159.6,227v1.6M160.6,227v1.6M161.4,227v1.6M162.2,227v2.2M167.2,227v1.6M170.1,227v1.6M172.2,227v1.6M173.8,227v1.6M175.1,227v1.6M176.2,227v1.6M177.2,227v1.6M178.0,227v1.6" stroke="#222" stroke-width="0.7" fill="none"/>
<rect x="111.8" y="16.9" width="66.8" height="65.4" fill="none" stroke="#222" stroke-width="1"/>
<rect x="111.8" y="89.3" width="67.5" height="65.9" fill="none" stroke="#222" stroke-width="1"/>
<rect x="111.8" y="161.3" width="67" height="65.7" fill="none" stroke="#222" stroke-width="1"/>
<text transform="translate(32,209.7) rotate(-90)" font-size="8.4" textLength="15.9" lengthAdjust="spacingAndGlyphs">CD8</text>
<line x1="28.6" y1="234.3" x2="28.6" y2="218.012" stroke="#000" stroke-width="1.1"/>
<path d="M28.6,214.1 L26.40,219.50 L28.6,218.31 L30.80,219.50 Z" fill="#000"/>
<line x1="28.05" y1="234.3" x2="43" y2="234.3" stroke="#000" stroke-width="1.1"/>
<line x1="28.6" y1="234.3" x2="43.388" y2="234.3" stroke="#000" stroke-width="1.1"/>
<path d="M47.3,234.3 L41.90,232.10 L43.09,234.3 L41.90,236.50 Z" fill="#000"/>
<text x="51" y="238.8" font-size="7.3" textLength="35.3" lengthAdjust="spacingAndGlyphs">CMV-TCR</text>
<line x1="114.4" y1="236.1" x2="128.088" y2="236.1" stroke="#000" stroke-width="1.1"/>
<path d="M132,236.1 L126.60,233.90 L127.79,236.1 L126.60,238.30 Z" fill="#000"/>
<text x="136.2" y="238.6" font-size="7.4" textLength="29.6" lengthAdjust="spacingAndGlyphs">SLAMF7</text>
<text x="276.4" y="36.6" font-size="8.4" textLength="38.4" lengthAdjust="spacingAndGlyphs">CMV-CTL</text>
<line x1="224" y1="44.5" x2="285.8" y2="44.5" stroke="#a2a2a2" stroke-width="1"/>
<line x1="285.8" y1="44.5" x2="285.8" y2="109.3" stroke="#b4b4b4" stroke-width="1"/>
<line x1="224" y1="44.5" x2="224" y2="109.3" stroke="#c4c4c4" stroke-width="1"/>
<line x1="224" y1="109.3" x2="285.8" y2="109.3" stroke="#bdbdbd" stroke-width="1"/>
<line x1="223.5" y1="49.7" x2="225.2" y2="49.7" stroke="#777" stroke-width="0.8"/>
<line x1="223.5" y1="65.2" x2="225.2" y2="65.2" stroke="#777" stroke-width="0.8"/>
<line x1="223.5" y1="94.4" x2="225.2" y2="94.4" stroke="#777" stroke-width="0.8"/>
<line x1="223.5" y1="106.1" x2="225.2" y2="106.1" stroke="#777" stroke-width="0.8"/>
<line x1="223.7" y1="94.4" x2="224.8" y2="94.4" stroke="#222" stroke-width="1.6"/>
<line x1="236.4" y1="108.1" x2="236.4" y2="109.8" stroke="#777" stroke-width="0.8"/>
<line x1="262.3" y1="108.1" x2="262.3" y2="109.8" stroke="#777" stroke-width="0.8"/>
<line x1="279.6" y1="108.1" x2="279.6" y2="109.8" stroke="#777" stroke-width="0.8"/>
<line x1="235.4" y1="109.5" x2="237.4" y2="109.5" stroke="#222" stroke-width="1.4"/>
<line x1="248.3" y1="44.5" x2="248.3" y2="109.3" stroke="#444" stroke-width="1"/>
<line x1="224" y1="65.7" x2="285.8" y2="65.7" stroke="#6a6a6a" stroke-width="1.2"/>
<text x="283.9" y="51.5" font-size="8.6" textLength="13.5" lengthAdjust="spacingAndGlyphs" text-anchor="end">91.1</text>
<text transform="translate(218.1,89.5) rotate(-90)" font-size="8" textLength="14.6" lengthAdjust="spacingAndGlyphs">CD8</text>
<line x1="214.2" y1="118" x2="214.2" y2="100.912" stroke="#000" stroke-width="1.1"/>
<path d="M214.2,97 L212.00,102.40 L214.2,101.21 L216.40,102.40 Z" fill="#000"/>
<line x1="213.55" y1="117.7" x2="229.088" y2="117.7" stroke="#000" stroke-width="1.1"/>
<path d="M233,117.7 L227.60,115.50 L228.79,117.7 L227.60,119.90 Z" fill="#000"/>
<text x="235.4" y="121.5" font-size="8.2" textLength="36" lengthAdjust="spacingAndGlyphs">CMV-TCR</text>
<line x1="301.2" y1="44.5" x2="364.6" y2="44.5" stroke="#a2a2a2" stroke-width="1"/>
<line x1="364.6" y1="44.5" x2="364.6" y2="109.7" stroke="#b4b4b4" stroke-width="1"/>
<line x1="301.2" y1="44.5" x2="301.2" y2="109.7" stroke="#c4c4c4" stroke-width="1"/>
<line x1="301.2" y1="109.7" x2="364.6" y2="109.7" stroke="#bdbdbd" stroke-width="1"/>
<line x1="300.7" y1="49.7" x2="302.4" y2="49.7" stroke="#777" stroke-width="0.8"/>
<line x1="300.7" y1="65.4" x2="302.4" y2="65.4" stroke="#777" stroke-width="0.8"/>
<line x1="300.7" y1="94.7" x2="302.4" y2="94.7" stroke="#777" stroke-width="0.8"/>
<line x1="300.7" y1="106.4" x2="302.4" y2="106.4" stroke="#777" stroke-width="0.8"/>
<line x1="300.9" y1="94.7" x2="302.0" y2="94.7" stroke="#222" stroke-width="1.6"/>
<line x1="313.9" y1="108.5" x2="313.9" y2="110.2" stroke="#777" stroke-width="0.8"/>
<line x1="340.5" y1="108.5" x2="340.5" y2="110.2" stroke="#777" stroke-width="0.8"/>
<line x1="358.3" y1="108.5" x2="358.3" y2="110.2" stroke="#777" stroke-width="0.8"/>
<line x1="312.9" y1="109.9" x2="314.9" y2="109.9" stroke="#222" stroke-width="1.4"/>
<line x1="326.5" y1="44.5" x2="326.5" y2="109.7" stroke="#444" stroke-width="1"/>
<line x1="301.2" y1="86.7" x2="364.6" y2="86.7" stroke="#6a6a6a" stroke-width="1.2"/>
<text x="303.4" y="52.2" font-size="8.6" textLength="15" lengthAdjust="spacingAndGlyphs">11.4</text>
<text x="363.6" y="53" font-size="8.6" textLength="15.9" lengthAdjust="spacingAndGlyphs" text-anchor="end">88.6</text>
<text transform="translate(296.2,89.9) rotate(-90)" font-size="7.4" textLength="21.2" lengthAdjust="spacingAndGlyphs">eFluor</text>
<line x1="292.9" y1="117.3" x2="292.9" y2="100.81200000000001" stroke="#000" stroke-width="1.1"/>
<path d="M292.9,96.9 L290.70,102.30 L292.9,101.11 L295.10,102.30 Z" fill="#000"/>
<line x1="292.25" y1="117.3" x2="306.88800000000003" y2="117.3" stroke="#000" stroke-width="1.1"/>
<path d="M310.8,117.3 L305.40,115.10 L306.59,117.3 L305.40,119.50 Z" fill="#000"/>
<text x="317.1" y="120.1" font-size="8" textLength="29" lengthAdjust="spacingAndGlyphs">SLAMF7</text>
<line x1="445" y1="45" x2="510.7" y2="45" stroke="#a2a2a2" stroke-width="1"/>
<line x1="510.7" y1="45" x2="510.7" y2="111.8" stroke="#b4b4b4" stroke-width="1"/>
<line x1="445" y1="45" x2="445" y2="111.8" stroke="#c4c4c4" stroke-width="1"/>
<line x1="445" y1="111.8" x2="510.7" y2="111.8" stroke="#bdbdbd" stroke-width="1"/>
<line x1="444.5" y1="50.3" x2="446.2" y2="50.3" stroke="#777" stroke-width="0.8"/>
<line x1="444.5" y1="66.4" x2="446.2" y2="66.4" stroke="#777" stroke-width="0.8"/>
<line x1="444.5" y1="96.4" x2="446.2" y2="96.4" stroke="#777" stroke-width="0.8"/>
<line x1="444.5" y1="108.5" x2="446.2" y2="108.5" stroke="#777" stroke-width="0.8"/>
<line x1="444.7" y1="96.4" x2="445.8" y2="96.4" stroke="#222" stroke-width="1.6"/>
<line x1="458.1" y1="110.6" x2="458.1" y2="112.3" stroke="#777" stroke-width="0.8"/>
<line x1="485.7" y1="110.6" x2="485.7" y2="112.3" stroke="#777" stroke-width="0.8"/>
<line x1="504.1" y1="110.6" x2="504.1" y2="112.3" stroke="#777" stroke-width="0.8"/>
<line x1="457.1" y1="112.0" x2="459.1" y2="112.0" stroke="#222" stroke-width="1.4"/>
<line x1="471.6" y1="45" x2="471.6" y2="111.8" stroke="#444" stroke-width="1"/>
<line x1="445" y1="87.8" x2="510.7" y2="87.8" stroke="#6a6a6a" stroke-width="1.2"/>
<text x="447" y="52.4" font-size="8.6" textLength="16.3" lengthAdjust="spacingAndGlyphs">62.2</text>
<text x="508.8" y="52.4" font-size="8.6" textLength="15.4" lengthAdjust="spacingAndGlyphs" text-anchor="end">37.8</text>
<text x="401" y="69" font-size="8" textLength="45.6" lengthAdjust="spacingAndGlyphs" text-anchor="middle" font-weight="bold">+ SLAMF7-</text>
<text x="401" y="79.3" font-size="8.2" textLength="18.8" lengthAdjust="spacingAndGlyphs" text-anchor="middle" font-weight="bold">CAR</text>
<text x="401" y="89.7" font-size="8.3" textLength="27" lengthAdjust="spacingAndGlyphs" text-anchor="middle" font-weight="bold">T cells</text>
<text transform="translate(440.4,92) rotate(-90)" font-size="7.4" textLength="21.2" lengthAdjust="spacingAndGlyphs">eFluor</text>
<line x1="434.1" y1="116.8" x2="434.1" y2="102.212" stroke="#000" stroke-width="1.1"/>
<path d="M434.1,98.3 L431.90,103.70 L434.1,102.51 L436.30,103.70 Z" fill="#000"/>
<line x1="433.55" y1="116.8" x2="448.088" y2="116.8" stroke="#000" stroke-width="1.1"/>
<path d="M452,116.8 L446.60,114.60 L447.79,116.8 L446.60,119.00 Z" fill="#000"/>
<text x="462" y="119.3" font-size="7.4" textLength="28" lengthAdjust="spacingAndGlyphs">SLAMF7</text>
<text x="374.8" y="138.5" font-size="8" textLength="27.3" lengthAdjust="spacingAndGlyphs" font-weight="bold">+ pp65</text>
<g stroke="#000" stroke-width="1.2" stroke-dasharray="3.3,1.5" fill="none">
<path d="M314.3,86.7 L314.3,138 L280,138 L280,145"/>
<path d="M347.2,86.7 L347.2,145"/>
<path d="M457.7,87.8 L457.7,138.5 L426.4,138.5 L426.4,145"/>
<path d="M495.9,87.8 L495.9,145"/>
</g>
<path d="M280,150.6 L276.5,144.1 L283.5,144.1 Z" fill="#000"/>
<path d="M347.2,150.6 L343.7,144.1 L350.7,144.1 Z" fill="#000"/>
<path d="M426.4,151.3 L422.9,144.8 L429.9,144.8 Z" fill="#000"/>
<path d="M495.9,151.3 L492.4,144.8 L499.4,144.8 Z" fill="#000"/>
<line x1="225.5" y1="152.8" x2="288" y2="152.8" stroke="#a2a2a2" stroke-width="1"/>
<line x1="288" y1="152.8" x2="288" y2="218.3" stroke="#b4b4b4" stroke-width="1"/>
<line x1="225.5" y1="152.8" x2="225.5" y2="218.3" stroke="#c4c4c4" stroke-width="1"/>
<line x1="225.5" y1="218.3" x2="288" y2="218.3" stroke="#bdbdbd" stroke-width="1"/>
<line x1="225.0" y1="158.0" x2="226.7" y2="158.0" stroke="#777" stroke-width="0.8"/>
<line x1="225.0" y1="173.8" x2="226.7" y2="173.8" stroke="#777" stroke-width="0.8"/>
<line x1="225.0" y1="203.2" x2="226.7" y2="203.2" stroke="#777" stroke-width="0.8"/>
<line x1="225.0" y1="215.0" x2="226.7" y2="215.0" stroke="#777" stroke-width="0.8"/>
<line x1="225.2" y1="203.2" x2="226.3" y2="203.2" stroke="#222" stroke-width="1.6"/>
<line x1="238.0" y1="217.10000000000002" x2="238.0" y2="218.8" stroke="#777" stroke-width="0.8"/>
<line x1="264.2" y1="217.10000000000002" x2="264.2" y2="218.8" stroke="#777" stroke-width="0.8"/>
<line x1="281.8" y1="217.10000000000002" x2="281.8" y2="218.8" stroke="#777" stroke-width="0.8"/>
<line x1="237.0" y1="218.5" x2="239.0" y2="218.5" stroke="#222" stroke-width="1.4"/>
<line x1="257.8" y1="152.8" x2="257.8" y2="218.3" stroke="#444" stroke-width="1"/>
<line x1="225.5" y1="194" x2="288" y2="194" stroke="#6a6a6a" stroke-width="1.2"/>
<text x="228.1" y="161.9" font-size="8.6" textLength="15.6" lengthAdjust="spacingAndGlyphs">57.3</text>
<text x="285.6" y="161.9" font-size="8.6" textLength="15.4" lengthAdjust="spacingAndGlyphs" text-anchor="end">42.7</text>
<line x1="290" y1="152.8" x2="352.5" y2="152.8" stroke="#a2a2a2" stroke-width="1"/>
<line x1="352.5" y1="152.8" x2="352.5" y2="218.3" stroke="#b4b4b4" stroke-width="1"/>
<line x1="290" y1="152.8" x2="290" y2="218.3" stroke="#c4c4c4" stroke-width="1"/>
<line x1="290" y1="218.3" x2="352.5" y2="218.3" stroke="#bdbdbd" stroke-width="1"/>
<line x1="289.5" y1="158.0" x2="291.2" y2="158.0" stroke="#777" stroke-width="0.8"/>
<line x1="289.5" y1="173.8" x2="291.2" y2="173.8" stroke="#777" stroke-width="0.8"/>
<line x1="289.5" y1="203.2" x2="291.2" y2="203.2" stroke="#777" stroke-width="0.8"/>
<line x1="289.5" y1="215.0" x2="291.2" y2="215.0" stroke="#777" stroke-width="0.8"/>
<line x1="289.7" y1="203.2" x2="290.8" y2="203.2" stroke="#222" stroke-width="1.6"/>
<line x1="302.5" y1="217.10000000000002" x2="302.5" y2="218.8" stroke="#777" stroke-width="0.8"/>
<line x1="328.8" y1="217.10000000000002" x2="328.8" y2="218.8" stroke="#777" stroke-width="0.8"/>
<line x1="346.2" y1="217.10000000000002" x2="346.2" y2="218.8" stroke="#777" stroke-width="0.8"/>
<line x1="301.5" y1="218.5" x2="303.5" y2="218.5" stroke="#222" stroke-width="1.4"/>
<line x1="322.6" y1="152.8" x2="322.6" y2="218.3" stroke="#444" stroke-width="1"/>
<line x1="290" y1="194.3" x2="352.5" y2="194.3" stroke="#6a6a6a" stroke-width="1.2"/>
<text x="292.3" y="161.9" font-size="8.6" textLength="15.4" lengthAdjust="spacingAndGlyphs">47.5</text>
<text x="350.6" y="161.9" font-size="8.6" textLength="15.4" lengthAdjust="spacingAndGlyphs" text-anchor="end">52.5</text>
<text transform="translate(220,193.2) rotate(-90)" font-size="7.6" textLength="22.4" lengthAdjust="spacingAndGlyphs">eFluor</text>
<line x1="217.3" y1="225.9" x2="217.3" y2="200.71200000000002" stroke="#000" stroke-width="1.1"/>
<path d="M217.3,196.8 L215.10,202.20 L217.3,201.01 L219.50,202.20 Z" fill="#000"/>
<line x1="216.75" y1="225.9" x2="268" y2="225.9" stroke="#000" stroke-width="1.1"/>
<text x="276" y="227.5" font-size="7.3" textLength="17.6" lengthAdjust="spacingAndGlyphs">IFN-γ</text>
<line x1="301.6" y1="225.9" x2="340.088" y2="225.9" stroke="#000" stroke-width="1.1"/>
<path d="M344,225.9 L338.60,223.70 L339.79,225.9 L338.60,228.10 Z" fill="#000"/>
<line x1="385.2" y1="152.6" x2="448.2" y2="152.6" stroke="#a2a2a2" stroke-width="1"/>
<line x1="448.2" y1="152.6" x2="448.2" y2="216.8" stroke="#b4b4b4" stroke-width="1"/>
<line x1="385.2" y1="152.6" x2="385.2" y2="216.8" stroke="#c4c4c4" stroke-width="1"/>
<line x1="385.2" y1="216.8" x2="448.2" y2="216.8" stroke="#bdbdbd" stroke-width="1"/>
<line x1="384.7" y1="157.7" x2="386.4" y2="157.7" stroke="#777" stroke-width="0.8"/>
<line x1="384.7" y1="173.1" x2="386.4" y2="173.1" stroke="#777" stroke-width="0.8"/>
<line x1="384.7" y1="202.0" x2="386.4" y2="202.0" stroke="#777" stroke-width="0.8"/>
<line x1="384.7" y1="213.6" x2="386.4" y2="213.6" stroke="#777" stroke-width="0.8"/>
<line x1="384.9" y1="202.0" x2="386.0" y2="202.0" stroke="#222" stroke-width="1.6"/>
<line x1="397.8" y1="215.60000000000002" x2="397.8" y2="217.3" stroke="#777" stroke-width="0.8"/>
<line x1="424.3" y1="215.60000000000002" x2="424.3" y2="217.3" stroke="#777" stroke-width="0.8"/>
<line x1="441.9" y1="215.60000000000002" x2="441.9" y2="217.3" stroke="#777" stroke-width="0.8"/>
<line x1="396.8" y1="217.0" x2="398.8" y2="217.0" stroke="#222" stroke-width="1.4"/>
<line x1="417.7" y1="152.6" x2="417.7" y2="216.8" stroke="#444" stroke-width="1"/>
<line x1="385.2" y1="193.6" x2="448.2" y2="193.6" stroke="#6a6a6a" stroke-width="1.2"/>
<text x="388.6" y="161.8" font-size="8.6" textLength="15.8" lengthAdjust="spacingAndGlyphs">37.2</text>
<text x="446.4" y="161.8" font-size="8.6" textLength="16.2" lengthAdjust="spacingAndGlyphs" text-anchor="end">62.8</text>
<line x1="450.2" y1="152.8" x2="512.2" y2="152.8" stroke="#a2a2a2" stroke-width="1"/>
<line x1="512.2" y1="152.8" x2="512.2" y2="216.8" stroke="#b4b4b4" stroke-width="1"/>
<line x1="450.2" y1="152.8" x2="450.2" y2="216.8" stroke="#c4c4c4" stroke-width="1"/>
<line x1="450.2" y1="216.8" x2="512.2" y2="216.8" stroke="#bdbdbd" stroke-width="1"/>
<line x1="449.7" y1="157.9" x2="451.4" y2="157.9" stroke="#777" stroke-width="0.8"/>
<line x1="449.7" y1="173.3" x2="451.4" y2="173.3" stroke="#777" stroke-width="0.8"/>
<line x1="449.7" y1="202.1" x2="451.4" y2="202.1" stroke="#777" stroke-width="0.8"/>
<line x1="449.7" y1="213.6" x2="451.4" y2="213.6" stroke="#777" stroke-width="0.8"/>
<line x1="449.9" y1="202.1" x2="451.0" y2="202.1" stroke="#222" stroke-width="1.6"/>
<line x1="462.6" y1="215.60000000000002" x2="462.6" y2="217.3" stroke="#777" stroke-width="0.8"/>
<line x1="488.6" y1="215.60000000000002" x2="488.6" y2="217.3" stroke="#777" stroke-width="0.8"/>
<line x1="506.0" y1="215.60000000000002" x2="506.0" y2="217.3" stroke="#777" stroke-width="0.8"/>
<line x1="461.6" y1="217.0" x2="463.6" y2="217.0" stroke="#222" stroke-width="1.4"/>
<line x1="482.4" y1="152.8" x2="482.4" y2="216.8" stroke="#444" stroke-width="1"/>
<line x1="450.2" y1="193.6" x2="512.2" y2="193.6" stroke="#6a6a6a" stroke-width="1.2"/>
<text x="451.9" y="161.8" font-size="8.6" textLength="15.6" lengthAdjust="spacingAndGlyphs">33.9</text>
<text x="511.5" y="161.7" font-size="8.6" textLength="14.9" lengthAdjust="spacingAndGlyphs" text-anchor="end">66.1</text>

<text transform="translate(379.6,192.6) rotate(-90)" font-size="7.6" textLength="22.4" lengthAdjust="spacingAndGlyphs">eFluor</text>
<line x1="376.8" y1="225.3" x2="376.8" y2="201.71200000000002" stroke="#000" stroke-width="1.1"/>
<path d="M376.8,197.8 L374.60,203.20 L376.8,202.01 L379.00,203.20 Z" fill="#000"/>
<line x1="376.25" y1="225.3" x2="425" y2="225.3" stroke="#000" stroke-width="1.1"/>
<text x="433" y="227.6" font-size="7.3" textLength="17.6" lengthAdjust="spacingAndGlyphs">IFN-γ</text>
<line x1="462" y1="225.3" x2="499.088" y2="225.3" stroke="#000" stroke-width="1.1"/>
<path d="M503,225.3 L497.60,223.10 L498.79,225.3 L497.60,227.50 Z" fill="#000"/>
<rect x="47.9" y="336" width="30" height="12.8" fill="#2c4980"/>
<rect x="47.9" y="348.8" width="30" height="7.6" fill="#a8012a"/>
<rect x="91" y="286.4" width="29.5" height="8" fill="#2c4980"/>
<rect x="91" y="294.3" width="29.5" height="62" fill="#a8012a"/>
<rect x="133.8" y="280" width="30" height="12.4" fill="#2c4980"/>
<rect x="133.8" y="292.4" width="30" height="63.9" fill="#a8012a"/>
<line x1="44.1" y1="280.2" x2="164" y2="280.2" stroke="#000" stroke-width="1.1" stroke-dasharray="1.3,1.4"/>
<line x1="41.3" y1="277.1" x2="41.3" y2="356.9" stroke="#000" stroke-width="1.2"/>
<line x1="38.4" y1="356.4" x2="170.4" y2="356.4" stroke="#000" stroke-width="1.2"/>
<line x1="38.2" y1="280.2" x2="41.3" y2="280.2" stroke="#000" stroke-width="1.1"/>
<line x1="38.2" y1="295.4" x2="41.3" y2="295.4" stroke="#000" stroke-width="1.1"/>
<line x1="38.2" y1="310.7" x2="41.3" y2="310.7" stroke="#000" stroke-width="1.1"/>
<line x1="38.2" y1="325.9" x2="41.3" y2="325.9" stroke="#000" stroke-width="1.1"/>
<line x1="38.2" y1="341.2" x2="41.3" y2="341.2" stroke="#000" stroke-width="1.1"/>
<text x="35.3" y="282.3" font-size="6.4" text-anchor="end" style="stroke-width:0.08px">100</text>
<text x="35.3" y="297.5" font-size="6.4" text-anchor="end" style="stroke-width:0.08px">80</text>
<text x="35.3" y="312.8" font-size="6.4" text-anchor="end" style="stroke-width:0.08px">60</text>
<text x="35.3" y="328.0" font-size="6.4" text-anchor="end" style="stroke-width:0.08px">40</text>
<text x="35.3" y="343.3" font-size="6.4" text-anchor="end" style="stroke-width:0.08px">20</text>
<text x="35.3" y="358.5" font-size="6.4" text-anchor="end" style="stroke-width:0.08px">0</text>
<text transform="translate(22.7,315.5) rotate(-90)" font-size="7.9" textLength="49.2" lengthAdjust="spacingAndGlyphs" text-anchor="middle">Live cells (%)</text>
<text x="63.2" y="365.5" font-size="6.8" textLength="34.2" lengthAdjust="spacingAndGlyphs" text-anchor="middle" style="stroke-width:0.08px">+ SLAMF7-</text>
<text x="63" y="373" font-size="6.8" text-anchor="middle" style="stroke-width:0.08px">CAR</text>
<text x="106.3" y="365.5" font-size="6.8" textLength="25.5" lengthAdjust="spacingAndGlyphs" text-anchor="middle" style="stroke-width:0.08px">+ control</text>
<text x="148.6" y="365.6" font-size="6.8" textLength="16.8" lengthAdjust="spacingAndGlyphs" text-anchor="middle" style="stroke-width:0.08px">target</text>
<text x="148.5" y="372.9" font-size="6.8" textLength="27.4" lengthAdjust="spacingAndGlyphs" text-anchor="middle" style="stroke-width:0.08px">cells only</text>
<rect x="221.6" y="276" width="10.3" height="4" fill="#a8012a"/>
<text x="235.4" y="280.2" font-size="6" textLength="26.3" lengthAdjust="spacingAndGlyphs" style="stroke-width:0.08px">SLAMF7+</text>
<rect x="272.2" y="275.8" width="10.4" height="4.2" fill="#2c4980"/>
<text x="285.9" y="280.2" font-size="6" textLength="25.5" lengthAdjust="spacingAndGlyphs" style="stroke-width:0.08px">SLAMF7-</text>
<line x1="221" y1="302" x2="221" y2="295" stroke="#000" stroke-width="1"/>
<line x1="218.6" y1="295.2" x2="223.4" y2="295.2" stroke="#000" stroke-width="1.1"/>
<line x1="237" y1="302" x2="237" y2="297.4" stroke="#000" stroke-width="1"/>
<line x1="234.6" y1="297.59999999999997" x2="239.4" y2="297.59999999999997" stroke="#000" stroke-width="1.1"/>
<line x1="264" y1="296" x2="264" y2="287.5" stroke="#000" stroke-width="1"/>
<line x1="261.6" y1="287.7" x2="266.4" y2="287.7" stroke="#000" stroke-width="1.1"/>
<line x1="280" y1="307" x2="280" y2="300.3" stroke="#000" stroke-width="1"/>
<line x1="277.6" y1="300.5" x2="282.4" y2="300.5" stroke="#000" stroke-width="1.1"/>
<line x1="306.7" y1="307" x2="306.7" y2="295.4" stroke="#000" stroke-width="1"/>
<line x1="304.3" y1="295.59999999999997" x2="309.09999999999997" y2="295.59999999999997" stroke="#000" stroke-width="1.1"/>
<line x1="322.7" y1="314.5" x2="322.7" y2="302.6" stroke="#000" stroke-width="1"/>
<line x1="320.3" y1="302.8" x2="325.09999999999997" y2="302.8" stroke="#000" stroke-width="1.1"/>
<rect x="215" y="302.2" width="11.8" height="54.2" fill="#a8012a"/>
<rect x="231" y="301.7" width="11.7" height="54.7" fill="#2c4980"/>
<rect x="257.9" y="296.5" width="11.9" height="59.9" fill="#a8012a"/>
<rect x="274.2" y="307.3" width="11.7" height="49.1" fill="#2c4980"/>
<rect x="300.8" y="307" width="11.8" height="49.4" fill="#a8012a"/>
<rect x="316.8" y="314.7" width="11.9" height="41.7" fill="#2c4980"/>
<line x1="207.4" y1="277.6" x2="207.4" y2="356.9" stroke="#000" stroke-width="1.2"/>
<line x1="204.2" y1="356.4" x2="330.8" y2="356.4" stroke="#000" stroke-width="1.2"/>
<line x1="204.2" y1="280.3" x2="207.4" y2="280.3" stroke="#000" stroke-width="1.1"/>
<line x1="204.2" y1="295.5" x2="207.4" y2="295.5" stroke="#000" stroke-width="1.1"/>
<line x1="204.2" y1="310.7" x2="207.4" y2="310.7" stroke="#000" stroke-width="1.1"/>
<line x1="204.2" y1="326.0" x2="207.4" y2="326.0" stroke="#000" stroke-width="1.1"/>
<line x1="204.2" y1="341.2" x2="207.4" y2="341.2" stroke="#000" stroke-width="1.1"/>
<text x="201.5" y="282.4" font-size="6.4" text-anchor="end" style="stroke-width:0.08px">100</text>
<text x="201.5" y="297.6" font-size="6.4" text-anchor="end" style="stroke-width:0.08px">80</text>
<text x="201.5" y="312.8" font-size="6.4" text-anchor="end" style="stroke-width:0.08px">60</text>
<text x="201.5" y="328.1" font-size="6.4" text-anchor="end" style="stroke-width:0.08px">40</text>
<text x="201.5" y="343.3" font-size="6.4" text-anchor="end" style="stroke-width:0.08px">20</text>
<text x="201.5" y="358.5" font-size="6.4" text-anchor="end" style="stroke-width:0.08px">0</text>
<text transform="translate(188,318.2) rotate(-90)" font-size="7.4" textLength="81" lengthAdjust="spacingAndGlyphs" text-anchor="middle">IFN-γ secreting cells (%)</text>
<text x="229.2" y="365.5" font-size="6.8" textLength="34" lengthAdjust="spacingAndGlyphs" text-anchor="middle" style="stroke-width:0.08px">+ SLAMF7-</text>
<text x="229.2" y="373" font-size="6.8" text-anchor="middle" style="stroke-width:0.08px">CAR</text>
<text x="272.3" y="365.5" font-size="6.8" textLength="25.8" lengthAdjust="spacingAndGlyphs" text-anchor="middle" style="stroke-width:0.08px">+ control</text>
<text x="313.9" y="365.6" font-size="6.8" textLength="15.6" lengthAdjust="spacingAndGlyphs" text-anchor="middle" style="stroke-width:0.08px">target</text>
<text x="314.6" y="372.9" font-size="6.8" textLength="27.3" lengthAdjust="spacingAndGlyphs" text-anchor="middle" style="stroke-width:0.08px">cells only</text>
<line x1="386.6" y1="277.5" x2="386.6" y2="357.4" stroke="#000" stroke-width="1.2"/>
<line x1="384" y1="356.8" x2="463" y2="356.8" stroke="#000" stroke-width="1.2"/>
<line x1="383.7" y1="280.3" x2="386.6" y2="280.3" stroke="#000" stroke-width="1.1"/>
<line x1="383.7" y1="295.6" x2="386.6" y2="295.6" stroke="#000" stroke-width="1.1"/>
<line x1="383.7" y1="310.9" x2="386.6" y2="310.9" stroke="#000" stroke-width="1.1"/>
<line x1="383.7" y1="326.2" x2="386.6" y2="326.2" stroke="#000" stroke-width="1.1"/>
<line x1="383.7" y1="341.5" x2="386.6" y2="341.5" stroke="#000" stroke-width="1.1"/>
<text x="380.8" y="282.4" font-size="6.1" text-anchor="end" style="stroke-width:0.08px">25</text>
<text x="380.8" y="297.7" font-size="6.1" text-anchor="end" style="stroke-width:0.08px">20</text>
<text x="380.8" y="313.0" font-size="6.1" text-anchor="end" style="stroke-width:0.08px">15</text>
<text x="380.8" y="328.3" font-size="6.1" text-anchor="end" style="stroke-width:0.08px">10</text>
<text x="380.8" y="343.6" font-size="6.1" text-anchor="end" style="stroke-width:0.08px">5</text>
<text x="380.8" y="358.9" font-size="6.1" text-anchor="end" style="stroke-width:0.08px">0</text>
<line x1="405.4" y1="356.8" x2="405.4" y2="359.8" stroke="#000" stroke-width="1.1"/>
<line x1="444.2" y1="356.8" x2="444.2" y2="359.8" stroke="#000" stroke-width="1.1"/>
<text x="405.5" y="368.8" font-size="6.3" text-anchor="middle" style="stroke-width:0.08px">0</text>
<text x="444.1" y="368.8" font-size="6.3" text-anchor="middle" style="stroke-width:0.08px">14</text>
<g stroke="#222" stroke-width="0.9">
<line x1="444.2" y1="295.4" x2="444.2" y2="306" stroke="#333" stroke-width="0.9"/>
<line x1="444.2" y1="318" x2="444.2" y2="341.2" stroke="#333" stroke-width="0.9"/>
<line x1="442.3" y1="295.6" x2="446.1" y2="295.6" stroke="#222" stroke-width="1"/>
<line x1="442.3" y1="341.2" x2="446.1" y2="341.2" stroke="#222" stroke-width="1"/>
</g>
<line x1="405.4" y1="353.8" x2="444.2" y2="307.2" stroke="#2b4a80" stroke-width="1.05"/>
<line x1="405.4" y1="353.8" x2="444.2" y2="316.7" stroke="#931a3a" stroke-width="1.05"/>
<circle cx="405.4" cy="353.8" r="1.7" fill="#2b4a80"/>
<circle cx="444.2" cy="307.2" r="1.7" fill="#2b4a80"/>
<circle cx="444.2" cy="316.7" r="1.7" fill="#931a3a"/>
<path d="M450,306.6 L452.4,306.6 L452.4,317 L450,317" stroke="#111" stroke-width="1.1" fill="none"/>
<text x="453.8" y="313.8" font-size="5.5" textLength="6.8" lengthAdjust="spacingAndGlyphs" style="stroke-width:0.08px">ns.</text>
<line x1="388.5" y1="282" x2="397.1" y2="282" stroke="#931a3a" stroke-width="1.2"/>
<circle cx="392.6" cy="282" r="1.5" fill="#931a3a"/>
<text x="400.6" y="284.2" font-size="5.8" textLength="38" lengthAdjust="spacingAndGlyphs" style="stroke-width:0.08px">SLAMF7-CAR</text>
<line x1="388.5" y1="290.4" x2="397.1" y2="290.4" stroke="#2b4a80" stroke-width="1.2"/>
<circle cx="392.6" cy="290.4" r="1.5" fill="#2b4a80"/>
<text x="400.6" y="292.4" font-size="5.8" textLength="18.6" lengthAdjust="spacingAndGlyphs" style="stroke-width:0.08px">control</text>
<text transform="translate(367.1,317.6) rotate(-90)" font-size="7.2" textLength="51" lengthAdjust="spacingAndGlyphs" text-anchor="middle">Fold expansion</text>
<text x="425.3" y="381.5" font-size="8.4" textLength="71.6" lengthAdjust="spacingAndGlyphs" text-anchor="middle">Day after stimulation</text>
<text x="425.1" y="391.5" font-size="8.4" textLength="34.6" lengthAdjust="spacingAndGlyphs" text-anchor="middle">with pp65</text>
<rect x="0.5" y="0.5" width="519" height="400" fill="none" stroke="#000" stroke-width="1"/>
<line x1="1" y1="1.5" x2="519" y2="1.5" stroke="#000" stroke-opacity="0.3" stroke-width="1"/>
<line x1="1.5" y1="1" x2="1.5" y2="400" stroke="#000" stroke-opacity="0.15" stroke-width="1"/>
<line x1="518.5" y1="1" x2="518.5" y2="400" stroke="#000" stroke-opacity="0.6" stroke-width="1"/>
<line x1="1" y1="399.5" x2="519" y2="399.5" stroke="#000" stroke-opacity="0.6" stroke-width="1"/>
</svg>
</body></html>
